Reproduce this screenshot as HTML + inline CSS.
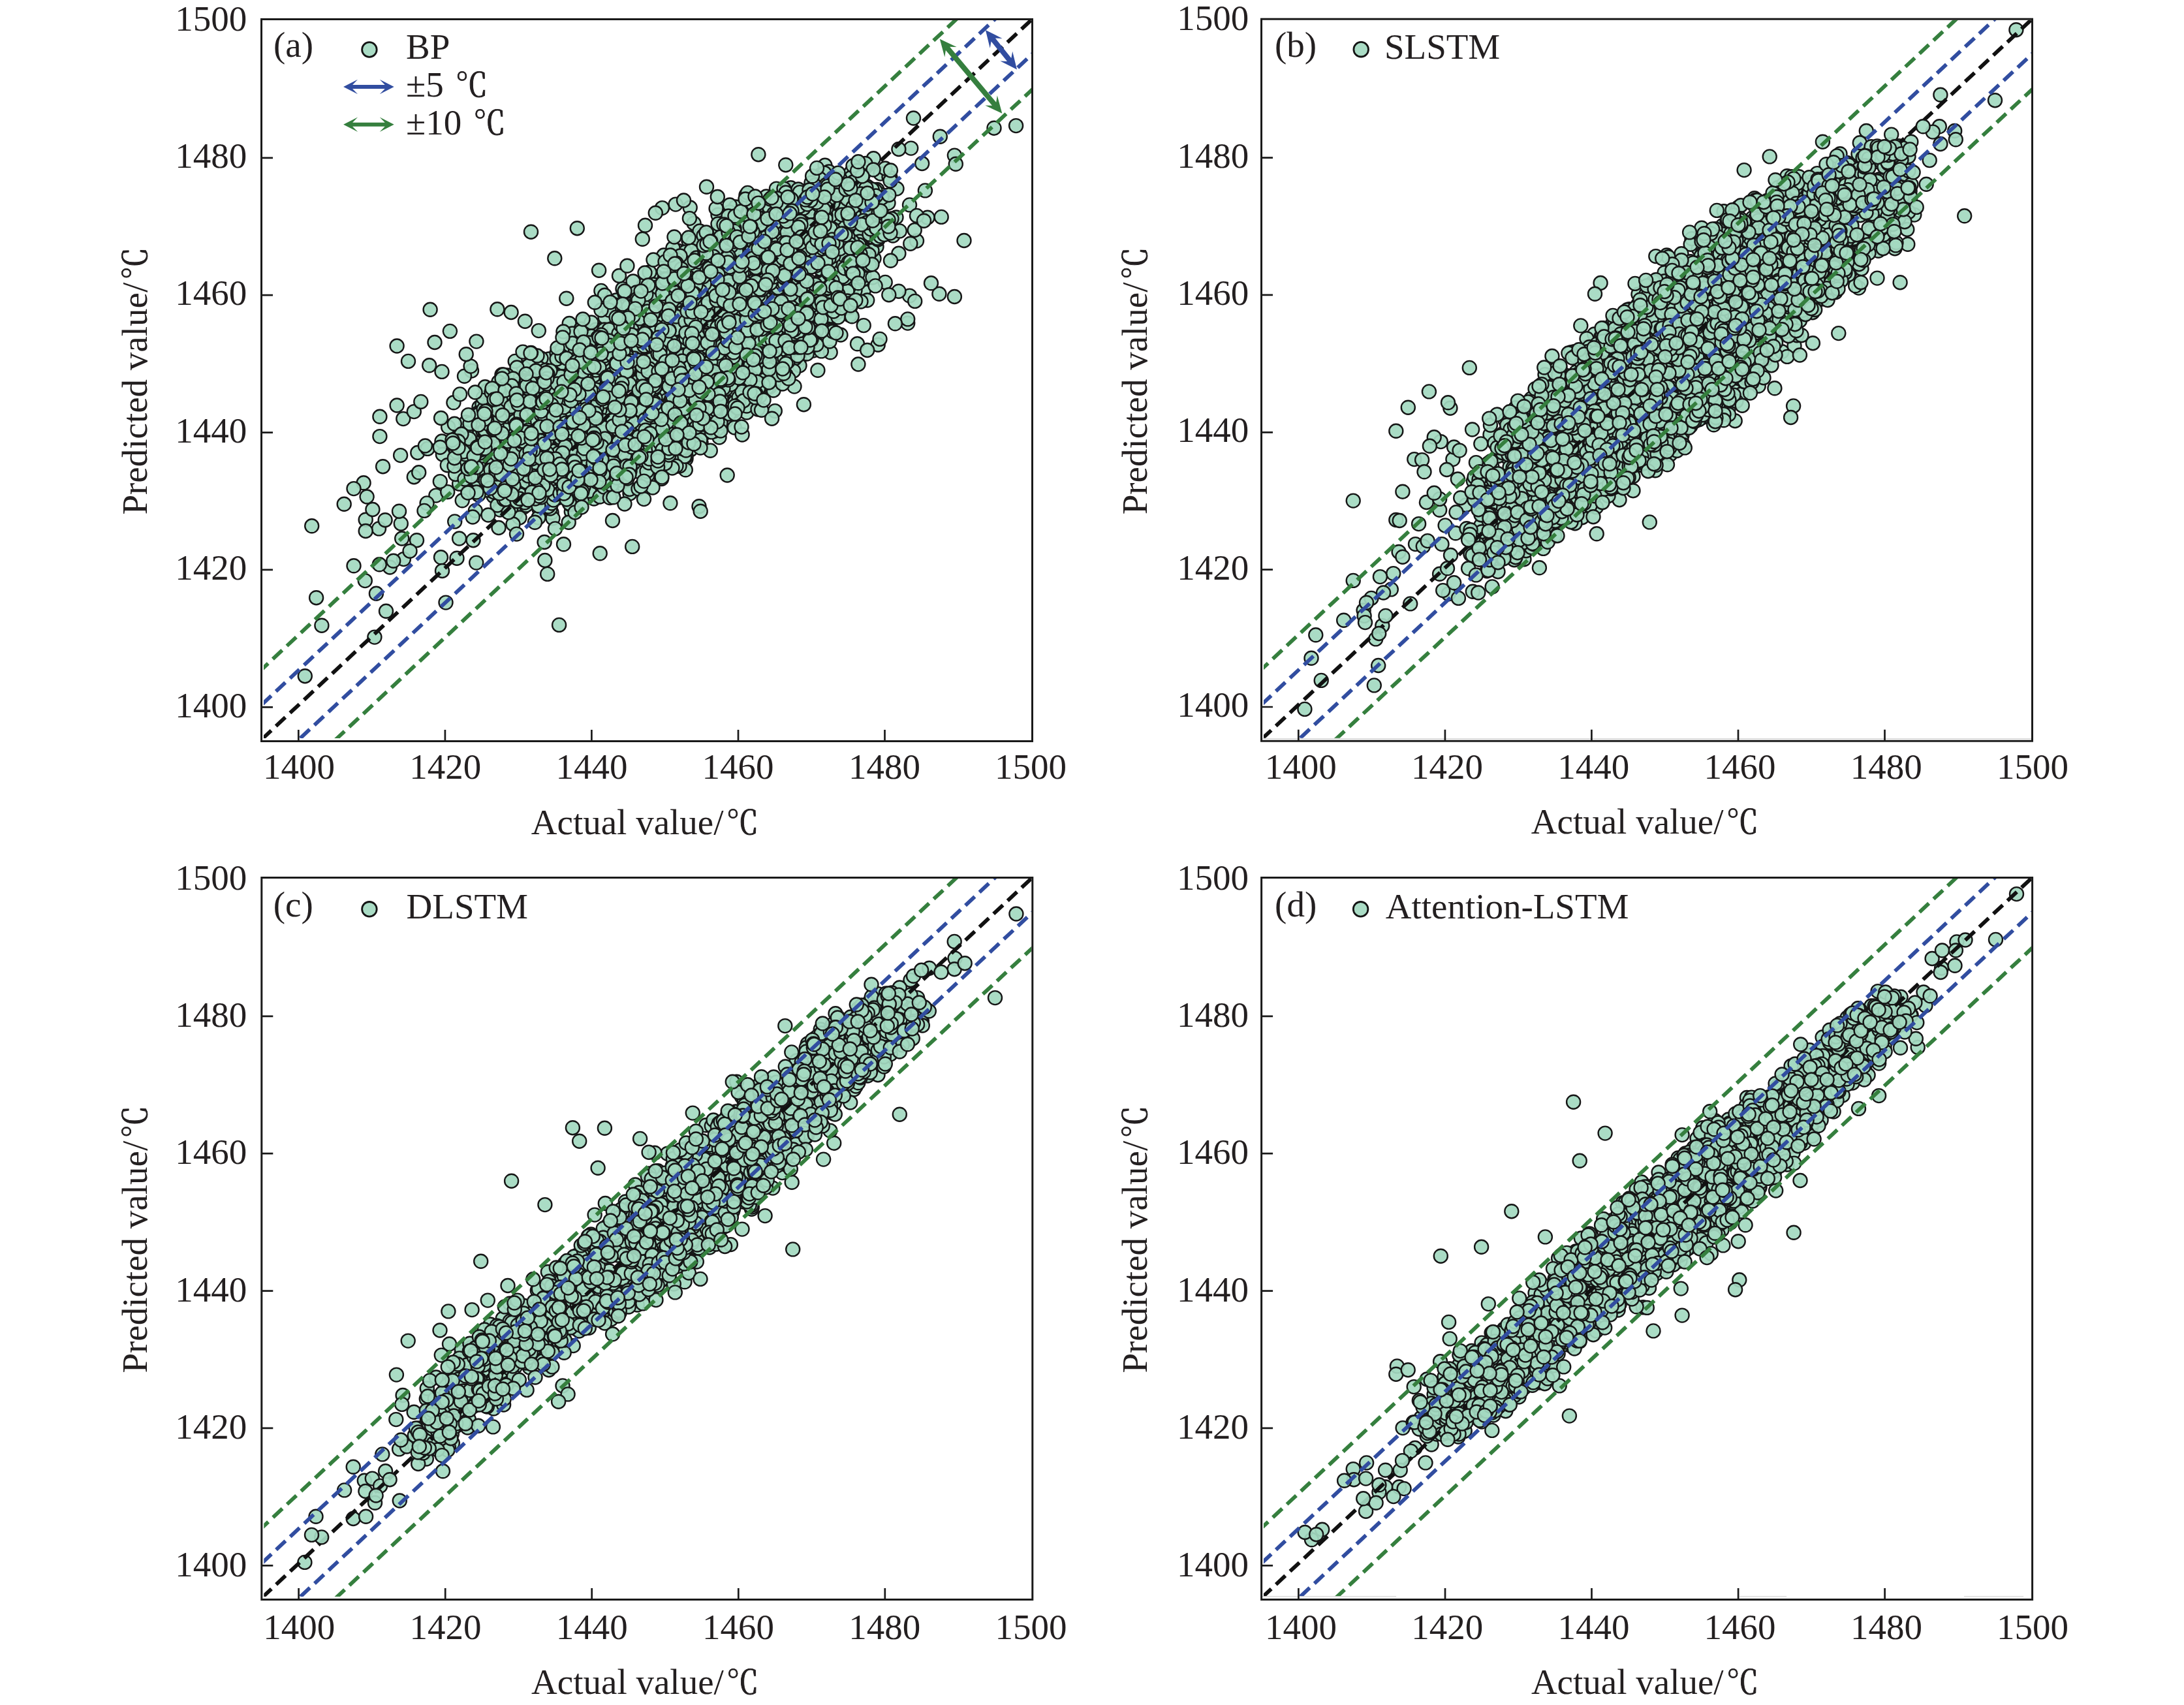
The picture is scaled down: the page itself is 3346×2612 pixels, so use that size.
<!DOCTYPE html>
<html lang="en"><head><meta charset="utf-8"><title>Predicted value vs actual value</title>
<style>html,body{margin:0;padding:0;background:#fff}svg{display:block}text{font-family:"Liberation Serif","Noto Serif CJK SC",serif;font-size:55px;fill:#231f20}.c{font-family:"Noto Serif CJK SC","Liberation Serif",serif;font-size:50px;stroke:#231f20;stroke-width:.9px}.p{fill:#a4d9c1;fill-opacity:.93;stroke:#161616;stroke-width:2.4}.ax{fill:none;stroke:#1a1a1a;stroke-width:3}.tk{stroke:#1a1a1a;stroke-width:2.7}.dl{fill:none;stroke-width:5.8;stroke-dasharray:19.7 9.8}</style></head><body>
<svg width="3346" height="2612" viewBox="0 0 3346 2612">
<rect width="3346" height="2612" fill="#fff"/>
<defs><clipPath id="cl"><rect x="404.0" y="31.0" width="1176.0" height="1100.0"/></clipPath></defs>
<g transform="translate(0,0)">
<g class="p"><circle cx="1004" cy="631" r="10.5"/><circle cx="998" cy="513" r="10.5"/><circle cx="940" cy="622" r="10.5"/><circle cx="821" cy="675" r="10.5"/><circle cx="841" cy="709" r="10.5"/><circle cx="1121" cy="513" r="10.5"/><circle cx="1068" cy="458" r="10.5"/><circle cx="1247" cy="489" r="10.5"/><circle cx="1045" cy="648" r="10.5"/><circle cx="901" cy="604" r="10.5"/><circle cx="1063" cy="342" r="10.5"/><circle cx="1018" cy="476" r="10.5"/><circle cx="1027" cy="425" r="10.5"/><circle cx="1165" cy="512" r="10.5"/><circle cx="760" cy="686" r="10.5"/><circle cx="770" cy="746" r="10.5"/><circle cx="849" cy="751" r="10.5"/><circle cx="1099" cy="390" r="10.5"/><circle cx="900" cy="593" r="10.5"/><circle cx="914" cy="711" r="10.5"/><circle cx="835" cy="584" r="10.5"/><circle cx="865" cy="629" r="10.5"/><circle cx="560.2" cy="796.2" r="10.5"/><circle cx="834" cy="591" r="10.5"/><circle cx="858" cy="715" r="10.5"/><circle cx="769" cy="574" r="10.5"/><circle cx="1046" cy="395" r="10.5"/><circle cx="1304" cy="400" r="10.5"/><circle cx="880" cy="689" r="10.5"/><circle cx="819" cy="629" r="10.5"/><circle cx="1071" cy="375" r="10.5"/><circle cx="1412.7" cy="250.5" r="10.5"/><circle cx="964" cy="572" r="10.5"/><circle cx="1119" cy="464" r="10.5"/><circle cx="1060" cy="364" r="10.5"/><circle cx="802" cy="647" r="10.5"/><circle cx="1167" cy="382" r="10.5"/><circle cx="1251" cy="278" r="10.5"/><circle cx="821" cy="669" r="10.5"/><circle cx="1263.9" cy="253.3" r="10.5"/><circle cx="1251" cy="353" r="10.5"/><circle cx="1251" cy="316" r="10.5"/><circle cx="953" cy="559" r="10.5"/><circle cx="1320" cy="330" r="10.5"/><circle cx="1302" cy="291" r="10.5"/><circle cx="755" cy="640" r="10.5"/><circle cx="1041" cy="629" r="10.5"/><circle cx="1272.2" cy="539.8" r="10.5"/><circle cx="1198" cy="308" r="10.5"/><circle cx="939" cy="502" r="10.5"/><circle cx="938" cy="714" r="10.5"/><circle cx="897" cy="711" r="10.5"/><circle cx="800" cy="634" r="10.5"/><circle cx="1243" cy="464" r="10.5"/><circle cx="1255" cy="473" r="10.5"/><circle cx="1393.5" cy="453.1" r="10.5"/><circle cx="1092" cy="447" r="10.5"/><circle cx="1018" cy="533" r="10.5"/><circle cx="1283" cy="294" r="10.5"/><circle cx="1348" cy="304" r="10.5"/><circle cx="1291" cy="474" r="10.5"/><circle cx="1006" cy="671" r="10.5"/><circle cx="1074" cy="678" r="10.5"/><circle cx="1004" cy="721" r="10.5"/><circle cx="910" cy="764" r="10.5"/><circle cx="924" cy="642" r="10.5"/><circle cx="925" cy="532" r="10.5"/><circle cx="797" cy="767" r="10.5"/><circle cx="1049" cy="664" r="10.5"/><circle cx="1141" cy="616" r="10.5"/><circle cx="1124" cy="598" r="10.5"/><circle cx="854" cy="686" r="10.5"/><circle cx="1024" cy="476" r="10.5"/><circle cx="767" cy="721" r="10.5"/><circle cx="1556.6" cy="192.6" r="10.5"/><circle cx="1134" cy="617" r="10.5"/><circle cx="1108" cy="371" r="10.5"/><circle cx="1301" cy="307" r="10.5"/><circle cx="1274" cy="393" r="10.5"/><circle cx="1017" cy="391" r="10.5"/><circle cx="1135" cy="502" r="10.5"/><circle cx="856" cy="637" r="10.5"/><circle cx="896" cy="535" r="10.5"/><circle cx="1198" cy="562" r="10.5"/><circle cx="1186" cy="532" r="10.5"/><circle cx="1165" cy="474" r="10.5"/><circle cx="836" cy="615" r="10.5"/><circle cx="752" cy="623" r="10.5"/><circle cx="1295" cy="440" r="10.5"/><circle cx="1180" cy="464" r="10.5"/><circle cx="1164" cy="317" r="10.5"/><circle cx="1053" cy="519" r="10.5"/><circle cx="1222" cy="444" r="10.5"/><circle cx="983" cy="488" r="10.5"/><circle cx="813" cy="762" r="10.5"/><circle cx="902" cy="703" r="10.5"/><circle cx="823" cy="651" r="10.5"/><circle cx="1217" cy="318" r="10.5"/><circle cx="1016" cy="671" r="10.5"/><circle cx="865" cy="687" r="10.5"/><circle cx="881" cy="658" r="10.5"/><circle cx="904" cy="518" r="10.5"/><circle cx="1182" cy="387" r="10.5"/><circle cx="1348" cy="306" r="10.5"/><circle cx="920" cy="570" r="10.5"/><circle cx="815" cy="687" r="10.5"/><circle cx="1035" cy="563" r="10.5"/><circle cx="1072" cy="457" r="10.5"/><circle cx="977" cy="484" r="10.5"/><circle cx="1176" cy="333" r="10.5"/><circle cx="807" cy="692" r="10.5"/><circle cx="1153" cy="533" r="10.5"/><circle cx="752.8" cy="643.8" r="10.5"/><circle cx="872" cy="693" r="10.5"/><circle cx="916" cy="564" r="10.5"/><circle cx="789" cy="619" r="10.5"/><circle cx="1149" cy="368" r="10.5"/><circle cx="1164" cy="519" r="10.5"/><circle cx="1152" cy="394" r="10.5"/><circle cx="907" cy="672" r="10.5"/><circle cx="738" cy="659" r="10.5"/><circle cx="1129" cy="541" r="10.5"/><circle cx="1330" cy="288" r="10.5"/><circle cx="886" cy="675" r="10.5"/><circle cx="916" cy="683" r="10.5"/><circle cx="799" cy="749" r="10.5"/><circle cx="1257" cy="373" r="10.5"/><circle cx="1211" cy="454" r="10.5"/><circle cx="1021" cy="695" r="10.5"/><circle cx="863" cy="695" r="10.5"/><circle cx="884" cy="607" r="10.5"/><circle cx="1239" cy="533" r="10.5"/><circle cx="1076" cy="643" r="10.5"/><circle cx="1113" cy="548" r="10.5"/><circle cx="1186" cy="377" r="10.5"/><circle cx="1146" cy="384" r="10.5"/><circle cx="1161" cy="499" r="10.5"/><circle cx="1172.9" cy="330.4" r="10.5"/><circle cx="1331" cy="343" r="10.5"/><circle cx="890" cy="570" r="10.5"/><circle cx="1029" cy="599" r="10.5"/><circle cx="1191" cy="375" r="10.5"/><circle cx="713" cy="734" r="10.5"/><circle cx="1284" cy="390" r="10.5"/><circle cx="1081" cy="425" r="10.5"/><circle cx="964" cy="487" r="10.5"/><circle cx="576.4" cy="909.3" r="10.5"/><circle cx="946" cy="599" r="10.5"/><circle cx="804.4" cy="492.2" r="10.5"/><circle cx="1158" cy="438" r="10.5"/><circle cx="1182" cy="533" r="10.5"/><circle cx="887" cy="512" r="10.5"/><circle cx="1025" cy="455" r="10.5"/><circle cx="757" cy="679" r="10.5"/><circle cx="983" cy="568" r="10.5"/><circle cx="1221" cy="415" r="10.5"/><circle cx="782" cy="757" r="10.5"/><circle cx="1104" cy="390" r="10.5"/><circle cx="1059" cy="514" r="10.5"/><circle cx="764" cy="728" r="10.5"/><circle cx="634.3" cy="730.7" r="10.5"/><circle cx="1026" cy="676" r="10.5"/><circle cx="1309" cy="414" r="10.5"/><circle cx="1167" cy="491" r="10.5"/><circle cx="1132" cy="549" r="10.5"/><circle cx="1312.1" cy="273.9" r="10.5"/><circle cx="837" cy="754" r="10.5"/><circle cx="722.5" cy="568" r="10.5"/><circle cx="1045" cy="454" r="10.5"/><circle cx="1067" cy="640" r="10.5"/><circle cx="818" cy="650" r="10.5"/><circle cx="1121" cy="357" r="10.5"/><circle cx="1224" cy="448" r="10.5"/><circle cx="750" cy="648" r="10.5"/><circle cx="1030" cy="437" r="10.5"/><circle cx="872.2" cy="495.5" r="10.5"/><circle cx="1046" cy="386" r="10.5"/><circle cx="1008" cy="482" r="10.5"/><circle cx="955" cy="562" r="10.5"/><circle cx="1162" cy="415" r="10.5"/><circle cx="952" cy="664" r="10.5"/><circle cx="777" cy="642" r="10.5"/><circle cx="1271" cy="399" r="10.5"/><circle cx="977" cy="722" r="10.5"/><circle cx="933" cy="522" r="10.5"/><circle cx="1051" cy="568" r="10.5"/><circle cx="1060" cy="414" r="10.5"/><circle cx="805" cy="657" r="10.5"/><circle cx="1064" cy="542" r="10.5"/><circle cx="1099" cy="630" r="10.5"/><circle cx="1291" cy="372" r="10.5"/><circle cx="1112" cy="422" r="10.5"/><circle cx="925" cy="630" r="10.5"/><circle cx="1179" cy="593" r="10.5"/><circle cx="815" cy="737" r="10.5"/><circle cx="1301" cy="403" r="10.5"/><circle cx="882" cy="739" r="10.5"/><circle cx="1004" cy="540" r="10.5"/><circle cx="837" cy="773" r="10.5"/><circle cx="1114" cy="415" r="10.5"/><circle cx="1098" cy="497" r="10.5"/><circle cx="686.7" cy="654.3" r="10.5"/><circle cx="1011" cy="578" r="10.5"/><circle cx="1129" cy="318" r="10.5"/><circle cx="1160" cy="536" r="10.5"/><circle cx="1242" cy="383" r="10.5"/><circle cx="943" cy="633" r="10.5"/><circle cx="1233" cy="409" r="10.5"/><circle cx="1269" cy="387" r="10.5"/><circle cx="979" cy="532" r="10.5"/><circle cx="1012" cy="626" r="10.5"/><circle cx="1175" cy="594" r="10.5"/><circle cx="1179" cy="399" r="10.5"/><circle cx="917" cy="505" r="10.5"/><circle cx="1087" cy="560" r="10.5"/><circle cx="1019" cy="680" r="10.5"/><circle cx="826" cy="780" r="10.5"/><circle cx="1060" cy="580" r="10.5"/><circle cx="980" cy="518" r="10.5"/><circle cx="1345.2" cy="528.2" r="10.5"/><circle cx="790" cy="787" r="10.5"/><circle cx="1106" cy="406" r="10.5"/><circle cx="904" cy="723" r="10.5"/><circle cx="784" cy="627" r="10.5"/><circle cx="1154" cy="526" r="10.5"/><circle cx="791" cy="712" r="10.5"/><circle cx="964" cy="554" r="10.5"/><circle cx="978" cy="531" r="10.5"/><circle cx="1278" cy="411" r="10.5"/><circle cx="1201" cy="519" r="10.5"/><circle cx="1080" cy="562" r="10.5"/><circle cx="910" cy="677" r="10.5"/><circle cx="892" cy="628" r="10.5"/><circle cx="879" cy="698" r="10.5"/><circle cx="1343" cy="378" r="10.5"/><circle cx="1010" cy="466" r="10.5"/><circle cx="723" cy="678" r="10.5"/><circle cx="1302" cy="483" r="10.5"/><circle cx="1066" cy="468" r="10.5"/><circle cx="823" cy="610" r="10.5"/><circle cx="850" cy="645" r="10.5"/><circle cx="1310" cy="363" r="10.5"/><circle cx="934" cy="692" r="10.5"/><circle cx="968" cy="534" r="10.5"/><circle cx="1279" cy="379" r="10.5"/><circle cx="1222" cy="501" r="10.5"/><circle cx="1082" cy="374" r="10.5"/><circle cx="746" cy="670" r="10.5"/><circle cx="788" cy="674" r="10.5"/><circle cx="1323" cy="446" r="10.5"/><circle cx="1317" cy="258" r="10.5"/><circle cx="1130" cy="609" r="10.5"/><circle cx="1035" cy="421" r="10.5"/><circle cx="1204" cy="314" r="10.5"/><circle cx="1442.2" cy="332.4" r="10.5"/><circle cx="740" cy="741" r="10.5"/><circle cx="1039" cy="406" r="10.5"/><circle cx="998" cy="694" r="10.5"/><circle cx="1133" cy="377" r="10.5"/><circle cx="1073" cy="641" r="10.5"/><circle cx="1205" cy="507" r="10.5"/><circle cx="1288.7" cy="286.3" r="10.5"/><circle cx="887" cy="619" r="10.5"/><circle cx="1282" cy="320" r="10.5"/><circle cx="934" cy="619" r="10.5"/><circle cx="1145" cy="470" r="10.5"/><circle cx="879" cy="574" r="10.5"/><circle cx="1207" cy="511" r="10.5"/><circle cx="867" cy="711" r="10.5"/><circle cx="1100" cy="484" r="10.5"/><circle cx="1027" cy="487" r="10.5"/><circle cx="863" cy="663" r="10.5"/><circle cx="850" cy="688" r="10.5"/><circle cx="1041" cy="647" r="10.5"/><circle cx="786" cy="640" r="10.5"/><circle cx="1281" cy="300" r="10.5"/><circle cx="694.9" cy="681" r="10.5"/><circle cx="1137" cy="369" r="10.5"/><circle cx="943" cy="603" r="10.5"/><circle cx="1222.6" cy="542" r="10.5"/><circle cx="864" cy="716" r="10.5"/><circle cx="1000" cy="657" r="10.5"/><circle cx="1077" cy="441" r="10.5"/><circle cx="1029" cy="630" r="10.5"/><circle cx="827" cy="613" r="10.5"/><circle cx="1078" cy="567" r="10.5"/><circle cx="1112" cy="645" r="10.5"/><circle cx="1188" cy="388" r="10.5"/><circle cx="857" cy="658" r="10.5"/><circle cx="1349" cy="266" r="10.5"/><circle cx="1140" cy="500" r="10.5"/><circle cx="929" cy="678" r="10.5"/><circle cx="1063" cy="564" r="10.5"/><circle cx="1026.9" cy="693.6" r="10.5"/><circle cx="758" cy="664" r="10.5"/><circle cx="982" cy="587" r="10.5"/><circle cx="1301" cy="412" r="10.5"/><circle cx="1059" cy="416" r="10.5"/><circle cx="1154" cy="328" r="10.5"/><circle cx="1291" cy="426" r="10.5"/><circle cx="1311" cy="366" r="10.5"/><circle cx="867" cy="708" r="10.5"/><circle cx="1198" cy="474" r="10.5"/><circle cx="1091" cy="511" r="10.5"/><circle cx="1049" cy="550" r="10.5"/><circle cx="784" cy="709" r="10.5"/><circle cx="821" cy="633" r="10.5"/><circle cx="824" cy="582" r="10.5"/><circle cx="1225" cy="426" r="10.5"/><circle cx="985" cy="472" r="10.5"/><circle cx="1260" cy="425" r="10.5"/><circle cx="1044" cy="414" r="10.5"/><circle cx="1137" cy="557" r="10.5"/><circle cx="1164" cy="503" r="10.5"/><circle cx="1158" cy="441" r="10.5"/><circle cx="1122" cy="451" r="10.5"/><circle cx="1028" cy="435" r="10.5"/><circle cx="1007" cy="571" r="10.5"/><circle cx="876" cy="728" r="10.5"/><circle cx="1313.5" cy="526.8" r="10.5"/><circle cx="845" cy="718" r="10.5"/><circle cx="1206" cy="365" r="10.5"/><circle cx="1075" cy="377" r="10.5"/><circle cx="743.2" cy="664.5" r="10.5"/><circle cx="893" cy="643" r="10.5"/><circle cx="991" cy="643" r="10.5"/><circle cx="951" cy="674" r="10.5"/><circle cx="1129" cy="511" r="10.5"/><circle cx="1260" cy="365" r="10.5"/><circle cx="843" cy="729" r="10.5"/><circle cx="1262" cy="378" r="10.5"/><circle cx="849" cy="711" r="10.5"/><circle cx="1036" cy="656" r="10.5"/><circle cx="827" cy="699" r="10.5"/><circle cx="781" cy="629" r="10.5"/><circle cx="1135" cy="555" r="10.5"/><circle cx="675.6" cy="640.5" r="10.5"/><circle cx="971" cy="524" r="10.5"/><circle cx="1197" cy="438" r="10.5"/><circle cx="1244" cy="306" r="10.5"/><circle cx="1158" cy="368" r="10.5"/><circle cx="996.5" cy="682.6" r="10.5"/><circle cx="1165" cy="539" r="10.5"/><circle cx="734" cy="741" r="10.5"/><circle cx="1252.9" cy="567.3" r="10.5"/><circle cx="1135" cy="570" r="10.5"/><circle cx="1269" cy="457" r="10.5"/><circle cx="1168" cy="504" r="10.5"/><circle cx="1105" cy="642" r="10.5"/><circle cx="1014.5" cy="318.6" r="10.5"/><circle cx="1040" cy="697" r="10.5"/><circle cx="1306" cy="314" r="10.5"/><circle cx="803" cy="705" r="10.5"/><circle cx="1048" cy="692" r="10.5"/><circle cx="1193" cy="435" r="10.5"/><circle cx="959" cy="625" r="10.5"/><circle cx="1028" cy="619" r="10.5"/><circle cx="913" cy="664" r="10.5"/><circle cx="1046" cy="549" r="10.5"/><circle cx="924" cy="721" r="10.5"/><circle cx="1222.6" cy="557.1" r="10.5"/><circle cx="802" cy="777" r="10.5"/><circle cx="880" cy="515" r="10.5"/><circle cx="580.5" cy="809.9" r="10.5"/><circle cx="1083" cy="468" r="10.5"/><circle cx="1030" cy="600" r="10.5"/><circle cx="923" cy="598" r="10.5"/><circle cx="1125" cy="585" r="10.5"/><circle cx="1083" cy="581" r="10.5"/><circle cx="1319" cy="293" r="10.5"/><circle cx="1062" cy="650" r="10.5"/><circle cx="1072" cy="457" r="10.5"/><circle cx="982" cy="493" r="10.5"/><circle cx="1132" cy="604" r="10.5"/><circle cx="1126" cy="391" r="10.5"/><circle cx="1214" cy="478" r="10.5"/><circle cx="945" cy="654" r="10.5"/><circle cx="993" cy="531" r="10.5"/><circle cx="1023" cy="549" r="10.5"/><circle cx="938" cy="625" r="10.5"/><circle cx="1208" cy="473" r="10.5"/><circle cx="1348" cy="360" r="10.5"/><circle cx="581.9" cy="668.6" r="10.5"/><circle cx="828" cy="705" r="10.5"/><circle cx="1020" cy="474" r="10.5"/><circle cx="1038" cy="384" r="10.5"/><circle cx="1220" cy="397" r="10.5"/><circle cx="1164" cy="520" r="10.5"/><circle cx="749" cy="708" r="10.5"/><circle cx="1058" cy="501" r="10.5"/><circle cx="1199" cy="458" r="10.5"/><circle cx="1183" cy="429" r="10.5"/><circle cx="1173" cy="406" r="10.5"/><circle cx="1041" cy="529" r="10.5"/><circle cx="949.5" cy="735.7" r="10.5"/><circle cx="885" cy="549" r="10.5"/><circle cx="1302" cy="351" r="10.5"/><circle cx="1393.5" cy="313.9" r="10.5"/><circle cx="1261" cy="331" r="10.5"/><circle cx="1126" cy="394" r="10.5"/><circle cx="1109" cy="621" r="10.5"/><circle cx="759" cy="617" r="10.5"/><circle cx="1066" cy="457" r="10.5"/><circle cx="1281" cy="327" r="10.5"/><circle cx="1151" cy="382" r="10.5"/><circle cx="1027" cy="518" r="10.5"/><circle cx="1187" cy="494" r="10.5"/><circle cx="833" cy="581" r="10.5"/><circle cx="1065" cy="397" r="10.5"/><circle cx="1225" cy="549" r="10.5"/><circle cx="861" cy="653" r="10.5"/><circle cx="872" cy="660" r="10.5"/><circle cx="880" cy="741" r="10.5"/><circle cx="1417.4" cy="291.9" r="10.5"/><circle cx="1104" cy="391" r="10.5"/><circle cx="1047" cy="659" r="10.5"/><circle cx="726" cy="747" r="10.5"/><circle cx="1176" cy="325" r="10.5"/><circle cx="1291" cy="404" r="10.5"/><circle cx="841" cy="550" r="10.5"/><circle cx="1161" cy="593" r="10.5"/><circle cx="856.6" cy="957.4" r="10.5"/><circle cx="995" cy="534" r="10.5"/><circle cx="1087" cy="360" r="10.5"/><circle cx="803" cy="605" r="10.5"/><circle cx="1229" cy="421" r="10.5"/><circle cx="878" cy="692" r="10.5"/><circle cx="1133" cy="596" r="10.5"/><circle cx="989" cy="479" r="10.5"/><circle cx="1404.5" cy="369" r="10.5"/><circle cx="1249" cy="309" r="10.5"/><circle cx="872" cy="737" r="10.5"/><circle cx="1265" cy="439" r="10.5"/><circle cx="1022" cy="526" r="10.5"/><circle cx="1118" cy="419" r="10.5"/><circle cx="976" cy="637" r="10.5"/><circle cx="613.6" cy="697.6" r="10.5"/><circle cx="1253" cy="302" r="10.5"/><circle cx="1249" cy="524" r="10.5"/><circle cx="1082" cy="638" r="10.5"/><circle cx="711" cy="704" r="10.5"/><circle cx="747" cy="735" r="10.5"/><circle cx="729" cy="653" r="10.5"/><circle cx="1364" cy="272" r="10.5"/><circle cx="944" cy="460" r="10.5"/><circle cx="1234" cy="476" r="10.5"/><circle cx="1203.3" cy="305.6" r="10.5"/><circle cx="1022" cy="611" r="10.5"/><circle cx="1097" cy="636" r="10.5"/><circle cx="1195" cy="474" r="10.5"/><circle cx="1087.5" cy="652.2" r="10.5"/><circle cx="982" cy="503" r="10.5"/><circle cx="1205" cy="447" r="10.5"/><circle cx="1047" cy="416" r="10.5"/><circle cx="1101" cy="577" r="10.5"/><circle cx="1153" cy="321" r="10.5"/><circle cx="726" cy="724" r="10.5"/><circle cx="1279" cy="464" r="10.5"/><circle cx="721" cy="727" r="10.5"/><circle cx="728" cy="671" r="10.5"/><circle cx="1056" cy="455" r="10.5"/><circle cx="1351" cy="311" r="10.5"/><circle cx="1523" cy="196.2" r="10.5"/><circle cx="953" cy="588" r="10.5"/><circle cx="1172" cy="366" r="10.5"/><circle cx="1067" cy="405" r="10.5"/><circle cx="1057" cy="527" r="10.5"/><circle cx="834" cy="747" r="10.5"/><circle cx="1058" cy="383" r="10.5"/><circle cx="853" cy="541" r="10.5"/><circle cx="1132" cy="498" r="10.5"/><circle cx="1128" cy="444" r="10.5"/><circle cx="1062" cy="418" r="10.5"/><circle cx="1209" cy="334" r="10.5"/><circle cx="717" cy="733" r="10.5"/><circle cx="978" cy="592" r="10.5"/><circle cx="965" cy="722" r="10.5"/><circle cx="808" cy="613" r="10.5"/><circle cx="1202" cy="514" r="10.5"/><circle cx="1356.2" cy="432.4" r="10.5"/><circle cx="788" cy="728" r="10.5"/><circle cx="1302" cy="307" r="10.5"/><circle cx="998" cy="504" r="10.5"/><circle cx="1275" cy="344" r="10.5"/><circle cx="862" cy="687" r="10.5"/><circle cx="747" cy="649" r="10.5"/><circle cx="911" cy="535" r="10.5"/><circle cx="789" cy="710" r="10.5"/><circle cx="1193" cy="470" r="10.5"/><circle cx="924" cy="639" r="10.5"/><circle cx="1189" cy="527" r="10.5"/><circle cx="839" cy="669" r="10.5"/><circle cx="1033" cy="410" r="10.5"/><circle cx="1080" cy="542" r="10.5"/><circle cx="1237" cy="522" r="10.5"/><circle cx="1268" cy="495" r="10.5"/><circle cx="1055" cy="369" r="10.5"/><circle cx="1139" cy="430" r="10.5"/><circle cx="833" cy="635" r="10.5"/><circle cx="919" cy="651" r="10.5"/><circle cx="1088.3" cy="690.3" r="10.5"/><circle cx="1152" cy="380" r="10.5"/><circle cx="977" cy="621" r="10.5"/><circle cx="968" cy="662" r="10.5"/><circle cx="1062" cy="371" r="10.5"/><circle cx="755" cy="634" r="10.5"/><circle cx="818" cy="644" r="10.5"/><circle cx="1145" cy="549" r="10.5"/><circle cx="818" cy="770" r="10.5"/><circle cx="1238" cy="383" r="10.5"/><circle cx="1215" cy="354" r="10.5"/><circle cx="996" cy="634" r="10.5"/><circle cx="988" cy="622" r="10.5"/><circle cx="1283.2" cy="476.5" r="10.5"/><circle cx="1335.6" cy="402.1" r="10.5"/><circle cx="1257" cy="268" r="10.5"/><circle cx="845.1" cy="785.2" r="10.5"/><circle cx="1256" cy="332" r="10.5"/><circle cx="879" cy="609" r="10.5"/><circle cx="962" cy="553" r="10.5"/><circle cx="1313" cy="260" r="10.5"/><circle cx="1254" cy="432" r="10.5"/><circle cx="765" cy="780" r="10.5"/><circle cx="1225" cy="409" r="10.5"/><circle cx="1142" cy="344" r="10.5"/><circle cx="796" cy="793" r="10.5"/><circle cx="1177" cy="361" r="10.5"/><circle cx="1192" cy="519" r="10.5"/><circle cx="1058" cy="420" r="10.5"/><circle cx="994" cy="598" r="10.5"/><circle cx="1133" cy="536" r="10.5"/><circle cx="1112" cy="436" r="10.5"/><circle cx="1009" cy="712" r="10.5"/><circle cx="700" cy="855.2" r="10.5"/><circle cx="798" cy="689" r="10.5"/><circle cx="1244" cy="303" r="10.5"/><circle cx="1200" cy="480" r="10.5"/><circle cx="918" cy="607" r="10.5"/><circle cx="1394.8" cy="373.2" r="10.5"/><circle cx="705" cy="671" r="10.5"/><circle cx="1017" cy="607" r="10.5"/><circle cx="1016" cy="494" r="10.5"/><circle cx="667.9" cy="759.1" r="10.5"/><circle cx="940" cy="584" r="10.5"/><circle cx="1028" cy="503" r="10.5"/><circle cx="1203" cy="490" r="10.5"/><circle cx="1000" cy="671" r="10.5"/><circle cx="1035.1" cy="714.3" r="10.5"/><circle cx="1011" cy="452" r="10.5"/><circle cx="814" cy="643" r="10.5"/><circle cx="926" cy="682" r="10.5"/><circle cx="871" cy="685" r="10.5"/><circle cx="834" cy="586" r="10.5"/><circle cx="949" cy="671" r="10.5"/><circle cx="1186" cy="586" r="10.5"/><circle cx="1314.9" cy="558" r="10.5"/><circle cx="766" cy="781" r="10.5"/><circle cx="867" cy="551" r="10.5"/><circle cx="1161" cy="507" r="10.5"/><circle cx="1242" cy="312" r="10.5"/><circle cx="980" cy="576" r="10.5"/><circle cx="1139" cy="407" r="10.5"/><circle cx="831" cy="698" r="10.5"/><circle cx="781" cy="623" r="10.5"/><circle cx="1234" cy="398" r="10.5"/><circle cx="1143" cy="299" r="10.5"/><circle cx="1157" cy="495" r="10.5"/><circle cx="955" cy="517" r="10.5"/><circle cx="826" cy="569" r="10.5"/><circle cx="1174" cy="301" r="10.5"/><circle cx="996" cy="621" r="10.5"/><circle cx="924" cy="611" r="10.5"/><circle cx="975" cy="662" r="10.5"/><circle cx="841" cy="677" r="10.5"/><circle cx="1020" cy="478" r="10.5"/><circle cx="1315" cy="329" r="10.5"/><circle cx="1077" cy="532" r="10.5"/><circle cx="1139" cy="570" r="10.5"/><circle cx="1050" cy="549" r="10.5"/><circle cx="867" cy="580" r="10.5"/><circle cx="824" cy="675" r="10.5"/><circle cx="1066" cy="679" r="10.5"/><circle cx="1281" cy="340" r="10.5"/><circle cx="1105" cy="582" r="10.5"/><circle cx="1198" cy="391" r="10.5"/><circle cx="929" cy="678" r="10.5"/><circle cx="492.9" cy="958.2" r="10.5"/><circle cx="1016" cy="661" r="10.5"/><circle cx="1021" cy="435" r="10.5"/><circle cx="862" cy="566" r="10.5"/><circle cx="824" cy="714" r="10.5"/><circle cx="909" cy="602" r="10.5"/><circle cx="1103" cy="654" r="10.5"/><circle cx="850" cy="624" r="10.5"/><circle cx="1139" cy="614" r="10.5"/><circle cx="703.2" cy="687.9" r="10.5"/><circle cx="1063" cy="414" r="10.5"/><circle cx="1052" cy="415" r="10.5"/><circle cx="1132" cy="608" r="10.5"/><circle cx="1036" cy="580" r="10.5"/><circle cx="1149" cy="448" r="10.5"/><circle cx="1028" cy="506" r="10.5"/><circle cx="1245" cy="338" r="10.5"/><circle cx="836" cy="758" r="10.5"/><circle cx="827" cy="657" r="10.5"/><circle cx="1116" cy="353" r="10.5"/><circle cx="772" cy="639" r="10.5"/><circle cx="1209" cy="403" r="10.5"/><circle cx="1168" cy="440" r="10.5"/><circle cx="1236" cy="381" r="10.5"/><circle cx="729" cy="679" r="10.5"/><circle cx="1166" cy="600" r="10.5"/><circle cx="695" cy="682" r="10.5"/><circle cx="916" cy="717" r="10.5"/><circle cx="1226" cy="502" r="10.5"/><circle cx="1074" cy="409" r="10.5"/><circle cx="978" cy="484" r="10.5"/><circle cx="849.8" cy="395.8" r="10.5"/><circle cx="768" cy="686" r="10.5"/><circle cx="1035" cy="493" r="10.5"/><circle cx="1172" cy="438" r="10.5"/><circle cx="1088" cy="592" r="10.5"/><circle cx="847" cy="691" r="10.5"/><circle cx="1248" cy="404" r="10.5"/><circle cx="965" cy="756" r="10.5"/><circle cx="1272" cy="402" r="10.5"/><circle cx="913" cy="537" r="10.5"/><circle cx="883" cy="695" r="10.5"/><circle cx="813.5" cy="355.2" r="10.5"/><circle cx="1149" cy="581" r="10.5"/><circle cx="931" cy="594" r="10.5"/><circle cx="1032" cy="428" r="10.5"/><circle cx="1236.3" cy="291.9" r="10.5"/><circle cx="954" cy="442.6" r="10.5"/><circle cx="1004" cy="646" r="10.5"/><circle cx="1093" cy="641.2" r="10.5"/><circle cx="1043" cy="670" r="10.5"/><circle cx="1051" cy="456" r="10.5"/><circle cx="1050" cy="386" r="10.5"/><circle cx="1121" cy="483" r="10.5"/><circle cx="890" cy="655" r="10.5"/><circle cx="994" cy="705" r="10.5"/><circle cx="953" cy="620" r="10.5"/><circle cx="999" cy="569" r="10.5"/><circle cx="1346" cy="348" r="10.5"/><circle cx="1177" cy="335" r="10.5"/><circle cx="1205" cy="440" r="10.5"/><circle cx="1122" cy="371" r="10.5"/><circle cx="1093" cy="454" r="10.5"/><circle cx="736.5" cy="753.6" r="10.5"/><circle cx="996" cy="459" r="10.5"/><circle cx="832" cy="640" r="10.5"/><circle cx="1207" cy="313" r="10.5"/><circle cx="913" cy="740" r="10.5"/><circle cx="557.1" cy="739.8" r="10.5"/><circle cx="1092" cy="483" r="10.5"/><circle cx="1150" cy="411" r="10.5"/><circle cx="1124" cy="360" r="10.5"/><circle cx="884" cy="660" r="10.5"/><circle cx="1214" cy="390" r="10.5"/><circle cx="1115" cy="374" r="10.5"/><circle cx="1293" cy="344" r="10.5"/><circle cx="1247" cy="317" r="10.5"/><circle cx="1122" cy="472" r="10.5"/><circle cx="920.9" cy="445.4" r="10.5"/><circle cx="1296" cy="379" r="10.5"/><circle cx="1253" cy="334" r="10.5"/><circle cx="1200" cy="351" r="10.5"/><circle cx="950" cy="579" r="10.5"/><circle cx="893" cy="757" r="10.5"/><circle cx="998" cy="609" r="10.5"/><circle cx="721.1" cy="699" r="10.5"/><circle cx="1184" cy="482" r="10.5"/><circle cx="815" cy="609" r="10.5"/><circle cx="806" cy="629" r="10.5"/><circle cx="1207" cy="400" r="10.5"/><circle cx="998" cy="575" r="10.5"/><circle cx="707" cy="678" r="10.5"/><circle cx="1196" cy="554" r="10.5"/><circle cx="1304" cy="264" r="10.5"/><circle cx="1067" cy="491" r="10.5"/><circle cx="1260" cy="353" r="10.5"/><circle cx="1051" cy="703" r="10.5"/><circle cx="1133" cy="575" r="10.5"/><circle cx="1203.8" cy="252.7" r="10.5"/><circle cx="973" cy="613" r="10.5"/><circle cx="836" cy="602" r="10.5"/><circle cx="1078" cy="645" r="10.5"/><circle cx="1275" cy="506" r="10.5"/><circle cx="1303" cy="328" r="10.5"/><circle cx="1073" cy="621" r="10.5"/><circle cx="838" cy="747" r="10.5"/><circle cx="1222" cy="547" r="10.5"/><circle cx="827" cy="738" r="10.5"/><circle cx="967" cy="646" r="10.5"/><circle cx="839" cy="742" r="10.5"/><circle cx="1073" cy="479" r="10.5"/><circle cx="841" cy="754" r="10.5"/><circle cx="1152" cy="428" r="10.5"/><circle cx="1269" cy="486" r="10.5"/><circle cx="1010" cy="649" r="10.5"/><circle cx="1336" cy="394" r="10.5"/><circle cx="805" cy="762" r="10.5"/><circle cx="841" cy="592" r="10.5"/><circle cx="1002" cy="683" r="10.5"/><circle cx="1070" cy="461" r="10.5"/><circle cx="1332" cy="326" r="10.5"/><circle cx="1149" cy="338" r="10.5"/><circle cx="847" cy="794" r="10.5"/><circle cx="859" cy="674" r="10.5"/><circle cx="1212" cy="343" r="10.5"/><circle cx="1326" cy="334" r="10.5"/><circle cx="1111" cy="597" r="10.5"/><circle cx="714" cy="647" r="10.5"/><circle cx="748" cy="712" r="10.5"/><circle cx="1041" cy="502" r="10.5"/><circle cx="1034" cy="489" r="10.5"/><circle cx="1191" cy="513" r="10.5"/><circle cx="1326" cy="383" r="10.5"/><circle cx="1247" cy="348" r="10.5"/><circle cx="1157" cy="480" r="10.5"/><circle cx="869" cy="635" r="10.5"/><circle cx="1072" cy="587" r="10.5"/><circle cx="968" cy="509" r="10.5"/><circle cx="829" cy="577" r="10.5"/><circle cx="1131" cy="401" r="10.5"/><circle cx="924" cy="655" r="10.5"/><circle cx="966" cy="539" r="10.5"/><circle cx="913" cy="683" r="10.5"/><circle cx="1021" cy="537" r="10.5"/><circle cx="1301" cy="471" r="10.5"/><circle cx="732" cy="728" r="10.5"/><circle cx="734" cy="624" r="10.5"/><circle cx="1109" cy="486" r="10.5"/><circle cx="1041" cy="538" r="10.5"/><circle cx="677" cy="676" r="10.5"/><circle cx="1224" cy="309" r="10.5"/><circle cx="1063" cy="577" r="10.5"/><circle cx="1250" cy="350" r="10.5"/><circle cx="639.8" cy="693.5" r="10.5"/><circle cx="862" cy="650" r="10.5"/><circle cx="841" cy="672" r="10.5"/><circle cx="1297" cy="458" r="10.5"/><circle cx="1125.3" cy="655" r="10.5"/><circle cx="1234" cy="470" r="10.5"/><circle cx="876" cy="558" r="10.5"/><circle cx="973" cy="477" r="10.5"/><circle cx="1127" cy="317" r="10.5"/><circle cx="1050" cy="629" r="10.5"/><circle cx="591.5" cy="936.3" r="10.5"/><circle cx="1329" cy="290" r="10.5"/><circle cx="1078" cy="637" r="10.5"/><circle cx="1157" cy="494" r="10.5"/><circle cx="936" cy="719" r="10.5"/><circle cx="1247" cy="457" r="10.5"/><circle cx="1050" cy="490" r="10.5"/><circle cx="943" cy="627" r="10.5"/><circle cx="1117" cy="582" r="10.5"/><circle cx="1247" cy="437" r="10.5"/><circle cx="902" cy="546" r="10.5"/><circle cx="1097" cy="438" r="10.5"/><circle cx="870" cy="749" r="10.5"/><circle cx="1071" cy="420" r="10.5"/><circle cx="889" cy="706" r="10.5"/><circle cx="797" cy="767" r="10.5"/><circle cx="1304" cy="459" r="10.5"/><circle cx="883" cy="570" r="10.5"/><circle cx="711" cy="709" r="10.5"/><circle cx="960" cy="467" r="10.5"/><circle cx="902" cy="734" r="10.5"/><circle cx="1115" cy="564" r="10.5"/><circle cx="1225" cy="560" r="10.5"/><circle cx="1221" cy="305" r="10.5"/><circle cx="1180" cy="383" r="10.5"/><circle cx="912" cy="708" r="10.5"/><circle cx="1144" cy="480" r="10.5"/><circle cx="898" cy="754" r="10.5"/><circle cx="1226" cy="296" r="10.5"/><circle cx="1114" cy="390" r="10.5"/><circle cx="1157" cy="411" r="10.5"/><circle cx="952" cy="505" r="10.5"/><circle cx="1248" cy="319" r="10.5"/><circle cx="1213" cy="449" r="10.5"/><circle cx="957" cy="494" r="10.5"/><circle cx="764" cy="710" r="10.5"/><circle cx="1142" cy="443" r="10.5"/><circle cx="734" cy="688" r="10.5"/><circle cx="1328.7" cy="536.5" r="10.5"/><circle cx="1216" cy="316" r="10.5"/><circle cx="1239" cy="516" r="10.5"/><circle cx="1246" cy="537" r="10.5"/><circle cx="785" cy="659" r="10.5"/><circle cx="678.4" cy="696.2" r="10.5"/><circle cx="1094" cy="546" r="10.5"/><circle cx="797" cy="611" r="10.5"/><circle cx="1352" cy="317" r="10.5"/><circle cx="1234" cy="481" r="10.5"/><circle cx="721" cy="648" r="10.5"/><circle cx="933" cy="696" r="10.5"/><circle cx="1202" cy="434" r="10.5"/><circle cx="1314" cy="352" r="10.5"/><circle cx="711.5" cy="576.3" r="10.5"/><circle cx="1036" cy="591" r="10.5"/><circle cx="1023" cy="455" r="10.5"/><circle cx="1010" cy="698" r="10.5"/><circle cx="1014" cy="668" r="10.5"/><circle cx="961" cy="685" r="10.5"/><circle cx="1248" cy="302" r="10.5"/><circle cx="957" cy="581" r="10.5"/><circle cx="747" cy="618" r="10.5"/><circle cx="951" cy="636" r="10.5"/><circle cx="1046" cy="475" r="10.5"/><circle cx="1095" cy="581" r="10.5"/><circle cx="808" cy="698" r="10.5"/><circle cx="944" cy="581" r="10.5"/><circle cx="757" cy="691" r="10.5"/><circle cx="916" cy="527" r="10.5"/><circle cx="855" cy="758" r="10.5"/><circle cx="1009" cy="482" r="10.5"/><circle cx="1257" cy="412" r="10.5"/><circle cx="993.8" cy="668.8" r="10.5"/><circle cx="823" cy="614" r="10.5"/><circle cx="1163" cy="449" r="10.5"/><circle cx="873" cy="537" r="10.5"/><circle cx="1002" cy="564" r="10.5"/><circle cx="1289" cy="339" r="10.5"/><circle cx="1049" cy="478" r="10.5"/><circle cx="1017" cy="676" r="10.5"/><circle cx="864" cy="567" r="10.5"/><circle cx="802" cy="563" r="10.5"/><circle cx="1132" cy="380" r="10.5"/><circle cx="939" cy="543" r="10.5"/><circle cx="1313" cy="388" r="10.5"/><circle cx="1050" cy="683" r="10.5"/><circle cx="1304" cy="272" r="10.5"/><circle cx="827" cy="719" r="10.5"/><circle cx="1129" cy="429" r="10.5"/><circle cx="984" cy="531" r="10.5"/><circle cx="1070" cy="487" r="10.5"/><circle cx="1001" cy="719" r="10.5"/><circle cx="898" cy="706" r="10.5"/><circle cx="1197" cy="450" r="10.5"/><circle cx="1153" cy="563" r="10.5"/><circle cx="1221" cy="414" r="10.5"/><circle cx="1017" cy="556" r="10.5"/><circle cx="1199" cy="482" r="10.5"/><circle cx="1360" cy="355" r="10.5"/><circle cx="1339" cy="297" r="10.5"/><circle cx="848" cy="629" r="10.5"/><circle cx="882" cy="579" r="10.5"/><circle cx="1166" cy="575" r="10.5"/><circle cx="923" cy="575" r="10.5"/><circle cx="1145" cy="456" r="10.5"/><circle cx="1276" cy="300" r="10.5"/><circle cx="1102" cy="670" r="10.5"/><circle cx="886" cy="711" r="10.5"/><circle cx="1145" cy="419" r="10.5"/><circle cx="784" cy="770" r="10.5"/><circle cx="991" cy="496" r="10.5"/><circle cx="1295" cy="337" r="10.5"/><circle cx="1102" cy="453" r="10.5"/><circle cx="1063" cy="667" r="10.5"/><circle cx="847" cy="641" r="10.5"/><circle cx="744" cy="704" r="10.5"/><circle cx="1217" cy="400" r="10.5"/><circle cx="952" cy="648" r="10.5"/><circle cx="1304" cy="440" r="10.5"/><circle cx="842" cy="733" r="10.5"/><circle cx="827" cy="756" r="10.5"/><circle cx="1070" cy="648" r="10.5"/><circle cx="1132" cy="443" r="10.5"/><circle cx="1197" cy="347" r="10.5"/><circle cx="895" cy="707" r="10.5"/><circle cx="957" cy="450" r="10.5"/><circle cx="1245" cy="282" r="10.5"/><circle cx="1242" cy="454" r="10.5"/><circle cx="939" cy="584" r="10.5"/><circle cx="1304" cy="375" r="10.5"/><circle cx="1196" cy="425" r="10.5"/><circle cx="1336" cy="363" r="10.5"/><circle cx="1153" cy="451" r="10.5"/><circle cx="941" cy="602" r="10.5"/><circle cx="1011" cy="488" r="10.5"/><circle cx="746" cy="611" r="10.5"/><circle cx="963" cy="571" r="10.5"/><circle cx="1137" cy="575" r="10.5"/><circle cx="1136" cy="416" r="10.5"/><circle cx="1026" cy="658" r="10.5"/><circle cx="1277" cy="459" r="10.5"/><circle cx="891" cy="754" r="10.5"/><circle cx="993" cy="549" r="10.5"/><circle cx="1176" cy="389" r="10.5"/><circle cx="962" cy="695" r="10.5"/><circle cx="913" cy="518" r="10.5"/><circle cx="839.6" cy="765.9" r="10.5"/><circle cx="1172.9" cy="555.8" r="10.5"/><circle cx="1095" cy="632" r="10.5"/><circle cx="952" cy="504" r="10.5"/><circle cx="969" cy="585" r="10.5"/><circle cx="946" cy="697" r="10.5"/><circle cx="945" cy="685" r="10.5"/><circle cx="843" cy="779" r="10.5"/><circle cx="1212" cy="503" r="10.5"/><circle cx="913" cy="505" r="10.5"/><circle cx="886" cy="543" r="10.5"/><circle cx="1271" cy="420" r="10.5"/><circle cx="1218" cy="458" r="10.5"/><circle cx="911" cy="583" r="10.5"/><circle cx="694.9" cy="616.8" r="10.5"/><circle cx="1086" cy="401" r="10.5"/><circle cx="1104" cy="461" r="10.5"/><circle cx="948" cy="495" r="10.5"/><circle cx="1150" cy="546" r="10.5"/><circle cx="1166" cy="470" r="10.5"/><circle cx="823" cy="667" r="10.5"/><circle cx="747" cy="598" r="10.5"/><circle cx="978" cy="457" r="10.5"/><circle cx="1123.3" cy="630.2" r="10.5"/><circle cx="1088" cy="457" r="10.5"/><circle cx="1009" cy="639" r="10.5"/><circle cx="875" cy="765" r="10.5"/><circle cx="921" cy="646" r="10.5"/><circle cx="821" cy="720" r="10.5"/><circle cx="1057" cy="552" r="10.5"/><circle cx="826" cy="762" r="10.5"/><circle cx="1006" cy="424" r="10.5"/><circle cx="1206" cy="543" r="10.5"/><circle cx="1238" cy="317" r="10.5"/><circle cx="971" cy="547" r="10.5"/><circle cx="926" cy="541" r="10.5"/><circle cx="936" cy="703" r="10.5"/><circle cx="1074" cy="541" r="10.5"/><circle cx="1301" cy="304" r="10.5"/><circle cx="1186" cy="409" r="10.5"/><circle cx="893" cy="665" r="10.5"/><circle cx="1031" cy="437" r="10.5"/><circle cx="825" cy="793" r="10.5"/><circle cx="1031" cy="380" r="10.5"/><circle cx="1074" cy="518" r="10.5"/><circle cx="855" cy="551" r="10.5"/><circle cx="809" cy="674" r="10.5"/><circle cx="1268" cy="453" r="10.5"/><circle cx="1240" cy="305" r="10.5"/><circle cx="1187.3" cy="629.6" r="10.5"/><circle cx="920" cy="649" r="10.5"/><circle cx="850.5" cy="809.9" r="10.5"/><circle cx="745" cy="742" r="10.5"/><circle cx="758" cy="724" r="10.5"/><circle cx="1076" cy="428" r="10.5"/><circle cx="1223" cy="490" r="10.5"/><circle cx="914" cy="510" r="10.5"/><circle cx="1097" cy="427" r="10.5"/><circle cx="1135" cy="572" r="10.5"/><circle cx="696" cy="678" r="10.5"/><circle cx="769" cy="700" r="10.5"/><circle cx="1122" cy="418" r="10.5"/><circle cx="1031" cy="566" r="10.5"/><circle cx="1285" cy="446" r="10.5"/><circle cx="618.4" cy="856.6" r="10.5"/><circle cx="1297" cy="355" r="10.5"/><circle cx="1395.7" cy="227.1" r="10.5"/><circle cx="1120" cy="378" r="10.5"/><circle cx="871" cy="709" r="10.5"/><circle cx="895" cy="598" r="10.5"/><circle cx="856" cy="694" r="10.5"/><circle cx="542" cy="866.8" r="10.5"/><circle cx="1223" cy="530" r="10.5"/><circle cx="1095" cy="485" r="10.5"/><circle cx="931" cy="641" r="10.5"/><circle cx="1244" cy="493" r="10.5"/><circle cx="862" cy="645" r="10.5"/><circle cx="957" cy="592" r="10.5"/><circle cx="1133" cy="412" r="10.5"/><circle cx="1336" cy="308" r="10.5"/><circle cx="902" cy="746" r="10.5"/><circle cx="703.6" cy="825" r="10.5"/><circle cx="875.3" cy="783.8" r="10.5"/><circle cx="1225" cy="429" r="10.5"/><circle cx="944" cy="664" r="10.5"/><circle cx="898" cy="565" r="10.5"/><circle cx="1270" cy="418" r="10.5"/><circle cx="1145.4" cy="295.4" r="10.5"/><circle cx="1088" cy="534" r="10.5"/><circle cx="1018" cy="427" r="10.5"/><circle cx="1189" cy="428" r="10.5"/><circle cx="1024" cy="562" r="10.5"/><circle cx="986" cy="437" r="10.5"/><circle cx="883" cy="752" r="10.5"/><circle cx="1175" cy="357" r="10.5"/><circle cx="877" cy="768" r="10.5"/><circle cx="1236.3" cy="542" r="10.5"/><circle cx="1251" cy="367" r="10.5"/><circle cx="875" cy="621" r="10.5"/><circle cx="655" cy="687.4" r="10.5"/><circle cx="970" cy="710" r="10.5"/><circle cx="1013" cy="676" r="10.5"/><circle cx="1297" cy="385" r="10.5"/><circle cx="477.7" cy="805.8" r="10.5"/><circle cx="957" cy="630" r="10.5"/><circle cx="1125" cy="387" r="10.5"/><circle cx="1231" cy="500" r="10.5"/><circle cx="1058" cy="689" r="10.5"/><circle cx="1073" cy="484" r="10.5"/><circle cx="1064" cy="507" r="10.5"/><circle cx="756" cy="760" r="10.5"/><circle cx="1145" cy="348" r="10.5"/><circle cx="808" cy="690" r="10.5"/><circle cx="1130" cy="549" r="10.5"/><circle cx="978" cy="663" r="10.5"/><circle cx="786" cy="803" r="10.5"/><circle cx="1067" cy="593" r="10.5"/><circle cx="740" cy="711" r="10.5"/><circle cx="1276" cy="387" r="10.5"/><circle cx="987" cy="509" r="10.5"/><circle cx="900" cy="736" r="10.5"/><circle cx="1042" cy="439" r="10.5"/><circle cx="746" cy="732" r="10.5"/><circle cx="990" cy="504" r="10.5"/><circle cx="1330" cy="354" r="10.5"/><circle cx="797" cy="642" r="10.5"/><circle cx="889" cy="684" r="10.5"/><circle cx="717" cy="753" r="10.5"/><circle cx="1007" cy="535" r="10.5"/><circle cx="987" cy="652" r="10.5"/><circle cx="1114" cy="587" r="10.5"/><circle cx="734" cy="665" r="10.5"/><circle cx="1150.9" cy="602.6" r="10.5"/><circle cx="1220" cy="396" r="10.5"/><circle cx="1255" cy="285" r="10.5"/><circle cx="848" cy="649" r="10.5"/><circle cx="1065" cy="522" r="10.5"/><circle cx="1231.4" cy="619.7" r="10.5"/><circle cx="1074" cy="383" r="10.5"/><circle cx="996" cy="635" r="10.5"/><circle cx="590.1" cy="796.7" r="10.5"/><circle cx="1240" cy="348" r="10.5"/><circle cx="1034" cy="488" r="10.5"/><circle cx="651.4" cy="683" r="10.5"/><circle cx="852" cy="665" r="10.5"/><circle cx="912" cy="755" r="10.5"/><circle cx="1339" cy="396" r="10.5"/><circle cx="957" cy="578" r="10.5"/><circle cx="852" cy="589" r="10.5"/><circle cx="826" cy="660" r="10.5"/><circle cx="1213" cy="513" r="10.5"/><circle cx="992" cy="728" r="10.5"/><circle cx="1264" cy="396" r="10.5"/><circle cx="1028" cy="482" r="10.5"/><circle cx="1193" cy="480" r="10.5"/><circle cx="764" cy="746" r="10.5"/><circle cx="1128" cy="347" r="10.5"/><circle cx="806" cy="738" r="10.5"/><circle cx="898" cy="649" r="10.5"/><circle cx="1189.5" cy="289.1" r="10.5"/><circle cx="1145" cy="372" r="10.5"/><circle cx="1085" cy="469" r="10.5"/><circle cx="731" cy="713" r="10.5"/><circle cx="1050.3" cy="719.8" r="10.5"/><circle cx="901" cy="641" r="10.5"/><circle cx="1053" cy="629" r="10.5"/><circle cx="772" cy="755" r="10.5"/><circle cx="1291" cy="390" r="10.5"/><circle cx="1336" cy="384" r="10.5"/><circle cx="854" cy="763" r="10.5"/><circle cx="1324" cy="422" r="10.5"/><circle cx="741" cy="670" r="10.5"/><circle cx="995" cy="470" r="10.5"/><circle cx="988.5" cy="345.3" r="10.5"/><circle cx="761.1" cy="610.8" r="10.5"/><circle cx="1069" cy="409" r="10.5"/><circle cx="755" cy="636" r="10.5"/><circle cx="1144" cy="430" r="10.5"/><circle cx="1319" cy="333" r="10.5"/><circle cx="1260" cy="401" r="10.5"/><circle cx="1145" cy="538" r="10.5"/><circle cx="981" cy="672" r="10.5"/><circle cx="1048" cy="580" r="10.5"/><circle cx="1219" cy="345" r="10.5"/><circle cx="862" cy="536" r="10.5"/><circle cx="932" cy="568" r="10.5"/><circle cx="857" cy="666" r="10.5"/><circle cx="891" cy="652" r="10.5"/><circle cx="1087" cy="438" r="10.5"/><circle cx="1125" cy="448" r="10.5"/><circle cx="1106" cy="459" r="10.5"/><circle cx="1289" cy="294" r="10.5"/><circle cx="1309" cy="433" r="10.5"/><circle cx="570.9" cy="780.5" r="10.5"/><circle cx="1328" cy="329" r="10.5"/><circle cx="760" cy="724" r="10.5"/><circle cx="1212" cy="504" r="10.5"/><circle cx="967" cy="548" r="10.5"/><circle cx="1005" cy="591" r="10.5"/><circle cx="983" cy="652" r="10.5"/><circle cx="1102" cy="455" r="10.5"/><circle cx="862" cy="557" r="10.5"/><circle cx="1001" cy="509" r="10.5"/><circle cx="1251" cy="507" r="10.5"/><circle cx="1117" cy="427" r="10.5"/><circle cx="888" cy="698" r="10.5"/><circle cx="1242" cy="324" r="10.5"/><circle cx="1081" cy="626" r="10.5"/><circle cx="1100" cy="492" r="10.5"/><circle cx="1338.3" cy="242.8" r="10.5"/><circle cx="1041" cy="714" r="10.5"/><circle cx="1231" cy="319" r="10.5"/><circle cx="1072" cy="435" r="10.5"/><circle cx="1178" cy="442" r="10.5"/><circle cx="1166" cy="568" r="10.5"/><circle cx="1314" cy="376" r="10.5"/><circle cx="1340" cy="353" r="10.5"/><circle cx="924" cy="707" r="10.5"/><circle cx="888" cy="579" r="10.5"/><circle cx="777" cy="775" r="10.5"/><circle cx="1026" cy="584" r="10.5"/><circle cx="769" cy="740" r="10.5"/><circle cx="1210" cy="347" r="10.5"/><circle cx="965" cy="626" r="10.5"/><circle cx="792" cy="613" r="10.5"/><circle cx="1002" cy="470" r="10.5"/><circle cx="875" cy="529" r="10.5"/><circle cx="735" cy="691" r="10.5"/><circle cx="941" cy="705" r="10.5"/><circle cx="1120" cy="452" r="10.5"/><circle cx="1294" cy="341" r="10.5"/><circle cx="985.5" cy="704.6" r="10.5"/><circle cx="708" cy="673" r="10.5"/><circle cx="1274" cy="381" r="10.5"/><circle cx="1247" cy="483" r="10.5"/><circle cx="1296" cy="410" r="10.5"/><circle cx="1057" cy="501" r="10.5"/><circle cx="862" cy="750" r="10.5"/><circle cx="641.7" cy="723.8" r="10.5"/><circle cx="1046" cy="674" r="10.5"/><circle cx="862" cy="594" r="10.5"/><circle cx="967" cy="707" r="10.5"/><circle cx="908" cy="570" r="10.5"/><circle cx="838.7" cy="879.4" r="10.5"/><circle cx="991" cy="611" r="10.5"/><circle cx="819" cy="667" r="10.5"/><circle cx="1124" cy="561" r="10.5"/><circle cx="1035" cy="424" r="10.5"/><circle cx="902.7" cy="752.2" r="10.5"/><circle cx="1203" cy="313" r="10.5"/><circle cx="1027" cy="615" r="10.5"/><circle cx="1022" cy="613" r="10.5"/><circle cx="1175" cy="524" r="10.5"/><circle cx="1068" cy="503" r="10.5"/><circle cx="696.3" cy="649.3" r="10.5"/><circle cx="938" cy="754" r="10.5"/><circle cx="1216" cy="402" r="10.5"/><circle cx="1401.2" cy="352.5" r="10.5"/><circle cx="617.8" cy="641.6" r="10.5"/><circle cx="1051" cy="520" r="10.5"/><circle cx="1085" cy="589" r="10.5"/><circle cx="836" cy="715" r="10.5"/><circle cx="1016" cy="638" r="10.5"/><circle cx="1231" cy="494" r="10.5"/><circle cx="982" cy="630" r="10.5"/><circle cx="1071" cy="512" r="10.5"/><circle cx="730" cy="735" r="10.5"/><circle cx="1102" cy="486" r="10.5"/><circle cx="1097" cy="610" r="10.5"/><circle cx="889" cy="571" r="10.5"/><circle cx="829" cy="549" r="10.5"/><circle cx="874" cy="723" r="10.5"/><circle cx="1320" cy="341" r="10.5"/><circle cx="1304" cy="446" r="10.5"/><circle cx="1293" cy="436" r="10.5"/><circle cx="1019" cy="510" r="10.5"/><circle cx="1108" cy="574" r="10.5"/><circle cx="1063" cy="598" r="10.5"/><circle cx="1258" cy="395" r="10.5"/><circle cx="1163" cy="341" r="10.5"/><circle cx="1174" cy="574" r="10.5"/><circle cx="1246" cy="437" r="10.5"/><circle cx="1157" cy="406" r="10.5"/><circle cx="922" cy="682" r="10.5"/><circle cx="1117.8" cy="324.9" r="10.5"/><circle cx="1185" cy="598" r="10.5"/><circle cx="1040" cy="579" r="10.5"/><circle cx="832" cy="580" r="10.5"/><circle cx="1228" cy="435" r="10.5"/><circle cx="1215" cy="291" r="10.5"/><circle cx="972" cy="554" r="10.5"/><circle cx="933" cy="505" r="10.5"/><circle cx="1201" cy="518" r="10.5"/><circle cx="1190" cy="484" r="10.5"/><circle cx="1257" cy="437" r="10.5"/><circle cx="941" cy="684" r="10.5"/><circle cx="1236" cy="439" r="10.5"/><circle cx="1245" cy="299" r="10.5"/><circle cx="1065" cy="615" r="10.5"/><circle cx="970" cy="431" r="10.5"/><circle cx="1129" cy="385" r="10.5"/><circle cx="914" cy="672" r="10.5"/><circle cx="734" cy="707" r="10.5"/><circle cx="675.5" cy="853.8" r="10.5"/><circle cx="1292" cy="358" r="10.5"/><circle cx="1251" cy="434" r="10.5"/><circle cx="896" cy="641" r="10.5"/><circle cx="978" cy="546" r="10.5"/><circle cx="1154" cy="415" r="10.5"/><circle cx="1316" cy="363" r="10.5"/><circle cx="920" cy="642" r="10.5"/><circle cx="820" cy="576" r="10.5"/><circle cx="1180" cy="405" r="10.5"/><circle cx="1109" cy="425" r="10.5"/><circle cx="1206" cy="321" r="10.5"/><circle cx="970" cy="636" r="10.5"/><circle cx="976" cy="627" r="10.5"/><circle cx="1128" cy="479" r="10.5"/><circle cx="1142" cy="477" r="10.5"/><circle cx="987" cy="583" r="10.5"/><circle cx="786" cy="685" r="10.5"/><circle cx="1084" cy="462" r="10.5"/><circle cx="824" cy="608" r="10.5"/><circle cx="971" cy="693" r="10.5"/><circle cx="1122" cy="467" r="10.5"/><circle cx="1192" cy="501" r="10.5"/><circle cx="885" cy="723" r="10.5"/><circle cx="1239" cy="392" r="10.5"/><circle cx="964.6" cy="749.5" r="10.5"/><circle cx="805" cy="617" r="10.5"/><circle cx="1192" cy="387" r="10.5"/><circle cx="865" cy="703" r="10.5"/><circle cx="1100" cy="398" r="10.5"/><circle cx="1130" cy="618" r="10.5"/><circle cx="935" cy="571" r="10.5"/><circle cx="1292" cy="443" r="10.5"/><circle cx="1148" cy="407" r="10.5"/><circle cx="938.5" cy="797.5" r="10.5"/><circle cx="744" cy="696" r="10.5"/><circle cx="877" cy="681" r="10.5"/><circle cx="1094" cy="611" r="10.5"/><circle cx="772" cy="590" r="10.5"/><circle cx="1194" cy="441" r="10.5"/><circle cx="1087" cy="372" r="10.5"/><circle cx="831" cy="704" r="10.5"/><circle cx="967" cy="455" r="10.5"/><circle cx="1182" cy="456" r="10.5"/><circle cx="910" cy="575" r="10.5"/><circle cx="877" cy="658" r="10.5"/><circle cx="1086" cy="615" r="10.5"/><circle cx="1012" cy="696" r="10.5"/><circle cx="1225" cy="443" r="10.5"/><circle cx="1097" cy="358" r="10.5"/><circle cx="1120" cy="574" r="10.5"/><circle cx="1065" cy="648" r="10.5"/><circle cx="1177" cy="481" r="10.5"/><circle cx="1084" cy="605" r="10.5"/><circle cx="1352" cy="299" r="10.5"/><circle cx="1222" cy="418" r="10.5"/><circle cx="1015" cy="638" r="10.5"/><circle cx="945" cy="619" r="10.5"/><circle cx="932" cy="561" r="10.5"/><circle cx="840" cy="776" r="10.5"/><circle cx="806" cy="774" r="10.5"/><circle cx="1246" cy="516" r="10.5"/><circle cx="1012" cy="574" r="10.5"/><circle cx="883" cy="567" r="10.5"/><circle cx="777" cy="707" r="10.5"/><circle cx="1147" cy="549" r="10.5"/><circle cx="1164" cy="588" r="10.5"/><circle cx="1295" cy="448" r="10.5"/><circle cx="777" cy="664" r="10.5"/><circle cx="933" cy="617" r="10.5"/><circle cx="1025" cy="677" r="10.5"/><circle cx="1118" cy="369" r="10.5"/><circle cx="848" cy="747" r="10.5"/><circle cx="749" cy="730" r="10.5"/><circle cx="1004" cy="610" r="10.5"/><circle cx="1258" cy="330" r="10.5"/><circle cx="1296" cy="364" r="10.5"/><circle cx="1329" cy="286" r="10.5"/><circle cx="826" cy="775" r="10.5"/><circle cx="1082" cy="364" r="10.5"/><circle cx="834" cy="745" r="10.5"/><circle cx="1217" cy="467" r="10.5"/><circle cx="703.6" cy="741.2" r="10.5"/><circle cx="811" cy="573" r="10.5"/><circle cx="750" cy="715" r="10.5"/><circle cx="983" cy="530" r="10.5"/><circle cx="1217" cy="490" r="10.5"/><circle cx="1159" cy="507" r="10.5"/><circle cx="1217" cy="402" r="10.5"/><circle cx="1376.9" cy="228.5" r="10.5"/><circle cx="1219" cy="487" r="10.5"/><circle cx="1111" cy="406" r="10.5"/><circle cx="1033" cy="363" r="10.5"/><circle cx="1148" cy="594" r="10.5"/><circle cx="931" cy="637" r="10.5"/><circle cx="952" cy="610" r="10.5"/><circle cx="829" cy="727" r="10.5"/><circle cx="1035" cy="701" r="10.5"/><circle cx="872" cy="716" r="10.5"/><circle cx="907" cy="636" r="10.5"/><circle cx="995" cy="417" r="10.5"/><circle cx="1226" cy="448" r="10.5"/><circle cx="1048" cy="470" r="10.5"/><circle cx="1235" cy="382" r="10.5"/><circle cx="832" cy="722" r="10.5"/><circle cx="1242" cy="507" r="10.5"/><circle cx="1091" cy="500" r="10.5"/><circle cx="1223" cy="408" r="10.5"/><circle cx="1318" cy="358" r="10.5"/><circle cx="1229" cy="505" r="10.5"/><circle cx="1201" cy="378" r="10.5"/><circle cx="964" cy="528" r="10.5"/><circle cx="1247" cy="405" r="10.5"/><circle cx="938.9" cy="477.1" r="10.5"/><circle cx="1106" cy="433" r="10.5"/><circle cx="1188" cy="371" r="10.5"/><circle cx="836" cy="579" r="10.5"/><circle cx="1035" cy="504" r="10.5"/><circle cx="638.5" cy="827.7" r="10.5"/><circle cx="948" cy="721" r="10.5"/><circle cx="824" cy="666" r="10.5"/><circle cx="888" cy="615" r="10.5"/><circle cx="1015" cy="454" r="10.5"/><circle cx="1074" cy="540" r="10.5"/><circle cx="1112.3" cy="595.7" r="10.5"/><circle cx="1057.2" cy="318" r="10.5"/><circle cx="1247" cy="450" r="10.5"/><circle cx="973" cy="650" r="10.5"/><circle cx="1102" cy="591" r="10.5"/><circle cx="1324" cy="306" r="10.5"/><circle cx="1325.9" cy="250.5" r="10.5"/><circle cx="812" cy="712" r="10.5"/><circle cx="838" cy="674" r="10.5"/><circle cx="1051" cy="699" r="10.5"/><circle cx="1185" cy="508" r="10.5"/><circle cx="1265" cy="347" r="10.5"/><circle cx="1068" cy="678" r="10.5"/><circle cx="1123" cy="553" r="10.5"/><circle cx="926.5" cy="452.3" r="10.5"/><circle cx="1161.9" cy="236.7" r="10.5"/><circle cx="1092" cy="380" r="10.5"/><circle cx="869" cy="686" r="10.5"/><circle cx="926" cy="656" r="10.5"/><circle cx="1307" cy="279" r="10.5"/><circle cx="1114" cy="617" r="10.5"/><circle cx="996" cy="677" r="10.5"/><circle cx="746" cy="693" r="10.5"/><circle cx="1150" cy="455" r="10.5"/><circle cx="944" cy="494" r="10.5"/><circle cx="1245" cy="352" r="10.5"/><circle cx="714.2" cy="663.1" r="10.5"/><circle cx="1228" cy="346" r="10.5"/><circle cx="1145" cy="396" r="10.5"/><circle cx="1191" cy="528" r="10.5"/><circle cx="1001" cy="657" r="10.5"/><circle cx="783.1" cy="478.5" r="10.5"/><circle cx="1279" cy="335" r="10.5"/><circle cx="1114" cy="361" r="10.5"/><circle cx="1225" cy="316" r="10.5"/><circle cx="1203" cy="379" r="10.5"/><circle cx="720" cy="685" r="10.5"/><circle cx="915" cy="711" r="10.5"/><circle cx="763" cy="712" r="10.5"/><circle cx="964" cy="620" r="10.5"/><circle cx="890" cy="656" r="10.5"/><circle cx="597.3" cy="869" r="10.5"/><circle cx="1140" cy="416" r="10.5"/><circle cx="991" cy="467" r="10.5"/><circle cx="930" cy="657" r="10.5"/><circle cx="997" cy="444" r="10.5"/><circle cx="1294" cy="304" r="10.5"/><circle cx="1261" cy="381" r="10.5"/><circle cx="765" cy="613" r="10.5"/><circle cx="1321.8" cy="428.3" r="10.5"/><circle cx="740" cy="711" r="10.5"/><circle cx="1027" cy="569" r="10.5"/><circle cx="989" cy="444" r="10.5"/><circle cx="1165" cy="402" r="10.5"/><circle cx="817" cy="719" r="10.5"/><circle cx="1222" cy="351" r="10.5"/><circle cx="1118" cy="612" r="10.5"/><circle cx="1093" cy="454" r="10.5"/><circle cx="1200" cy="327" r="10.5"/><circle cx="944" cy="561" r="10.5"/><circle cx="1112" cy="470" r="10.5"/><circle cx="1025" cy="506" r="10.5"/><circle cx="1036" cy="485" r="10.5"/><circle cx="1037" cy="398" r="10.5"/><circle cx="790" cy="711" r="10.5"/><circle cx="854" cy="645" r="10.5"/><circle cx="1307" cy="420" r="10.5"/><circle cx="1218" cy="337" r="10.5"/><circle cx="1059" cy="636" r="10.5"/><circle cx="1042" cy="433" r="10.5"/><circle cx="1316" cy="305" r="10.5"/><circle cx="1258.4" cy="537.9" r="10.5"/><circle cx="817" cy="594" r="10.5"/><circle cx="1276" cy="351" r="10.5"/><circle cx="1305" cy="342" r="10.5"/><circle cx="1209" cy="551" r="10.5"/><circle cx="806" cy="692" r="10.5"/><circle cx="987" cy="574" r="10.5"/><circle cx="830" cy="686" r="10.5"/><circle cx="1288" cy="513" r="10.5"/><circle cx="931" cy="653" r="10.5"/><circle cx="1096" cy="660" r="10.5"/><circle cx="729" cy="685" r="10.5"/><circle cx="1057.2" cy="677" r="10.5"/><circle cx="762" cy="774" r="10.5"/><circle cx="1218" cy="549" r="10.5"/><circle cx="893" cy="493" r="10.5"/><circle cx="1185" cy="423" r="10.5"/><circle cx="1030" cy="590" r="10.5"/><circle cx="1270" cy="263" r="10.5"/><circle cx="808" cy="632" r="10.5"/><circle cx="1179" cy="468" r="10.5"/><circle cx="1345" cy="367" r="10.5"/><circle cx="939" cy="601" r="10.5"/><circle cx="1317" cy="370" r="10.5"/><circle cx="1144" cy="339" r="10.5"/><circle cx="1312" cy="426" r="10.5"/><circle cx="919.2" cy="847.8" r="10.5"/><circle cx="771" cy="628" r="10.5"/><circle cx="1084.7" cy="608.1" r="10.5"/><circle cx="894" cy="746" r="10.5"/><circle cx="1114" cy="498" r="10.5"/><circle cx="1119" cy="511" r="10.5"/><circle cx="1230" cy="344" r="10.5"/><circle cx="803" cy="648" r="10.5"/><circle cx="1023" cy="677" r="10.5"/><circle cx="1217" cy="592.1" r="10.5"/><circle cx="586.6" cy="714.7" r="10.5"/><circle cx="1067" cy="408" r="10.5"/><circle cx="1111" cy="551" r="10.5"/><circle cx="1025" cy="618" r="10.5"/><circle cx="1115" cy="471" r="10.5"/><circle cx="875" cy="531" r="10.5"/><circle cx="1266" cy="459" r="10.5"/><circle cx="971" cy="696" r="10.5"/><circle cx="1107" cy="362" r="10.5"/><circle cx="1336" cy="326" r="10.5"/><circle cx="1066" cy="637" r="10.5"/><circle cx="901" cy="725" r="10.5"/><circle cx="854" cy="643" r="10.5"/><circle cx="1230" cy="356" r="10.5"/><circle cx="824" cy="684" r="10.5"/><circle cx="1328" cy="295" r="10.5"/><circle cx="775" cy="719" r="10.5"/><circle cx="1332" cy="359" r="10.5"/><circle cx="883" cy="696" r="10.5"/><circle cx="919" cy="761" r="10.5"/><circle cx="998" cy="682" r="10.5"/><circle cx="1283" cy="293" r="10.5"/><circle cx="738" cy="650" r="10.5"/><circle cx="1265" cy="468" r="10.5"/><circle cx="1223" cy="434" r="10.5"/><circle cx="1078" cy="399" r="10.5"/><circle cx="1322" cy="326" r="10.5"/><circle cx="891.8" cy="768.7" r="10.5"/><circle cx="1074" cy="538" r="10.5"/><circle cx="1160" cy="384" r="10.5"/><circle cx="780" cy="692" r="10.5"/><circle cx="1031" cy="458" r="10.5"/><circle cx="1106" cy="608" r="10.5"/><circle cx="560.2" cy="813.5" r="10.5"/><circle cx="1095" cy="446" r="10.5"/><circle cx="1265" cy="314" r="10.5"/><circle cx="1056" cy="503" r="10.5"/><circle cx="1030" cy="431" r="10.5"/><circle cx="1134" cy="446" r="10.5"/><circle cx="1291" cy="314" r="10.5"/><circle cx="863.5" cy="833.8" r="10.5"/><circle cx="859" cy="671" r="10.5"/><circle cx="737" cy="729" r="10.5"/><circle cx="948.5" cy="422.5" r="10.5"/><circle cx="1282" cy="479" r="10.5"/><circle cx="1348" cy="519.4" r="10.5"/><circle cx="999" cy="631" r="10.5"/><circle cx="828" cy="678" r="10.5"/><circle cx="1232" cy="423" r="10.5"/><circle cx="974" cy="500" r="10.5"/><circle cx="1182" cy="348" r="10.5"/><circle cx="987" cy="528" r="10.5"/><circle cx="1223" cy="337" r="10.5"/><circle cx="1183" cy="563" r="10.5"/><circle cx="870" cy="579" r="10.5"/><circle cx="871" cy="661" r="10.5"/><circle cx="1116" cy="410" r="10.5"/><circle cx="1137.1" cy="666" r="10.5"/><circle cx="1215" cy="392" r="10.5"/><circle cx="1076" cy="552" r="10.5"/><circle cx="1462.4" cy="454.5" r="10.5"/><circle cx="1159" cy="548" r="10.5"/><circle cx="929" cy="591" r="10.5"/><circle cx="1199" cy="439" r="10.5"/><circle cx="986" cy="583" r="10.5"/><circle cx="1099" cy="657" r="10.5"/><circle cx="789.2" cy="553.4" r="10.5"/><circle cx="1273" cy="330" r="10.5"/><circle cx="899" cy="647" r="10.5"/><circle cx="1078" cy="503" r="10.5"/><circle cx="1373" cy="333" r="10.5"/><circle cx="1129" cy="436" r="10.5"/><circle cx="843" cy="615" r="10.5"/><circle cx="713" cy="732" r="10.5"/><circle cx="1026.9" cy="770.8" r="10.5"/><circle cx="981" cy="613" r="10.5"/><circle cx="1180" cy="583" r="10.5"/><circle cx="1263" cy="265" r="10.5"/><circle cx="964" cy="493" r="10.5"/><circle cx="1184" cy="488" r="10.5"/><circle cx="855" cy="706" r="10.5"/><circle cx="860" cy="619" r="10.5"/><circle cx="1090" cy="425" r="10.5"/><circle cx="1317" cy="394" r="10.5"/><circle cx="1083" cy="368" r="10.5"/><circle cx="1170" cy="552" r="10.5"/><circle cx="907" cy="621" r="10.5"/><circle cx="1067" cy="514" r="10.5"/><circle cx="1190" cy="421" r="10.5"/><circle cx="831" cy="677" r="10.5"/><circle cx="1063" cy="660" r="10.5"/><circle cx="1226" cy="293" r="10.5"/><circle cx="942" cy="721" r="10.5"/><circle cx="1202" cy="549" r="10.5"/><circle cx="1318" cy="389" r="10.5"/><circle cx="885" cy="618" r="10.5"/><circle cx="1140" cy="349" r="10.5"/><circle cx="1019" cy="501" r="10.5"/><circle cx="1211.5" cy="287.7" r="10.5"/><circle cx="910" cy="562" r="10.5"/><circle cx="862" cy="556" r="10.5"/><circle cx="1195" cy="411" r="10.5"/><circle cx="1211" cy="417" r="10.5"/><circle cx="890" cy="740" r="10.5"/><circle cx="1256" cy="274" r="10.5"/><circle cx="789" cy="758" r="10.5"/><circle cx="772" cy="607" r="10.5"/><circle cx="874" cy="773" r="10.5"/><circle cx="1073" cy="624" r="10.5"/><circle cx="933" cy="735" r="10.5"/><circle cx="1154" cy="431" r="10.5"/><circle cx="1440.3" cy="209.2" r="10.5"/><circle cx="1001" cy="436" r="10.5"/><circle cx="1102" cy="527" r="10.5"/><circle cx="765" cy="608" r="10.5"/><circle cx="928" cy="681" r="10.5"/><circle cx="1292" cy="313" r="10.5"/><circle cx="1287" cy="274" r="10.5"/><circle cx="1066" cy="623" r="10.5"/><circle cx="1149" cy="595" r="10.5"/><circle cx="1028" cy="558" r="10.5"/><circle cx="1095" cy="537" r="10.5"/><circle cx="1050" cy="644" r="10.5"/><circle cx="784" cy="679" r="10.5"/><circle cx="826" cy="564" r="10.5"/><circle cx="867" cy="607" r="10.5"/><circle cx="1147" cy="581" r="10.5"/><circle cx="1319" cy="389" r="10.5"/><circle cx="1014" cy="566" r="10.5"/><circle cx="889" cy="689" r="10.5"/><circle cx="1123" cy="360" r="10.5"/><circle cx="1322" cy="315" r="10.5"/><circle cx="1121" cy="487" r="10.5"/><circle cx="982" cy="467" r="10.5"/><circle cx="1201" cy="418" r="10.5"/><circle cx="1126" cy="616" r="10.5"/><circle cx="1103" cy="526" r="10.5"/><circle cx="1048.9" cy="699.1" r="10.5"/><circle cx="979" cy="685" r="10.5"/><circle cx="1036" cy="558" r="10.5"/><circle cx="968" cy="533" r="10.5"/><circle cx="1070" cy="401" r="10.5"/><circle cx="866" cy="757" r="10.5"/><circle cx="815" cy="703" r="10.5"/><circle cx="913" cy="567" r="10.5"/><circle cx="1201" cy="289" r="10.5"/><circle cx="949" cy="510" r="10.5"/><circle cx="1328" cy="320" r="10.5"/><circle cx="1307" cy="254" r="10.5"/><circle cx="976" cy="545" r="10.5"/><circle cx="1253" cy="365" r="10.5"/><circle cx="880" cy="651" r="10.5"/><circle cx="861" cy="535" r="10.5"/><circle cx="1343" cy="304" r="10.5"/><circle cx="1040" cy="629" r="10.5"/><circle cx="810" cy="560" r="10.5"/><circle cx="869" cy="658" r="10.5"/><circle cx="763" cy="701" r="10.5"/><circle cx="608.1" cy="621" r="10.5"/><circle cx="1237" cy="313" r="10.5"/><circle cx="1194" cy="500" r="10.5"/><circle cx="792" cy="563" r="10.5"/><circle cx="1170" cy="343" r="10.5"/><circle cx="1021" cy="532" r="10.5"/><circle cx="1271" cy="523" r="10.5"/><circle cx="858" cy="593" r="10.5"/><circle cx="1074" cy="640" r="10.5"/><circle cx="1316" cy="375" r="10.5"/><circle cx="1165" cy="424" r="10.5"/><circle cx="986" cy="479" r="10.5"/><circle cx="1043" cy="633" r="10.5"/><circle cx="1325" cy="294" r="10.5"/><circle cx="542" cy="748.6" r="10.5"/><circle cx="1020" cy="637" r="10.5"/><circle cx="1066" cy="656" r="10.5"/><circle cx="1330" cy="395" r="10.5"/><circle cx="993" cy="491" r="10.5"/><circle cx="877" cy="717" r="10.5"/><circle cx="902" cy="646" r="10.5"/><circle cx="1013" cy="671" r="10.5"/><circle cx="777" cy="575" r="10.5"/><circle cx="823" cy="545" r="10.5"/><circle cx="1106" cy="630" r="10.5"/><circle cx="1202" cy="527" r="10.5"/><circle cx="984" cy="525" r="10.5"/><circle cx="829" cy="727" r="10.5"/><circle cx="1077" cy="532" r="10.5"/><circle cx="953" cy="656" r="10.5"/><circle cx="1110" cy="440" r="10.5"/><circle cx="1343.8" cy="290.5" r="10.5"/><circle cx="1099" cy="368" r="10.5"/><circle cx="1032" cy="600" r="10.5"/><circle cx="978" cy="749" r="10.5"/><circle cx="803" cy="766" r="10.5"/><circle cx="1005" cy="669" r="10.5"/><circle cx="1212" cy="409" r="10.5"/><circle cx="991" cy="722" r="10.5"/><circle cx="885" cy="572" r="10.5"/><circle cx="728.3" cy="782.4" r="10.5"/><circle cx="1100" cy="329" r="10.5"/><circle cx="1235" cy="481" r="10.5"/><circle cx="740" cy="719" r="10.5"/><circle cx="1113" cy="521" r="10.5"/><circle cx="1310" cy="445" r="10.5"/><circle cx="1323.2" cy="498.6" r="10.5"/><circle cx="816" cy="605" r="10.5"/><circle cx="860" cy="732" r="10.5"/><circle cx="1179" cy="341" r="10.5"/><circle cx="836" cy="567" r="10.5"/><circle cx="1069" cy="386" r="10.5"/><circle cx="772" cy="670" r="10.5"/><circle cx="1143" cy="510" r="10.5"/><circle cx="766" cy="628" r="10.5"/><circle cx="1215.7" cy="568.2" r="10.5"/><circle cx="813.5" cy="540.5" r="10.5"/><circle cx="1013.6" cy="733.6" r="10.5"/><circle cx="912" cy="627" r="10.5"/><circle cx="866" cy="634" r="10.5"/><circle cx="1043" cy="525" r="10.5"/><circle cx="724.2" cy="792" r="10.5"/><circle cx="1162" cy="330" r="10.5"/><circle cx="1280" cy="304" r="10.5"/><circle cx="749" cy="736" r="10.5"/><circle cx="1003" cy="672" r="10.5"/><circle cx="981" cy="485" r="10.5"/><circle cx="966" cy="537" r="10.5"/><circle cx="1202" cy="372" r="10.5"/><circle cx="1160" cy="365" r="10.5"/><circle cx="951" cy="578" r="10.5"/><circle cx="885" cy="594" r="10.5"/><circle cx="1324" cy="385" r="10.5"/><circle cx="628" cy="844.2" r="10.5"/><circle cx="1147" cy="544" r="10.5"/><circle cx="1042" cy="574" r="10.5"/><circle cx="1182" cy="314" r="10.5"/><circle cx="1155" cy="372" r="10.5"/><circle cx="919" cy="628" r="10.5"/><circle cx="981" cy="698" r="10.5"/><circle cx="870" cy="644" r="10.5"/><circle cx="959" cy="587" r="10.5"/><circle cx="871" cy="644" r="10.5"/><circle cx="1152" cy="577" r="10.5"/><circle cx="1106" cy="587" r="10.5"/><circle cx="961" cy="733" r="10.5"/><circle cx="926" cy="556" r="10.5"/><circle cx="943" cy="605" r="10.5"/><circle cx="987" cy="531" r="10.5"/><circle cx="825.3" cy="506.6" r="10.5"/><circle cx="1178" cy="308" r="10.5"/><circle cx="1190" cy="522" r="10.5"/><circle cx="918" cy="681" r="10.5"/><circle cx="1462.4" cy="238.1" r="10.5"/><circle cx="1112" cy="522" r="10.5"/><circle cx="1144" cy="632" r="10.5"/><circle cx="1177" cy="331" r="10.5"/><circle cx="1136" cy="654" r="10.5"/><circle cx="853" cy="550" r="10.5"/><circle cx="1205" cy="478" r="10.5"/><circle cx="1000" cy="450" r="10.5"/><circle cx="1080" cy="476" r="10.5"/><circle cx="902" cy="565" r="10.5"/><circle cx="825" cy="656" r="10.5"/><circle cx="1349" cy="298" r="10.5"/><circle cx="868" cy="744" r="10.5"/><circle cx="562.1" cy="761" r="10.5"/><circle cx="1337" cy="324" r="10.5"/><circle cx="1150" cy="559" r="10.5"/><circle cx="1122" cy="567" r="10.5"/><circle cx="960" cy="704" r="10.5"/><circle cx="1014" cy="574" r="10.5"/><circle cx="979" cy="622" r="10.5"/><circle cx="1080" cy="562" r="10.5"/><circle cx="870" cy="762" r="10.5"/><circle cx="1107" cy="342" r="10.5"/><circle cx="739" cy="620" r="10.5"/><circle cx="1111" cy="479" r="10.5"/><circle cx="1122" cy="551" r="10.5"/><circle cx="749" cy="620" r="10.5"/><circle cx="1056.4" cy="334.6" r="10.5"/><circle cx="835" cy="705" r="10.5"/><circle cx="1015" cy="448" r="10.5"/><circle cx="697.7" cy="726.5" r="10.5"/><circle cx="818" cy="587" r="10.5"/><circle cx="1074" cy="630" r="10.5"/><circle cx="944" cy="517" r="10.5"/><circle cx="804" cy="770" r="10.5"/><circle cx="1137" cy="417" r="10.5"/><circle cx="910" cy="615" r="10.5"/><circle cx="986" cy="597" r="10.5"/><circle cx="748" cy="789" r="10.5"/><circle cx="1165" cy="475" r="10.5"/><circle cx="1142" cy="591" r="10.5"/><circle cx="1340" cy="312" r="10.5"/><circle cx="984" cy="646" r="10.5"/><circle cx="1268" cy="452" r="10.5"/><circle cx="988" cy="418" r="10.5"/><circle cx="910" cy="641" r="10.5"/><circle cx="925" cy="746" r="10.5"/><circle cx="1250" cy="407" r="10.5"/><circle cx="780" cy="626" r="10.5"/><circle cx="809" cy="728" r="10.5"/><circle cx="1184" cy="415" r="10.5"/><circle cx="999" cy="597" r="10.5"/><circle cx="1199" cy="588" r="10.5"/><circle cx="1140" cy="579" r="10.5"/><circle cx="944" cy="543" r="10.5"/><circle cx="953" cy="580" r="10.5"/><circle cx="1051" cy="646" r="10.5"/><circle cx="1155" cy="581" r="10.5"/><circle cx="1323" cy="300" r="10.5"/><circle cx="867.8" cy="457.2" r="10.5"/><circle cx="1198" cy="339" r="10.5"/><circle cx="1225" cy="422" r="10.5"/><circle cx="1155" cy="455" r="10.5"/><circle cx="999" cy="638" r="10.5"/><circle cx="1154" cy="500" r="10.5"/><circle cx="1153" cy="452" r="10.5"/><circle cx="1198" cy="495" r="10.5"/><circle cx="761" cy="741" r="10.5"/><circle cx="765" cy="686" r="10.5"/><circle cx="956.8" cy="448.1" r="10.5"/><circle cx="927" cy="486" r="10.5"/><circle cx="996" cy="457" r="10.5"/><circle cx="772" cy="736" r="10.5"/><circle cx="747" cy="747" r="10.5"/><circle cx="792" cy="645" r="10.5"/><circle cx="1184" cy="539" r="10.5"/><circle cx="1199" cy="368" r="10.5"/><circle cx="845" cy="771" r="10.5"/><circle cx="1090" cy="502" r="10.5"/><circle cx="1062" cy="586" r="10.5"/><circle cx="975" cy="678" r="10.5"/><circle cx="919" cy="608" r="10.5"/><circle cx="1164" cy="607" r="10.5"/><circle cx="991" cy="585" r="10.5"/><circle cx="948" cy="515" r="10.5"/><circle cx="889" cy="566" r="10.5"/><circle cx="1254" cy="491" r="10.5"/><circle cx="1180" cy="430" r="10.5"/><circle cx="1144" cy="601" r="10.5"/><circle cx="1103" cy="353" r="10.5"/><circle cx="933" cy="533" r="10.5"/><circle cx="1171" cy="487" r="10.5"/><circle cx="926" cy="505" r="10.5"/><circle cx="890" cy="504" r="10.5"/><circle cx="979" cy="669" r="10.5"/><circle cx="973" cy="649" r="10.5"/><circle cx="1324" cy="313" r="10.5"/><circle cx="953" cy="612" r="10.5"/><circle cx="1211" cy="460" r="10.5"/><circle cx="699" cy="692" r="10.5"/><circle cx="1160" cy="338" r="10.5"/><circle cx="993" cy="665" r="10.5"/><circle cx="1119" cy="411" r="10.5"/><circle cx="834" cy="698" r="10.5"/><circle cx="778" cy="752" r="10.5"/><circle cx="873" cy="608" r="10.5"/><circle cx="848" cy="766" r="10.5"/><circle cx="856" cy="580" r="10.5"/><circle cx="1135" cy="372" r="10.5"/><circle cx="923" cy="644" r="10.5"/><circle cx="1005" cy="553" r="10.5"/><circle cx="1072" cy="491" r="10.5"/><circle cx="1113" cy="539" r="10.5"/><circle cx="1114" cy="596" r="10.5"/><circle cx="1223" cy="359" r="10.5"/><circle cx="798" cy="758" r="10.5"/><circle cx="990" cy="454" r="10.5"/><circle cx="1186" cy="403" r="10.5"/><circle cx="894" cy="703" r="10.5"/><circle cx="834" cy="748" r="10.5"/><circle cx="615.7" cy="825" r="10.5"/><circle cx="740" cy="661" r="10.5"/><circle cx="838" cy="694" r="10.5"/><circle cx="939" cy="656" r="10.5"/><circle cx="839" cy="602" r="10.5"/><circle cx="723" cy="688" r="10.5"/><circle cx="1020" cy="538" r="10.5"/><circle cx="1170" cy="552" r="10.5"/><circle cx="1221" cy="401" r="10.5"/><circle cx="913" cy="532" r="10.5"/><circle cx="944" cy="674" r="10.5"/><circle cx="1320" cy="424" r="10.5"/><circle cx="1068" cy="577" r="10.5"/><circle cx="1095" cy="554" r="10.5"/><circle cx="763" cy="755" r="10.5"/><circle cx="925" cy="615" r="10.5"/><circle cx="1267" cy="426" r="10.5"/><circle cx="1122" cy="502" r="10.5"/><circle cx="949" cy="655" r="10.5"/><circle cx="1229" cy="302" r="10.5"/><circle cx="1175" cy="457" r="10.5"/><circle cx="1207" cy="498" r="10.5"/><circle cx="1113" cy="466" r="10.5"/><circle cx="685.3" cy="712.7" r="10.5"/><circle cx="721.1" cy="561.1" r="10.5"/><circle cx="1117" cy="494" r="10.5"/><circle cx="745" cy="674" r="10.5"/><circle cx="1306" cy="370" r="10.5"/><circle cx="807" cy="590" r="10.5"/><circle cx="1068" cy="601" r="10.5"/><circle cx="1124" cy="597" r="10.5"/><circle cx="795" cy="588" r="10.5"/><circle cx="1057" cy="540" r="10.5"/><circle cx="928" cy="666" r="10.5"/><circle cx="845" cy="631" r="10.5"/><circle cx="798" cy="661" r="10.5"/><circle cx="1118" cy="314" r="10.5"/><circle cx="989" cy="591" r="10.5"/><circle cx="1083" cy="586" r="10.5"/><circle cx="1161" cy="458" r="10.5"/><circle cx="654.1" cy="770.9" r="10.5"/><circle cx="1012" cy="536" r="10.5"/><circle cx="942" cy="467" r="10.5"/><circle cx="1000" cy="747" r="10.5"/><circle cx="869" cy="672" r="10.5"/><circle cx="1125" cy="350" r="10.5"/><circle cx="743" cy="663" r="10.5"/><circle cx="1029" cy="610" r="10.5"/><circle cx="683" cy="923.1" r="10.5"/><circle cx="761.9" cy="473.8" r="10.5"/><circle cx="772" cy="765" r="10.5"/><circle cx="843" cy="586" r="10.5"/><circle cx="885" cy="662" r="10.5"/><circle cx="732" cy="633" r="10.5"/><circle cx="1036" cy="611" r="10.5"/><circle cx="784" cy="724" r="10.5"/><circle cx="805" cy="583" r="10.5"/><circle cx="924" cy="693" r="10.5"/><circle cx="1060" cy="666" r="10.5"/><circle cx="968" cy="539" r="10.5"/><circle cx="956" cy="480" r="10.5"/><circle cx="1181" cy="370" r="10.5"/><circle cx="937" cy="743" r="10.5"/><circle cx="1168" cy="567" r="10.5"/><circle cx="1119" cy="497" r="10.5"/><circle cx="1123" cy="338" r="10.5"/><circle cx="1005" cy="528" r="10.5"/><circle cx="929" cy="578" r="10.5"/><circle cx="1079" cy="509" r="10.5"/><circle cx="1001" cy="653" r="10.5"/><circle cx="1265" cy="443" r="10.5"/><circle cx="871.2" cy="800.3" r="10.5"/><circle cx="1227" cy="503" r="10.5"/><circle cx="912" cy="617" r="10.5"/><circle cx="978" cy="532" r="10.5"/><circle cx="1037" cy="414" r="10.5"/><circle cx="963" cy="569" r="10.5"/><circle cx="960.9" cy="407.3" r="10.5"/><circle cx="1291" cy="434" r="10.5"/><circle cx="1206" cy="356" r="10.5"/><circle cx="859" cy="577" r="10.5"/><circle cx="1028" cy="572" r="10.5"/><circle cx="1063" cy="648" r="10.5"/><circle cx="943" cy="603" r="10.5"/><circle cx="771" cy="628" r="10.5"/><circle cx="924" cy="551" r="10.5"/><circle cx="953" cy="692" r="10.5"/><circle cx="898" cy="580" r="10.5"/><circle cx="1038" cy="618" r="10.5"/><circle cx="960" cy="719" r="10.5"/><circle cx="1167.4" cy="580.6" r="10.5"/><circle cx="1159" cy="378" r="10.5"/><circle cx="784" cy="702" r="10.5"/><circle cx="1020" cy="556" r="10.5"/><circle cx="925" cy="739" r="10.5"/><circle cx="1104" cy="648" r="10.5"/><circle cx="1080" cy="383" r="10.5"/><circle cx="906" cy="555" r="10.5"/><circle cx="968" cy="637" r="10.5"/><circle cx="771" cy="574" r="10.5"/><circle cx="1163" cy="563" r="10.5"/><circle cx="845" cy="751" r="10.5"/><circle cx="1050" cy="687" r="10.5"/><circle cx="1277" cy="392" r="10.5"/><circle cx="775" cy="692" r="10.5"/><circle cx="763" cy="661" r="10.5"/><circle cx="1123" cy="382" r="10.5"/><circle cx="970" cy="558" r="10.5"/><circle cx="1151" cy="600" r="10.5"/><circle cx="953" cy="721" r="10.5"/><circle cx="1011" cy="571" r="10.5"/><circle cx="1084" cy="481" r="10.5"/><circle cx="1362" cy="271" r="10.5"/><circle cx="1079" cy="435" r="10.5"/><circle cx="853" cy="598" r="10.5"/><circle cx="752" cy="694" r="10.5"/><circle cx="1344" cy="365" r="10.5"/><circle cx="1104" cy="434" r="10.5"/><circle cx="1177" cy="503" r="10.5"/><circle cx="1079" cy="567" r="10.5"/><circle cx="983" cy="469" r="10.5"/><circle cx="1173" cy="409" r="10.5"/><circle cx="825" cy="775" r="10.5"/><circle cx="950" cy="638" r="10.5"/><circle cx="1029" cy="523" r="10.5"/><circle cx="993" cy="676" r="10.5"/><circle cx="882" cy="669" r="10.5"/><circle cx="1399.5" cy="181" r="10.5"/><circle cx="1045" cy="442" r="10.5"/><circle cx="1039" cy="595" r="10.5"/><circle cx="789" cy="642" r="10.5"/><circle cx="1114" cy="423" r="10.5"/><circle cx="1331" cy="390" r="10.5"/><circle cx="745" cy="668" r="10.5"/><circle cx="1059" cy="384" r="10.5"/><circle cx="1191" cy="311" r="10.5"/><circle cx="1048" cy="632" r="10.5"/><circle cx="956.9" cy="772" r="10.5"/><circle cx="758" cy="740" r="10.5"/><circle cx="752" cy="699" r="10.5"/><circle cx="793" cy="645" r="10.5"/><circle cx="872.5" cy="771.4" r="10.5"/><circle cx="1015" cy="471" r="10.5"/><circle cx="1249" cy="476" r="10.5"/><circle cx="1243" cy="280" r="10.5"/><circle cx="1058" cy="603" r="10.5"/><circle cx="880" cy="526" r="10.5"/><circle cx="1200" cy="506" r="10.5"/><circle cx="1337" cy="337" r="10.5"/><circle cx="1209" cy="391" r="10.5"/><circle cx="1036" cy="714" r="10.5"/><circle cx="1123" cy="398" r="10.5"/><circle cx="817" cy="676" r="10.5"/><circle cx="991" cy="664" r="10.5"/><circle cx="1348" cy="324" r="10.5"/><circle cx="974" cy="495" r="10.5"/><circle cx="1065" cy="597" r="10.5"/><circle cx="816" cy="729" r="10.5"/><circle cx="1164" cy="333" r="10.5"/><circle cx="1071" cy="775.7" r="10.5"/><circle cx="958" cy="484" r="10.5"/><circle cx="778" cy="711" r="10.5"/><circle cx="968.7" cy="837.4" r="10.5"/><circle cx="1334" cy="351" r="10.5"/><circle cx="969" cy="618" r="10.5"/><circle cx="1212" cy="537" r="10.5"/><circle cx="1172" cy="485" r="10.5"/><circle cx="1217" cy="402" r="10.5"/><circle cx="1075" cy="393" r="10.5"/><circle cx="883" cy="560" r="10.5"/><circle cx="752" cy="651" r="10.5"/><circle cx="1020" cy="708" r="10.5"/><circle cx="1222" cy="533" r="10.5"/><circle cx="1124" cy="471" r="10.5"/><circle cx="1082" cy="513" r="10.5"/><circle cx="1224" cy="448" r="10.5"/><circle cx="1276.3" cy="272.6" r="10.5"/><circle cx="1280" cy="426" r="10.5"/><circle cx="1226" cy="394" r="10.5"/><circle cx="959" cy="616" r="10.5"/><circle cx="783" cy="778" r="10.5"/><circle cx="1211" cy="461" r="10.5"/><circle cx="1295" cy="471" r="10.5"/><circle cx="813" cy="599" r="10.5"/><circle cx="1261" cy="367" r="10.5"/><circle cx="1187" cy="437" r="10.5"/><circle cx="1341" cy="331" r="10.5"/><circle cx="953" cy="693" r="10.5"/><circle cx="1124" cy="483" r="10.5"/><circle cx="968" cy="505" r="10.5"/><circle cx="1157" cy="383" r="10.5"/><circle cx="1300" cy="441" r="10.5"/><circle cx="950" cy="728" r="10.5"/><circle cx="864" cy="643" r="10.5"/><circle cx="957" cy="512" r="10.5"/><circle cx="1177" cy="475" r="10.5"/><circle cx="1156" cy="533" r="10.5"/><circle cx="1015.8" cy="701.9" r="10.5"/><circle cx="925" cy="670" r="10.5"/><circle cx="1149" cy="452" r="10.5"/><circle cx="703" cy="670" r="10.5"/><circle cx="1123" cy="502" r="10.5"/><circle cx="891" cy="735" r="10.5"/><circle cx="1001" cy="562" r="10.5"/><circle cx="1000" cy="454" r="10.5"/><circle cx="1120" cy="552" r="10.5"/><circle cx="799" cy="702" r="10.5"/><circle cx="1025" cy="427" r="10.5"/><circle cx="1171" cy="416" r="10.5"/><circle cx="948" cy="639" r="10.5"/><circle cx="1376.9" cy="446.2" r="10.5"/><circle cx="1059" cy="643" r="10.5"/><circle cx="1222" cy="401" r="10.5"/><circle cx="1003" cy="565" r="10.5"/><circle cx="1138" cy="432" r="10.5"/><circle cx="733" cy="635" r="10.5"/><circle cx="1113" cy="356" r="10.5"/><circle cx="1063" cy="571" r="10.5"/><circle cx="1082.5" cy="286.3" r="10.5"/><circle cx="934.3" cy="762.6" r="10.5"/><circle cx="789" cy="729" r="10.5"/><circle cx="1081" cy="663" r="10.5"/><circle cx="876.8" cy="511" r="10.5"/><circle cx="997" cy="551" r="10.5"/><circle cx="949" cy="554" r="10.5"/><circle cx="1234" cy="436" r="10.5"/><circle cx="1204" cy="295" r="10.5"/><circle cx="1144" cy="622" r="10.5"/><circle cx="725" cy="726" r="10.5"/><circle cx="1116" cy="331" r="10.5"/><circle cx="1214" cy="408" r="10.5"/><circle cx="1173" cy="394" r="10.5"/><circle cx="1300" cy="304" r="10.5"/><circle cx="1007" cy="661" r="10.5"/><circle cx="722" cy="689" r="10.5"/><circle cx="1091" cy="606" r="10.5"/><circle cx="677" cy="569.4" r="10.5"/><circle cx="1197" cy="465" r="10.5"/><circle cx="1421" cy="333.2" r="10.5"/><circle cx="743" cy="659" r="10.5"/><circle cx="906" cy="515" r="10.5"/><circle cx="809" cy="659" r="10.5"/><circle cx="859" cy="703" r="10.5"/><circle cx="1324" cy="293" r="10.5"/><circle cx="863" cy="630" r="10.5"/><circle cx="938" cy="643" r="10.5"/><circle cx="1104" cy="554" r="10.5"/><circle cx="997" cy="616" r="10.5"/><circle cx="1117" cy="577" r="10.5"/><circle cx="768" cy="589" r="10.5"/><circle cx="883" cy="680" r="10.5"/><circle cx="764" cy="585" r="10.5"/><circle cx="958" cy="648" r="10.5"/><circle cx="791" cy="692" r="10.5"/><circle cx="987" cy="530" r="10.5"/><circle cx="996" cy="682" r="10.5"/><circle cx="1077" cy="424" r="10.5"/><circle cx="1097.1" cy="319.4" r="10.5"/><circle cx="830" cy="687" r="10.5"/><circle cx="1252" cy="489" r="10.5"/><circle cx="1145" cy="574" r="10.5"/><circle cx="1072" cy="354" r="10.5"/><circle cx="943" cy="690" r="10.5"/><circle cx="889" cy="552" r="10.5"/><circle cx="1329" cy="327" r="10.5"/><circle cx="1078" cy="514" r="10.5"/><circle cx="701" cy="674" r="10.5"/><circle cx="779" cy="785" r="10.5"/><circle cx="904" cy="608" r="10.5"/><circle cx="1349" cy="362" r="10.5"/><circle cx="926" cy="545" r="10.5"/><circle cx="748" cy="751" r="10.5"/><circle cx="1064" cy="640" r="10.5"/><circle cx="581.3" cy="864.8" r="10.5"/><circle cx="1012" cy="712" r="10.5"/><circle cx="1085" cy="378" r="10.5"/><circle cx="1152" cy="522" r="10.5"/><circle cx="1347" cy="337" r="10.5"/><circle cx="1070" cy="396" r="10.5"/><circle cx="1346" cy="326" r="10.5"/><circle cx="963" cy="470" r="10.5"/><circle cx="1200" cy="396" r="10.5"/><circle cx="743" cy="639" r="10.5"/><circle cx="767" cy="613" r="10.5"/><circle cx="1168" cy="402" r="10.5"/><circle cx="1327" cy="311" r="10.5"/><circle cx="881" cy="708" r="10.5"/><circle cx="928" cy="721" r="10.5"/><circle cx="1264" cy="378" r="10.5"/><circle cx="1105" cy="475" r="10.5"/><circle cx="1298" cy="446" r="10.5"/><circle cx="897" cy="621" r="10.5"/><circle cx="1361" cy="311" r="10.5"/><circle cx="1236" cy="403" r="10.5"/><circle cx="797" cy="758" r="10.5"/><circle cx="1125" cy="568" r="10.5"/><circle cx="846" cy="664" r="10.5"/><circle cx="986.5" cy="764.6" r="10.5"/><circle cx="1043" cy="652" r="10.5"/><circle cx="898" cy="636" r="10.5"/><circle cx="1134" cy="373" r="10.5"/><circle cx="836" cy="627" r="10.5"/><circle cx="1004" cy="584" r="10.5"/><circle cx="1030" cy="717" r="10.5"/><circle cx="1270" cy="310" r="10.5"/><circle cx="1109" cy="358" r="10.5"/><circle cx="1019" cy="710" r="10.5"/><circle cx="871" cy="743" r="10.5"/><circle cx="1150" cy="530" r="10.5"/><circle cx="906" cy="640" r="10.5"/><circle cx="1088" cy="553" r="10.5"/><circle cx="1146" cy="399" r="10.5"/><circle cx="719" cy="672" r="10.5"/><circle cx="873" cy="608" r="10.5"/><circle cx="942" cy="679" r="10.5"/><circle cx="989" cy="487" r="10.5"/><circle cx="1048" cy="686" r="10.5"/><circle cx="1323" cy="338" r="10.5"/><circle cx="1287" cy="381" r="10.5"/><circle cx="896" cy="634" r="10.5"/><circle cx="712" cy="734" r="10.5"/><circle cx="863" cy="508" r="10.5"/><circle cx="1187" cy="341" r="10.5"/><circle cx="833" cy="681" r="10.5"/><circle cx="1152" cy="584" r="10.5"/><circle cx="1143" cy="434" r="10.5"/><circle cx="777" cy="654" r="10.5"/><circle cx="1073" cy="446" r="10.5"/><circle cx="1080" cy="469" r="10.5"/><circle cx="1404.5" cy="330.4" r="10.5"/><circle cx="932" cy="585" r="10.5"/><circle cx="764" cy="808.5" r="10.5"/><circle cx="942" cy="582" r="10.5"/><circle cx="1089" cy="554" r="10.5"/><circle cx="1292" cy="424" r="10.5"/><circle cx="1110" cy="427" r="10.5"/><circle cx="972" cy="549" r="10.5"/><circle cx="1001" cy="466" r="10.5"/><circle cx="1169" cy="589" r="10.5"/><circle cx="959" cy="620" r="10.5"/><circle cx="1029" cy="562" r="10.5"/><circle cx="1233" cy="366" r="10.5"/><circle cx="877" cy="526" r="10.5"/><circle cx="1215" cy="332" r="10.5"/><circle cx="1056" cy="678" r="10.5"/><circle cx="1108" cy="592" r="10.5"/><circle cx="1167" cy="469" r="10.5"/><circle cx="1184" cy="566.8" r="10.5"/><circle cx="1356" cy="258" r="10.5"/><circle cx="1045" cy="553" r="10.5"/><circle cx="891" cy="677" r="10.5"/><circle cx="1130" cy="438" r="10.5"/><circle cx="1166" cy="524" r="10.5"/><circle cx="1078" cy="361" r="10.5"/><circle cx="889" cy="607" r="10.5"/><circle cx="771" cy="655" r="10.5"/><circle cx="1374" cy="289" r="10.5"/><circle cx="1204" cy="574" r="10.5"/><circle cx="1031" cy="446" r="10.5"/><circle cx="1046" cy="592" r="10.5"/><circle cx="1022" cy="526" r="10.5"/><circle cx="928" cy="598" r="10.5"/><circle cx="1265" cy="299" r="10.5"/><circle cx="1068" cy="508" r="10.5"/><circle cx="1342" cy="349" r="10.5"/><circle cx="1002" cy="596" r="10.5"/><circle cx="1173" cy="316" r="10.5"/><circle cx="1241" cy="506" r="10.5"/><circle cx="1006" cy="517" r="10.5"/><circle cx="1134" cy="534" r="10.5"/><circle cx="659.1" cy="474.3" r="10.5"/><circle cx="1202" cy="535" r="10.5"/><circle cx="725" cy="827.7" r="10.5"/><circle cx="1002" cy="659" r="10.5"/><circle cx="1085" cy="463" r="10.5"/><circle cx="1064" cy="570" r="10.5"/><circle cx="720" cy="649" r="10.5"/><circle cx="1090.3" cy="661.9" r="10.5"/><circle cx="981" cy="649" r="10.5"/><circle cx="733" cy="758" r="10.5"/><circle cx="1082" cy="378" r="10.5"/><circle cx="1192" cy="441" r="10.5"/><circle cx="834" cy="736" r="10.5"/><circle cx="822" cy="693" r="10.5"/><circle cx="1199" cy="435" r="10.5"/><circle cx="775" cy="765" r="10.5"/><circle cx="774" cy="590" r="10.5"/><circle cx="1146" cy="439" r="10.5"/><circle cx="867" cy="728" r="10.5"/><circle cx="1248" cy="284" r="10.5"/><circle cx="1182" cy="488" r="10.5"/><circle cx="1124" cy="511" r="10.5"/><circle cx="772" cy="671" r="10.5"/><circle cx="881" cy="785" r="10.5"/><circle cx="1004.3" cy="326.3" r="10.5"/><circle cx="991" cy="461" r="10.5"/><circle cx="947" cy="657" r="10.5"/><circle cx="1302.5" cy="471" r="10.5"/><circle cx="1227" cy="496" r="10.5"/><circle cx="1153" cy="580" r="10.5"/><circle cx="1263" cy="486" r="10.5"/><circle cx="1095" cy="632" r="10.5"/><circle cx="1254" cy="314" r="10.5"/><circle cx="1299" cy="363" r="10.5"/><circle cx="1088" cy="573" r="10.5"/><circle cx="846" cy="733" r="10.5"/><circle cx="1390.7" cy="495.1" r="10.5"/><circle cx="1003" cy="570" r="10.5"/><circle cx="1027" cy="595" r="10.5"/><circle cx="1255" cy="360" r="10.5"/><circle cx="707" cy="665" r="10.5"/><circle cx="853" cy="730" r="10.5"/><circle cx="1092" cy="385" r="10.5"/><circle cx="1148" cy="402" r="10.5"/><circle cx="999" cy="530" r="10.5"/><circle cx="982" cy="629" r="10.5"/><circle cx="921" cy="710" r="10.5"/><circle cx="1104" cy="597" r="10.5"/><circle cx="1069" cy="515" r="10.5"/><circle cx="1143" cy="476" r="10.5"/><circle cx="988" cy="611" r="10.5"/><circle cx="674.3" cy="685.2" r="10.5"/><circle cx="792" cy="768" r="10.5"/><circle cx="1174" cy="459" r="10.5"/><circle cx="1243" cy="409" r="10.5"/><circle cx="829" cy="762" r="10.5"/><circle cx="1062" cy="549" r="10.5"/><circle cx="1207" cy="554" r="10.5"/><circle cx="1004" cy="458" r="10.5"/><circle cx="1266" cy="283" r="10.5"/><circle cx="994" cy="709" r="10.5"/><circle cx="677.5" cy="874.5" r="10.5"/><circle cx="960" cy="584" r="10.5"/><circle cx="963" cy="566" r="10.5"/><circle cx="1227" cy="419" r="10.5"/><circle cx="1007.6" cy="715.6" r="10.5"/><circle cx="1256" cy="297" r="10.5"/><circle cx="1041" cy="660" r="10.5"/><circle cx="1018" cy="624" r="10.5"/><circle cx="1221" cy="452" r="10.5"/><circle cx="1265" cy="330" r="10.5"/><circle cx="1254" cy="461" r="10.5"/><circle cx="1102" cy="588" r="10.5"/><circle cx="1364" cy="277" r="10.5"/><circle cx="1140" cy="406" r="10.5"/><circle cx="1057" cy="591" r="10.5"/><circle cx="1276" cy="311" r="10.5"/><circle cx="1337" cy="425" r="10.5"/><circle cx="634.3" cy="630.6" r="10.5"/><circle cx="1312" cy="395" r="10.5"/><circle cx="934" cy="720" r="10.5"/><circle cx="965" cy="717" r="10.5"/><circle cx="1125" cy="354" r="10.5"/><circle cx="1161.9" cy="594.4" r="10.5"/><circle cx="927" cy="519" r="10.5"/><circle cx="753" cy="715" r="10.5"/><circle cx="883" cy="751" r="10.5"/><circle cx="1251" cy="528" r="10.5"/><circle cx="1302" cy="374" r="10.5"/><circle cx="808" cy="696" r="10.5"/><circle cx="1007" cy="440" r="10.5"/><circle cx="755" cy="657" r="10.5"/><circle cx="1328.7" cy="460" r="10.5"/><circle cx="757" cy="754" r="10.5"/><circle cx="1129" cy="541" r="10.5"/><circle cx="738" cy="689" r="10.5"/><circle cx="806" cy="664" r="10.5"/><circle cx="1368" cy="361" r="10.5"/><circle cx="1098" cy="460" r="10.5"/><circle cx="980" cy="488" r="10.5"/><circle cx="850" cy="758" r="10.5"/><circle cx="895" cy="577" r="10.5"/><circle cx="960" cy="545" r="10.5"/><circle cx="869" cy="695" r="10.5"/><circle cx="742" cy="684" r="10.5"/><circle cx="820" cy="764" r="10.5"/><circle cx="829" cy="702" r="10.5"/><circle cx="1351" cy="303" r="10.5"/><circle cx="752" cy="648" r="10.5"/><circle cx="1270" cy="307" r="10.5"/><circle cx="783" cy="750" r="10.5"/><circle cx="1320" cy="284" r="10.5"/><circle cx="1047" cy="523" r="10.5"/><circle cx="872" cy="697" r="10.5"/><circle cx="1173" cy="364" r="10.5"/><circle cx="842" cy="703" r="10.5"/><circle cx="1100" cy="343" r="10.5"/><circle cx="1254" cy="465" r="10.5"/><circle cx="1242" cy="345" r="10.5"/><circle cx="1048" cy="634" r="10.5"/><circle cx="1215" cy="376" r="10.5"/><circle cx="1127" cy="555" r="10.5"/><circle cx="1323" cy="401" r="10.5"/><circle cx="1055" cy="364" r="10.5"/><circle cx="1173" cy="519" r="10.5"/><circle cx="1341" cy="292" r="10.5"/><circle cx="1226" cy="339" r="10.5"/><circle cx="771" cy="697" r="10.5"/><circle cx="1207" cy="378" r="10.5"/><circle cx="1044" cy="687" r="10.5"/><circle cx="1328" cy="313" r="10.5"/><circle cx="1256" cy="298" r="10.5"/><circle cx="901" cy="681" r="10.5"/><circle cx="1118" cy="633" r="10.5"/><circle cx="825" cy="673" r="10.5"/><circle cx="957" cy="697" r="10.5"/><circle cx="1106" cy="530" r="10.5"/><circle cx="918" cy="563" r="10.5"/><circle cx="735" cy="694" r="10.5"/><circle cx="848" cy="704" r="10.5"/><circle cx="902" cy="546" r="10.5"/><circle cx="840" cy="727" r="10.5"/><circle cx="1156.4" cy="566.8" r="10.5"/><circle cx="1099" cy="501" r="10.5"/><circle cx="1006" cy="501" r="10.5"/><circle cx="1009" cy="687" r="10.5"/><circle cx="1100" cy="420" r="10.5"/><circle cx="1183" cy="564" r="10.5"/><circle cx="1172" cy="400" r="10.5"/><circle cx="1002" cy="616" r="10.5"/><circle cx="859" cy="726" r="10.5"/><circle cx="1295" cy="426" r="10.5"/><circle cx="1097" cy="453" r="10.5"/><circle cx="1222" cy="299" r="10.5"/><circle cx="955" cy="571" r="10.5"/><circle cx="1120" cy="519" r="10.5"/><circle cx="839" cy="750" r="10.5"/><circle cx="846" cy="618" r="10.5"/><circle cx="1105" cy="611" r="10.5"/><circle cx="1123" cy="547" r="10.5"/><circle cx="1001" cy="547" r="10.5"/><circle cx="874" cy="632" r="10.5"/><circle cx="906" cy="656" r="10.5"/><circle cx="1112" cy="596" r="10.5"/><circle cx="860" cy="659" r="10.5"/><circle cx="923" cy="662" r="10.5"/><circle cx="1104" cy="660" r="10.5"/><circle cx="750" cy="648" r="10.5"/><circle cx="1109" cy="445" r="10.5"/><circle cx="1202" cy="434" r="10.5"/><circle cx="1316" cy="412" r="10.5"/><circle cx="1239" cy="430" r="10.5"/><circle cx="756" cy="712" r="10.5"/><circle cx="1230" cy="458" r="10.5"/><circle cx="826" cy="760" r="10.5"/><circle cx="1255" cy="371" r="10.5"/><circle cx="929" cy="578" r="10.5"/><circle cx="1140" cy="443" r="10.5"/><circle cx="1016" cy="439" r="10.5"/><circle cx="989.9" cy="450.9" r="10.5"/><circle cx="898" cy="564" r="10.5"/><circle cx="1153" cy="494" r="10.5"/><circle cx="982" cy="745" r="10.5"/><circle cx="1033" cy="645" r="10.5"/><circle cx="806" cy="662" r="10.5"/><circle cx="786" cy="580" r="10.5"/><circle cx="722" cy="730" r="10.5"/><circle cx="1064" cy="680" r="10.5"/><circle cx="1012" cy="625" r="10.5"/><circle cx="1254" cy="486" r="10.5"/><circle cx="1303" cy="380" r="10.5"/><circle cx="1193" cy="574" r="10.5"/><circle cx="1265" cy="335" r="10.5"/><circle cx="696.7" cy="798.9" r="10.5"/><circle cx="1052" cy="565" r="10.5"/><circle cx="925" cy="690" r="10.5"/><circle cx="1054" cy="594" r="10.5"/><circle cx="1201" cy="372" r="10.5"/><circle cx="1165" cy="455" r="10.5"/><circle cx="1300" cy="402" r="10.5"/><circle cx="861" cy="546" r="10.5"/><circle cx="984.3" cy="366.3" r="10.5"/><circle cx="1268" cy="316" r="10.5"/><circle cx="863" cy="604" r="10.5"/><circle cx="922" cy="676" r="10.5"/><circle cx="848" cy="714" r="10.5"/><circle cx="826" cy="591" r="10.5"/><circle cx="1057" cy="562" r="10.5"/><circle cx="1298" cy="305" r="10.5"/><circle cx="959" cy="568" r="10.5"/><circle cx="1094" cy="569" r="10.5"/><circle cx="1036" cy="404" r="10.5"/><circle cx="796" cy="764" r="10.5"/><circle cx="1126.1" cy="577.8" r="10.5"/><circle cx="1188" cy="494" r="10.5"/><circle cx="864" cy="669" r="10.5"/><circle cx="761" cy="652" r="10.5"/><circle cx="806" cy="687" r="10.5"/><circle cx="1272" cy="350" r="10.5"/><circle cx="1083" cy="415" r="10.5"/><circle cx="1177" cy="491" r="10.5"/><circle cx="840" cy="731" r="10.5"/><circle cx="1087" cy="411" r="10.5"/><circle cx="911" cy="612" r="10.5"/><circle cx="1229" cy="363" r="10.5"/><circle cx="807" cy="585" r="10.5"/><circle cx="1235" cy="478" r="10.5"/><circle cx="1002" cy="510" r="10.5"/><circle cx="1328" cy="341" r="10.5"/><circle cx="1108" cy="439" r="10.5"/><circle cx="1097" cy="597" r="10.5"/><circle cx="1057" cy="482" r="10.5"/><circle cx="1161" cy="627" r="10.5"/><circle cx="956" cy="731" r="10.5"/><circle cx="877" cy="734" r="10.5"/><circle cx="1040" cy="564" r="10.5"/><circle cx="1261" cy="299" r="10.5"/><circle cx="938" cy="544" r="10.5"/><circle cx="1098" cy="589" r="10.5"/><circle cx="821" cy="742" r="10.5"/><circle cx="1003" cy="593" r="10.5"/><circle cx="1119" cy="437" r="10.5"/><circle cx="1180" cy="434" r="10.5"/><circle cx="1179" cy="324" r="10.5"/><circle cx="1138" cy="408" r="10.5"/><circle cx="1128" cy="385" r="10.5"/><circle cx="809" cy="729" r="10.5"/><circle cx="1053" cy="512" r="10.5"/><circle cx="1058" cy="664" r="10.5"/><circle cx="1186" cy="424" r="10.5"/><circle cx="1020" cy="454" r="10.5"/><circle cx="1015" cy="450" r="10.5"/><circle cx="644.8" cy="615.4" r="10.5"/><circle cx="903" cy="546" r="10.5"/><circle cx="1320" cy="344" r="10.5"/><circle cx="1183" cy="475" r="10.5"/><circle cx="1270" cy="396" r="10.5"/><circle cx="1029" cy="584" r="10.5"/><circle cx="1067" cy="530" r="10.5"/><circle cx="1064" cy="489" r="10.5"/><circle cx="1149" cy="445" r="10.5"/><circle cx="744" cy="736" r="10.5"/><circle cx="909" cy="710" r="10.5"/><circle cx="1223" cy="290" r="10.5"/><circle cx="944" cy="556" r="10.5"/><circle cx="1031" cy="608" r="10.5"/><circle cx="964" cy="588" r="10.5"/><circle cx="1137.1" cy="604" r="10.5"/><circle cx="890" cy="722" r="10.5"/><circle cx="741" cy="627" r="10.5"/><circle cx="756" cy="679" r="10.5"/><circle cx="883" cy="742" r="10.5"/><circle cx="991" cy="563" r="10.5"/><circle cx="1179" cy="318" r="10.5"/><circle cx="1376.9" cy="388.3" r="10.5"/><circle cx="1025" cy="697" r="10.5"/><circle cx="990" cy="513" r="10.5"/><circle cx="1077" cy="619" r="10.5"/><circle cx="625.5" cy="553.4" r="10.5"/><circle cx="1153" cy="396" r="10.5"/><circle cx="1024" cy="625" r="10.5"/><circle cx="614.3" cy="802.2" r="10.5"/><circle cx="729.7" cy="862.1" r="10.5"/><circle cx="1239" cy="484" r="10.5"/><circle cx="1011" cy="555" r="10.5"/><circle cx="943" cy="508" r="10.5"/><circle cx="1073" cy="674" r="10.5"/><circle cx="997" cy="551" r="10.5"/><circle cx="995" cy="703" r="10.5"/><circle cx="1161" cy="548" r="10.5"/><circle cx="1040.6" cy="644" r="10.5"/><circle cx="1180" cy="305" r="10.5"/><circle cx="801" cy="640" r="10.5"/><circle cx="1268" cy="308" r="10.5"/><circle cx="805" cy="719" r="10.5"/><circle cx="1190" cy="505" r="10.5"/><circle cx="1054" cy="599" r="10.5"/><circle cx="1257" cy="366" r="10.5"/><circle cx="1050" cy="493" r="10.5"/><circle cx="724" cy="715" r="10.5"/><circle cx="901" cy="693" r="10.5"/><circle cx="891" cy="734" r="10.5"/><circle cx="1291" cy="424" r="10.5"/><circle cx="1100" cy="430" r="10.5"/><circle cx="1111" cy="465" r="10.5"/><circle cx="879" cy="705" r="10.5"/><circle cx="1104" cy="363" r="10.5"/><circle cx="939" cy="644" r="10.5"/><circle cx="913" cy="597" r="10.5"/><circle cx="1089" cy="605" r="10.5"/><circle cx="1332" cy="406" r="10.5"/><circle cx="800" cy="682" r="10.5"/><circle cx="1066" cy="556" r="10.5"/><circle cx="1119" cy="398" r="10.5"/><circle cx="1314.9" cy="289.1" r="10.5"/><circle cx="1002" cy="479" r="10.5"/><circle cx="1058" cy="403" r="10.5"/><circle cx="1282" cy="372" r="10.5"/><circle cx="784" cy="591" r="10.5"/><circle cx="1042" cy="460" r="10.5"/><circle cx="1366" cy="335" r="10.5"/><circle cx="838" cy="588" r="10.5"/><circle cx="917" cy="677" r="10.5"/><circle cx="779" cy="746" r="10.5"/><circle cx="924" cy="532" r="10.5"/><circle cx="1110" cy="499" r="10.5"/><circle cx="752" cy="720" r="10.5"/><circle cx="866" cy="684" r="10.5"/><circle cx="1336" cy="290" r="10.5"/><circle cx="1169" cy="542" r="10.5"/><circle cx="1222" cy="545" r="10.5"/><circle cx="1220" cy="515" r="10.5"/><circle cx="1035.1" cy="313.1" r="10.5"/><circle cx="776" cy="638" r="10.5"/><circle cx="1165" cy="344" r="10.5"/><circle cx="1225.3" cy="294.6" r="10.5"/><circle cx="1014" cy="568" r="10.5"/><circle cx="1477" cy="368.5" r="10.5"/><circle cx="760" cy="722" r="10.5"/><circle cx="1290" cy="329" r="10.5"/><circle cx="985" cy="574" r="10.5"/><circle cx="1227" cy="344" r="10.5"/><circle cx="852" cy="602" r="10.5"/><circle cx="1116" cy="431" r="10.5"/><circle cx="812" cy="585" r="10.5"/><circle cx="1287" cy="460" r="10.5"/><circle cx="573.9" cy="976.1" r="10.5"/><circle cx="1070" cy="528" r="10.5"/><circle cx="1022" cy="647" r="10.5"/><circle cx="762" cy="697" r="10.5"/><circle cx="1202" cy="426" r="10.5"/><circle cx="961" cy="499" r="10.5"/><circle cx="1227" cy="456" r="10.5"/><circle cx="1220" cy="371" r="10.5"/><circle cx="702" cy="676" r="10.5"/><circle cx="1056" cy="471" r="10.5"/><circle cx="1190" cy="476" r="10.5"/><circle cx="1099" cy="582" r="10.5"/><circle cx="906" cy="494" r="10.5"/><circle cx="559.3" cy="889.6" r="10.5"/><circle cx="1300" cy="331" r="10.5"/><circle cx="765" cy="756" r="10.5"/><circle cx="1341.1" cy="437.9" r="10.5"/><circle cx="1078" cy="650" r="10.5"/><circle cx="1097" cy="382" r="10.5"/><circle cx="975" cy="448" r="10.5"/><circle cx="1244.6" cy="269.8" r="10.5"/><circle cx="1042" cy="626" r="10.5"/><circle cx="996" cy="482" r="10.5"/><circle cx="1082" cy="356" r="10.5"/><circle cx="1023" cy="552" r="10.5"/><circle cx="941" cy="502" r="10.5"/><circle cx="946" cy="658" r="10.5"/><circle cx="924" cy="528" r="10.5"/><circle cx="1226" cy="372" r="10.5"/><circle cx="834" cy="680" r="10.5"/><circle cx="1205" cy="372" r="10.5"/><circle cx="1133" cy="424" r="10.5"/><circle cx="957" cy="446" r="10.5"/><circle cx="802" cy="616" r="10.5"/><circle cx="1222" cy="509" r="10.5"/><circle cx="1361" cy="337" r="10.5"/><circle cx="867" cy="640" r="10.5"/><circle cx="834.1" cy="830.5" r="10.5"/><circle cx="994" cy="599" r="10.5"/><circle cx="1135" cy="456" r="10.5"/><circle cx="891" cy="588" r="10.5"/><circle cx="810" cy="677" r="10.5"/><circle cx="807" cy="591" r="10.5"/><circle cx="1273" cy="484" r="10.5"/><circle cx="1162" cy="452" r="10.5"/><circle cx="1158" cy="539" r="10.5"/><circle cx="1017" cy="685" r="10.5"/><circle cx="931" cy="579" r="10.5"/><circle cx="750" cy="625" r="10.5"/><circle cx="858" cy="756" r="10.5"/><circle cx="1206" cy="318" r="10.5"/><circle cx="1186" cy="327" r="10.5"/><circle cx="685.7" cy="753.6" r="10.5"/><circle cx="1067" cy="395" r="10.5"/><circle cx="1223" cy="348" r="10.5"/><circle cx="848" cy="704" r="10.5"/><circle cx="832" cy="624" r="10.5"/><circle cx="1080" cy="387" r="10.5"/><circle cx="1162" cy="499" r="10.5"/><circle cx="868" cy="549" r="10.5"/><circle cx="1042" cy="392" r="10.5"/><circle cx="1042" cy="586" r="10.5"/><circle cx="1068" cy="600" r="10.5"/><circle cx="1024" cy="553" r="10.5"/><circle cx="1192" cy="497" r="10.5"/><circle cx="881" cy="697" r="10.5"/><circle cx="1284" cy="486" r="10.5"/><circle cx="821" cy="568" r="10.5"/><circle cx="1010" cy="572" r="10.5"/><circle cx="697" cy="681" r="10.5"/><circle cx="981" cy="522" r="10.5"/><circle cx="854" cy="533" r="10.5"/><circle cx="933" cy="505" r="10.5"/><circle cx="1228" cy="363" r="10.5"/><circle cx="1361.8" cy="451.7" r="10.5"/><circle cx="1058" cy="506" r="10.5"/><circle cx="893" cy="569" r="10.5"/><circle cx="914" cy="626" r="10.5"/><circle cx="1126" cy="568" r="10.5"/><circle cx="1166.6" cy="628.3" r="10.5"/><circle cx="730" cy="754" r="10.5"/><circle cx="1160" cy="548" r="10.5"/><circle cx="1114" cy="529" r="10.5"/><circle cx="924" cy="655" r="10.5"/><circle cx="740.4" cy="609.4" r="10.5"/><circle cx="1120" cy="377" r="10.5"/><circle cx="931" cy="607" r="10.5"/><circle cx="801" cy="619" r="10.5"/><circle cx="707" cy="689" r="10.5"/><circle cx="1083" cy="531" r="10.5"/><circle cx="1001" cy="398" r="10.5"/><circle cx="1087" cy="526" r="10.5"/><circle cx="955" cy="538" r="10.5"/><circle cx="915" cy="614" r="10.5"/><circle cx="1051" cy="518" r="10.5"/><circle cx="1266" cy="319" r="10.5"/><circle cx="1156" cy="361" r="10.5"/><circle cx="1275" cy="367" r="10.5"/><circle cx="1100" cy="541" r="10.5"/><circle cx="1242" cy="369" r="10.5"/><circle cx="876" cy="567" r="10.5"/><circle cx="945" cy="732" r="10.5"/><circle cx="884" cy="605" r="10.5"/><circle cx="1025" cy="592" r="10.5"/><circle cx="666" cy="524.5" r="10.5"/><circle cx="995" cy="565" r="10.5"/><circle cx="883" cy="554" r="10.5"/><circle cx="771" cy="714" r="10.5"/><circle cx="1327" cy="288" r="10.5"/><circle cx="935" cy="606" r="10.5"/><circle cx="948" cy="726" r="10.5"/><circle cx="939.8" cy="761.8" r="10.5"/><circle cx="1212" cy="305" r="10.5"/><circle cx="1277" cy="477" r="10.5"/><circle cx="743.2" cy="592.8" r="10.5"/><circle cx="785" cy="732" r="10.5"/><circle cx="765" cy="602" r="10.5"/><circle cx="874" cy="662" r="10.5"/><circle cx="763.8" cy="595.6" r="10.5"/></g>
<g clip-path="url(#cl)"><path class="dl" stroke="#111111" stroke-dashoffset="0" d="M401.2 1132.5L1602.5 9.6"/></g>
<g class="p"><circle cx="1126" cy="331" r="10.5"/><circle cx="962" cy="522" r="10.5"/><circle cx="1019" cy="401" r="10.5"/><circle cx="713" cy="696" r="10.5"/><circle cx="890" cy="508" r="10.5"/><circle cx="1343" cy="350" r="10.5"/><circle cx="862" cy="694" r="10.5"/><circle cx="1262" cy="321" r="10.5"/><circle cx="1074" cy="527" r="10.5"/><circle cx="1148" cy="495" r="10.5"/><circle cx="960" cy="569" r="10.5"/><circle cx="843" cy="568" r="10.5"/><circle cx="775" cy="672" r="10.5"/><circle cx="1415.5" cy="338.2" r="10.5"/><circle cx="902" cy="563" r="10.5"/><circle cx="969" cy="646" r="10.5"/><circle cx="1282" cy="299" r="10.5"/><circle cx="1132" cy="609" r="10.5"/><circle cx="1160" cy="585" r="10.5"/><circle cx="1113" cy="374" r="10.5"/><circle cx="1020" cy="428" r="10.5"/><circle cx="948" cy="511" r="10.5"/><circle cx="1337" cy="338" r="10.5"/><circle cx="792" cy="610" r="10.5"/><circle cx="1119" cy="366" r="10.5"/><circle cx="753" cy="601" r="10.5"/><circle cx="1354.9" cy="359.4" r="10.5"/><circle cx="789" cy="617" r="10.5"/><circle cx="747" cy="649" r="10.5"/><circle cx="1037" cy="460" r="10.5"/><circle cx="1162" cy="381" r="10.5"/><circle cx="1298" cy="461" r="10.5"/><circle cx="927" cy="672" r="10.5"/><circle cx="1188" cy="537" r="10.5"/><circle cx="1013" cy="569" r="10.5"/><circle cx="916" cy="517" r="10.5"/><circle cx="1137" cy="600" r="10.5"/><circle cx="1294" cy="411" r="10.5"/><circle cx="1314" cy="419" r="10.5"/><circle cx="1188" cy="380" r="10.5"/><circle cx="897" cy="610" r="10.5"/><circle cx="854" cy="588" r="10.5"/><circle cx="1135" cy="324" r="10.5"/><circle cx="1149" cy="476" r="10.5"/><circle cx="1069" cy="550" r="10.5"/><circle cx="988" cy="643" r="10.5"/><circle cx="1155" cy="467" r="10.5"/><circle cx="923" cy="536" r="10.5"/><circle cx="1167" cy="504" r="10.5"/><circle cx="743" cy="642" r="10.5"/><circle cx="1029" cy="580" r="10.5"/><circle cx="1193" cy="468" r="10.5"/><circle cx="696" cy="714" r="10.5"/><circle cx="1318" cy="389" r="10.5"/><circle cx="902" cy="525" r="10.5"/><circle cx="910" cy="664" r="10.5"/><circle cx="911" cy="603" r="10.5"/><circle cx="1342" cy="300" r="10.5"/><circle cx="1264" cy="370" r="10.5"/><circle cx="869" cy="764" r="10.5"/><circle cx="708.2" cy="766.8" r="10.5"/><circle cx="992" cy="477" r="10.5"/><circle cx="978" cy="515" r="10.5"/><circle cx="1251" cy="310" r="10.5"/><circle cx="1122" cy="472" r="10.5"/><circle cx="1262" cy="433" r="10.5"/><circle cx="754" cy="595" r="10.5"/><circle cx="1349" cy="323" r="10.5"/><circle cx="1254" cy="295" r="10.5"/><circle cx="940" cy="602" r="10.5"/><circle cx="1069" cy="652" r="10.5"/><circle cx="913" cy="635" r="10.5"/><circle cx="1275" cy="430" r="10.5"/><circle cx="1058" cy="437" r="10.5"/><circle cx="733" cy="651" r="10.5"/><circle cx="1296" cy="290" r="10.5"/><circle cx="1303" cy="339" r="10.5"/><circle cx="1270" cy="419" r="10.5"/><circle cx="814" cy="682" r="10.5"/><circle cx="1118" cy="409" r="10.5"/><circle cx="1148" cy="508" r="10.5"/><circle cx="1116" cy="392" r="10.5"/><circle cx="770" cy="636" r="10.5"/><circle cx="1205" cy="339" r="10.5"/><circle cx="650" cy="782.4" r="10.5"/><circle cx="1157" cy="545" r="10.5"/><circle cx="1147" cy="526" r="10.5"/><circle cx="1200" cy="331" r="10.5"/><circle cx="1176" cy="335" r="10.5"/><circle cx="1073" cy="686" r="10.5"/><circle cx="1240" cy="291" r="10.5"/><circle cx="851" cy="703" r="10.5"/><circle cx="914" cy="738" r="10.5"/><circle cx="783" cy="623" r="10.5"/><circle cx="863" cy="749" r="10.5"/><circle cx="731" cy="685" r="10.5"/><circle cx="1043" cy="572" r="10.5"/><circle cx="1317" cy="396" r="10.5"/><circle cx="1122" cy="365" r="10.5"/><circle cx="787" cy="744" r="10.5"/><circle cx="1120" cy="589" r="10.5"/><circle cx="832" cy="744" r="10.5"/><circle cx="789" cy="645" r="10.5"/><circle cx="1064" cy="646" r="10.5"/><circle cx="890" cy="554" r="10.5"/><circle cx="807" cy="618" r="10.5"/><circle cx="737" cy="689" r="10.5"/><circle cx="1265" cy="401" r="10.5"/><circle cx="1045" cy="453" r="10.5"/><circle cx="822" cy="750" r="10.5"/><circle cx="798" cy="676" r="10.5"/><circle cx="1337" cy="308" r="10.5"/><circle cx="962" cy="624" r="10.5"/><circle cx="1059" cy="490" r="10.5"/><circle cx="1235" cy="459" r="10.5"/><circle cx="1205" cy="500" r="10.5"/><circle cx="1048" cy="626" r="10.5"/><circle cx="1251.5" cy="257.4" r="10.5"/><circle cx="1305" cy="417" r="10.5"/><circle cx="998" cy="521" r="10.5"/><circle cx="1124" cy="540" r="10.5"/><circle cx="921" cy="513" r="10.5"/><circle cx="1053" cy="582" r="10.5"/><circle cx="978" cy="552" r="10.5"/><circle cx="1050" cy="603" r="10.5"/><circle cx="778" cy="676" r="10.5"/><circle cx="1066" cy="437" r="10.5"/><circle cx="857" cy="610" r="10.5"/><circle cx="1221" cy="478" r="10.5"/><circle cx="1122" cy="492" r="10.5"/><circle cx="1322" cy="269" r="10.5"/><circle cx="1042" cy="666" r="10.5"/><circle cx="1305.2" cy="484.8" r="10.5"/><circle cx="910" cy="671" r="10.5"/><circle cx="1180" cy="422" r="10.5"/><circle cx="939" cy="653" r="10.5"/><circle cx="993" cy="437" r="10.5"/><circle cx="1249" cy="436" r="10.5"/><circle cx="802" cy="676" r="10.5"/><circle cx="892" cy="753" r="10.5"/><circle cx="1269" cy="467" r="10.5"/><circle cx="953" cy="673" r="10.5"/><circle cx="838" cy="702" r="10.5"/><circle cx="1242" cy="307" r="10.5"/><circle cx="984" cy="561" r="10.5"/><circle cx="1093" cy="393" r="10.5"/><circle cx="1158" cy="432" r="10.5"/><circle cx="893" cy="728" r="10.5"/><circle cx="839" cy="573" r="10.5"/><circle cx="803" cy="615" r="10.5"/><circle cx="967" cy="553" r="10.5"/><circle cx="864" cy="585" r="10.5"/><circle cx="968" cy="513" r="10.5"/><circle cx="982" cy="699" r="10.5"/><circle cx="778" cy="723" r="10.5"/><circle cx="1158" cy="410" r="10.5"/><circle cx="774" cy="598" r="10.5"/><circle cx="904" cy="547" r="10.5"/><circle cx="1042" cy="614" r="10.5"/><circle cx="1114" cy="395" r="10.5"/><circle cx="1034" cy="635" r="10.5"/><circle cx="859" cy="642" r="10.5"/><circle cx="1132" cy="620" r="10.5"/><circle cx="1175" cy="395" r="10.5"/><circle cx="1229" cy="527" r="10.5"/><circle cx="727" cy="697" r="10.5"/><circle cx="1319" cy="297" r="10.5"/><circle cx="1099" cy="428" r="10.5"/><circle cx="875" cy="656" r="10.5"/><circle cx="1080" cy="562" r="10.5"/><circle cx="798" cy="636" r="10.5"/><circle cx="710" cy="692" r="10.5"/><circle cx="993" cy="569" r="10.5"/><circle cx="867" cy="648" r="10.5"/><circle cx="933" cy="522" r="10.5"/><circle cx="948" cy="677" r="10.5"/><circle cx="484.6" cy="915.7" r="10.5"/><circle cx="1149" cy="582" r="10.5"/><circle cx="1080" cy="596" r="10.5"/><circle cx="1015" cy="434" r="10.5"/><circle cx="1154" cy="403" r="10.5"/><circle cx="1116" cy="356" r="10.5"/><circle cx="893" cy="489" r="10.5"/><circle cx="816" cy="662" r="10.5"/><circle cx="1036" cy="403" r="10.5"/><circle cx="922" cy="704" r="10.5"/><circle cx="714.2" cy="542.7" r="10.5"/><circle cx="766" cy="640" r="10.5"/><circle cx="1125" cy="370" r="10.5"/><circle cx="952" cy="632" r="10.5"/><circle cx="1201" cy="317" r="10.5"/><circle cx="1268" cy="441" r="10.5"/><circle cx="960" cy="657" r="10.5"/><circle cx="1111" cy="463" r="10.5"/><circle cx="1245" cy="379" r="10.5"/><circle cx="769" cy="580" r="10.5"/><circle cx="976" cy="458" r="10.5"/><circle cx="1144" cy="544" r="10.5"/><circle cx="933" cy="475" r="10.5"/><circle cx="784" cy="757" r="10.5"/><circle cx="1153" cy="355" r="10.5"/><circle cx="894" cy="695" r="10.5"/><circle cx="968" cy="685" r="10.5"/><circle cx="1212" cy="451" r="10.5"/><circle cx="829" cy="635" r="10.5"/><circle cx="834" cy="637" r="10.5"/><circle cx="696.3" cy="701.7" r="10.5"/><circle cx="934" cy="529" r="10.5"/><circle cx="728" cy="601" r="10.5"/><circle cx="922" cy="684" r="10.5"/><circle cx="1236" cy="456" r="10.5"/><circle cx="1066.8" cy="654.4" r="10.5"/><circle cx="815" cy="754" r="10.5"/><circle cx="1307" cy="317" r="10.5"/><circle cx="945" cy="557" r="10.5"/><circle cx="1109" cy="344" r="10.5"/><circle cx="1009" cy="569" r="10.5"/><circle cx="894" cy="651" r="10.5"/><circle cx="1276" cy="508" r="10.5"/><circle cx="859" cy="657" r="10.5"/><circle cx="1167" cy="444" r="10.5"/><circle cx="1114" cy="454" r="10.5"/><circle cx="834.9" cy="858.5" r="10.5"/><circle cx="1150" cy="347" r="10.5"/><circle cx="1204" cy="557" r="10.5"/><circle cx="1154" cy="313" r="10.5"/><circle cx="951" cy="519" r="10.5"/><circle cx="1025" cy="507" r="10.5"/><circle cx="1268" cy="285" r="10.5"/><circle cx="1135" cy="366" r="10.5"/><circle cx="1080" cy="625" r="10.5"/><circle cx="1095" cy="627" r="10.5"/><circle cx="1109" cy="461" r="10.5"/><circle cx="1155" cy="466" r="10.5"/><circle cx="1127" cy="492" r="10.5"/><circle cx="1082" cy="604" r="10.5"/><circle cx="1133" cy="459" r="10.5"/><circle cx="1213" cy="323" r="10.5"/><circle cx="1051" cy="510" r="10.5"/><circle cx="1011" cy="678" r="10.5"/><circle cx="902" cy="537" r="10.5"/><circle cx="757" cy="658" r="10.5"/><circle cx="894" cy="524" r="10.5"/><circle cx="1237" cy="532" r="10.5"/><circle cx="794" cy="619" r="10.5"/><circle cx="875" cy="574" r="10.5"/><circle cx="1183" cy="521" r="10.5"/><circle cx="1129" cy="363" r="10.5"/><circle cx="875" cy="647" r="10.5"/><circle cx="1258" cy="489" r="10.5"/><circle cx="929" cy="595" r="10.5"/><circle cx="1110" cy="533" r="10.5"/><circle cx="877" cy="707" r="10.5"/><circle cx="921" cy="542" r="10.5"/><circle cx="1115" cy="402" r="10.5"/><circle cx="965" cy="630" r="10.5"/><circle cx="963" cy="677" r="10.5"/><circle cx="939" cy="689" r="10.5"/><circle cx="730" cy="716" r="10.5"/><circle cx="1361.8" cy="298.7" r="10.5"/><circle cx="890" cy="756" r="10.5"/><circle cx="816" cy="595" r="10.5"/><circle cx="743" cy="687" r="10.5"/><circle cx="1378.3" cy="353.9" r="10.5"/><circle cx="1112" cy="560" r="10.5"/><circle cx="831" cy="655" r="10.5"/><circle cx="829" cy="630" r="10.5"/><circle cx="1090" cy="590" r="10.5"/><circle cx="1200" cy="424" r="10.5"/><circle cx="726" cy="699" r="10.5"/><circle cx="961" cy="555" r="10.5"/><circle cx="1146" cy="506" r="10.5"/><circle cx="989" cy="659" r="10.5"/><circle cx="1108" cy="595" r="10.5"/><circle cx="1304" cy="402" r="10.5"/><circle cx="986.5" cy="737.1" r="10.5"/><circle cx="1101" cy="604" r="10.5"/><circle cx="960" cy="714" r="10.5"/><circle cx="1112" cy="512" r="10.5"/><circle cx="1064" cy="520" r="10.5"/><circle cx="924" cy="727" r="10.5"/><circle cx="1338" cy="260" r="10.5"/><circle cx="1073.2" cy="783.2" r="10.5"/><circle cx="1263" cy="345" r="10.5"/><circle cx="954" cy="466" r="10.5"/><circle cx="1066" cy="501" r="10.5"/><circle cx="895" cy="687" r="10.5"/><circle cx="864" cy="624" r="10.5"/><circle cx="763" cy="629" r="10.5"/><circle cx="1001" cy="590" r="10.5"/><circle cx="807" cy="635" r="10.5"/><circle cx="1261" cy="467" r="10.5"/><circle cx="674.3" cy="737.6" r="10.5"/><circle cx="1189" cy="522" r="10.5"/><circle cx="732" cy="686" r="10.5"/><circle cx="1047" cy="425" r="10.5"/><circle cx="1047" cy="655" r="10.5"/><circle cx="891" cy="777" r="10.5"/><circle cx="1139" cy="614" r="10.5"/><circle cx="1202" cy="422" r="10.5"/><circle cx="1211" cy="386" r="10.5"/><circle cx="1132" cy="579" r="10.5"/><circle cx="761" cy="726" r="10.5"/><circle cx="1015" cy="689" r="10.5"/><circle cx="905" cy="598" r="10.5"/><circle cx="1053" cy="477" r="10.5"/><circle cx="774" cy="748" r="10.5"/><circle cx="868" cy="765" r="10.5"/><circle cx="817" cy="690" r="10.5"/><circle cx="1044" cy="455" r="10.5"/><circle cx="888" cy="536" r="10.5"/><circle cx="978" cy="460" r="10.5"/><circle cx="801" cy="539.1" r="10.5"/><circle cx="1299" cy="327" r="10.5"/><circle cx="768" cy="727" r="10.5"/><circle cx="1107" cy="496" r="10.5"/><circle cx="917.6" cy="414.2" r="10.5"/><circle cx="1005" cy="533" r="10.5"/><circle cx="770" cy="636" r="10.5"/><circle cx="1157" cy="609" r="10.5"/><circle cx="949" cy="542" r="10.5"/><circle cx="1027" cy="391" r="10.5"/><circle cx="757" cy="612" r="10.5"/><circle cx="1030" cy="461" r="10.5"/><circle cx="1066" cy="612" r="10.5"/><circle cx="946" cy="744" r="10.5"/><circle cx="1008" cy="542" r="10.5"/><circle cx="1177" cy="414" r="10.5"/><circle cx="956" cy="636" r="10.5"/><circle cx="1114.2" cy="728" r="10.5"/><circle cx="1259" cy="463" r="10.5"/><circle cx="913" cy="702" r="10.5"/><circle cx="1261" cy="471" r="10.5"/><circle cx="1185" cy="462" r="10.5"/><circle cx="1051" cy="690" r="10.5"/><circle cx="702" cy="686" r="10.5"/><circle cx="1321" cy="270" r="10.5"/><circle cx="751" cy="748" r="10.5"/><circle cx="869" cy="611" r="10.5"/><circle cx="760" cy="716" r="10.5"/><circle cx="1190" cy="382" r="10.5"/><circle cx="1142" cy="305" r="10.5"/><circle cx="848" cy="722" r="10.5"/><circle cx="986" cy="554" r="10.5"/><circle cx="717" cy="718" r="10.5"/><circle cx="979" cy="701" r="10.5"/><circle cx="1211" cy="404" r="10.5"/><circle cx="1303" cy="408" r="10.5"/><circle cx="1216" cy="532" r="10.5"/><circle cx="1189" cy="500" r="10.5"/><circle cx="1284" cy="265" r="10.5"/><circle cx="1106" cy="496" r="10.5"/><circle cx="1103" cy="615" r="10.5"/><circle cx="910" cy="562" r="10.5"/><circle cx="1226" cy="444" r="10.5"/><circle cx="919" cy="721" r="10.5"/><circle cx="1024" cy="693" r="10.5"/><circle cx="1217" cy="505" r="10.5"/><circle cx="858" cy="711" r="10.5"/><circle cx="826" cy="755" r="10.5"/><circle cx="1064" cy="450" r="10.5"/><circle cx="1237" cy="458" r="10.5"/><circle cx="1209" cy="441" r="10.5"/><circle cx="918" cy="738" r="10.5"/><circle cx="1224" cy="396" r="10.5"/><circle cx="1301" cy="465" r="10.5"/><circle cx="1268" cy="290" r="10.5"/><circle cx="988" cy="511" r="10.5"/><circle cx="1336" cy="405" r="10.5"/><circle cx="581.9" cy="638.3" r="10.5"/><circle cx="797" cy="671" r="10.5"/><circle cx="1071" cy="425" r="10.5"/><circle cx="918" cy="517" r="10.5"/><circle cx="1160" cy="505" r="10.5"/><circle cx="1178" cy="566" r="10.5"/><circle cx="1164" cy="443" r="10.5"/><circle cx="970" cy="484" r="10.5"/><circle cx="1252" cy="368" r="10.5"/><circle cx="877" cy="733" r="10.5"/><circle cx="1184" cy="415" r="10.5"/><circle cx="891" cy="671" r="10.5"/><circle cx="973.3" cy="472.9" r="10.5"/><circle cx="1072" cy="650" r="10.5"/><circle cx="1115" cy="522" r="10.5"/><circle cx="806" cy="696" r="10.5"/><circle cx="880" cy="707" r="10.5"/><circle cx="1061" cy="478" r="10.5"/><circle cx="905" cy="540" r="10.5"/><circle cx="1154" cy="551" r="10.5"/><circle cx="1089" cy="370" r="10.5"/><circle cx="905" cy="735" r="10.5"/><circle cx="1197" cy="462" r="10.5"/><circle cx="881" cy="610" r="10.5"/><circle cx="1259" cy="333" r="10.5"/><circle cx="1206" cy="383" r="10.5"/><circle cx="979" cy="598" r="10.5"/><circle cx="1113" cy="509" r="10.5"/><circle cx="902" cy="604" r="10.5"/><circle cx="984" cy="520" r="10.5"/><circle cx="1113" cy="346" r="10.5"/><circle cx="875" cy="614" r="10.5"/><circle cx="1015" cy="657" r="10.5"/><circle cx="1061" cy="449" r="10.5"/><circle cx="1057" cy="523" r="10.5"/><circle cx="1025" cy="474" r="10.5"/><circle cx="1234" cy="306" r="10.5"/><circle cx="864" cy="756" r="10.5"/><circle cx="1151" cy="438" r="10.5"/><circle cx="921" cy="475" r="10.5"/><circle cx="795" cy="722" r="10.5"/><circle cx="1133" cy="407" r="10.5"/><circle cx="819.5" cy="800.3" r="10.5"/><circle cx="744" cy="630" r="10.5"/><circle cx="958" cy="682" r="10.5"/><circle cx="1116" cy="582" r="10.5"/><circle cx="940" cy="714" r="10.5"/><circle cx="1056" cy="598" r="10.5"/><circle cx="914" cy="678" r="10.5"/><circle cx="1313.5" cy="261.5" r="10.5"/><circle cx="602.7" cy="859.3" r="10.5"/><circle cx="1083" cy="626" r="10.5"/><circle cx="1016" cy="540" r="10.5"/><circle cx="693" cy="674" r="10.5"/><circle cx="1073" cy="569" r="10.5"/><circle cx="1084" cy="525" r="10.5"/><circle cx="1024" cy="484" r="10.5"/><circle cx="1117" cy="634" r="10.5"/><circle cx="1243" cy="520" r="10.5"/><circle cx="828" cy="654" r="10.5"/><circle cx="1177" cy="394" r="10.5"/><circle cx="812" cy="691" r="10.5"/><circle cx="852" cy="612" r="10.5"/><circle cx="953" cy="587" r="10.5"/><circle cx="884.3" cy="349.7" r="10.5"/><circle cx="1289" cy="472" r="10.5"/><circle cx="747" cy="736" r="10.5"/><circle cx="1364" cy="357" r="10.5"/><circle cx="1295" cy="360" r="10.5"/><circle cx="886" cy="668" r="10.5"/><circle cx="1158" cy="603" r="10.5"/><circle cx="820" cy="732" r="10.5"/><circle cx="1085" cy="604" r="10.5"/><circle cx="1276" cy="373" r="10.5"/><circle cx="911" cy="672" r="10.5"/><circle cx="982" cy="446" r="10.5"/><circle cx="689.4" cy="507.4" r="10.5"/><circle cx="814" cy="672" r="10.5"/><circle cx="717" cy="755" r="10.5"/><circle cx="1208" cy="580" r="10.5"/><circle cx="1213" cy="507" r="10.5"/><circle cx="1045" cy="583" r="10.5"/><circle cx="1284" cy="451" r="10.5"/><circle cx="881" cy="716" r="10.5"/><circle cx="838" cy="580" r="10.5"/><circle cx="1464.3" cy="251.3" r="10.5"/><circle cx="1144" cy="490" r="10.5"/><circle cx="1083" cy="585" r="10.5"/><circle cx="1039" cy="597" r="10.5"/><circle cx="1183" cy="355" r="10.5"/><circle cx="1079" cy="379" r="10.5"/><circle cx="948" cy="609" r="10.5"/><circle cx="1008" cy="706" r="10.5"/><circle cx="743" cy="677" r="10.5"/><circle cx="1075" cy="600" r="10.5"/><circle cx="1149" cy="601" r="10.5"/><circle cx="999" cy="618" r="10.5"/><circle cx="1060" cy="511" r="10.5"/><circle cx="1273" cy="438" r="10.5"/><circle cx="1025" cy="687" r="10.5"/><circle cx="848" cy="639" r="10.5"/><circle cx="1179" cy="554" r="10.5"/><circle cx="793" cy="726" r="10.5"/><circle cx="1004" cy="583" r="10.5"/><circle cx="1044" cy="412" r="10.5"/><circle cx="1055" cy="678" r="10.5"/><circle cx="1047.5" cy="307" r="10.5"/><circle cx="1071" cy="593" r="10.5"/><circle cx="935" cy="463" r="10.5"/><circle cx="1211" cy="498" r="10.5"/><circle cx="1303" cy="401" r="10.5"/><circle cx="1322" cy="399" r="10.5"/><circle cx="1196" cy="478" r="10.5"/><circle cx="1211" cy="443" r="10.5"/><circle cx="826" cy="617" r="10.5"/><circle cx="1438.9" cy="450.3" r="10.5"/><circle cx="812" cy="615" r="10.5"/><circle cx="806" cy="573" r="10.5"/><circle cx="962" cy="487" r="10.5"/><circle cx="1127" cy="532" r="10.5"/><circle cx="1014" cy="505" r="10.5"/><circle cx="887" cy="604" r="10.5"/><circle cx="1157" cy="301" r="10.5"/><circle cx="1176" cy="498" r="10.5"/><circle cx="1138" cy="571" r="10.5"/><circle cx="1210" cy="327" r="10.5"/><circle cx="1200.5" cy="572.3" r="10.5"/><circle cx="1237" cy="302" r="10.5"/><circle cx="1156" cy="603" r="10.5"/><circle cx="1143" cy="444" r="10.5"/><circle cx="791" cy="603" r="10.5"/><circle cx="880" cy="597" r="10.5"/><circle cx="831" cy="615" r="10.5"/><circle cx="952" cy="595" r="10.5"/><circle cx="1011" cy="537" r="10.5"/><circle cx="1043" cy="648" r="10.5"/><circle cx="838" cy="653" r="10.5"/><circle cx="973" cy="681" r="10.5"/><circle cx="834" cy="720" r="10.5"/><circle cx="1003" cy="619" r="10.5"/><circle cx="1033" cy="428" r="10.5"/><circle cx="951" cy="498" r="10.5"/><circle cx="951" cy="526" r="10.5"/><circle cx="1109" cy="499" r="10.5"/><circle cx="1134" cy="371" r="10.5"/><circle cx="1063" cy="680" r="10.5"/><circle cx="1034" cy="404" r="10.5"/><circle cx="778" cy="706" r="10.5"/><circle cx="1307" cy="419" r="10.5"/><circle cx="879" cy="732" r="10.5"/><circle cx="1390.7" cy="488.9" r="10.5"/><circle cx="467.3" cy="1035.7" r="10.5"/><circle cx="1082" cy="388" r="10.5"/><circle cx="1049" cy="433" r="10.5"/><circle cx="864" cy="742" r="10.5"/><circle cx="1142" cy="474" r="10.5"/><circle cx="1273" cy="468" r="10.5"/><circle cx="1208" cy="473" r="10.5"/><circle cx="1056" cy="663" r="10.5"/><circle cx="792" cy="613" r="10.5"/><circle cx="1182.6" cy="641.2" r="10.5"/><circle cx="1065" cy="573" r="10.5"/><circle cx="912" cy="633" r="10.5"/><circle cx="1126" cy="622" r="10.5"/><circle cx="861" cy="719" r="10.5"/><circle cx="1180" cy="494" r="10.5"/><circle cx="996" cy="636" r="10.5"/><circle cx="1179" cy="538" r="10.5"/><circle cx="1000" cy="480" r="10.5"/><circle cx="1171" cy="370" r="10.5"/><circle cx="722" cy="716" r="10.5"/><circle cx="834" cy="585" r="10.5"/><circle cx="1063" cy="550" r="10.5"/><circle cx="1005" cy="469" r="10.5"/><circle cx="963" cy="624" r="10.5"/><circle cx="809" cy="766" r="10.5"/><circle cx="872" cy="746" r="10.5"/><circle cx="1303" cy="289" r="10.5"/><circle cx="781" cy="712" r="10.5"/><circle cx="1259" cy="374" r="10.5"/><circle cx="1112" cy="444" r="10.5"/><circle cx="1064" cy="399" r="10.5"/><circle cx="1119" cy="468" r="10.5"/><circle cx="1113" cy="376" r="10.5"/><circle cx="773" cy="752" r="10.5"/><circle cx="722" cy="715" r="10.5"/><circle cx="1361" cy="347" r="10.5"/><circle cx="1364.5" cy="261" r="10.5"/><circle cx="802" cy="718" r="10.5"/><circle cx="909" cy="699" r="10.5"/><circle cx="949" cy="643" r="10.5"/><circle cx="608.1" cy="530" r="10.5"/><circle cx="1263" cy="302" r="10.5"/><circle cx="944" cy="486" r="10.5"/><circle cx="1236" cy="480" r="10.5"/><circle cx="1183" cy="473" r="10.5"/><circle cx="1014" cy="731" r="10.5"/><circle cx="908" cy="674" r="10.5"/><circle cx="1259" cy="507" r="10.5"/><circle cx="1249" cy="356" r="10.5"/><circle cx="1289" cy="358" r="10.5"/><circle cx="1299" cy="282" r="10.5"/><circle cx="1011" cy="543" r="10.5"/><circle cx="965" cy="715" r="10.5"/><circle cx="1039" cy="453" r="10.5"/><circle cx="704.6" cy="603.9" r="10.5"/><circle cx="845" cy="620" r="10.5"/><circle cx="1100" cy="399" r="10.5"/><circle cx="1280" cy="275" r="10.5"/><circle cx="1130" cy="625" r="10.5"/><circle cx="934" cy="610" r="10.5"/><circle cx="1322" cy="311" r="10.5"/><circle cx="1157" cy="482" r="10.5"/><circle cx="1336" cy="310" r="10.5"/><circle cx="814" cy="664" r="10.5"/><circle cx="791.5" cy="818.1" r="10.5"/><circle cx="1074" cy="478" r="10.5"/><circle cx="1035" cy="687" r="10.5"/><circle cx="611.5" cy="783.2" r="10.5"/><circle cx="1223" cy="532" r="10.5"/><circle cx="1281" cy="441" r="10.5"/><circle cx="997" cy="490" r="10.5"/><circle cx="1116" cy="489" r="10.5"/><circle cx="1009" cy="517" r="10.5"/><circle cx="1117" cy="448" r="10.5"/><circle cx="985" cy="592" r="10.5"/><circle cx="1155" cy="328" r="10.5"/><circle cx="769" cy="664" r="10.5"/><circle cx="1284" cy="456" r="10.5"/><circle cx="1147" cy="362" r="10.5"/><circle cx="1054" cy="438" r="10.5"/><circle cx="1241" cy="521" r="10.5"/><circle cx="1314.9" cy="247.8" r="10.5"/><circle cx="1020" cy="554" r="10.5"/><circle cx="832" cy="616" r="10.5"/><circle cx="1105" cy="583" r="10.5"/><circle cx="1082" cy="562" r="10.5"/><circle cx="1033" cy="427" r="10.5"/><circle cx="1203" cy="522" r="10.5"/><circle cx="527.2" cy="772.3" r="10.5"/><circle cx="1071" cy="625" r="10.5"/><circle cx="967" cy="616" r="10.5"/><circle cx="965" cy="629" r="10.5"/><circle cx="923" cy="611" r="10.5"/><circle cx="1287" cy="458" r="10.5"/><circle cx="1017" cy="416" r="10.5"/><circle cx="1078" cy="376" r="10.5"/><circle cx="862" cy="517" r="10.5"/><circle cx="1033" cy="530" r="10.5"/><circle cx="913" cy="641" r="10.5"/><circle cx="919" cy="717" r="10.5"/><circle cx="1191" cy="304" r="10.5"/><circle cx="1238" cy="502" r="10.5"/><circle cx="953" cy="661" r="10.5"/><circle cx="1170" cy="613" r="10.5"/><circle cx="1091" cy="512" r="10.5"/><circle cx="1189" cy="310" r="10.5"/><circle cx="1020" cy="673" r="10.5"/><circle cx="1083" cy="374" r="10.5"/><circle cx="1314" cy="379" r="10.5"/><circle cx="1165" cy="480" r="10.5"/><circle cx="1160" cy="470" r="10.5"/><circle cx="1092" cy="541" r="10.5"/><circle cx="1207" cy="302" r="10.5"/><circle cx="1099" cy="646" r="10.5"/><circle cx="1209" cy="533" r="10.5"/><circle cx="1401.7" cy="461.4" r="10.5"/><circle cx="996" cy="664" r="10.5"/><circle cx="1104" cy="630.2" r="10.5"/><circle cx="1311" cy="307" r="10.5"/><circle cx="945" cy="725" r="10.5"/><circle cx="844" cy="728" r="10.5"/><circle cx="922" cy="518" r="10.5"/><circle cx="873" cy="605" r="10.5"/><circle cx="1253" cy="403" r="10.5"/><circle cx="949" cy="628" r="10.5"/><circle cx="1107" cy="444" r="10.5"/><circle cx="783" cy="703" r="10.5"/><circle cx="657.7" cy="559.8" r="10.5"/><circle cx="1008" cy="700" r="10.5"/><circle cx="788" cy="675" r="10.5"/><circle cx="991" cy="673" r="10.5"/><circle cx="990" cy="597" r="10.5"/><circle cx="964" cy="727" r="10.5"/><circle cx="761" cy="611" r="10.5"/><circle cx="1199" cy="565" r="10.5"/><circle cx="1236" cy="431" r="10.5"/><circle cx="1089" cy="655" r="10.5"/><circle cx="837" cy="611" r="10.5"/><circle cx="1234" cy="501" r="10.5"/><circle cx="1281" cy="510" r="10.5"/><circle cx="1161.9" cy="311.1" r="10.5"/><circle cx="742" cy="634" r="10.5"/><circle cx="791" cy="650" r="10.5"/><circle cx="1176" cy="429" r="10.5"/><circle cx="1077" cy="641" r="10.5"/><circle cx="1256" cy="442" r="10.5"/><circle cx="1223" cy="488" r="10.5"/><circle cx="1014" cy="565" r="10.5"/><circle cx="1117" cy="494" r="10.5"/><circle cx="1178" cy="586" r="10.5"/><circle cx="898" cy="627" r="10.5"/><circle cx="1319" cy="462" r="10.5"/><circle cx="1220" cy="370" r="10.5"/><circle cx="967" cy="522" r="10.5"/><circle cx="1314.9" cy="433.8" r="10.5"/><circle cx="902" cy="629" r="10.5"/><circle cx="1061" cy="526" r="10.5"/><circle cx="959" cy="731" r="10.5"/><circle cx="1137" cy="401" r="10.5"/><circle cx="717.5" cy="635.6" r="10.5"/><circle cx="1030" cy="552" r="10.5"/><circle cx="837" cy="571" r="10.5"/><circle cx="1310.8" cy="460" r="10.5"/><circle cx="1006" cy="528" r="10.5"/><circle cx="1149" cy="347" r="10.5"/><circle cx="791" cy="652" r="10.5"/><circle cx="1013.1" cy="642.6" r="10.5"/><circle cx="1057" cy="464" r="10.5"/><circle cx="852" cy="628" r="10.5"/><circle cx="1130" cy="517" r="10.5"/><circle cx="955" cy="503" r="10.5"/><circle cx="767" cy="695" r="10.5"/><circle cx="813" cy="541" r="10.5"/><circle cx="860" cy="600" r="10.5"/><circle cx="1270" cy="373" r="10.5"/><circle cx="1189" cy="328" r="10.5"/><circle cx="878" cy="646" r="10.5"/><circle cx="1156" cy="464" r="10.5"/><circle cx="1088" cy="370" r="10.5"/><circle cx="1089" cy="416" r="10.5"/><circle cx="1371.4" cy="495.8" r="10.5"/><circle cx="1037" cy="666" r="10.5"/><circle cx="1126" cy="634" r="10.5"/><circle cx="942" cy="624" r="10.5"/><circle cx="1303" cy="468" r="10.5"/><circle cx="1329" cy="296" r="10.5"/><circle cx="1364.5" cy="399.3" r="10.5"/><circle cx="1099.3" cy="301.5" r="10.5"/><circle cx="888" cy="640" r="10.5"/><circle cx="1173" cy="436" r="10.5"/><circle cx="877" cy="560" r="10.5"/><circle cx="1048" cy="419" r="10.5"/><circle cx="858" cy="654" r="10.5"/><circle cx="1115" cy="579" r="10.5"/><circle cx="948" cy="599" r="10.5"/><circle cx="1269" cy="416" r="10.5"/><circle cx="999" cy="633" r="10.5"/><circle cx="861" cy="665" r="10.5"/><circle cx="948" cy="488" r="10.5"/><circle cx="924" cy="608" r="10.5"/><circle cx="885" cy="735" r="10.5"/><circle cx="887" cy="721" r="10.5"/><circle cx="901" cy="588" r="10.5"/><circle cx="990" cy="612" r="10.5"/><circle cx="1171" cy="477" r="10.5"/><circle cx="1257" cy="354" r="10.5"/><circle cx="1245" cy="297" r="10.5"/><circle cx="1426.5" cy="433.8" r="10.5"/><circle cx="785" cy="734" r="10.5"/><circle cx="1067" cy="636" r="10.5"/><circle cx="911.3" cy="463.3" r="10.5"/><circle cx="1224" cy="420" r="10.5"/><circle cx="1275" cy="386" r="10.5"/><circle cx="987" cy="669" r="10.5"/><circle cx="729.9" cy="523.1" r="10.5"/><circle cx="758" cy="656" r="10.5"/><circle cx="810" cy="703" r="10.5"/><circle cx="1133" cy="466" r="10.5"/><circle cx="842" cy="719" r="10.5"/><circle cx="1104" cy="581" r="10.5"/><circle cx="1182" cy="303" r="10.5"/><circle cx="694" cy="679" r="10.5"/><circle cx="1227" cy="532" r="10.5"/></g>
<g clip-path="url(#cl)">
<path class="dl" stroke="#314da0" stroke-dashoffset="0" d="M401.2 1079.3L1602.5 -43.7"/>
<path class="dl" stroke="#314da0" stroke-dashoffset="-3.8" d="M457.3 1133.5L1602.5 63.1"/>
<path class="dl" stroke="#357f3e" stroke-dashoffset="6.6" d="M401.2 1025.3L1602.5 -99.0"/>
<path class="dl" stroke="#357f3e" stroke-dashoffset="0" d="M513.4 1133.8L1602.5 117.5"/>
</g>
<rect class="ax" x="400.5" y="29.5" width="1181.0" height="1106.0"/>
<path class="tk" d="M457.3 1134.5v-16.5M401.5 1083.3h16.5M681.9 1134.5v-16.5M401.5 872.9h16.5M906.4 1134.5v-16.5M401.5 662.6h16.5M1131.0 1134.5v-16.5M401.5 452.2h16.5M1355.5 1134.5v-16.5M401.5 241.9h16.5"/>
<text x="378.2" y="1098.5" text-anchor="end">1400</text>
<text x="378.2" y="888.1" text-anchor="end">1420</text>
<text x="378.2" y="677.8" text-anchor="end">1440</text>
<text x="378.2" y="467.4" text-anchor="end">1460</text>
<text x="378.2" y="257.1" text-anchor="end">1480</text>
<text x="378.2" y="46.7" text-anchor="end">1500</text>
<text x="457.9" y="1193.0" text-anchor="middle">1400</text>
<text x="682.2" y="1193.0" text-anchor="middle">1420</text>
<text x="906.4" y="1193.0" text-anchor="middle">1440</text>
<text x="1130.6" y="1193.0" text-anchor="middle">1460</text>
<text x="1354.9" y="1193.0" text-anchor="middle">1480</text>
<text x="1579.1" y="1193.0" text-anchor="middle">1500</text>
<text x="813.8" y="1277.6">Actual value/<tspan class="c" dx="4">℃</tspan></text>
<text transform="translate(224.8,788.6) rotate(-90)">Predicted value/<tspan class="c" dx="4">℃</tspan></text>
<text x="419.0" y="87">(a)</text>
<circle cx="565.9" cy="76" r="11.3" fill="#aadcc5" stroke="#141414" stroke-width="2.8"/>
<text x="622.0" y="90.4">BP</text>
<polygon points="526.1,133.0 548.1,144.2 540.1,136.0 589.7,136.0 581.7,144.2 603.7,133.0 581.7,121.8 589.7,130.0 540.1,130.0 548.1,121.8" fill="#314da0"/>
<polygon points="526.1,190.7 548.1,201.9 540.1,193.7 589.7,193.7 581.7,201.9 603.7,190.7 581.7,179.4 589.7,187.7 540.1,187.7 548.1,179.4" fill="#357f3e"/>
<text x="622" y="148.1">±5 <tspan class="c" dx="4">℃</tspan></text>
<text x="622" y="205.5">±10 <tspan class="c" dx="4">℃</tspan></text>
<polygon points="1509.9,46.0 1516.7,73.8 1518.6,63.4 1543.0,94.1 1532.4,93.6 1558.0,106.5 1551.2,78.7 1549.3,89.1 1524.9,58.4 1535.5,58.9" fill="#314da0"/>
<polygon points="1439.8,59.8 1447.3,87.4 1448.9,76.9 1520.0,161.8 1509.4,161.6 1535.3,173.8 1527.8,146.2 1526.2,156.7 1455.1,71.8 1465.7,72.0" fill="#357f3e"/>
</g>
<g transform="translate(1532,-0.3)">
<g class="p"><circle cx="599.3" cy="903.2" r="10.5"/><circle cx="1123" cy="532" r="10.5"/><circle cx="930" cy="546" r="10.5"/><circle cx="1302" cy="375" r="10.5"/><circle cx="999" cy="482" r="10.5"/><circle cx="962" cy="681" r="10.5"/><circle cx="1010" cy="618" r="10.5"/><circle cx="1108" cy="486" r="10.5"/><circle cx="736" cy="849" r="10.5"/><circle cx="1348" cy="342" r="10.5"/><circle cx="835" cy="780" r="10.5"/><circle cx="862" cy="777" r="10.5"/><circle cx="889.8" cy="499.2" r="10.5"/><circle cx="1027" cy="594" r="10.5"/><circle cx="1186" cy="494" r="10.5"/><circle cx="1129" cy="340" r="10.5"/><circle cx="1271" cy="272" r="10.5"/><circle cx="923" cy="621" r="10.5"/><circle cx="1123" cy="592" r="10.5"/><circle cx="1095" cy="441" r="10.5"/><circle cx="779" cy="675" r="10.5"/><circle cx="854" cy="563.3" r="10.5"/><circle cx="1140" cy="482" r="10.5"/><circle cx="1265" cy="293" r="10.5"/><circle cx="843" cy="632" r="10.5"/><circle cx="981" cy="554" r="10.5"/><circle cx="1118" cy="510" r="10.5"/><circle cx="1236" cy="338" r="10.5"/><circle cx="799" cy="649" r="10.5"/><circle cx="846" cy="633" r="10.5"/><circle cx="960" cy="591" r="10.5"/><circle cx="1028" cy="416" r="10.5"/><circle cx="1186" cy="368" r="10.5"/><circle cx="1315" cy="236" r="10.5"/><circle cx="838" cy="749" r="10.5"/><circle cx="838" cy="594" r="10.5"/><circle cx="803" cy="857" r="10.5"/><circle cx="1116" cy="627" r="10.5"/><circle cx="1273" cy="322" r="10.5"/><circle cx="1205" cy="308" r="10.5"/><circle cx="912" cy="738" r="10.5"/><circle cx="1048" cy="621" r="10.5"/><circle cx="831" cy="728" r="10.5"/><circle cx="1164" cy="369" r="10.5"/><circle cx="1253" cy="409" r="10.5"/><circle cx="944" cy="546" r="10.5"/><circle cx="932" cy="702" r="10.5"/><circle cx="1072" cy="451" r="10.5"/><circle cx="762" cy="807" r="10.5"/><circle cx="1175" cy="444" r="10.5"/><circle cx="887" cy="684" r="10.5"/><circle cx="784" cy="778" r="10.5"/><circle cx="526.7" cy="950.5" r="10.5"/><circle cx="910.5" cy="512.3" r="10.5"/><circle cx="1328" cy="369" r="10.5"/><circle cx="905" cy="554" r="10.5"/><circle cx="1381" cy="282" r="10.5"/><circle cx="1041" cy="419" r="10.5"/><circle cx="811" cy="763" r="10.5"/><circle cx="890" cy="760" r="10.5"/><circle cx="1168" cy="363" r="10.5"/><circle cx="1213" cy="348" r="10.5"/><circle cx="908" cy="649" r="10.5"/><circle cx="1058" cy="460" r="10.5"/><circle cx="1237" cy="406" r="10.5"/><circle cx="1090" cy="558" r="10.5"/><circle cx="1054" cy="478" r="10.5"/><circle cx="860" cy="712" r="10.5"/><circle cx="1039" cy="553" r="10.5"/><circle cx="1250" cy="361" r="10.5"/><circle cx="942.2" cy="736" r="10.5"/><circle cx="791" cy="797" r="10.5"/><circle cx="1112" cy="468" r="10.5"/><circle cx="1171" cy="522" r="10.5"/><circle cx="835" cy="629" r="10.5"/><circle cx="1156" cy="503" r="10.5"/><circle cx="1259" cy="419" r="10.5"/><circle cx="1258" cy="380" r="10.5"/><circle cx="845" cy="711" r="10.5"/><circle cx="1106" cy="572" r="10.5"/><circle cx="945" cy="734" r="10.5"/><circle cx="1156" cy="304" r="10.5"/><circle cx="1120" cy="367" r="10.5"/><circle cx="880" cy="539" r="10.5"/><circle cx="1264" cy="290" r="10.5"/><circle cx="1136" cy="604" r="10.5"/><circle cx="1377.4" cy="289.3" r="10.5"/><circle cx="878" cy="578" r="10.5"/><circle cx="898" cy="695" r="10.5"/><circle cx="1216" cy="385" r="10.5"/><circle cx="1128" cy="382" r="10.5"/><circle cx="1304" cy="323" r="10.5"/><circle cx="1328" cy="322" r="10.5"/><circle cx="1293" cy="254" r="10.5"/><circle cx="1021" cy="495" r="10.5"/><circle cx="807" cy="717" r="10.5"/><circle cx="1151" cy="411" r="10.5"/><circle cx="1020" cy="600" r="10.5"/><circle cx="673.6" cy="781.6" r="10.5"/><circle cx="831" cy="704" r="10.5"/><circle cx="956" cy="631" r="10.5"/><circle cx="1118" cy="510" r="10.5"/><circle cx="1349" cy="381" r="10.5"/><circle cx="1218" cy="438" r="10.5"/><circle cx="1005" cy="496" r="10.5"/><circle cx="1145" cy="469" r="10.5"/><circle cx="1089" cy="420" r="10.5"/><circle cx="749" cy="725" r="10.5"/><circle cx="1196" cy="412" r="10.5"/><circle cx="1198" cy="539" r="10.5"/><circle cx="915" cy="716" r="10.5"/><circle cx="1358" cy="273" r="10.5"/><circle cx="492.2" cy="1042.7" r="10.5"/><circle cx="1281" cy="247" r="10.5"/><circle cx="1129" cy="364" r="10.5"/><circle cx="974" cy="550" r="10.5"/><circle cx="1021.5" cy="391.3" r="10.5"/><circle cx="1047" cy="521" r="10.5"/><circle cx="1113" cy="401" r="10.5"/><circle cx="943" cy="490" r="10.5"/><circle cx="1352" cy="328" r="10.5"/><circle cx="1213" cy="327" r="10.5"/><circle cx="977" cy="638" r="10.5"/><circle cx="1039" cy="652" r="10.5"/><circle cx="1111" cy="450" r="10.5"/><circle cx="908" cy="748" r="10.5"/><circle cx="1332" cy="325" r="10.5"/><circle cx="813" cy="649" r="10.5"/><circle cx="1107" cy="583" r="10.5"/><circle cx="922" cy="719.1" r="10.5"/><circle cx="795" cy="780" r="10.5"/><circle cx="625.3" cy="624.5" r="10.5"/><circle cx="884.6" cy="785.4" r="10.5"/><circle cx="1377" cy="334" r="10.5"/><circle cx="1021" cy="574" r="10.5"/><circle cx="1093" cy="541" r="10.5"/><circle cx="1109" cy="386" r="10.5"/><circle cx="1088" cy="511" r="10.5"/><circle cx="1126.2" cy="645" r="10.5"/><circle cx="842" cy="767" r="10.5"/><circle cx="978" cy="466" r="10.5"/><circle cx="1255" cy="395" r="10.5"/><circle cx="847" cy="577" r="10.5"/><circle cx="808" cy="729" r="10.5"/><circle cx="1099" cy="490" r="10.5"/><circle cx="1166" cy="495" r="10.5"/><circle cx="1108" cy="450" r="10.5"/><circle cx="1315.6" cy="441.4" r="10.5"/><circle cx="1172" cy="366" r="10.5"/><circle cx="1263" cy="448" r="10.5"/><circle cx="1353" cy="273" r="10.5"/><circle cx="1232" cy="479" r="10.5"/><circle cx="949" cy="766" r="10.5"/><circle cx="753" cy="805" r="10.5"/><circle cx="958" cy="570" r="10.5"/><circle cx="1069" cy="406" r="10.5"/><circle cx="978" cy="625" r="10.5"/><circle cx="925" cy="689" r="10.5"/><circle cx="978" cy="709" r="10.5"/><circle cx="832.4" cy="840.7" r="10.5"/><circle cx="1229" cy="309" r="10.5"/><circle cx="1024" cy="660" r="10.5"/><circle cx="768" cy="781" r="10.5"/><circle cx="978" cy="489" r="10.5"/><circle cx="1222" cy="451" r="10.5"/><circle cx="978" cy="503" r="10.5"/><circle cx="1296" cy="295" r="10.5"/><circle cx="1220" cy="425" r="10.5"/><circle cx="1306" cy="330" r="10.5"/><circle cx="751" cy="666" r="10.5"/><circle cx="557.1" cy="935.3" r="10.5"/><circle cx="785" cy="689" r="10.5"/><circle cx="1177" cy="415" r="10.5"/><circle cx="1074" cy="415" r="10.5"/><circle cx="834" cy="599" r="10.5"/><circle cx="819" cy="774" r="10.5"/><circle cx="950" cy="562" r="10.5"/><circle cx="636.5" cy="833.9" r="10.5"/><circle cx="989" cy="490" r="10.5"/><circle cx="852" cy="800" r="10.5"/><circle cx="964" cy="604" r="10.5"/><circle cx="1103" cy="599" r="10.5"/><circle cx="827" cy="749" r="10.5"/><circle cx="1189" cy="419" r="10.5"/><circle cx="611.1" cy="845.8" r="10.5"/><circle cx="1008" cy="560" r="10.5"/><circle cx="957" cy="729" r="10.5"/><circle cx="1062" cy="458" r="10.5"/><circle cx="1082" cy="403" r="10.5"/><circle cx="1062" cy="575" r="10.5"/><circle cx="916" cy="680" r="10.5"/><circle cx="875" cy="540" r="10.5"/><circle cx="1359" cy="256" r="10.5"/><circle cx="1287" cy="395" r="10.5"/><circle cx="1112" cy="499" r="10.5"/><circle cx="1101" cy="369" r="10.5"/><circle cx="989" cy="640" r="10.5"/><circle cx="1269" cy="277" r="10.5"/><circle cx="1204" cy="435" r="10.5"/><circle cx="1226" cy="334" r="10.5"/><circle cx="995" cy="704" r="10.5"/><circle cx="1134" cy="469" r="10.5"/><circle cx="1477.7" cy="331.1" r="10.5"/><circle cx="898" cy="654" r="10.5"/><circle cx="1045" cy="645" r="10.5"/><circle cx="575.7" cy="979.2" r="10.5"/><circle cx="791" cy="812" r="10.5"/><circle cx="1108" cy="427" r="10.5"/><circle cx="1125" cy="576" r="10.5"/><circle cx="1302" cy="377" r="10.5"/><circle cx="975" cy="502" r="10.5"/><circle cx="1135" cy="515" r="10.5"/><circle cx="1064" cy="559" r="10.5"/><circle cx="1038" cy="400" r="10.5"/><circle cx="929" cy="612" r="10.5"/><circle cx="927" cy="561" r="10.5"/><circle cx="841" cy="668" r="10.5"/><circle cx="865" cy="592" r="10.5"/><circle cx="1223" cy="415" r="10.5"/><circle cx="750" cy="789" r="10.5"/><circle cx="1215" cy="397" r="10.5"/><circle cx="1329" cy="255" r="10.5"/><circle cx="568.9" cy="916.7" r="10.5"/><circle cx="1327" cy="244" r="10.5"/><circle cx="897" cy="716" r="10.5"/><circle cx="1219" cy="402" r="10.5"/><circle cx="1153" cy="334" r="10.5"/><circle cx="1046" cy="436" r="10.5"/><circle cx="1067" cy="586" r="10.5"/><circle cx="848" cy="683" r="10.5"/><circle cx="846" cy="649" r="10.5"/><circle cx="954" cy="732" r="10.5"/><circle cx="1123" cy="528" r="10.5"/><circle cx="1377" cy="224" r="10.5"/><circle cx="746" cy="837" r="10.5"/><circle cx="762" cy="776" r="10.5"/><circle cx="767" cy="785" r="10.5"/><circle cx="763" cy="876" r="10.5"/><circle cx="994" cy="605" r="10.5"/><circle cx="861" cy="648" r="10.5"/><circle cx="750" cy="801" r="10.5"/><circle cx="1321" cy="290" r="10.5"/><circle cx="991" cy="609" r="10.5"/><circle cx="905" cy="708" r="10.5"/><circle cx="1131" cy="333" r="10.5"/><circle cx="1377.4" cy="265.9" r="10.5"/><circle cx="871" cy="682" r="10.5"/><circle cx="851" cy="581" r="10.5"/><circle cx="1008" cy="569" r="10.5"/><circle cx="1113" cy="615" r="10.5"/><circle cx="1033" cy="562" r="10.5"/><circle cx="802" cy="840" r="10.5"/><circle cx="1139" cy="381" r="10.5"/><circle cx="841" cy="741" r="10.5"/><circle cx="1356" cy="339" r="10.5"/><circle cx="941" cy="543" r="10.5"/><circle cx="761" cy="787" r="10.5"/><circle cx="1073" cy="543" r="10.5"/><circle cx="1440.9" cy="145.6" r="10.5"/><circle cx="879.7" cy="781.6" r="10.5"/><circle cx="1267" cy="375" r="10.5"/><circle cx="585.8" cy="958.9" r="10.5"/><circle cx="993" cy="636" r="10.5"/><circle cx="1057" cy="502" r="10.5"/><circle cx="1191" cy="376" r="10.5"/><circle cx="1005" cy="616" r="10.5"/><circle cx="935" cy="545" r="10.5"/><circle cx="944" cy="705" r="10.5"/><circle cx="794" cy="697" r="10.5"/><circle cx="869" cy="676" r="10.5"/><circle cx="1116.5" cy="635.3" r="10.5"/><circle cx="909" cy="582" r="10.5"/><circle cx="1225.4" cy="491.5" r="10.5"/><circle cx="1229" cy="466" r="10.5"/><circle cx="1110" cy="497" r="10.5"/><circle cx="1250" cy="417" r="10.5"/><circle cx="1077" cy="544" r="10.5"/><circle cx="1137" cy="549" r="10.5"/><circle cx="894" cy="750" r="10.5"/><circle cx="944" cy="733" r="10.5"/><circle cx="1091" cy="555" r="10.5"/><circle cx="772" cy="786" r="10.5"/><circle cx="951" cy="603" r="10.5"/><circle cx="1273" cy="434" r="10.5"/><circle cx="1148" cy="429" r="10.5"/><circle cx="1286" cy="251" r="10.5"/><circle cx="693.9" cy="703.9" r="10.5"/><circle cx="924" cy="673" r="10.5"/><circle cx="869" cy="710" r="10.5"/><circle cx="1160" cy="417" r="10.5"/><circle cx="993" cy="572" r="10.5"/><circle cx="898" cy="632" r="10.5"/><circle cx="1039" cy="546" r="10.5"/><circle cx="1286" cy="346" r="10.5"/><circle cx="1304" cy="332" r="10.5"/><circle cx="988" cy="694" r="10.5"/><circle cx="1190" cy="460" r="10.5"/><circle cx="958" cy="735" r="10.5"/><circle cx="1080" cy="581" r="10.5"/><circle cx="1054" cy="573" r="10.5"/><circle cx="1069" cy="580" r="10.5"/><circle cx="1172" cy="533" r="10.5"/><circle cx="1070" cy="437" r="10.5"/><circle cx="1149" cy="513" r="10.5"/><circle cx="1227" cy="462" r="10.5"/><circle cx="828" cy="797" r="10.5"/><circle cx="1073" cy="362" r="10.5"/><circle cx="812" cy="735" r="10.5"/><circle cx="883" cy="570" r="10.5"/><circle cx="1018" cy="523" r="10.5"/><circle cx="879" cy="604" r="10.5"/><circle cx="843" cy="622" r="10.5"/><circle cx="844" cy="804" r="10.5"/><circle cx="990" cy="608" r="10.5"/><circle cx="1107" cy="473" r="10.5"/><circle cx="1044" cy="578" r="10.5"/><circle cx="1123" cy="455" r="10.5"/><circle cx="1353" cy="251" r="10.5"/><circle cx="890" cy="576" r="10.5"/><circle cx="1070" cy="381" r="10.5"/><circle cx="1002" cy="602" r="10.5"/><circle cx="1019" cy="457" r="10.5"/><circle cx="1215.6" cy="622.2" r="10.5"/><circle cx="869" cy="576" r="10.5"/><circle cx="816" cy="627" r="10.5"/><circle cx="774" cy="699" r="10.5"/><circle cx="799" cy="695" r="10.5"/><circle cx="1027.1" cy="696.3" r="10.5"/><circle cx="1152" cy="386" r="10.5"/><circle cx="820" cy="799" r="10.5"/><circle cx="823" cy="669" r="10.5"/><circle cx="961" cy="704" r="10.5"/><circle cx="1232" cy="451" r="10.5"/><circle cx="1204" cy="508" r="10.5"/><circle cx="746" cy="875" r="10.5"/><circle cx="979" cy="642" r="10.5"/><circle cx="983" cy="660" r="10.5"/><circle cx="1283" cy="328" r="10.5"/><circle cx="901" cy="599" r="10.5"/><circle cx="1076" cy="392" r="10.5"/><circle cx="1150" cy="364" r="10.5"/><circle cx="1307" cy="376" r="10.5"/><circle cx="778" cy="682" r="10.5"/><circle cx="1317" cy="388" r="10.5"/><circle cx="1254" cy="440" r="10.5"/><circle cx="1043" cy="561" r="10.5"/><circle cx="1279" cy="300" r="10.5"/><circle cx="1180" cy="448" r="10.5"/><circle cx="793" cy="836" r="10.5"/><circle cx="1013" cy="533" r="10.5"/><circle cx="1018.1" cy="418" r="10.5"/><circle cx="1168" cy="473" r="10.5"/><circle cx="822" cy="646" r="10.5"/><circle cx="1164" cy="321" r="10.5"/><circle cx="1264" cy="375" r="10.5"/><circle cx="803" cy="760" r="10.5"/><circle cx="1179" cy="374" r="10.5"/><circle cx="1001" cy="551" r="10.5"/><circle cx="1086" cy="450" r="10.5"/><circle cx="835" cy="574" r="10.5"/><circle cx="1131" cy="355" r="10.5"/><circle cx="1093" cy="530" r="10.5"/><circle cx="779" cy="676" r="10.5"/><circle cx="864" cy="628" r="10.5"/><circle cx="1315" cy="361" r="10.5"/><circle cx="865" cy="772" r="10.5"/><circle cx="1124" cy="403" r="10.5"/><circle cx="1321" cy="273" r="10.5"/><circle cx="995" cy="601" r="10.5"/><circle cx="1368" cy="332" r="10.5"/><circle cx="1344" cy="279" r="10.5"/><circle cx="1173" cy="328" r="10.5"/><circle cx="1253" cy="282" r="10.5"/><circle cx="1392" cy="240" r="10.5"/><circle cx="1022" cy="515" r="10.5"/><circle cx="1184" cy="398" r="10.5"/><circle cx="769" cy="729" r="10.5"/><circle cx="774" cy="644" r="10.5"/><circle cx="887" cy="631" r="10.5"/><circle cx="1117.4" cy="332.8" r="10.5"/><circle cx="1015" cy="577" r="10.5"/><circle cx="862" cy="739" r="10.5"/><circle cx="1101" cy="530" r="10.5"/><circle cx="1004" cy="541" r="10.5"/><circle cx="968" cy="559" r="10.5"/><circle cx="1155" cy="375" r="10.5"/><circle cx="902" cy="706" r="10.5"/><circle cx="925" cy="509" r="10.5"/><circle cx="836" cy="762" r="10.5"/><circle cx="926" cy="662" r="10.5"/><circle cx="938" cy="545" r="10.5"/><circle cx="921" cy="516" r="10.5"/><circle cx="758" cy="679" r="10.5"/><circle cx="829" cy="616" r="10.5"/><circle cx="851" cy="628" r="10.5"/><circle cx="1229" cy="348" r="10.5"/><circle cx="1089" cy="479" r="10.5"/><circle cx="1283" cy="426" r="10.5"/><circle cx="1067" cy="416" r="10.5"/><circle cx="1049" cy="602" r="10.5"/><circle cx="1098" cy="563" r="10.5"/><circle cx="1300" cy="393" r="10.5"/><circle cx="763" cy="699" r="10.5"/><circle cx="1060" cy="415" r="10.5"/><circle cx="1002" cy="460" r="10.5"/><circle cx="1220" cy="303" r="10.5"/><circle cx="1091" cy="567" r="10.5"/><circle cx="890" cy="691" r="10.5"/><circle cx="937" cy="571" r="10.5"/><circle cx="1305" cy="361" r="10.5"/><circle cx="1040" cy="476" r="10.5"/><circle cx="701.4" cy="734.3" r="10.5"/><circle cx="1077" cy="612" r="10.5"/><circle cx="1211.6" cy="639.8" r="10.5"/><circle cx="1178" cy="475" r="10.5"/><circle cx="1141" cy="373" r="10.5"/><circle cx="1093.6" cy="651.1" r="10.5"/><circle cx="762" cy="751" r="10.5"/><circle cx="976" cy="549" r="10.5"/><circle cx="1210" cy="466" r="10.5"/><circle cx="1154" cy="512" r="10.5"/><circle cx="898" cy="542" r="10.5"/><circle cx="1026" cy="630" r="10.5"/><circle cx="832" cy="716" r="10.5"/><circle cx="1181" cy="406" r="10.5"/><circle cx="811" cy="661" r="10.5"/><circle cx="1276" cy="374" r="10.5"/><circle cx="1299" cy="273" r="10.5"/><circle cx="961" cy="714" r="10.5"/><circle cx="1087" cy="384" r="10.5"/><circle cx="1159" cy="543" r="10.5"/><circle cx="1376" cy="308" r="10.5"/><circle cx="832" cy="711" r="10.5"/><circle cx="787" cy="776" r="10.5"/><circle cx="1191" cy="392" r="10.5"/><circle cx="1031" cy="488" r="10.5"/><circle cx="1012" cy="696" r="10.5"/><circle cx="1018" cy="679" r="10.5"/><circle cx="835" cy="612" r="10.5"/><circle cx="1389" cy="300" r="10.5"/><circle cx="1371" cy="290" r="10.5"/><circle cx="1344" cy="426.4" r="10.5"/><circle cx="1126" cy="451" r="10.5"/><circle cx="1045" cy="667" r="10.5"/><circle cx="606.8" cy="796.8" r="10.5"/><circle cx="1305" cy="288" r="10.5"/><circle cx="983" cy="700" r="10.5"/><circle cx="889" cy="779" r="10.5"/><circle cx="1132" cy="580" r="10.5"/><circle cx="1249" cy="435" r="10.5"/><circle cx="1076" cy="389" r="10.5"/><circle cx="1239" cy="320" r="10.5"/><circle cx="781" cy="716" r="10.5"/><circle cx="878" cy="589" r="10.5"/><circle cx="767" cy="691" r="10.5"/><circle cx="931" cy="688" r="10.5"/><circle cx="952" cy="645" r="10.5"/><circle cx="1345" cy="327" r="10.5"/><circle cx="984" cy="631" r="10.5"/><circle cx="689.9" cy="625.5" r="10.5"/><circle cx="1032" cy="520" r="10.5"/><circle cx="896" cy="645" r="10.5"/><circle cx="1016" cy="550" r="10.5"/><circle cx="800" cy="653" r="10.5"/><circle cx="951" cy="503" r="10.5"/><circle cx="965" cy="602" r="10.5"/><circle cx="940" cy="585" r="10.5"/><circle cx="720.9" cy="849.2" r="10.5"/><circle cx="1049" cy="566" r="10.5"/><circle cx="882" cy="625" r="10.5"/><circle cx="1232" cy="480" r="10.5"/><circle cx="793" cy="654" r="10.5"/><circle cx="1091" cy="629" r="10.5"/><circle cx="1070" cy="643" r="10.5"/><circle cx="1291" cy="356" r="10.5"/><circle cx="1368" cy="288" r="10.5"/><circle cx="918" cy="543" r="10.5"/><circle cx="1197" cy="362" r="10.5"/><circle cx="940" cy="651" r="10.5"/><circle cx="1171" cy="546" r="10.5"/><circle cx="1031.5" cy="401.3" r="10.5"/><circle cx="1095" cy="370" r="10.5"/><circle cx="1327.3" cy="200.8" r="10.5"/><circle cx="1035" cy="526" r="10.5"/><circle cx="1305" cy="408" r="10.5"/><circle cx="1142" cy="462" r="10.5"/><circle cx="924" cy="706" r="10.5"/><circle cx="901" cy="580" r="10.5"/><circle cx="1108" cy="572" r="10.5"/><circle cx="858" cy="789" r="10.5"/><circle cx="1016" cy="629" r="10.5"/><circle cx="839" cy="787" r="10.5"/><circle cx="826" cy="665" r="10.5"/><circle cx="994" cy="636" r="10.5"/><circle cx="993" cy="449" r="10.5"/><circle cx="1286" cy="307" r="10.5"/><circle cx="862" cy="649" r="10.5"/><circle cx="1236" cy="339" r="10.5"/><circle cx="1063" cy="531" r="10.5"/><circle cx="975" cy="513" r="10.5"/><circle cx="849" cy="634" r="10.5"/><circle cx="856" cy="728" r="10.5"/><circle cx="963" cy="724" r="10.5"/><circle cx="1088" cy="373" r="10.5"/><circle cx="994" cy="591" r="10.5"/><circle cx="865" cy="579" r="10.5"/><circle cx="1197" cy="363" r="10.5"/><circle cx="808" cy="676" r="10.5"/><circle cx="1264" cy="324" r="10.5"/><circle cx="1212" cy="479" r="10.5"/><circle cx="908" cy="753" r="10.5"/><circle cx="886" cy="693" r="10.5"/><circle cx="1062" cy="547" r="10.5"/><circle cx="1013" cy="635" r="10.5"/><circle cx="1076" cy="640" r="10.5"/><circle cx="858" cy="564" r="10.5"/><circle cx="922" cy="599" r="10.5"/><circle cx="965" cy="493" r="10.5"/><circle cx="843" cy="697" r="10.5"/><circle cx="795" cy="822" r="10.5"/><circle cx="1331" cy="277" r="10.5"/><circle cx="1276" cy="383" r="10.5"/><circle cx="1015" cy="664" r="10.5"/><circle cx="823" cy="685" r="10.5"/><circle cx="1048" cy="443" r="10.5"/><circle cx="1007" cy="651" r="10.5"/><circle cx="947" cy="512" r="10.5"/><circle cx="1285" cy="404" r="10.5"/><circle cx="1127" cy="579" r="10.5"/><circle cx="824" cy="776" r="10.5"/><circle cx="1285" cy="297" r="10.5"/><circle cx="988" cy="645" r="10.5"/><circle cx="980" cy="690" r="10.5"/><circle cx="949" cy="562" r="10.5"/><circle cx="1191.9" cy="287.7" r="10.5"/><circle cx="1114" cy="395" r="10.5"/><circle cx="894" cy="603" r="10.5"/><circle cx="939" cy="575" r="10.5"/><circle cx="1119" cy="445" r="10.5"/><circle cx="977" cy="636" r="10.5"/><circle cx="687.2" cy="910" r="10.5"/><circle cx="770" cy="694" r="10.5"/><circle cx="979" cy="713" r="10.5"/><circle cx="943" cy="640" r="10.5"/><circle cx="1038" cy="480" r="10.5"/><circle cx="925" cy="706" r="10.5"/><circle cx="986" cy="634" r="10.5"/><circle cx="1379" cy="323" r="10.5"/><circle cx="1014" cy="556" r="10.5"/><circle cx="1147" cy="584" r="10.5"/><circle cx="616.9" cy="753.5" r="10.5"/><circle cx="866" cy="679" r="10.5"/><circle cx="1060" cy="366" r="10.5"/><circle cx="763" cy="773" r="10.5"/><circle cx="1179" cy="393" r="10.5"/><circle cx="932" cy="658" r="10.5"/><circle cx="1376" cy="286" r="10.5"/><circle cx="1134" cy="574" r="10.5"/><circle cx="992" cy="669" r="10.5"/><circle cx="1058" cy="547" r="10.5"/><circle cx="1286" cy="269" r="10.5"/><circle cx="780" cy="741" r="10.5"/><circle cx="1237" cy="395" r="10.5"/><circle cx="1121" cy="438" r="10.5"/><circle cx="1250" cy="326" r="10.5"/><circle cx="908" cy="583" r="10.5"/><circle cx="892" cy="729" r="10.5"/><circle cx="1309" cy="317" r="10.5"/><circle cx="1011" cy="472" r="10.5"/><circle cx="933" cy="697" r="10.5"/><circle cx="1313" cy="386" r="10.5"/><circle cx="1275" cy="447" r="10.5"/><circle cx="1386" cy="267" r="10.5"/><circle cx="798" cy="653" r="10.5"/><circle cx="1140" cy="490" r="10.5"/><circle cx="845" cy="596" r="10.5"/><circle cx="1263.8" cy="444.7" r="10.5"/><circle cx="994" cy="642" r="10.5"/><circle cx="1556.9" cy="46" r="10.5"/><circle cx="1017" cy="678" r="10.5"/><circle cx="1185" cy="381" r="10.5"/><circle cx="1049" cy="523" r="10.5"/><circle cx="994" cy="560" r="10.5"/><circle cx="1200" cy="339" r="10.5"/><circle cx="854" cy="763" r="10.5"/><circle cx="1186" cy="302" r="10.5"/><circle cx="962" cy="599" r="10.5"/><circle cx="1106" cy="410" r="10.5"/><circle cx="675.3" cy="676.9" r="10.5"/><circle cx="1089" cy="555" r="10.5"/><circle cx="735" cy="821" r="10.5"/><circle cx="873" cy="761" r="10.5"/><circle cx="1310.6" cy="438.1" r="10.5"/><circle cx="762" cy="764" r="10.5"/><circle cx="477" cy="1008.6" r="10.5"/><circle cx="1198" cy="385" r="10.5"/><circle cx="1202" cy="498.2" r="10.5"/><circle cx="751" cy="776" r="10.5"/><circle cx="1070" cy="514" r="10.5"/><circle cx="1208" cy="487" r="10.5"/><circle cx="725.4" cy="737.3" r="10.5"/><circle cx="731" cy="770" r="10.5"/><circle cx="1362" cy="325" r="10.5"/><circle cx="894" cy="584" r="10.5"/><circle cx="967" cy="534" r="10.5"/><circle cx="1237" cy="350" r="10.5"/><circle cx="1297.2" cy="252.6" r="10.5"/><circle cx="997" cy="529" r="10.5"/><circle cx="1322" cy="285" r="10.5"/><circle cx="971" cy="666" r="10.5"/><circle cx="1013" cy="454" r="10.5"/><circle cx="1113" cy="578" r="10.5"/><circle cx="1079" cy="511" r="10.5"/><circle cx="975" cy="487" r="10.5"/><circle cx="820" cy="767" r="10.5"/><circle cx="1043" cy="629" r="10.5"/><circle cx="784" cy="744" r="10.5"/><circle cx="753" cy="740" r="10.5"/><circle cx="774" cy="853" r="10.5"/><circle cx="882" cy="684" r="10.5"/><circle cx="1120" cy="565" r="10.5"/><circle cx="1362.4" cy="344.5" r="10.5"/><circle cx="1198" cy="432" r="10.5"/><circle cx="1121" cy="393" r="10.5"/><circle cx="989" cy="653" r="10.5"/><circle cx="1162.2" cy="591.6" r="10.5"/><circle cx="1042" cy="664" r="10.5"/><circle cx="1068" cy="618" r="10.5"/><circle cx="966" cy="526" r="10.5"/><circle cx="1162" cy="488" r="10.5"/><circle cx="1177" cy="504" r="10.5"/><circle cx="993" cy="538" r="10.5"/><circle cx="1187" cy="406" r="10.5"/><circle cx="1105" cy="385" r="10.5"/><circle cx="1109" cy="417" r="10.5"/><circle cx="1282" cy="256" r="10.5"/><circle cx="1031" cy="611" r="10.5"/><circle cx="1052" cy="465" r="10.5"/><circle cx="1249" cy="418" r="10.5"/><circle cx="950" cy="675" r="10.5"/><circle cx="950" cy="548" r="10.5"/><circle cx="1195" cy="357" r="10.5"/><circle cx="906" cy="558" r="10.5"/><circle cx="1317.3" cy="219.1" r="10.5"/><circle cx="1167" cy="318" r="10.5"/><circle cx="1202" cy="490" r="10.5"/><circle cx="850" cy="821" r="10.5"/><circle cx="1304" cy="345" r="10.5"/><circle cx="1238" cy="386" r="10.5"/><circle cx="876" cy="663" r="10.5"/><circle cx="1089" cy="518" r="10.5"/><circle cx="1164" cy="352" r="10.5"/><circle cx="978" cy="525" r="10.5"/><circle cx="836" cy="688" r="10.5"/><circle cx="1268" cy="383" r="10.5"/><circle cx="1176" cy="327" r="10.5"/><circle cx="1133" cy="362" r="10.5"/><circle cx="1041" cy="450" r="10.5"/><circle cx="935" cy="641" r="10.5"/><circle cx="791" cy="790" r="10.5"/><circle cx="1041" cy="541" r="10.5"/><circle cx="1296" cy="351" r="10.5"/><circle cx="1396" cy="283" r="10.5"/><circle cx="1379.1" cy="433" r="10.5"/><circle cx="1066" cy="518" r="10.5"/><circle cx="1234" cy="316" r="10.5"/><circle cx="1021" cy="636" r="10.5"/><circle cx="793" cy="705" r="10.5"/><circle cx="784" cy="742" r="10.5"/><circle cx="898" cy="627" r="10.5"/><circle cx="885" cy="743" r="10.5"/><circle cx="1003" cy="702" r="10.5"/><circle cx="934" cy="649" r="10.5"/><circle cx="1266" cy="271" r="10.5"/><circle cx="1227" cy="374" r="10.5"/><circle cx="1279" cy="280" r="10.5"/><circle cx="1122" cy="535" r="10.5"/><circle cx="1044" cy="609" r="10.5"/><circle cx="1318" cy="330" r="10.5"/><circle cx="861" cy="594" r="10.5"/><circle cx="1320" cy="253" r="10.5"/><circle cx="1149" cy="407" r="10.5"/><circle cx="859" cy="674" r="10.5"/><circle cx="791" cy="679" r="10.5"/><circle cx="1197" cy="497" r="10.5"/><circle cx="856" cy="582" r="10.5"/><circle cx="1297" cy="250" r="10.5"/><circle cx="1009" cy="478" r="10.5"/><circle cx="917" cy="733" r="10.5"/><circle cx="1058" cy="653" r="10.5"/><circle cx="1035" cy="666" r="10.5"/><circle cx="790" cy="764" r="10.5"/><circle cx="920" cy="581" r="10.5"/><circle cx="806" cy="844" r="10.5"/><circle cx="824" cy="619" r="10.5"/><circle cx="1014" cy="653" r="10.5"/><circle cx="1175" cy="389" r="10.5"/><circle cx="791" cy="656" r="10.5"/><circle cx="1245" cy="479" r="10.5"/><circle cx="734" cy="848" r="10.5"/><circle cx="930" cy="527" r="10.5"/><circle cx="1058" cy="469" r="10.5"/><circle cx="1233" cy="286" r="10.5"/><circle cx="1322" cy="256" r="10.5"/><circle cx="853" cy="612" r="10.5"/><circle cx="838" cy="806" r="10.5"/><circle cx="851" cy="731" r="10.5"/><circle cx="997" cy="689" r="10.5"/><circle cx="1381" cy="245" r="10.5"/><circle cx="1120" cy="355" r="10.5"/><circle cx="1147" cy="480" r="10.5"/><circle cx="1128" cy="615" r="10.5"/><circle cx="864" cy="632" r="10.5"/><circle cx="1157" cy="508" r="10.5"/><circle cx="851" cy="612" r="10.5"/><circle cx="1173" cy="346" r="10.5"/><circle cx="1192" cy="365" r="10.5"/><circle cx="798" cy="794" r="10.5"/><circle cx="1093" cy="573" r="10.5"/><circle cx="1142" cy="506" r="10.5"/><circle cx="924" cy="683" r="10.5"/><circle cx="818" cy="647" r="10.5"/><circle cx="1091" cy="384" r="10.5"/><circle cx="1237" cy="410" r="10.5"/><circle cx="805" cy="633" r="10.5"/><circle cx="944" cy="572" r="10.5"/><circle cx="1129" cy="501" r="10.5"/><circle cx="939" cy="560" r="10.5"/><circle cx="628.7" cy="925.2" r="10.5"/><circle cx="1105" cy="614" r="10.5"/><circle cx="1294" cy="285" r="10.5"/><circle cx="1074" cy="393" r="10.5"/><circle cx="1000" cy="520" r="10.5"/><circle cx="860" cy="694" r="10.5"/><circle cx="778" cy="670" r="10.5"/><circle cx="1395.8" cy="217.5" r="10.5"/><circle cx="1014" cy="549" r="10.5"/><circle cx="845" cy="638" r="10.5"/><circle cx="851" cy="706" r="10.5"/><circle cx="1206" cy="498" r="10.5"/><circle cx="796" cy="653" r="10.5"/><circle cx="1258" cy="344" r="10.5"/><circle cx="1090" cy="376" r="10.5"/><circle cx="907" cy="562" r="10.5"/><circle cx="1011" cy="463" r="10.5"/><circle cx="837" cy="693" r="10.5"/><circle cx="967" cy="495" r="10.5"/><circle cx="978" cy="531" r="10.5"/><circle cx="784" cy="734" r="10.5"/><circle cx="1313" cy="310" r="10.5"/><circle cx="1123" cy="541" r="10.5"/><circle cx="828" cy="625" r="10.5"/><circle cx="994.4" cy="692.3" r="10.5"/><circle cx="939" cy="495" r="10.5"/><circle cx="1124.1" cy="605.4" r="10.5"/><circle cx="801" cy="721" r="10.5"/><circle cx="901" cy="578" r="10.5"/><circle cx="971" cy="691" r="10.5"/><circle cx="1048" cy="576" r="10.5"/><circle cx="1003" cy="660" r="10.5"/><circle cx="1173" cy="550" r="10.5"/><circle cx="983" cy="660" r="10.5"/><circle cx="1016" cy="484" r="10.5"/><circle cx="1165" cy="406" r="10.5"/><circle cx="797" cy="746" r="10.5"/><circle cx="1328" cy="367" r="10.5"/><circle cx="942" cy="493" r="10.5"/><circle cx="1013" cy="537" r="10.5"/><circle cx="850" cy="695" r="10.5"/><circle cx="912" cy="700" r="10.5"/><circle cx="899" cy="560" r="10.5"/><circle cx="1096" cy="607" r="10.5"/><circle cx="1214" cy="378" r="10.5"/><circle cx="1105" cy="559" r="10.5"/><circle cx="1124" cy="414" r="10.5"/><circle cx="1075" cy="556" r="10.5"/><circle cx="850" cy="685" r="10.5"/><circle cx="924" cy="503" r="10.5"/><circle cx="782" cy="806" r="10.5"/><circle cx="885" cy="651" r="10.5"/><circle cx="717.6" cy="871.1" r="10.5"/><circle cx="1369" cy="371" r="10.5"/><circle cx="912" cy="562" r="10.5"/><circle cx="1289" cy="363" r="10.5"/><circle cx="1226" cy="476" r="10.5"/><circle cx="1164" cy="368" r="10.5"/><circle cx="1225" cy="323" r="10.5"/><circle cx="897" cy="707" r="10.5"/><circle cx="1120" cy="438" r="10.5"/><circle cx="673.6" cy="879.6" r="10.5"/><circle cx="803" cy="703" r="10.5"/><circle cx="993" cy="617" r="10.5"/><circle cx="732" cy="834" r="10.5"/><circle cx="1252.1" cy="461.4" r="10.5"/><circle cx="1050" cy="477" r="10.5"/><circle cx="964" cy="474" r="10.5"/><circle cx="737" cy="805" r="10.5"/><circle cx="1134" cy="570" r="10.5"/><circle cx="1139" cy="341" r="10.5"/><circle cx="1125" cy="519" r="10.5"/><circle cx="801" cy="747" r="10.5"/><circle cx="1303.9" cy="414.7" r="10.5"/><circle cx="878" cy="629" r="10.5"/><circle cx="1293" cy="338" r="10.5"/><circle cx="866" cy="737" r="10.5"/><circle cx="1245" cy="278" r="10.5"/><circle cx="1009" cy="518" r="10.5"/><circle cx="794" cy="727" r="10.5"/><circle cx="1330" cy="289" r="10.5"/><circle cx="905" cy="724" r="10.5"/><circle cx="808" cy="833" r="10.5"/><circle cx="906" cy="720" r="10.5"/><circle cx="1263" cy="323" r="10.5"/><circle cx="1267" cy="297" r="10.5"/><circle cx="1045" cy="471" r="10.5"/><circle cx="1298" cy="250" r="10.5"/><circle cx="1078" cy="562" r="10.5"/><circle cx="905" cy="694" r="10.5"/><circle cx="1183" cy="315" r="10.5"/><circle cx="1023" cy="616" r="10.5"/><circle cx="1184" cy="363" r="10.5"/><circle cx="929" cy="524" r="10.5"/><circle cx="959" cy="710" r="10.5"/><circle cx="758" cy="757" r="10.5"/><circle cx="1129" cy="358" r="10.5"/><circle cx="1394.1" cy="292.7" r="10.5"/><circle cx="1371" cy="381" r="10.5"/><circle cx="1359" cy="368" r="10.5"/><circle cx="1078" cy="433" r="10.5"/><circle cx="1036" cy="568" r="10.5"/><circle cx="1322" cy="372" r="10.5"/><circle cx="1140" cy="573" r="10.5"/><circle cx="1154" cy="426" r="10.5"/><circle cx="831" cy="661" r="10.5"/><circle cx="995.3" cy="800.2" r="10.5"/><circle cx="1020" cy="513" r="10.5"/><circle cx="1004" cy="568" r="10.5"/><circle cx="844" cy="758" r="10.5"/><circle cx="1030" cy="607" r="10.5"/><circle cx="794" cy="826" r="10.5"/><circle cx="1202" cy="378" r="10.5"/><circle cx="1031" cy="568" r="10.5"/><circle cx="1073" cy="422" r="10.5"/><circle cx="1217" cy="530" r="10.5"/><circle cx="1170" cy="579" r="10.5"/><circle cx="1140" cy="492" r="10.5"/><circle cx="752" cy="731" r="10.5"/><circle cx="1383" cy="227" r="10.5"/><circle cx="938" cy="698" r="10.5"/><circle cx="911" cy="598" r="10.5"/><circle cx="832" cy="619" r="10.5"/><circle cx="916" cy="539" r="10.5"/><circle cx="1128" cy="364" r="10.5"/><circle cx="980" cy="712" r="10.5"/><circle cx="1267" cy="298" r="10.5"/><circle cx="984" cy="704" r="10.5"/><circle cx="1060" cy="508" r="10.5"/><circle cx="1140.1" cy="585.1" r="10.5"/><circle cx="807" cy="811" r="10.5"/><circle cx="1036" cy="447" r="10.5"/><circle cx="1188.6" cy="525" r="10.5"/><circle cx="1025" cy="539" r="10.5"/><circle cx="743" cy="780" r="10.5"/><circle cx="897" cy="559" r="10.5"/><circle cx="1362" cy="307" r="10.5"/><circle cx="1356" cy="349" r="10.5"/><circle cx="996" cy="562" r="10.5"/><circle cx="1229" cy="358" r="10.5"/><circle cx="648.3" cy="837.3" r="10.5"/><circle cx="1179.2" cy="240.2" r="10.5"/><circle cx="1207" cy="424" r="10.5"/><circle cx="1005" cy="477" r="10.5"/><circle cx="892" cy="793" r="10.5"/><circle cx="1143" cy="580" r="10.5"/><circle cx="698" cy="817.1" r="10.5"/><circle cx="964" cy="556" r="10.5"/><circle cx="1018" cy="669" r="10.5"/><circle cx="861" cy="743" r="10.5"/><circle cx="1211" cy="432" r="10.5"/><circle cx="1119" cy="411" r="10.5"/><circle cx="961" cy="475" r="10.5"/><circle cx="779" cy="762" r="10.5"/><circle cx="915" cy="532" r="10.5"/><circle cx="1282" cy="424" r="10.5"/><circle cx="724.3" cy="906.6" r="10.5"/><circle cx="793" cy="779" r="10.5"/><circle cx="890" cy="761" r="10.5"/><circle cx="1134" cy="485" r="10.5"/><circle cx="1212" cy="499" r="10.5"/><circle cx="1263" cy="325" r="10.5"/><circle cx="829" cy="638" r="10.5"/><circle cx="802" cy="659" r="10.5"/><circle cx="901" cy="726" r="10.5"/><circle cx="906" cy="550" r="10.5"/><circle cx="953" cy="604" r="10.5"/><circle cx="894" cy="574" r="10.5"/><circle cx="975" cy="710" r="10.5"/><circle cx="816" cy="782" r="10.5"/><circle cx="1322" cy="242" r="10.5"/><circle cx="937" cy="702" r="10.5"/><circle cx="1064" cy="454" r="10.5"/><circle cx="927" cy="632" r="10.5"/><circle cx="1222" cy="394" r="10.5"/><circle cx="896" cy="616" r="10.5"/><circle cx="1107" cy="346" r="10.5"/><circle cx="958" cy="687" r="10.5"/><circle cx="974" cy="665" r="10.5"/><circle cx="898.6" cy="532.3" r="10.5"/><circle cx="1150" cy="415" r="10.5"/><circle cx="970" cy="752" r="10.5"/><circle cx="1097" cy="587" r="10.5"/><circle cx="852" cy="614" r="10.5"/><circle cx="1251" cy="337" r="10.5"/><circle cx="1240" cy="297" r="10.5"/><circle cx="1254" cy="331" r="10.5"/><circle cx="978" cy="525" r="10.5"/><circle cx="1166" cy="431" r="10.5"/><circle cx="1161" cy="547" r="10.5"/><circle cx="1021" cy="639" r="10.5"/><circle cx="918" cy="593" r="10.5"/><circle cx="1184" cy="433" r="10.5"/><circle cx="738" cy="849" r="10.5"/><circle cx="879" cy="665" r="10.5"/><circle cx="1365" cy="321" r="10.5"/><circle cx="1148" cy="346" r="10.5"/><circle cx="1128" cy="396" r="10.5"/><circle cx="1041" cy="440" r="10.5"/><circle cx="1258" cy="383" r="10.5"/><circle cx="1012" cy="511" r="10.5"/><circle cx="1127" cy="472" r="10.5"/><circle cx="1304" cy="266" r="10.5"/><circle cx="882" cy="673" r="10.5"/><circle cx="1095" cy="533" r="10.5"/><circle cx="956" cy="579" r="10.5"/><circle cx="899" cy="519" r="10.5"/><circle cx="1179" cy="433" r="10.5"/><circle cx="944" cy="710" r="10.5"/><circle cx="1159" cy="465" r="10.5"/><circle cx="1071" cy="643" r="10.5"/><circle cx="1167" cy="463" r="10.5"/><circle cx="1330" cy="301" r="10.5"/><circle cx="1010" cy="552" r="10.5"/><circle cx="1252" cy="453" r="10.5"/><circle cx="1018" cy="583" r="10.5"/><circle cx="1002" cy="683" r="10.5"/><circle cx="1208" cy="329" r="10.5"/><circle cx="1084" cy="529" r="10.5"/><circle cx="793" cy="645" r="10.5"/><circle cx="1141" cy="576" r="10.5"/><circle cx="1055" cy="439" r="10.5"/><circle cx="894" cy="746" r="10.5"/><circle cx="1203" cy="296" r="10.5"/><circle cx="754" cy="716" r="10.5"/><circle cx="1157" cy="335" r="10.5"/><circle cx="1203" cy="321" r="10.5"/><circle cx="1289" cy="294" r="10.5"/><circle cx="1092" cy="417" r="10.5"/><circle cx="1163" cy="471" r="10.5"/><circle cx="727" cy="731" r="10.5"/><circle cx="757" cy="793" r="10.5"/><circle cx="714" cy="774" r="10.5"/><circle cx="869" cy="731" r="10.5"/><circle cx="1009" cy="570" r="10.5"/><circle cx="1245.4" cy="526" r="10.5"/><circle cx="1056" cy="588" r="10.5"/><circle cx="951" cy="498" r="10.5"/><circle cx="907" cy="537" r="10.5"/><circle cx="966" cy="687" r="10.5"/><circle cx="954" cy="549" r="10.5"/><circle cx="1300" cy="313" r="10.5"/><circle cx="1078" cy="576" r="10.5"/><circle cx="954" cy="511" r="10.5"/><circle cx="977" cy="668" r="10.5"/><circle cx="1127" cy="485" r="10.5"/><circle cx="866" cy="601" r="10.5"/><circle cx="810" cy="821" r="10.5"/><circle cx="665.2" cy="670.1" r="10.5"/><circle cx="781" cy="813" r="10.5"/><circle cx="1159.2" cy="562.7" r="10.5"/><circle cx="1214" cy="378" r="10.5"/><circle cx="969" cy="528" r="10.5"/><circle cx="969" cy="637" r="10.5"/><circle cx="1013" cy="559" r="10.5"/><circle cx="844" cy="669" r="10.5"/><circle cx="1360" cy="301" r="10.5"/><circle cx="922" cy="673" r="10.5"/><circle cx="1260" cy="458" r="10.5"/><circle cx="888" cy="611" r="10.5"/><circle cx="1345" cy="248" r="10.5"/><circle cx="1244" cy="433" r="10.5"/><circle cx="1106" cy="397" r="10.5"/><circle cx="1028" cy="648" r="10.5"/><circle cx="845" cy="770" r="10.5"/><circle cx="920" cy="710" r="10.5"/><circle cx="1091" cy="571" r="10.5"/><circle cx="1253" cy="420" r="10.5"/><circle cx="794" cy="679" r="10.5"/><circle cx="1065" cy="522" r="10.5"/><circle cx="825" cy="750" r="10.5"/><circle cx="902" cy="576" r="10.5"/><circle cx="1295" cy="392" r="10.5"/><circle cx="729.4" cy="881.2" r="10.5"/><circle cx="801" cy="817" r="10.5"/><circle cx="682.1" cy="805.2" r="10.5"/><circle cx="1067" cy="636" r="10.5"/><circle cx="733" cy="777" r="10.5"/><circle cx="787" cy="722" r="10.5"/><circle cx="999" cy="679" r="10.5"/><circle cx="1259" cy="282" r="10.5"/><circle cx="826" cy="697" r="10.5"/><circle cx="947" cy="712" r="10.5"/><circle cx="1296" cy="335" r="10.5"/><circle cx="1377" cy="302" r="10.5"/><circle cx="974" cy="542" r="10.5"/><circle cx="1227" cy="374" r="10.5"/><circle cx="915" cy="527" r="10.5"/><circle cx="916" cy="648" r="10.5"/><circle cx="1221" cy="514" r="10.5"/><circle cx="898" cy="603" r="10.5"/><circle cx="1141" cy="443" r="10.5"/><circle cx="1419.2" cy="282.6" r="10.5"/><circle cx="616.9" cy="853.5" r="10.5"/><circle cx="1153.1" cy="574.9" r="10.5"/><circle cx="1055" cy="469" r="10.5"/><circle cx="1229" cy="363" r="10.5"/><circle cx="993" cy="701" r="10.5"/><circle cx="975" cy="573" r="10.5"/><circle cx="1020" cy="565" r="10.5"/><circle cx="1140" cy="433" r="10.5"/><circle cx="1320" cy="412" r="10.5"/><circle cx="1183" cy="376" r="10.5"/><circle cx="1293" cy="299" r="10.5"/><circle cx="800" cy="681" r="10.5"/><circle cx="942" cy="504" r="10.5"/><circle cx="1280" cy="370" r="10.5"/><circle cx="1274" cy="266" r="10.5"/><circle cx="1200" cy="348" r="10.5"/><circle cx="985" cy="558" r="10.5"/><circle cx="974" cy="472" r="10.5"/><circle cx="1155" cy="459" r="10.5"/><circle cx="826" cy="780" r="10.5"/><circle cx="1283" cy="428" r="10.5"/><circle cx="1029" cy="510" r="10.5"/><circle cx="962" cy="704" r="10.5"/><circle cx="1131" cy="318" r="10.5"/><circle cx="1099" cy="492" r="10.5"/><circle cx="950" cy="695" r="10.5"/><circle cx="1134" cy="379" r="10.5"/><circle cx="1278" cy="286" r="10.5"/><circle cx="818" cy="619" r="10.5"/><circle cx="1018" cy="537" r="10.5"/><circle cx="1036" cy="536" r="10.5"/><circle cx="953" cy="568" r="10.5"/><circle cx="881" cy="761" r="10.5"/><circle cx="1269" cy="302" r="10.5"/><circle cx="602.7" cy="878.9" r="10.5"/><circle cx="1104" cy="432" r="10.5"/><circle cx="1312" cy="368" r="10.5"/><circle cx="1164" cy="360" r="10.5"/><circle cx="1036" cy="647" r="10.5"/><circle cx="843" cy="761" r="10.5"/><circle cx="1343" cy="362" r="10.5"/><circle cx="1047" cy="556" r="10.5"/><circle cx="756" cy="736" r="10.5"/><circle cx="962" cy="719" r="10.5"/><circle cx="1219" cy="285" r="10.5"/><circle cx="973" cy="472" r="10.5"/><circle cx="779" cy="697" r="10.5"/><circle cx="1195" cy="470" r="10.5"/><circle cx="1100" cy="496" r="10.5"/><circle cx="863" cy="678" r="10.5"/><circle cx="819" cy="703" r="10.5"/><circle cx="741" cy="758" r="10.5"/><circle cx="960" cy="570" r="10.5"/><circle cx="932" cy="760" r="10.5"/><circle cx="951" cy="512" r="10.5"/><circle cx="1160" cy="538" r="10.5"/><circle cx="1100" cy="620" r="10.5"/><circle cx="995" cy="674" r="10.5"/><circle cx="922" cy="613" r="10.5"/><circle cx="1175.2" cy="307.7" r="10.5"/><circle cx="1080" cy="543" r="10.5"/><circle cx="1023" cy="671" r="10.5"/><circle cx="1141" cy="585" r="10.5"/><circle cx="1252" cy="395" r="10.5"/><circle cx="1134" cy="338" r="10.5"/><circle cx="1066" cy="434" r="10.5"/><circle cx="944" cy="559" r="10.5"/><circle cx="912" cy="665" r="10.5"/><circle cx="1364" cy="222" r="10.5"/><circle cx="1286" cy="254" r="10.5"/><circle cx="1129" cy="479" r="10.5"/><circle cx="1392" cy="262" r="10.5"/><circle cx="920.1" cy="433.8" r="10.5"/><circle cx="958" cy="627" r="10.5"/><circle cx="1106" cy="485" r="10.5"/><circle cx="939" cy="483.7" r="10.5"/><circle cx="870.9" cy="541.3" r="10.5"/><circle cx="1276" cy="442" r="10.5"/><circle cx="1025" cy="543" r="10.5"/><circle cx="1072" cy="416" r="10.5"/><circle cx="1187" cy="344" r="10.5"/><circle cx="1170" cy="539" r="10.5"/><circle cx="1068" cy="592" r="10.5"/><circle cx="1066" cy="587" r="10.5"/><circle cx="970" cy="531" r="10.5"/><circle cx="1053" cy="534" r="10.5"/><circle cx="1312" cy="386" r="10.5"/><circle cx="1068" cy="454" r="10.5"/><circle cx="863" cy="599" r="10.5"/><circle cx="1107" cy="439" r="10.5"/><circle cx="885" cy="574" r="10.5"/><circle cx="993" cy="628" r="10.5"/><circle cx="1163" cy="544" r="10.5"/><circle cx="1125" cy="574" r="10.5"/><circle cx="738" cy="815" r="10.5"/><circle cx="853" cy="766" r="10.5"/><circle cx="1238" cy="313" r="10.5"/><circle cx="1270" cy="404" r="10.5"/><circle cx="915" cy="542" r="10.5"/><circle cx="1139" cy="483" r="10.5"/><circle cx="928" cy="650" r="10.5"/><circle cx="896" cy="559" r="10.5"/><circle cx="992" cy="606" r="10.5"/><circle cx="1018" cy="431" r="10.5"/><circle cx="1368" cy="279" r="10.5"/><circle cx="1252.1" cy="265.9" r="10.5"/><circle cx="1140.1" cy="260.9" r="10.5"/><circle cx="1109" cy="634.8" r="10.5"/><circle cx="1058.2" cy="374.6" r="10.5"/><circle cx="653.4" cy="769.8" r="10.5"/><circle cx="1155" cy="506" r="10.5"/><circle cx="1357" cy="317" r="10.5"/><circle cx="924" cy="592" r="10.5"/><circle cx="1300" cy="253" r="10.5"/><circle cx="1044" cy="504" r="10.5"/><circle cx="749" cy="798" r="10.5"/><circle cx="992" cy="517" r="10.5"/><circle cx="930" cy="643" r="10.5"/><circle cx="1004" cy="721" r="10.5"/><circle cx="1134" cy="441" r="10.5"/><circle cx="1112" cy="589" r="10.5"/><circle cx="1026" cy="626" r="10.5"/><circle cx="1048" cy="533" r="10.5"/><circle cx="745" cy="754" r="10.5"/><circle cx="1203" cy="441" r="10.5"/><circle cx="1273" cy="357" r="10.5"/><circle cx="1069" cy="564" r="10.5"/><circle cx="1090" cy="523" r="10.5"/><circle cx="1140" cy="340" r="10.5"/><circle cx="1127" cy="376" r="10.5"/><circle cx="860" cy="754" r="10.5"/><circle cx="1164" cy="446" r="10.5"/><circle cx="1094" cy="378" r="10.5"/><circle cx="1145" cy="520" r="10.5"/><circle cx="790" cy="782" r="10.5"/><circle cx="1207" cy="378" r="10.5"/><circle cx="1083" cy="381" r="10.5"/><circle cx="921" cy="670" r="10.5"/><circle cx="1192" cy="401" r="10.5"/><circle cx="1304" cy="361" r="10.5"/><circle cx="1165" cy="353" r="10.5"/><circle cx="1364" cy="284" r="10.5"/><circle cx="1019" cy="480" r="10.5"/><circle cx="845" cy="593" r="10.5"/><circle cx="783" cy="664" r="10.5"/><circle cx="673.6" cy="764.7" r="10.5"/><circle cx="1226" cy="376" r="10.5"/><circle cx="849" cy="786" r="10.5"/><circle cx="1002" cy="583" r="10.5"/><circle cx="1000" cy="563" r="10.5"/><circle cx="1068" cy="434" r="10.5"/><circle cx="830" cy="736" r="10.5"/><circle cx="820" cy="693" r="10.5"/><circle cx="1251" cy="438" r="10.5"/><circle cx="1256" cy="384" r="10.5"/><circle cx="1206" cy="317" r="10.5"/><circle cx="942" cy="686" r="10.5"/><circle cx="900" cy="559" r="10.5"/><circle cx="898" cy="651" r="10.5"/><circle cx="1306" cy="389" r="10.5"/><circle cx="724" cy="851" r="10.5"/><circle cx="1280" cy="448" r="10.5"/><circle cx="1265" cy="387" r="10.5"/><circle cx="1345" cy="361" r="10.5"/><circle cx="1127" cy="521" r="10.5"/><circle cx="1184" cy="389" r="10.5"/><circle cx="748" cy="755" r="10.5"/><circle cx="1260" cy="328" r="10.5"/><circle cx="1080" cy="549" r="10.5"/><circle cx="1279" cy="414" r="10.5"/><circle cx="1281" cy="300" r="10.5"/><circle cx="1139" cy="444" r="10.5"/><circle cx="1184" cy="427" r="10.5"/><circle cx="996" cy="475" r="10.5"/><circle cx="1286" cy="265" r="10.5"/><circle cx="1355" cy="284" r="10.5"/><circle cx="1365.7" cy="206.4" r="10.5"/><circle cx="1267" cy="284" r="10.5"/><circle cx="1165" cy="480" r="10.5"/><circle cx="1374" cy="236" r="10.5"/><circle cx="970" cy="730" r="10.5"/><circle cx="890" cy="628" r="10.5"/><circle cx="864" cy="729" r="10.5"/><circle cx="812" cy="684" r="10.5"/><circle cx="865" cy="620" r="10.5"/><circle cx="1184" cy="443" r="10.5"/><circle cx="1044" cy="389" r="10.5"/><circle cx="1049" cy="618" r="10.5"/><circle cx="790" cy="625" r="10.5"/><circle cx="909" cy="642" r="10.5"/><circle cx="1077" cy="636" r="10.5"/><circle cx="1104" cy="602" r="10.5"/><circle cx="1308" cy="405" r="10.5"/><circle cx="1155.2" cy="314.4" r="10.5"/><circle cx="1080" cy="560" r="10.5"/><circle cx="1336" cy="369" r="10.5"/><circle cx="806" cy="684" r="10.5"/><circle cx="1024" cy="595" r="10.5"/><circle cx="951.7" cy="721.3" r="10.5"/><circle cx="1154" cy="384" r="10.5"/><circle cx="1044" cy="674" r="10.5"/><circle cx="1204" cy="318" r="10.5"/><circle cx="1347" cy="275" r="10.5"/><circle cx="998" cy="593" r="10.5"/><circle cx="905" cy="759" r="10.5"/><circle cx="734" cy="753" r="10.5"/><circle cx="1045" cy="508" r="10.5"/><circle cx="984" cy="474" r="10.5"/><circle cx="1142" cy="445" r="10.5"/><circle cx="1287" cy="236" r="10.5"/><circle cx="917" cy="600" r="10.5"/><circle cx="738" cy="786" r="10.5"/><circle cx="1115" cy="563" r="10.5"/><circle cx="975" cy="521" r="10.5"/><circle cx="1267" cy="442" r="10.5"/><circle cx="1118" cy="342" r="10.5"/><circle cx="1164" cy="427" r="10.5"/><circle cx="1369" cy="275" r="10.5"/><circle cx="883" cy="682" r="10.5"/><circle cx="655.1" cy="828.9" r="10.5"/><circle cx="991" cy="694" r="10.5"/><circle cx="1034" cy="645" r="10.5"/><circle cx="1111" cy="475" r="10.5"/><circle cx="1150" cy="426" r="10.5"/><circle cx="1162" cy="384" r="10.5"/><circle cx="1154" cy="530" r="10.5"/><circle cx="962" cy="616" r="10.5"/><circle cx="1200" cy="463" r="10.5"/><circle cx="1033" cy="612" r="10.5"/><circle cx="882" cy="706" r="10.5"/><circle cx="946" cy="519" r="10.5"/><circle cx="1136" cy="467" r="10.5"/><circle cx="768" cy="735" r="10.5"/><circle cx="1153" cy="406" r="10.5"/><circle cx="983" cy="700" r="10.5"/><circle cx="1141" cy="405" r="10.5"/><circle cx="1350" cy="277" r="10.5"/><circle cx="840" cy="767" r="10.5"/><circle cx="795" cy="812" r="10.5"/><circle cx="702.4" cy="916.7" r="10.5"/><circle cx="906" cy="564" r="10.5"/><circle cx="1114" cy="340" r="10.5"/><circle cx="1107" cy="489" r="10.5"/><circle cx="903" cy="532" r="10.5"/><circle cx="1316" cy="259" r="10.5"/><circle cx="957" cy="666" r="10.5"/><circle cx="1096" cy="618" r="10.5"/><circle cx="1186" cy="372" r="10.5"/><circle cx="1054" cy="618" r="10.5"/><circle cx="1053" cy="594" r="10.5"/><circle cx="883" cy="643" r="10.5"/><circle cx="1118" cy="410" r="10.5"/><circle cx="1228" cy="342" r="10.5"/><circle cx="1208" cy="355" r="10.5"/><circle cx="963.2" cy="731.9" r="10.5"/><circle cx="782" cy="727" r="10.5"/><circle cx="1331" cy="252" r="10.5"/><circle cx="979" cy="537" r="10.5"/><circle cx="1039" cy="651" r="10.5"/><circle cx="1207" cy="364" r="10.5"/><circle cx="853" cy="766" r="10.5"/><circle cx="998" cy="601" r="10.5"/><circle cx="1236" cy="374" r="10.5"/><circle cx="1162" cy="338" r="10.5"/><circle cx="1118" cy="583" r="10.5"/><circle cx="1301" cy="262" r="10.5"/><circle cx="1300" cy="421" r="10.5"/><circle cx="1095" cy="612" r="10.5"/><circle cx="784" cy="680" r="10.5"/><circle cx="905" cy="749" r="10.5"/><circle cx="1308" cy="320" r="10.5"/><circle cx="1042" cy="478" r="10.5"/><circle cx="1194" cy="437" r="10.5"/><circle cx="1007" cy="492" r="10.5"/><circle cx="1138" cy="440" r="10.5"/><circle cx="1290" cy="305" r="10.5"/><circle cx="731" cy="833" r="10.5"/><circle cx="1009" cy="532" r="10.5"/><circle cx="805" cy="647" r="10.5"/><circle cx="897" cy="612" r="10.5"/><circle cx="993" cy="539" r="10.5"/><circle cx="1074" cy="501" r="10.5"/><circle cx="1189" cy="434" r="10.5"/><circle cx="846" cy="682" r="10.5"/><circle cx="1292" cy="366" r="10.5"/><circle cx="725" cy="825" r="10.5"/><circle cx="1278" cy="281" r="10.5"/><circle cx="982" cy="657" r="10.5"/><circle cx="1074" cy="541" r="10.5"/><circle cx="1208" cy="515" r="10.5"/><circle cx="890" cy="745" r="10.5"/><circle cx="1101" cy="412" r="10.5"/><circle cx="1140" cy="418" r="10.5"/><circle cx="952" cy="744" r="10.5"/><circle cx="759" cy="812" r="10.5"/><circle cx="1038" cy="405" r="10.5"/><circle cx="982" cy="617" r="10.5"/><circle cx="1071" cy="530" r="10.5"/><circle cx="762" cy="739" r="10.5"/><circle cx="1136" cy="504" r="10.5"/><circle cx="1154" cy="425" r="10.5"/><circle cx="947" cy="717" r="10.5"/><circle cx="1117" cy="613" r="10.5"/><circle cx="1206" cy="340" r="10.5"/><circle cx="1172" cy="481" r="10.5"/><circle cx="993" cy="515" r="10.5"/><circle cx="797" cy="725" r="10.5"/><circle cx="908" cy="617" r="10.5"/><circle cx="1204" cy="324" r="10.5"/><circle cx="908" cy="652" r="10.5"/><circle cx="1031" cy="610" r="10.5"/><circle cx="1348" cy="322" r="10.5"/><circle cx="1365" cy="275" r="10.5"/><circle cx="1386" cy="297" r="10.5"/><circle cx="1100" cy="474" r="10.5"/><circle cx="1026" cy="508" r="10.5"/><circle cx="1024" cy="394" r="10.5"/><circle cx="979" cy="627" r="10.5"/><circle cx="935" cy="662" r="10.5"/><circle cx="715" cy="810" r="10.5"/><circle cx="1156" cy="514" r="10.5"/><circle cx="785" cy="697" r="10.5"/><circle cx="1294" cy="346" r="10.5"/><circle cx="946" cy="557" r="10.5"/><circle cx="842" cy="594" r="10.5"/><circle cx="1023" cy="646" r="10.5"/><circle cx="1019" cy="528" r="10.5"/><circle cx="1124" cy="376" r="10.5"/><circle cx="1239" cy="284" r="10.5"/><circle cx="1017" cy="629" r="10.5"/><circle cx="1105" cy="373" r="10.5"/><circle cx="677" cy="833.9" r="10.5"/><circle cx="887" cy="601" r="10.5"/><circle cx="767" cy="815" r="10.5"/><circle cx="1462.7" cy="200.8" r="10.5"/><circle cx="998" cy="490" r="10.5"/><circle cx="1175" cy="433" r="10.5"/><circle cx="794" cy="730" r="10.5"/><circle cx="1182" cy="560" r="10.5"/><circle cx="1255" cy="322" r="10.5"/><circle cx="1297" cy="279" r="10.5"/><circle cx="1311" cy="281" r="10.5"/><circle cx="1298" cy="368" r="10.5"/><circle cx="1083" cy="443" r="10.5"/><circle cx="1265" cy="309" r="10.5"/><circle cx="1076" cy="436" r="10.5"/><circle cx="814" cy="839" r="10.5"/><circle cx="1108" cy="572" r="10.5"/><circle cx="957" cy="557" r="10.5"/><circle cx="950" cy="531" r="10.5"/><circle cx="961" cy="604" r="10.5"/><circle cx="921" cy="563" r="10.5"/><circle cx="1169" cy="435" r="10.5"/><circle cx="774" cy="685" r="10.5"/><circle cx="982" cy="505" r="10.5"/><circle cx="1332" cy="284" r="10.5"/><circle cx="1047" cy="436" r="10.5"/><circle cx="1180" cy="526" r="10.5"/><circle cx="1168" cy="471" r="10.5"/><circle cx="987" cy="654" r="10.5"/><circle cx="813.9" cy="611" r="10.5"/><circle cx="1375" cy="305" r="10.5"/><circle cx="840" cy="720" r="10.5"/><circle cx="964" cy="715" r="10.5"/><circle cx="1295" cy="300" r="10.5"/><circle cx="579.7" cy="1019.8" r="10.5"/><circle cx="1078" cy="445" r="10.5"/><circle cx="1157" cy="307" r="10.5"/><circle cx="938" cy="549" r="10.5"/><circle cx="1064" cy="457" r="10.5"/><circle cx="971" cy="656" r="10.5"/><circle cx="892" cy="624" r="10.5"/><circle cx="795" cy="670" r="10.5"/><circle cx="856" cy="639" r="10.5"/><circle cx="739" cy="789" r="10.5"/><circle cx="804" cy="725" r="10.5"/><circle cx="1099" cy="385" r="10.5"/><circle cx="905" cy="596" r="10.5"/><circle cx="856" cy="575" r="10.5"/><circle cx="862" cy="634" r="10.5"/><circle cx="916" cy="584" r="10.5"/><circle cx="1297" cy="299" r="10.5"/><circle cx="1031" cy="425" r="10.5"/><circle cx="1029" cy="472" r="10.5"/><circle cx="1296" cy="284" r="10.5"/><circle cx="821" cy="632" r="10.5"/><circle cx="1288" cy="407" r="10.5"/><circle cx="1054" cy="604" r="10.5"/><circle cx="748" cy="874" r="10.5"/><circle cx="1015" cy="528" r="10.5"/><circle cx="1163" cy="355" r="10.5"/><circle cx="1075" cy="349.5" r="10.5"/><circle cx="914.2" cy="818.1" r="10.5"/><circle cx="1001" cy="683" r="10.5"/><circle cx="1071" cy="513" r="10.5"/><circle cx="1123" cy="403" r="10.5"/><circle cx="658.4" cy="683.6" r="10.5"/><circle cx="904" cy="685" r="10.5"/><circle cx="1354" cy="360" r="10.5"/><circle cx="1038" cy="460" r="10.5"/><circle cx="1390.8" cy="374.6" r="10.5"/><circle cx="836" cy="784" r="10.5"/><circle cx="1369" cy="239" r="10.5"/><circle cx="1004" cy="629" r="10.5"/><circle cx="1060" cy="437" r="10.5"/><circle cx="808" cy="785" r="10.5"/><circle cx="1283" cy="383" r="10.5"/><circle cx="1224" cy="271" r="10.5"/><circle cx="779" cy="650" r="10.5"/><circle cx="1286" cy="390" r="10.5"/><circle cx="803" cy="666" r="10.5"/><circle cx="793" cy="671" r="10.5"/><circle cx="1242" cy="410" r="10.5"/><circle cx="1345" cy="357" r="10.5"/><circle cx="754.1" cy="899.2" r="10.5"/><circle cx="881" cy="546" r="10.5"/><circle cx="990" cy="574" r="10.5"/><circle cx="1240" cy="446" r="10.5"/><circle cx="1169" cy="503" r="10.5"/><circle cx="678.7" cy="904.9" r="10.5"/><circle cx="1041" cy="520" r="10.5"/><circle cx="1007" cy="696" r="10.5"/><circle cx="806" cy="683" r="10.5"/><circle cx="1179" cy="462" r="10.5"/><circle cx="1219" cy="289" r="10.5"/><circle cx="612.2" cy="797.8" r="10.5"/><circle cx="1103" cy="389" r="10.5"/><circle cx="1232" cy="411" r="10.5"/><circle cx="982" cy="565" r="10.5"/><circle cx="837" cy="661" r="10.5"/><circle cx="782" cy="769" r="10.5"/><circle cx="1192" cy="404" r="10.5"/><circle cx="1229" cy="476" r="10.5"/><circle cx="1281" cy="304" r="10.5"/><circle cx="1035" cy="685" r="10.5"/><circle cx="917" cy="593" r="10.5"/><circle cx="1320" cy="267" r="10.5"/><circle cx="1246" cy="459" r="10.5"/><circle cx="695.6" cy="893.1" r="10.5"/><circle cx="1052" cy="638" r="10.5"/><circle cx="1177" cy="472" r="10.5"/><circle cx="826" cy="659" r="10.5"/><circle cx="871" cy="741" r="10.5"/><circle cx="695.6" cy="685.3" r="10.5"/><circle cx="1058" cy="414" r="10.5"/><circle cx="1253" cy="284" r="10.5"/><circle cx="1115" cy="603" r="10.5"/><circle cx="1399.1" cy="264.3" r="10.5"/><circle cx="1333" cy="274" r="10.5"/><circle cx="822" cy="821" r="10.5"/><circle cx="1249" cy="317" r="10.5"/><circle cx="1128" cy="447" r="10.5"/><circle cx="1103" cy="513" r="10.5"/><circle cx="1016" cy="585" r="10.5"/><circle cx="1191" cy="363" r="10.5"/><circle cx="1345.7" cy="384.6" r="10.5"/><circle cx="1021" cy="566" r="10.5"/><circle cx="1355" cy="256" r="10.5"/><circle cx="809" cy="731" r="10.5"/><circle cx="885" cy="763" r="10.5"/><circle cx="815" cy="696" r="10.5"/><circle cx="1014" cy="634" r="10.5"/><circle cx="1055.4" cy="655.7" r="10.5"/><circle cx="684.5" cy="719.8" r="10.5"/><circle cx="789" cy="706" r="10.5"/><circle cx="987" cy="666" r="10.5"/><circle cx="1062" cy="617" r="10.5"/><circle cx="896" cy="562" r="10.5"/><circle cx="1057" cy="603" r="10.5"/><circle cx="1286" cy="365" r="10.5"/><circle cx="1086" cy="565" r="10.5"/><circle cx="967" cy="683" r="10.5"/><circle cx="1115" cy="527" r="10.5"/><circle cx="993" cy="475" r="10.5"/><circle cx="1075" cy="364" r="10.5"/><circle cx="988" cy="534" r="10.5"/><circle cx="1037.1" cy="690.8" r="10.5"/><circle cx="818" cy="834" r="10.5"/><circle cx="1135" cy="315" r="10.5"/><circle cx="974" cy="676" r="10.5"/><circle cx="1337" cy="343" r="10.5"/><circle cx="1026" cy="686" r="10.5"/><circle cx="1089" cy="551" r="10.5"/><circle cx="1051" cy="491" r="10.5"/><circle cx="1364" cy="271" r="10.5"/><circle cx="1382" cy="303" r="10.5"/><circle cx="1058" cy="401" r="10.5"/><circle cx="771" cy="856" r="10.5"/><circle cx="823" cy="726" r="10.5"/><circle cx="1017" cy="676" r="10.5"/><circle cx="1160.2" cy="551.7" r="10.5"/><circle cx="1221" cy="357" r="10.5"/><circle cx="1299" cy="400" r="10.5"/><circle cx="1208" cy="467" r="10.5"/><circle cx="770" cy="665" r="10.5"/><circle cx="1192" cy="362" r="10.5"/><circle cx="1022.5" cy="712.1" r="10.5"/><circle cx="1025" cy="681" r="10.5"/><circle cx="1076" cy="568" r="10.5"/><circle cx="949" cy="668" r="10.5"/><circle cx="896" cy="631" r="10.5"/><circle cx="741" cy="773" r="10.5"/><circle cx="1281" cy="413" r="10.5"/><circle cx="1018" cy="642" r="10.5"/><circle cx="1225" cy="361" r="10.5"/><circle cx="1273" cy="318" r="10.5"/><circle cx="1165" cy="449" r="10.5"/><circle cx="754" cy="789" r="10.5"/><circle cx="1113" cy="523" r="10.5"/><circle cx="819" cy="787" r="10.5"/><circle cx="1361" cy="251" r="10.5"/><circle cx="1124" cy="520" r="10.5"/><circle cx="988" cy="581" r="10.5"/><circle cx="1389.8" cy="351.8" r="10.5"/><circle cx="1152" cy="586" r="10.5"/><circle cx="1209" cy="309" r="10.5"/><circle cx="1132" cy="571" r="10.5"/><circle cx="1124" cy="445" r="10.5"/><circle cx="806" cy="772" r="10.5"/><circle cx="833" cy="719" r="10.5"/><circle cx="1351" cy="350" r="10.5"/><circle cx="1295" cy="418" r="10.5"/><circle cx="996" cy="522" r="10.5"/><circle cx="1173" cy="347" r="10.5"/><circle cx="1001" cy="682" r="10.5"/><circle cx="1109" cy="425" r="10.5"/><circle cx="745" cy="850" r="10.5"/><circle cx="1110" cy="413" r="10.5"/><circle cx="867" cy="695" r="10.5"/><circle cx="865" cy="733" r="10.5"/><circle cx="1041" cy="417" r="10.5"/><circle cx="1036" cy="536" r="10.5"/><circle cx="772" cy="801" r="10.5"/><circle cx="825" cy="657" r="10.5"/><circle cx="1061" cy="506" r="10.5"/><circle cx="1122" cy="500" r="10.5"/><circle cx="1316" cy="405" r="10.5"/><circle cx="864" cy="787" r="10.5"/><circle cx="1076" cy="618" r="10.5"/><circle cx="978" cy="451" r="10.5"/><circle cx="786" cy="717" r="10.5"/><circle cx="1040" cy="497" r="10.5"/><circle cx="822" cy="768" r="10.5"/><circle cx="1169" cy="367" r="10.5"/><circle cx="889" cy="636" r="10.5"/><circle cx="779" cy="667" r="10.5"/><circle cx="816" cy="626" r="10.5"/><circle cx="1108" cy="359" r="10.5"/><circle cx="980" cy="542" r="10.5"/><circle cx="1075" cy="401" r="10.5"/><circle cx="789" cy="676" r="10.5"/><circle cx="1271" cy="281" r="10.5"/><circle cx="1359" cy="314" r="10.5"/><circle cx="984" cy="465" r="10.5"/><circle cx="1021" cy="527" r="10.5"/><circle cx="970" cy="714" r="10.5"/><circle cx="1060" cy="639" r="10.5"/><circle cx="734" cy="735" r="10.5"/><circle cx="1137" cy="550" r="10.5"/><circle cx="991" cy="528" r="10.5"/><circle cx="787.5" cy="857.6" r="10.5"/><circle cx="1023" cy="593" r="10.5"/><circle cx="1068" cy="428" r="10.5"/><circle cx="772" cy="789" r="10.5"/><circle cx="1127" cy="468" r="10.5"/><circle cx="1439.3" cy="194.1" r="10.5"/><circle cx="1098" cy="469" r="10.5"/><circle cx="1176" cy="341" r="10.5"/><circle cx="1314" cy="387" r="10.5"/><circle cx="1072" cy="610" r="10.5"/><circle cx="789" cy="661" r="10.5"/><circle cx="987" cy="710" r="10.5"/><circle cx="815" cy="695" r="10.5"/><circle cx="907" cy="744" r="10.5"/><circle cx="1333" cy="369" r="10.5"/><circle cx="791" cy="700" r="10.5"/><circle cx="1234" cy="398" r="10.5"/><circle cx="1079" cy="442" r="10.5"/><circle cx="928" cy="536" r="10.5"/><circle cx="1341" cy="343" r="10.5"/><circle cx="958" cy="734" r="10.5"/><circle cx="790" cy="745" r="10.5"/><circle cx="834" cy="800" r="10.5"/><circle cx="1206" cy="270" r="10.5"/><circle cx="979" cy="545" r="10.5"/><circle cx="1239" cy="369" r="10.5"/><circle cx="1197" cy="347" r="10.5"/><circle cx="1362" cy="289" r="10.5"/><circle cx="1005" cy="503" r="10.5"/><circle cx="933" cy="723" r="10.5"/><circle cx="825" cy="617" r="10.5"/><circle cx="1056" cy="610" r="10.5"/><circle cx="887" cy="667" r="10.5"/><circle cx="1175" cy="404" r="10.5"/><circle cx="1127" cy="339" r="10.5"/><circle cx="913" cy="669" r="10.5"/><circle cx="891" cy="759" r="10.5"/><circle cx="1028" cy="547" r="10.5"/><circle cx="784" cy="770" r="10.5"/><circle cx="817" cy="621" r="10.5"/><circle cx="1344" cy="278" r="10.5"/><circle cx="1160" cy="307" r="10.5"/><circle cx="1066" cy="418" r="10.5"/><circle cx="788" cy="858" r="10.5"/><circle cx="1305" cy="280" r="10.5"/><circle cx="685.5" cy="871.1" r="10.5"/><circle cx="1077" cy="434" r="10.5"/><circle cx="949" cy="488" r="10.5"/><circle cx="1195" cy="348" r="10.5"/><circle cx="1003" cy="545" r="10.5"/><circle cx="1013" cy="504" r="10.5"/><circle cx="737" cy="767" r="10.5"/><circle cx="1186" cy="398" r="10.5"/><circle cx="1005.1" cy="712.8" r="10.5"/><circle cx="869" cy="604" r="10.5"/><circle cx="986" cy="557" r="10.5"/><circle cx="823" cy="788" r="10.5"/><circle cx="1266" cy="340" r="10.5"/><circle cx="996" cy="584" r="10.5"/><circle cx="1258" cy="446" r="10.5"/><circle cx="1197" cy="338" r="10.5"/><circle cx="842" cy="670" r="10.5"/><circle cx="1339" cy="309" r="10.5"/><circle cx="751" cy="765" r="10.5"/><circle cx="801" cy="704" r="10.5"/><circle cx="927" cy="580" r="10.5"/><circle cx="1091" cy="552" r="10.5"/><circle cx="1169" cy="510" r="10.5"/><circle cx="1106" cy="583" r="10.5"/><circle cx="1208" cy="377" r="10.5"/><circle cx="935" cy="624" r="10.5"/><circle cx="1084" cy="410" r="10.5"/><circle cx="745" cy="758" r="10.5"/><circle cx="634.8" cy="703.9" r="10.5"/><circle cx="943" cy="518" r="10.5"/><circle cx="1113" cy="446" r="10.5"/><circle cx="1074" cy="493" r="10.5"/><circle cx="1222" cy="281" r="10.5"/><circle cx="1004" cy="587" r="10.5"/><circle cx="979" cy="504" r="10.5"/><circle cx="1086" cy="377" r="10.5"/><circle cx="809" cy="616" r="10.5"/><circle cx="993" cy="722" r="10.5"/><circle cx="806" cy="782" r="10.5"/><circle cx="970" cy="561" r="10.5"/><circle cx="1249" cy="389" r="10.5"/><circle cx="1153" cy="565" r="10.5"/><circle cx="1119" cy="470" r="10.5"/><circle cx="1305" cy="346" r="10.5"/><circle cx="952" cy="698" r="10.5"/><circle cx="835" cy="760" r="10.5"/><circle cx="973" cy="633" r="10.5"/><circle cx="1360" cy="332" r="10.5"/><circle cx="840" cy="649" r="10.5"/><circle cx="956" cy="552" r="10.5"/><circle cx="1051" cy="500" r="10.5"/><circle cx="803" cy="711" r="10.5"/><circle cx="1109" cy="443" r="10.5"/><circle cx="1318" cy="307" r="10.5"/><circle cx="996" cy="680" r="10.5"/><circle cx="1213" cy="271" r="10.5"/><circle cx="1022" cy="472" r="10.5"/><circle cx="1400.8" cy="329.4" r="10.5"/><circle cx="781" cy="644" r="10.5"/><circle cx="1127" cy="491" r="10.5"/><circle cx="785" cy="798" r="10.5"/><circle cx="981" cy="548" r="10.5"/><circle cx="867" cy="672" r="10.5"/><circle cx="541.2" cy="767.4" r="10.5"/><circle cx="1011" cy="612" r="10.5"/><circle cx="939" cy="709" r="10.5"/><circle cx="1149" cy="461" r="10.5"/><circle cx="1304" cy="362" r="10.5"/><circle cx="881" cy="802" r="10.5"/><circle cx="979" cy="661" r="10.5"/><circle cx="821" cy="642" r="10.5"/><circle cx="939" cy="680" r="10.5"/><circle cx="979" cy="706" r="10.5"/><circle cx="1108" cy="400" r="10.5"/><circle cx="745" cy="855" r="10.5"/><circle cx="778" cy="771" r="10.5"/><circle cx="919" cy="621" r="10.5"/><circle cx="1271" cy="278" r="10.5"/><circle cx="1268" cy="460" r="10.5"/><circle cx="975" cy="532" r="10.5"/><circle cx="980" cy="577" r="10.5"/><circle cx="1429.2" cy="202.4" r="10.5"/><circle cx="967" cy="715" r="10.5"/><circle cx="646.6" cy="704.9" r="10.5"/><circle cx="790" cy="854" r="10.5"/><circle cx="1325" cy="267" r="10.5"/><circle cx="777" cy="821" r="10.5"/><circle cx="827" cy="633" r="10.5"/><circle cx="1213" cy="363" r="10.5"/><circle cx="1052" cy="457" r="10.5"/><circle cx="1015" cy="601" r="10.5"/><circle cx="1328" cy="366" r="10.5"/><circle cx="1048" cy="485" r="10.5"/><circle cx="1234" cy="343" r="10.5"/><circle cx="1140" cy="521" r="10.5"/><circle cx="833" cy="649" r="10.5"/><circle cx="1002" cy="655" r="10.5"/><circle cx="732" cy="744" r="10.5"/><circle cx="1262" cy="274" r="10.5"/><circle cx="905" cy="679" r="10.5"/><circle cx="1010" cy="518" r="10.5"/><circle cx="1216" cy="274" r="10.5"/><circle cx="925" cy="687" r="10.5"/><circle cx="990" cy="451" r="10.5"/><circle cx="1209" cy="415" r="10.5"/><circle cx="1019" cy="542" r="10.5"/><circle cx="1199" cy="347" r="10.5"/><circle cx="1364" cy="231" r="10.5"/><circle cx="869" cy="643" r="10.5"/><circle cx="1128" cy="369" r="10.5"/><circle cx="867" cy="649" r="10.5"/><circle cx="963" cy="701" r="10.5"/><circle cx="917" cy="628" r="10.5"/><circle cx="1028" cy="541" r="10.5"/><circle cx="1324" cy="256" r="10.5"/><circle cx="1084" cy="601" r="10.5"/><circle cx="1095" cy="431" r="10.5"/><circle cx="946" cy="550" r="10.5"/><circle cx="899" cy="693" r="10.5"/><circle cx="686.5" cy="617.1" r="10.5"/><circle cx="801" cy="832" r="10.5"/><circle cx="1013" cy="678" r="10.5"/><circle cx="1298" cy="402" r="10.5"/><circle cx="951" cy="677" r="10.5"/><circle cx="944" cy="684" r="10.5"/><circle cx="1281" cy="346" r="10.5"/><circle cx="1258" cy="454" r="10.5"/><circle cx="865" cy="633" r="10.5"/><circle cx="750" cy="788" r="10.5"/><circle cx="814" cy="826" r="10.5"/><circle cx="1304" cy="304" r="10.5"/><circle cx="845" cy="730" r="10.5"/><circle cx="1341" cy="338" r="10.5"/><circle cx="1339" cy="284" r="10.5"/><circle cx="1259" cy="417" r="10.5"/><circle cx="1101" cy="462" r="10.5"/><circle cx="762" cy="686" r="10.5"/><circle cx="913.5" cy="777.2" r="10.5"/><circle cx="822" cy="698" r="10.5"/><circle cx="748" cy="789" r="10.5"/><circle cx="1097" cy="618" r="10.5"/><circle cx="881" cy="621" r="10.5"/><circle cx="796" cy="635" r="10.5"/><circle cx="1103" cy="592" r="10.5"/><circle cx="972" cy="633" r="10.5"/><circle cx="1134" cy="335" r="10.5"/><circle cx="1164" cy="442" r="10.5"/><circle cx="1161" cy="361" r="10.5"/><circle cx="1319" cy="397" r="10.5"/><circle cx="1067" cy="505" r="10.5"/><circle cx="904" cy="625" r="10.5"/><circle cx="815" cy="746" r="10.5"/><circle cx="981" cy="482" r="10.5"/><circle cx="1325" cy="291" r="10.5"/><circle cx="1250" cy="282" r="10.5"/><circle cx="1172" cy="360" r="10.5"/><circle cx="884" cy="583" r="10.5"/><circle cx="972" cy="527" r="10.5"/><circle cx="851" cy="798.5" r="10.5"/><circle cx="1223" cy="393" r="10.5"/><circle cx="890" cy="777" r="10.5"/><circle cx="1014" cy="479" r="10.5"/><circle cx="1206" cy="546.7" r="10.5"/><circle cx="1228" cy="514" r="10.5"/><circle cx="796" cy="639" r="10.5"/><circle cx="953" cy="567" r="10.5"/><circle cx="1255" cy="364" r="10.5"/><circle cx="1043.2" cy="655.7" r="10.5"/><circle cx="822" cy="733" r="10.5"/><circle cx="788" cy="719" r="10.5"/><circle cx="1168" cy="371" r="10.5"/><circle cx="1032" cy="474" r="10.5"/><circle cx="1184" cy="296" r="10.5"/><circle cx="1185" cy="412" r="10.5"/><circle cx="1001" cy="432" r="10.5"/><circle cx="1214" cy="296" r="10.5"/><circle cx="1122" cy="369" r="10.5"/><circle cx="945" cy="739" r="10.5"/><circle cx="994" cy="680" r="10.5"/><circle cx="840" cy="672" r="10.5"/><circle cx="1285" cy="263" r="10.5"/><circle cx="1199" cy="453" r="10.5"/><circle cx="1154" cy="400" r="10.5"/><circle cx="1171" cy="496" r="10.5"/><circle cx="816" cy="813" r="10.5"/><circle cx="993" cy="453" r="10.5"/><circle cx="1212" cy="460" r="10.5"/><circle cx="1115" cy="399" r="10.5"/><circle cx="1056" cy="542" r="10.5"/><circle cx="1188" cy="406" r="10.5"/><circle cx="1064" cy="631" r="10.5"/><circle cx="1016" cy="453" r="10.5"/><circle cx="1136" cy="556" r="10.5"/><circle cx="936" cy="703" r="10.5"/><circle cx="780" cy="831" r="10.5"/><circle cx="721" cy="812" r="10.5"/><circle cx="1132" cy="500" r="10.5"/><circle cx="978" cy="540" r="10.5"/><circle cx="893" cy="555" r="10.5"/><circle cx="1120" cy="358" r="10.5"/><circle cx="1113" cy="534" r="10.5"/><circle cx="1137" cy="388" r="10.5"/><circle cx="1243" cy="340" r="10.5"/><circle cx="1361" cy="320" r="10.5"/><circle cx="1217" cy="319" r="10.5"/><circle cx="1001" cy="525" r="10.5"/><circle cx="1193" cy="505" r="10.5"/><circle cx="1374" cy="289" r="10.5"/><circle cx="859" cy="769" r="10.5"/><circle cx="1299" cy="291" r="10.5"/><circle cx="866" cy="748" r="10.5"/><circle cx="1068" cy="547" r="10.5"/><circle cx="804" cy="761" r="10.5"/><circle cx="904" cy="775" r="10.5"/><circle cx="1120" cy="480" r="10.5"/><circle cx="923" cy="514" r="10.5"/><circle cx="1026" cy="523" r="10.5"/><circle cx="1227" cy="357" r="10.5"/><circle cx="1323" cy="379" r="10.5"/><circle cx="1059" cy="460" r="10.5"/><circle cx="830" cy="589" r="10.5"/><circle cx="1247" cy="297" r="10.5"/><circle cx="890" cy="724" r="10.5"/><circle cx="850" cy="572" r="10.5"/><circle cx="1064" cy="646" r="10.5"/><circle cx="1036" cy="623" r="10.5"/><circle cx="919" cy="622" r="10.5"/><circle cx="1047" cy="682" r="10.5"/><circle cx="1336" cy="328" r="10.5"/><circle cx="1335" cy="225" r="10.5"/><circle cx="1289" cy="374" r="10.5"/><circle cx="1289" cy="430" r="10.5"/><circle cx="1135" cy="490" r="10.5"/><circle cx="955" cy="698" r="10.5"/><circle cx="1115" cy="520" r="10.5"/><circle cx="1243" cy="390" r="10.5"/><circle cx="795" cy="828" r="10.5"/><circle cx="769" cy="748" r="10.5"/><circle cx="879" cy="734" r="10.5"/><circle cx="1160" cy="554" r="10.5"/><circle cx="785" cy="636" r="10.5"/><circle cx="1129" cy="575" r="10.5"/><circle cx="1109" cy="324" r="10.5"/><circle cx="828" cy="821" r="10.5"/><circle cx="1464.3" cy="214.1" r="10.5"/><circle cx="1068" cy="515" r="10.5"/><circle cx="1209" cy="325" r="10.5"/><circle cx="936" cy="749" r="10.5"/><circle cx="1160" cy="425" r="10.5"/><circle cx="822" cy="682" r="10.5"/><circle cx="1207" cy="279.3" r="10.5"/><circle cx="872" cy="742" r="10.5"/><circle cx="1177" cy="384" r="10.5"/><circle cx="969" cy="485" r="10.5"/><circle cx="966" cy="670" r="10.5"/><circle cx="977" cy="562" r="10.5"/><circle cx="1096" cy="351" r="10.5"/><circle cx="804" cy="744" r="10.5"/><circle cx="1100" cy="363" r="10.5"/><circle cx="771" cy="730" r="10.5"/><circle cx="1220" cy="507" r="10.5"/><circle cx="1190" cy="302" r="10.5"/><circle cx="1344" cy="224.2" r="10.5"/><circle cx="1043" cy="614" r="10.5"/><circle cx="1249" cy="316" r="10.5"/><circle cx="974" cy="610" r="10.5"/><circle cx="830" cy="692" r="10.5"/><circle cx="822" cy="634" r="10.5"/><circle cx="1143" cy="508" r="10.5"/><circle cx="1350" cy="229" r="10.5"/><circle cx="776.7" cy="651.5" r="10.5"/><circle cx="1240" cy="272" r="10.5"/><circle cx="1064" cy="568" r="10.5"/><circle cx="959" cy="651" r="10.5"/><circle cx="1193" cy="421" r="10.5"/><circle cx="971" cy="686" r="10.5"/><circle cx="805" cy="752" r="10.5"/><circle cx="1106" cy="380" r="10.5"/><circle cx="763" cy="732" r="10.5"/><circle cx="891" cy="556" r="10.5"/><circle cx="845.9" cy="545.8" r="10.5"/><circle cx="1060" cy="613" r="10.5"/><circle cx="1241" cy="365" r="10.5"/><circle cx="816" cy="833" r="10.5"/><circle cx="993" cy="552" r="10.5"/><circle cx="813" cy="820" r="10.5"/><circle cx="971" cy="664" r="10.5"/><circle cx="1257" cy="408" r="10.5"/><circle cx="1053" cy="574" r="10.5"/><circle cx="922" cy="503" r="10.5"/><circle cx="1339" cy="294" r="10.5"/><circle cx="990" cy="471" r="10.5"/><circle cx="826" cy="722" r="10.5"/><circle cx="1201" cy="426" r="10.5"/><circle cx="1145" cy="440" r="10.5"/><circle cx="1220" cy="312" r="10.5"/><circle cx="907" cy="685" r="10.5"/><circle cx="789" cy="790" r="10.5"/><circle cx="1327.3" cy="239.2" r="10.5"/><circle cx="1126" cy="357" r="10.5"/><circle cx="1075" cy="370" r="10.5"/><circle cx="827" cy="805" r="10.5"/><circle cx="767" cy="812" r="10.5"/><circle cx="1092" cy="503" r="10.5"/><circle cx="753" cy="725" r="10.5"/><circle cx="1184" cy="380" r="10.5"/><circle cx="875" cy="800" r="10.5"/><circle cx="979" cy="509" r="10.5"/><circle cx="1129" cy="528" r="10.5"/><circle cx="842" cy="639" r="10.5"/><circle cx="843" cy="632" r="10.5"/><circle cx="751.4" cy="651.5" r="10.5"/><circle cx="737" cy="789" r="10.5"/><circle cx="1080" cy="388" r="10.5"/><circle cx="1193" cy="430" r="10.5"/><circle cx="1170" cy="378" r="10.5"/><circle cx="919" cy="628" r="10.5"/><circle cx="1278" cy="410" r="10.5"/><circle cx="1117" cy="554" r="10.5"/><circle cx="924" cy="673" r="10.5"/><circle cx="1360" cy="249" r="10.5"/><circle cx="820" cy="596" r="10.5"/><circle cx="1102" cy="463" r="10.5"/><circle cx="910" cy="556" r="10.5"/><circle cx="1201" cy="282" r="10.5"/><circle cx="1260" cy="365" r="10.5"/><circle cx="878" cy="586" r="10.5"/><circle cx="1440.9" cy="220.8" r="10.5"/><circle cx="1118" cy="421" r="10.5"/><circle cx="839.2" cy="830.6" r="10.5"/><circle cx="833.8" cy="563.3" r="10.5"/><circle cx="844" cy="700" r="10.5"/><circle cx="1151" cy="444" r="10.5"/><circle cx="982" cy="502" r="10.5"/><circle cx="963" cy="596" r="10.5"/><circle cx="876" cy="687" r="10.5"/><circle cx="1258" cy="300" r="10.5"/><circle cx="1147" cy="550" r="10.5"/><circle cx="1202" cy="435" r="10.5"/><circle cx="1044" cy="469" r="10.5"/><circle cx="1184" cy="506" r="10.5"/><circle cx="879" cy="656" r="10.5"/><circle cx="1214" cy="345" r="10.5"/><circle cx="1090" cy="608" r="10.5"/><circle cx="1110" cy="597" r="10.5"/><circle cx="1160" cy="510" r="10.5"/><circle cx="1395" cy="302" r="10.5"/><circle cx="824" cy="721" r="10.5"/><circle cx="1125" cy="398" r="10.5"/><circle cx="991" cy="609" r="10.5"/><circle cx="1289" cy="324" r="10.5"/><circle cx="925" cy="750" r="10.5"/><circle cx="1352" cy="348" r="10.5"/><circle cx="1173" cy="480" r="10.5"/><circle cx="1115" cy="337" r="10.5"/><circle cx="1015" cy="503" r="10.5"/><circle cx="799" cy="641" r="10.5"/><circle cx="971" cy="630" r="10.5"/><circle cx="1327" cy="326" r="10.5"/><circle cx="1133" cy="557" r="10.5"/><circle cx="782" cy="842" r="10.5"/><circle cx="1284.8" cy="510.9" r="10.5"/><circle cx="1062" cy="403" r="10.5"/><circle cx="911" cy="760" r="10.5"/><circle cx="887" cy="731" r="10.5"/><circle cx="988" cy="499" r="10.5"/><circle cx="1080" cy="560" r="10.5"/><circle cx="1204" cy="336" r="10.5"/><circle cx="1062" cy="437" r="10.5"/><circle cx="1021" cy="615" r="10.5"/><circle cx="1003" cy="682" r="10.5"/><circle cx="750" cy="794" r="10.5"/><circle cx="657.4" cy="600.2" r="10.5"/><circle cx="914" cy="649" r="10.5"/><circle cx="1172" cy="511" r="10.5"/><circle cx="1120" cy="499" r="10.5"/><circle cx="1124" cy="506" r="10.5"/><circle cx="1012" cy="669" r="10.5"/><circle cx="1393" cy="288" r="10.5"/><circle cx="1108" cy="571" r="10.5"/><circle cx="1005" cy="555" r="10.5"/><circle cx="1114" cy="368" r="10.5"/><circle cx="1132" cy="337" r="10.5"/><circle cx="1096" cy="614" r="10.5"/><circle cx="850" cy="738" r="10.5"/><circle cx="1179" cy="511" r="10.5"/><circle cx="1152" cy="415" r="10.5"/><circle cx="868" cy="793" r="10.5"/><circle cx="1015" cy="540" r="10.5"/><circle cx="1022" cy="692" r="10.5"/><circle cx="1081" cy="362" r="10.5"/><circle cx="1120" cy="383" r="10.5"/><circle cx="1165" cy="493" r="10.5"/><circle cx="955" cy="748" r="10.5"/><circle cx="1294" cy="297" r="10.5"/><circle cx="1126" cy="411" r="10.5"/><circle cx="1089" cy="593" r="10.5"/><circle cx="1040" cy="568" r="10.5"/><circle cx="905" cy="653" r="10.5"/><circle cx="1100" cy="407" r="10.5"/><circle cx="1155" cy="376" r="10.5"/><circle cx="908" cy="675" r="10.5"/><circle cx="1360" cy="294" r="10.5"/><circle cx="931" cy="713" r="10.5"/><circle cx="1114" cy="538" r="10.5"/><circle cx="558.1" cy="943.7" r="10.5"/><circle cx="860" cy="794" r="10.5"/><circle cx="1231" cy="310" r="10.5"/><circle cx="782" cy="658" r="10.5"/><circle cx="1330" cy="357" r="10.5"/><circle cx="761.5" cy="635.3" r="10.5"/><circle cx="1106" cy="525" r="10.5"/><circle cx="911" cy="588" r="10.5"/><circle cx="1067" cy="502" r="10.5"/><circle cx="833" cy="818" r="10.5"/><circle cx="483.8" cy="973.1" r="10.5"/><circle cx="965" cy="582" r="10.5"/><circle cx="910" cy="722" r="10.5"/><circle cx="1181" cy="405" r="10.5"/><circle cx="1186.9" cy="595.1" r="10.5"/><circle cx="1153" cy="481" r="10.5"/><circle cx="1086" cy="565" r="10.5"/><circle cx="1088" cy="510" r="10.5"/><circle cx="865" cy="743" r="10.5"/><circle cx="1223" cy="317" r="10.5"/><circle cx="1206" cy="419" r="10.5"/><circle cx="690.5" cy="850.8" r="10.5"/><circle cx="845" cy="625" r="10.5"/><circle cx="1143" cy="390" r="10.5"/><circle cx="1039" cy="519" r="10.5"/><circle cx="1262" cy="407" r="10.5"/><circle cx="1134" cy="569" r="10.5"/><circle cx="1253" cy="428" r="10.5"/><circle cx="936" cy="557" r="10.5"/><circle cx="1146" cy="461" r="10.5"/><circle cx="1108.8" cy="644.1" r="10.5"/><circle cx="1342" cy="365" r="10.5"/><circle cx="933" cy="655" r="10.5"/><circle cx="1223" cy="369" r="10.5"/><circle cx="1277" cy="326" r="10.5"/><circle cx="1373" cy="372" r="10.5"/><circle cx="699" cy="785" r="10.5"/><circle cx="1162" cy="349" r="10.5"/><circle cx="1296" cy="354" r="10.5"/><circle cx="1044" cy="399" r="10.5"/><circle cx="1253" cy="275" r="10.5"/><circle cx="1029" cy="482" r="10.5"/><circle cx="1147" cy="356" r="10.5"/><circle cx="1372.4" cy="376.2" r="10.5"/><circle cx="980" cy="549" r="10.5"/><circle cx="1134" cy="468" r="10.5"/><circle cx="1120" cy="400" r="10.5"/><circle cx="1152" cy="504" r="10.5"/><circle cx="1011" cy="646" r="10.5"/><circle cx="938" cy="571" r="10.5"/><circle cx="1002" cy="711" r="10.5"/><circle cx="859" cy="628" r="10.5"/><circle cx="834" cy="777" r="10.5"/><circle cx="834" cy="704" r="10.5"/><circle cx="784" cy="779" r="10.5"/><circle cx="1256" cy="336" r="10.5"/><circle cx="1248.7" cy="474.8" r="10.5"/><circle cx="1210" cy="416" r="10.5"/><circle cx="1012" cy="608" r="10.5"/><circle cx="1053" cy="464" r="10.5"/><circle cx="1097" cy="640" r="10.5"/><circle cx="1089" cy="358" r="10.5"/><circle cx="1165" cy="541" r="10.5"/><circle cx="865" cy="614" r="10.5"/><circle cx="883" cy="747" r="10.5"/><circle cx="1117" cy="401" r="10.5"/><circle cx="1141" cy="438" r="10.5"/><circle cx="1239" cy="417" r="10.5"/><circle cx="854" cy="821" r="10.5"/><circle cx="773" cy="808" r="10.5"/><circle cx="466.9" cy="1086.7" r="10.5"/><circle cx="847" cy="793" r="10.5"/><circle cx="775" cy="838" r="10.5"/><circle cx="956.5" cy="478.3" r="10.5"/><circle cx="876" cy="652" r="10.5"/><circle cx="911.5" cy="450.6" r="10.5"/><circle cx="961" cy="634" r="10.5"/><circle cx="1124" cy="381" r="10.5"/><circle cx="1052" cy="418" r="10.5"/><circle cx="781" cy="631" r="10.5"/><circle cx="1234" cy="482" r="10.5"/><circle cx="1121" cy="531" r="10.5"/><circle cx="1238" cy="465" r="10.5"/><circle cx="1138" cy="570" r="10.5"/><circle cx="1190" cy="310" r="10.5"/><circle cx="1096" cy="646" r="10.5"/><circle cx="861" cy="735" r="10.5"/><circle cx="862" cy="756" r="10.5"/></g>
<g clip-path="url(#cl)"><path class="dl" stroke="#111111" stroke-dashoffset="0" d="M401.2 1132.5L1602.5 9.6"/></g>
<g class="p"><circle cx="789" cy="653" r="10.5"/><circle cx="1052" cy="637" r="10.5"/><circle cx="928" cy="704" r="10.5"/><circle cx="830" cy="799" r="10.5"/><circle cx="727" cy="766" r="10.5"/><circle cx="1368" cy="271" r="10.5"/><circle cx="856" cy="646" r="10.5"/><circle cx="1003" cy="596" r="10.5"/><circle cx="1313" cy="316" r="10.5"/><circle cx="963" cy="651" r="10.5"/><circle cx="858" cy="561" r="10.5"/><circle cx="886" cy="753" r="10.5"/><circle cx="1140" cy="556" r="10.5"/><circle cx="704.1" cy="690.4" r="10.5"/><circle cx="1135" cy="563" r="10.5"/><circle cx="823" cy="673" r="10.5"/><circle cx="1039" cy="420" r="10.5"/><circle cx="1217" cy="365" r="10.5"/><circle cx="1307" cy="315" r="10.5"/><circle cx="947" cy="597" r="10.5"/><circle cx="1208" cy="380" r="10.5"/><circle cx="997" cy="628" r="10.5"/><circle cx="896" cy="749" r="10.5"/><circle cx="985" cy="597" r="10.5"/><circle cx="809" cy="825" r="10.5"/><circle cx="1136" cy="470" r="10.5"/><circle cx="753" cy="848" r="10.5"/><circle cx="861" cy="784" r="10.5"/><circle cx="1091.7" cy="351.2" r="10.5"/><circle cx="1148" cy="522" r="10.5"/><circle cx="846" cy="770" r="10.5"/><circle cx="921" cy="664" r="10.5"/><circle cx="893" cy="581" r="10.5"/><circle cx="1284" cy="443" r="10.5"/><circle cx="945" cy="729" r="10.5"/><circle cx="905" cy="611" r="10.5"/><circle cx="1109" cy="473" r="10.5"/><circle cx="1320" cy="383" r="10.5"/><circle cx="923" cy="541" r="10.5"/><circle cx="815" cy="662" r="10.5"/><circle cx="1026" cy="499" r="10.5"/><circle cx="1210" cy="405" r="10.5"/><circle cx="1194" cy="490" r="10.5"/><circle cx="1218" cy="497" r="10.5"/><circle cx="834" cy="736" r="10.5"/><circle cx="1272" cy="305" r="10.5"/><circle cx="1261" cy="291" r="10.5"/><circle cx="872" cy="755" r="10.5"/><circle cx="650" cy="723.1" r="10.5"/><circle cx="1077" cy="466" r="10.5"/><circle cx="1041" cy="497" r="10.5"/><circle cx="1005" cy="429" r="10.5"/><circle cx="1115" cy="515" r="10.5"/><circle cx="944" cy="632" r="10.5"/><circle cx="963" cy="645" r="10.5"/><circle cx="1039" cy="551" r="10.5"/><circle cx="877" cy="548.5" r="10.5"/><circle cx="1161" cy="437" r="10.5"/><circle cx="970" cy="547" r="10.5"/><circle cx="918" cy="682" r="10.5"/><circle cx="1424.2" cy="245.9" r="10.5"/><circle cx="903" cy="703" r="10.5"/><circle cx="1079" cy="403" r="10.5"/><circle cx="799" cy="764" r="10.5"/><circle cx="907" cy="562" r="10.5"/><circle cx="1084" cy="399" r="10.5"/><circle cx="1126" cy="515" r="10.5"/><circle cx="1259" cy="285" r="10.5"/><circle cx="1142" cy="516" r="10.5"/><circle cx="770" cy="856" r="10.5"/><circle cx="1135" cy="346" r="10.5"/><circle cx="1248" cy="285" r="10.5"/><circle cx="1392" cy="325" r="10.5"/><circle cx="848" cy="609" r="10.5"/><circle cx="817" cy="750" r="10.5"/><circle cx="1207" cy="319" r="10.5"/><circle cx="1085" cy="628" r="10.5"/><circle cx="939" cy="683" r="10.5"/><circle cx="947" cy="633" r="10.5"/><circle cx="861" cy="671" r="10.5"/><circle cx="848" cy="653" r="10.5"/><circle cx="1282.2" cy="239.2" r="10.5"/><circle cx="799" cy="697" r="10.5"/><circle cx="1265" cy="329" r="10.5"/><circle cx="1319" cy="433" r="10.5"/><circle cx="1015" cy="568" r="10.5"/><circle cx="1116" cy="530" r="10.5"/><circle cx="877" cy="722" r="10.5"/><circle cx="1346" cy="227" r="10.5"/><circle cx="1188" cy="276" r="10.5"/><circle cx="1004.8" cy="392.9" r="10.5"/><circle cx="1243" cy="324" r="10.5"/><circle cx="924" cy="523" r="10.5"/><circle cx="786" cy="756" r="10.5"/><circle cx="1176" cy="453" r="10.5"/><circle cx="1137.2" cy="621.5" r="10.5"/><circle cx="1041" cy="512" r="10.5"/><circle cx="793" cy="847" r="10.5"/><circle cx="897" cy="573" r="10.5"/><circle cx="812" cy="742" r="10.5"/><circle cx="1248" cy="350" r="10.5"/><circle cx="1294" cy="333" r="10.5"/><circle cx="891" cy="713" r="10.5"/><circle cx="1054" cy="491" r="10.5"/><circle cx="573.3" cy="1050.2" r="10.5"/><circle cx="930" cy="689" r="10.5"/><circle cx="1160" cy="329" r="10.5"/><circle cx="838" cy="633" r="10.5"/><circle cx="1275" cy="449" r="10.5"/><circle cx="750" cy="858" r="10.5"/><circle cx="1026" cy="637" r="10.5"/><circle cx="1233" cy="430" r="10.5"/><circle cx="984" cy="653" r="10.5"/><circle cx="926" cy="626" r="10.5"/><circle cx="830" cy="606" r="10.5"/><circle cx="1331" cy="257" r="10.5"/><circle cx="1104" cy="590" r="10.5"/><circle cx="992" cy="550" r="10.5"/><circle cx="732.8" cy="908.3" r="10.5"/><circle cx="900" cy="539" r="10.5"/><circle cx="1204" cy="497" r="10.5"/><circle cx="1022" cy="514" r="10.5"/><circle cx="1025" cy="572" r="10.5"/><circle cx="1018" cy="542" r="10.5"/><circle cx="997" cy="568" r="10.5"/><circle cx="1066" cy="467" r="10.5"/><circle cx="824" cy="746" r="10.5"/><circle cx="793.6" cy="614.4" r="10.5"/><circle cx="1122" cy="397" r="10.5"/><circle cx="1103" cy="455" r="10.5"/><circle cx="814" cy="720" r="10.5"/><circle cx="1093" cy="543" r="10.5"/><circle cx="1030" cy="405" r="10.5"/><circle cx="1344" cy="311" r="10.5"/><circle cx="1029" cy="544" r="10.5"/><circle cx="1140" cy="520" r="10.5"/><circle cx="719.3" cy="563.7" r="10.5"/><circle cx="991" cy="589" r="10.5"/><circle cx="896" cy="552" r="10.5"/><circle cx="844" cy="675" r="10.5"/><circle cx="882" cy="592" r="10.5"/><circle cx="1079" cy="532" r="10.5"/><circle cx="1211" cy="316" r="10.5"/><circle cx="887" cy="536" r="10.5"/><circle cx="1079" cy="358" r="10.5"/><circle cx="720" cy="819" r="10.5"/><circle cx="1076.6" cy="624" r="10.5"/><circle cx="723.6" cy="658.3" r="10.5"/><circle cx="966" cy="504" r="10.5"/><circle cx="1361" cy="238" r="10.5"/><circle cx="1266" cy="252" r="10.5"/><circle cx="1097" cy="553" r="10.5"/><circle cx="1126" cy="486" r="10.5"/><circle cx="787" cy="667" r="10.5"/><circle cx="1295" cy="413" r="10.5"/><circle cx="784" cy="727" r="10.5"/><circle cx="1135" cy="343" r="10.5"/><circle cx="1254" cy="277" r="10.5"/><circle cx="1012" cy="610" r="10.5"/><circle cx="1093" cy="500" r="10.5"/><circle cx="1331" cy="388" r="10.5"/><circle cx="967" cy="654" r="10.5"/><circle cx="808" cy="779" r="10.5"/><circle cx="733" cy="781" r="10.5"/><circle cx="1158" cy="465" r="10.5"/><circle cx="788.5" cy="653.2" r="10.5"/><circle cx="909" cy="544" r="10.5"/><circle cx="913" cy="556" r="10.5"/><circle cx="1336" cy="353" r="10.5"/><circle cx="884" cy="789" r="10.5"/><circle cx="871" cy="606" r="10.5"/><circle cx="1133" cy="503" r="10.5"/><circle cx="878" cy="706" r="10.5"/><circle cx="826" cy="725" r="10.5"/><circle cx="1099" cy="496" r="10.5"/><circle cx="1124" cy="330" r="10.5"/><circle cx="830" cy="705" r="10.5"/><circle cx="781" cy="761" r="10.5"/><circle cx="1251" cy="437" r="10.5"/><circle cx="795" cy="718" r="10.5"/><circle cx="992" cy="672" r="10.5"/><circle cx="919" cy="698" r="10.5"/><circle cx="1371" cy="225" r="10.5"/><circle cx="1333" cy="276" r="10.5"/><circle cx="767" cy="668" r="10.5"/><circle cx="1206" cy="331" r="10.5"/><circle cx="836" cy="803" r="10.5"/><circle cx="1040" cy="533" r="10.5"/><circle cx="869" cy="654" r="10.5"/><circle cx="772" cy="856" r="10.5"/><circle cx="1216" cy="386" r="10.5"/><circle cx="1331" cy="350" r="10.5"/><circle cx="989" cy="628" r="10.5"/><circle cx="1329" cy="291" r="10.5"/><circle cx="1152" cy="430" r="10.5"/><circle cx="748" cy="710" r="10.5"/><circle cx="919" cy="722" r="10.5"/><circle cx="927" cy="711" r="10.5"/><circle cx="1331" cy="243" r="10.5"/><circle cx="973" cy="508" r="10.5"/><circle cx="1106" cy="503" r="10.5"/><circle cx="1012" cy="602" r="10.5"/><circle cx="1379" cy="260" r="10.5"/><circle cx="1290" cy="254" r="10.5"/><circle cx="957" cy="618" r="10.5"/><circle cx="1179" cy="353" r="10.5"/><circle cx="847" cy="765" r="10.5"/><circle cx="1068" cy="524" r="10.5"/><circle cx="1085" cy="407" r="10.5"/><circle cx="973" cy="434.7" r="10.5"/><circle cx="877" cy="576" r="10.5"/><circle cx="752" cy="765" r="10.5"/><circle cx="834" cy="788" r="10.5"/><circle cx="996" cy="650" r="10.5"/><circle cx="1165" cy="498" r="10.5"/><circle cx="1136" cy="406" r="10.5"/><circle cx="1098.3" cy="322.7" r="10.5"/><circle cx="1164" cy="388" r="10.5"/><circle cx="868" cy="744" r="10.5"/><circle cx="1121" cy="561" r="10.5"/><circle cx="962" cy="509" r="10.5"/><circle cx="1189" cy="367" r="10.5"/><circle cx="1042" cy="441" r="10.5"/><circle cx="1158" cy="458" r="10.5"/><circle cx="1315" cy="299" r="10.5"/><circle cx="1027" cy="535" r="10.5"/><circle cx="729.4" cy="708.9" r="10.5"/><circle cx="606.8" cy="660.6" r="10.5"/><circle cx="906" cy="726" r="10.5"/><circle cx="1167" cy="467" r="10.5"/><circle cx="1300" cy="263" r="10.5"/><circle cx="1004" cy="459" r="10.5"/><circle cx="1059" cy="451" r="10.5"/><circle cx="828" cy="637" r="10.5"/><circle cx="825" cy="619" r="10.5"/><circle cx="977" cy="549" r="10.5"/><circle cx="1184" cy="332" r="10.5"/><circle cx="1074" cy="455" r="10.5"/><circle cx="1302" cy="314" r="10.5"/><circle cx="991" cy="438" r="10.5"/><circle cx="911" cy="630" r="10.5"/><circle cx="1023" cy="440" r="10.5"/><circle cx="1330" cy="375" r="10.5"/><circle cx="940" cy="618" r="10.5"/><circle cx="1236" cy="444" r="10.5"/><circle cx="1325" cy="254" r="10.5"/><circle cx="1192" cy="433" r="10.5"/><circle cx="964" cy="701" r="10.5"/><circle cx="868" cy="688" r="10.5"/><circle cx="906" cy="637" r="10.5"/><circle cx="791" cy="649" r="10.5"/><circle cx="847" cy="627" r="10.5"/><circle cx="967" cy="664" r="10.5"/><circle cx="752" cy="707" r="10.5"/><circle cx="894.9" cy="771.4" r="10.5"/><circle cx="1134" cy="430" r="10.5"/><circle cx="1243" cy="473" r="10.5"/><circle cx="1109" cy="507" r="10.5"/><circle cx="936" cy="531" r="10.5"/><circle cx="1003" cy="443" r="10.5"/><circle cx="1166" cy="508" r="10.5"/><circle cx="1317" cy="283" r="10.5"/><circle cx="1062" cy="433" r="10.5"/><circle cx="1241" cy="360" r="10.5"/><circle cx="1270" cy="285" r="10.5"/><circle cx="894" cy="758" r="10.5"/><circle cx="1025" cy="509" r="10.5"/><circle cx="1206" cy="459" r="10.5"/><circle cx="1124" cy="371" r="10.5"/><circle cx="819" cy="699" r="10.5"/><circle cx="997" cy="681" r="10.5"/><circle cx="1225.4" cy="544.3" r="10.5"/><circle cx="1219" cy="344" r="10.5"/><circle cx="795" cy="669" r="10.5"/><circle cx="1105" cy="512" r="10.5"/><circle cx="1061" cy="541" r="10.5"/><circle cx="773" cy="787" r="10.5"/><circle cx="1149.4" cy="602.3" r="10.5"/><circle cx="1179" cy="515" r="10.5"/><circle cx="1269" cy="304" r="10.5"/><circle cx="753" cy="836" r="10.5"/><circle cx="959" cy="572" r="10.5"/><circle cx="923" cy="770" r="10.5"/><circle cx="1005" cy="618" r="10.5"/><circle cx="1099" cy="447" r="10.5"/><circle cx="1167" cy="552" r="10.5"/><circle cx="1204" cy="417" r="10.5"/><circle cx="1255" cy="417" r="10.5"/><circle cx="1066" cy="594" r="10.5"/><circle cx="982" cy="634" r="10.5"/><circle cx="1335" cy="312" r="10.5"/><circle cx="1174" cy="317" r="10.5"/><circle cx="977" cy="542" r="10.5"/><circle cx="975" cy="682" r="10.5"/><circle cx="964" cy="648" r="10.5"/><circle cx="954" cy="640" r="10.5"/><circle cx="1095" cy="478" r="10.5"/><circle cx="826.4" cy="870.1" r="10.5"/><circle cx="925.5" cy="516.1" r="10.5"/><circle cx="1166" cy="388" r="10.5"/><circle cx="1210" cy="403" r="10.5"/><circle cx="863" cy="706" r="10.5"/><circle cx="1039" cy="445" r="10.5"/><circle cx="930" cy="649" r="10.5"/><circle cx="1232" cy="343" r="10.5"/><circle cx="1061.5" cy="645" r="10.5"/><circle cx="1122" cy="322" r="10.5"/><circle cx="1188" cy="544" r="10.5"/><circle cx="1198" cy="505" r="10.5"/><circle cx="823" cy="695" r="10.5"/><circle cx="1243" cy="427" r="10.5"/><circle cx="1050" cy="515" r="10.5"/><circle cx="1368" cy="236" r="10.5"/><circle cx="855" cy="608" r="10.5"/><circle cx="1056.6" cy="356.2" r="10.5"/><circle cx="582.4" cy="883.9" r="10.5"/><circle cx="853" cy="722" r="10.5"/><circle cx="1125" cy="503" r="10.5"/><circle cx="936" cy="747" r="10.5"/><circle cx="1191" cy="316" r="10.5"/><circle cx="1218" cy="475" r="10.5"/><circle cx="938" cy="520" r="10.5"/><circle cx="1137" cy="489" r="10.5"/><circle cx="1270" cy="268" r="10.5"/><circle cx="1193" cy="333" r="10.5"/><circle cx="956" cy="650" r="10.5"/><circle cx="1386" cy="340" r="10.5"/><circle cx="1028" cy="656" r="10.5"/><circle cx="815" cy="731" r="10.5"/><circle cx="954" cy="633" r="10.5"/><circle cx="1185" cy="531" r="10.5"/><circle cx="869" cy="780" r="10.5"/><circle cx="1012" cy="441" r="10.5"/><circle cx="1049.3" cy="686.2" r="10.5"/><circle cx="1229" cy="359" r="10.5"/><circle cx="894" cy="650" r="10.5"/><circle cx="765" cy="764" r="10.5"/><circle cx="1118" cy="339" r="10.5"/><circle cx="895" cy="543" r="10.5"/><circle cx="1154" cy="398" r="10.5"/><circle cx="862" cy="673" r="10.5"/><circle cx="1068" cy="410" r="10.5"/><circle cx="1127" cy="499" r="10.5"/><circle cx="1012" cy="594" r="10.5"/><circle cx="884" cy="716" r="10.5"/><circle cx="1005" cy="638" r="10.5"/><circle cx="1073" cy="612" r="10.5"/><circle cx="1322" cy="311" r="10.5"/><circle cx="1287" cy="354" r="10.5"/><circle cx="1127" cy="576" r="10.5"/><circle cx="793" cy="785" r="10.5"/><circle cx="978" cy="574" r="10.5"/><circle cx="828" cy="628" r="10.5"/><circle cx="980.8" cy="459.5" r="10.5"/><circle cx="803" cy="623" r="10.5"/><circle cx="1112" cy="580" r="10.5"/><circle cx="1051" cy="595" r="10.5"/><circle cx="1222" cy="381" r="10.5"/><circle cx="796" cy="714" r="10.5"/><circle cx="757" cy="847" r="10.5"/><circle cx="943" cy="519" r="10.5"/><circle cx="559.5" cy="953.9" r="10.5"/><circle cx="1259" cy="407" r="10.5"/><circle cx="1368" cy="344" r="10.5"/><circle cx="826" cy="592" r="10.5"/><circle cx="1011" cy="561" r="10.5"/><circle cx="1138" cy="539" r="10.5"/><circle cx="1284" cy="419" r="10.5"/><circle cx="1203" cy="420" r="10.5"/><circle cx="1054" cy="515" r="10.5"/><circle cx="580.7" cy="970.8" r="10.5"/><circle cx="912" cy="541" r="10.5"/><circle cx="806" cy="712" r="10.5"/><circle cx="1127" cy="463" r="10.5"/><circle cx="1101" cy="565" r="10.5"/><circle cx="541.2" cy="889.7" r="10.5"/><circle cx="936" cy="724" r="10.5"/><circle cx="1291" cy="385" r="10.5"/><circle cx="986" cy="515" r="10.5"/><circle cx="1285" cy="353" r="10.5"/><circle cx="1323" cy="399" r="10.5"/><circle cx="1170" cy="310" r="10.5"/><circle cx="1046" cy="589" r="10.5"/><circle cx="807" cy="797" r="10.5"/><circle cx="850" cy="775" r="10.5"/><circle cx="779" cy="748" r="10.5"/><circle cx="1009" cy="567" r="10.5"/><circle cx="914" cy="565" r="10.5"/><circle cx="734" cy="840" r="10.5"/><circle cx="949" cy="648" r="10.5"/><circle cx="1524.5" cy="154" r="10.5"/><circle cx="1008" cy="605" r="10.5"/><circle cx="590.9" cy="943.7" r="10.5"/><circle cx="735" cy="723" r="10.5"/><circle cx="1037" cy="622" r="10.5"/><circle cx="1174" cy="413" r="10.5"/><circle cx="814" cy="780" r="10.5"/><circle cx="954" cy="667" r="10.5"/><circle cx="942" cy="560" r="10.5"/><circle cx="933.4" cy="742.7" r="10.5"/><circle cx="914" cy="638" r="10.5"/><circle cx="734.5" cy="857.6" r="10.5"/><circle cx="1029.8" cy="414.7" r="10.5"/><circle cx="1278" cy="330" r="10.5"/><circle cx="1210" cy="400" r="10.5"/><circle cx="1078" cy="368" r="10.5"/><circle cx="824" cy="648" r="10.5"/><circle cx="1313" cy="360" r="10.5"/><circle cx="1001" cy="668" r="10.5"/><circle cx="1414.2" cy="194.1" r="10.5"/><circle cx="916" cy="638" r="10.5"/><circle cx="763" cy="862" r="10.5"/><circle cx="922" cy="581" r="10.5"/><circle cx="920" cy="741" r="10.5"/><circle cx="705.7" cy="763" r="10.5"/><circle cx="866" cy="723" r="10.5"/><circle cx="949" cy="562" r="10.5"/><circle cx="895" cy="565" r="10.5"/><circle cx="896" cy="660" r="10.5"/><circle cx="1152" cy="455" r="10.5"/><circle cx="1353" cy="238" r="10.5"/><circle cx="1196" cy="458" r="10.5"/><circle cx="934" cy="711" r="10.5"/><circle cx="1060" cy="509" r="10.5"/><circle cx="982" cy="540" r="10.5"/><circle cx="1027" cy="523" r="10.5"/><circle cx="764" cy="821" r="10.5"/><circle cx="1005" cy="611" r="10.5"/><circle cx="989.7" cy="429.7" r="10.5"/><circle cx="1292" cy="391" r="10.5"/><circle cx="1323" cy="381" r="10.5"/><circle cx="717.6" cy="827.2" r="10.5"/><circle cx="723" cy="754" r="10.5"/><circle cx="1284" cy="381" r="10.5"/><circle cx="1404.2" cy="317.7" r="10.5"/><circle cx="909" cy="792" r="10.5"/><circle cx="1020" cy="635" r="10.5"/><circle cx="775" cy="839" r="10.5"/><circle cx="1244" cy="427" r="10.5"/><circle cx="1216" cy="368" r="10.5"/><circle cx="1175.2" cy="536.7" r="10.5"/><circle cx="1384" cy="321" r="10.5"/><circle cx="1179" cy="396" r="10.5"/><circle cx="1345" cy="241" r="10.5"/><circle cx="1185" cy="334" r="10.5"/><circle cx="1137" cy="566" r="10.5"/><circle cx="1014.8" cy="396.3" r="10.5"/><circle cx="1039" cy="618" r="10.5"/><circle cx="587.5" cy="908.3" r="10.5"/><circle cx="1325" cy="239" r="10.5"/><circle cx="1041" cy="679" r="10.5"/><circle cx="1181" cy="371" r="10.5"/><circle cx="1241" cy="447" r="10.5"/><circle cx="880" cy="709" r="10.5"/><circle cx="889" cy="628" r="10.5"/><circle cx="1005" cy="578" r="10.5"/><circle cx="736.8" cy="680.2" r="10.5"/><circle cx="1260" cy="296" r="10.5"/><circle cx="1161" cy="491" r="10.5"/><circle cx="838" cy="790" r="10.5"/><circle cx="1238" cy="468" r="10.5"/><circle cx="1131" cy="345" r="10.5"/><circle cx="961" cy="733" r="10.5"/><circle cx="788" cy="699" r="10.5"/><circle cx="1160.2" cy="568.4" r="10.5"/><circle cx="1223" cy="460" r="10.5"/><circle cx="1057" cy="546" r="10.5"/><circle cx="747" cy="723" r="10.5"/><circle cx="749.7" cy="641.4" r="10.5"/><circle cx="1114" cy="527" r="10.5"/><circle cx="1277" cy="249" r="10.5"/><circle cx="966" cy="697" r="10.5"/><circle cx="813" cy="777" r="10.5"/><circle cx="1075" cy="478" r="10.5"/><circle cx="1149" cy="310" r="10.5"/><circle cx="1366" cy="313" r="10.5"/><circle cx="860" cy="650" r="10.5"/><circle cx="1354" cy="287" r="10.5"/><circle cx="975" cy="690" r="10.5"/><circle cx="961" cy="486" r="10.5"/><circle cx="1217" cy="443" r="10.5"/><circle cx="1002" cy="677" r="10.5"/><circle cx="1381" cy="236" r="10.5"/><circle cx="971" cy="660" r="10.5"/><circle cx="847" cy="702" r="10.5"/><circle cx="873" cy="744" r="10.5"/><circle cx="1068" cy="489" r="10.5"/><circle cx="1265" cy="307" r="10.5"/><circle cx="1353" cy="381" r="10.5"/><circle cx="862" cy="759" r="10.5"/><circle cx="1009" cy="533" r="10.5"/><circle cx="1344" cy="363" r="10.5"/><circle cx="735" cy="755" r="10.5"/><circle cx="1281" cy="403" r="10.5"/><circle cx="1021" cy="530" r="10.5"/><circle cx="778" cy="826" r="10.5"/><circle cx="1260.4" cy="217.5" r="10.5"/><circle cx="1289" cy="368" r="10.5"/><circle cx="1010" cy="459" r="10.5"/><circle cx="1375" cy="297" r="10.5"/><circle cx="871" cy="635" r="10.5"/><circle cx="749" cy="814" r="10.5"/><circle cx="830" cy="754" r="10.5"/><circle cx="1248" cy="376" r="10.5"/><circle cx="762" cy="839" r="10.5"/><circle cx="905" cy="744" r="10.5"/><circle cx="996" cy="622" r="10.5"/><circle cx="1086" cy="588" r="10.5"/><circle cx="910" cy="533" r="10.5"/><circle cx="889" cy="625" r="10.5"/><circle cx="1117" cy="554" r="10.5"/><circle cx="1179" cy="503" r="10.5"/><circle cx="1370" cy="355" r="10.5"/><circle cx="1253" cy="446" r="10.5"/><circle cx="1036" cy="526" r="10.5"/><circle cx="811" cy="681" r="10.5"/><circle cx="1054" cy="555" r="10.5"/><circle cx="763" cy="726" r="10.5"/><circle cx="1391" cy="288" r="10.5"/><circle cx="1154" cy="581" r="10.5"/><circle cx="986" cy="504" r="10.5"/><circle cx="1349" cy="343" r="10.5"/><circle cx="561.5" cy="923.5" r="10.5"/><circle cx="1057" cy="520" r="10.5"/><circle cx="983" cy="597" r="10.5"/><circle cx="998" cy="528" r="10.5"/><circle cx="1318.9" cy="397.9" r="10.5"/><circle cx="1007" cy="597" r="10.5"/><circle cx="1290" cy="294" r="10.5"/><circle cx="1154" cy="425" r="10.5"/><circle cx="1022" cy="436" r="10.5"/><circle cx="1163" cy="506" r="10.5"/><circle cx="981" cy="468" r="10.5"/><circle cx="1159" cy="477" r="10.5"/><circle cx="1362.4" cy="227.5" r="10.5"/><circle cx="1019" cy="547" r="10.5"/><circle cx="893" cy="567" r="10.5"/><circle cx="1355" cy="225" r="10.5"/><circle cx="1091" cy="597" r="10.5"/><circle cx="1267" cy="321" r="10.5"/><circle cx="755" cy="729" r="10.5"/><circle cx="1122" cy="396" r="10.5"/><circle cx="1117" cy="380" r="10.5"/><circle cx="813" cy="808" r="10.5"/><circle cx="951" cy="530" r="10.5"/><circle cx="1193" cy="477" r="10.5"/><circle cx="1336" cy="306" r="10.5"/><circle cx="905" cy="738" r="10.5"/><circle cx="1067" cy="636" r="10.5"/><circle cx="1282" cy="371" r="10.5"/><circle cx="1057" cy="620" r="10.5"/><circle cx="1033" cy="456" r="10.5"/><circle cx="1110" cy="484" r="10.5"/><circle cx="1147" cy="449" r="10.5"/><circle cx="1249" cy="447" r="10.5"/><circle cx="1299" cy="387" r="10.5"/><circle cx="856" cy="768" r="10.5"/><circle cx="641.6" cy="802.9" r="10.5"/><circle cx="1282.2" cy="431.4" r="10.5"/><circle cx="1085" cy="534" r="10.5"/><circle cx="967" cy="574" r="10.5"/><circle cx="1096" cy="630" r="10.5"/><circle cx="1202" cy="433" r="10.5"/><circle cx="1012" cy="464" r="10.5"/><circle cx="1080" cy="565" r="10.5"/><circle cx="1111" cy="370" r="10.5"/><circle cx="1040" cy="419" r="10.5"/><circle cx="1288" cy="385" r="10.5"/><circle cx="776" cy="677" r="10.5"/><circle cx="1286" cy="361" r="10.5"/><circle cx="796" cy="731" r="10.5"/><circle cx="747" cy="766" r="10.5"/><circle cx="826" cy="776" r="10.5"/><circle cx="1275" cy="285" r="10.5"/><circle cx="1116" cy="441" r="10.5"/><circle cx="1071" cy="630" r="10.5"/><circle cx="1021" cy="453" r="10.5"/><circle cx="926" cy="604" r="10.5"/><circle cx="1294" cy="299" r="10.5"/><circle cx="799" cy="666" r="10.5"/><circle cx="665.2" cy="755.6" r="10.5"/><circle cx="955" cy="740" r="10.5"/><circle cx="1339" cy="305" r="10.5"/><circle cx="769" cy="687" r="10.5"/><circle cx="1230" cy="409" r="10.5"/><circle cx="1297" cy="388" r="10.5"/><circle cx="848" cy="622" r="10.5"/><circle cx="891" cy="772" r="10.5"/><circle cx="886" cy="639" r="10.5"/><circle cx="773" cy="683" r="10.5"/><circle cx="1182" cy="437" r="10.5"/><circle cx="764" cy="755" r="10.5"/><circle cx="1018" cy="447" r="10.5"/><circle cx="1394.1" cy="229.2" r="10.5"/><circle cx="857" cy="589" r="10.5"/><circle cx="1066" cy="618" r="10.5"/><circle cx="854" cy="720" r="10.5"/><circle cx="871" cy="648" r="10.5"/></g>
<g clip-path="url(#cl)">
<path class="dl" stroke="#314da0" stroke-dashoffset="0" d="M401.2 1079.3L1602.5 -43.7"/>
<path class="dl" stroke="#314da0" stroke-dashoffset="-3.8" d="M457.3 1133.5L1602.5 63.1"/>
<path class="dl" stroke="#357f3e" stroke-dashoffset="6.6" d="M401.2 1025.3L1602.5 -99.0"/>
<path class="dl" stroke="#357f3e" stroke-dashoffset="0" d="M513.4 1133.8L1602.5 117.5"/>
</g>
<path d="M402 1131.9H1580" stroke="#cfcfcf" stroke-width="1" fill="none"/>
<rect class="ax" x="400.5" y="29.5" width="1181.0" height="1106.0"/>
<path class="tk" d="M457.3 1134.5v-16.5M401.5 1083.3h16.5M681.9 1134.5v-16.5M401.5 872.9h16.5M906.4 1134.5v-16.5M401.5 662.6h16.5M1131.0 1134.5v-16.5M401.5 452.2h16.5M1355.5 1134.5v-16.5M401.5 241.9h16.5"/>
<text x="381.3" y="1098.5" text-anchor="end">1400</text>
<text x="381.3" y="888.1" text-anchor="end">1420</text>
<text x="381.3" y="677.8" text-anchor="end">1440</text>
<text x="381.3" y="467.4" text-anchor="end">1460</text>
<text x="381.3" y="257.1" text-anchor="end">1480</text>
<text x="381.3" y="46.7" text-anchor="end">1500</text>
<text x="460.8" y="1193.0" text-anchor="middle">1400</text>
<text x="685.1" y="1193.0" text-anchor="middle">1420</text>
<text x="909.3" y="1193.0" text-anchor="middle">1440</text>
<text x="1133.5" y="1193.0" text-anchor="middle">1460</text>
<text x="1357.8" y="1193.0" text-anchor="middle">1480</text>
<text x="1582.0" y="1193.0" text-anchor="middle">1500</text>
<text x="813.8" y="1277.6">Actual value/<tspan class="c" dx="4">℃</tspan></text>
<text transform="translate(224.8,788.6) rotate(-90)">Predicted value/<tspan class="c" dx="4">℃</tspan></text>
<text x="421.0" y="87">(b)</text>
<circle cx="553.2" cy="76" r="11.3" fill="#aadcc5" stroke="#141414" stroke-width="2.8"/>
<text x="589.0" y="90.4">SLSTM</text>
</g>
<g transform="translate(0.3,1315.0)">
<g class="p"><circle cx="1186" cy="440" r="10.5"/><circle cx="839" cy="683" r="10.5"/><circle cx="1241" cy="337" r="10.5"/><circle cx="915" cy="702" r="10.5"/><circle cx="1050" cy="525" r="10.5"/><circle cx="1112" cy="432" r="10.5"/><circle cx="1079" cy="550" r="10.5"/><circle cx="1187" cy="470" r="10.5"/><circle cx="1224" cy="344" r="10.5"/><circle cx="1242" cy="313" r="10.5"/><circle cx="678" cy="841" r="10.5"/><circle cx="743" cy="820" r="10.5"/><circle cx="980" cy="546" r="10.5"/><circle cx="1174" cy="364" r="10.5"/><circle cx="1252" cy="326" r="10.5"/><circle cx="1334" cy="233" r="10.5"/><circle cx="976" cy="631" r="10.5"/><circle cx="1163.1" cy="346.8" r="10.5"/><circle cx="1229" cy="433" r="10.5"/><circle cx="887" cy="666" r="10.5"/><circle cx="828" cy="713" r="10.5"/><circle cx="1027" cy="489" r="10.5"/><circle cx="950" cy="638" r="10.5"/><circle cx="799" cy="770" r="10.5"/><circle cx="1188" cy="410" r="10.5"/><circle cx="695" cy="868" r="10.5"/><circle cx="884.4" cy="607.6" r="10.5"/><circle cx="1235" cy="387" r="10.5"/><circle cx="1283" cy="323" r="10.5"/><circle cx="1182" cy="461" r="10.5"/><circle cx="1005" cy="514" r="10.5"/><circle cx="1385" cy="232" r="10.5"/><circle cx="901" cy="649" r="10.5"/><circle cx="1160" cy="374" r="10.5"/><circle cx="825" cy="765" r="10.5"/><circle cx="1173" cy="347" r="10.5"/><circle cx="700" cy="781" r="10.5"/><circle cx="1173" cy="395" r="10.5"/><circle cx="585.5" cy="912.9" r="10.5"/><circle cx="1273" cy="291" r="10.5"/><circle cx="1199" cy="468" r="10.5"/><circle cx="1045" cy="566" r="10.5"/><circle cx="1188" cy="415" r="10.5"/><circle cx="1247" cy="295" r="10.5"/><circle cx="1348" cy="226" r="10.5"/><circle cx="1014" cy="585" r="10.5"/><circle cx="908" cy="695" r="10.5"/><circle cx="1461.9" cy="127.4" r="10.5"/><circle cx="774" cy="785" r="10.5"/><circle cx="946" cy="576" r="10.5"/><circle cx="1142" cy="519" r="10.5"/><circle cx="822" cy="736" r="10.5"/><circle cx="1237" cy="368" r="10.5"/><circle cx="1206" cy="348" r="10.5"/><circle cx="698" cy="817" r="10.5"/><circle cx="1149" cy="513" r="10.5"/><circle cx="931" cy="610" r="10.5"/><circle cx="835" cy="725" r="10.5"/><circle cx="799" cy="756" r="10.5"/><circle cx="897" cy="688" r="10.5"/><circle cx="633.9" cy="848.3" r="10.5"/><circle cx="1184" cy="371" r="10.5"/><circle cx="1245" cy="401" r="10.5"/><circle cx="852" cy="749" r="10.5"/><circle cx="1202.5" cy="256.6" r="10.5"/><circle cx="862" cy="638" r="10.5"/><circle cx="1084" cy="438" r="10.5"/><circle cx="1108" cy="421" r="10.5"/><circle cx="1238" cy="389" r="10.5"/><circle cx="769" cy="812" r="10.5"/><circle cx="964" cy="631" r="10.5"/><circle cx="721" cy="772" r="10.5"/><circle cx="971" cy="534" r="10.5"/><circle cx="1028" cy="607" r="10.5"/><circle cx="759" cy="827" r="10.5"/><circle cx="748" cy="836" r="10.5"/><circle cx="1277.4" cy="436.2" r="10.5"/><circle cx="1168" cy="417" r="10.5"/><circle cx="969" cy="582" r="10.5"/><circle cx="976" cy="587" r="10.5"/><circle cx="1251" cy="383" r="10.5"/><circle cx="652" cy="877" r="10.5"/><circle cx="1151.3" cy="537.3" r="10.5"/><circle cx="1128.3" cy="342.3" r="10.5"/><circle cx="973" cy="500" r="10.5"/><circle cx="651" cy="899" r="10.5"/><circle cx="1075" cy="555" r="10.5"/><circle cx="1149" cy="402" r="10.5"/><circle cx="974" cy="565" r="10.5"/><circle cx="696" cy="792" r="10.5"/><circle cx="1028" cy="613" r="10.5"/><circle cx="1046" cy="511" r="10.5"/><circle cx="922" cy="609" r="10.5"/><circle cx="1331" cy="221" r="10.5"/><circle cx="831" cy="738" r="10.5"/><circle cx="756" cy="843" r="10.5"/><circle cx="727" cy="836" r="10.5"/><circle cx="1366" cy="225" r="10.5"/><circle cx="1282" cy="256" r="10.5"/><circle cx="1130" cy="499" r="10.5"/><circle cx="703" cy="815" r="10.5"/><circle cx="992" cy="589" r="10.5"/><circle cx="1220" cy="310" r="10.5"/><circle cx="1112" cy="475" r="10.5"/><circle cx="722" cy="749" r="10.5"/><circle cx="975" cy="677" r="10.5"/><circle cx="653" cy="874" r="10.5"/><circle cx="751" cy="714" r="10.5"/><circle cx="873" cy="626" r="10.5"/><circle cx="889" cy="679" r="10.5"/><circle cx="661" cy="884" r="10.5"/><circle cx="1007.6" cy="478.7" r="10.5"/><circle cx="1275" cy="314" r="10.5"/><circle cx="871" cy="684" r="10.5"/><circle cx="661" cy="869" r="10.5"/><circle cx="759" cy="755" r="10.5"/><circle cx="1351" cy="275" r="10.5"/><circle cx="1095" cy="432" r="10.5"/><circle cx="1081.4" cy="408.8" r="10.5"/><circle cx="1213" cy="391" r="10.5"/><circle cx="1152" cy="534" r="10.5"/><circle cx="1036" cy="563" r="10.5"/><circle cx="1300" cy="324" r="10.5"/><circle cx="1027" cy="483" r="10.5"/><circle cx="1068" cy="522" r="10.5"/><circle cx="707" cy="757" r="10.5"/><circle cx="1118" cy="524" r="10.5"/><circle cx="904" cy="663" r="10.5"/><circle cx="964" cy="668" r="10.5"/><circle cx="917" cy="614" r="10.5"/><circle cx="707" cy="752" r="10.5"/><circle cx="795" cy="717" r="10.5"/><circle cx="813" cy="736" r="10.5"/><circle cx="700" cy="866" r="10.5"/><circle cx="728" cy="810" r="10.5"/><circle cx="1372" cy="283.2" r="10.5"/><circle cx="1183.6" cy="505.1" r="10.5"/><circle cx="1072" cy="592" r="10.5"/><circle cx="1057" cy="565" r="10.5"/><circle cx="938.3" cy="728.8" r="10.5"/><circle cx="778" cy="791" r="10.5"/><circle cx="996" cy="540" r="10.5"/><circle cx="732" cy="835" r="10.5"/><circle cx="1330" cy="249" r="10.5"/><circle cx="749" cy="792" r="10.5"/><circle cx="769" cy="745" r="10.5"/><circle cx="1123" cy="538" r="10.5"/><circle cx="891" cy="680" r="10.5"/><circle cx="673.7" cy="723" r="10.5"/><circle cx="865" cy="686" r="10.5"/><circle cx="1238" cy="342" r="10.5"/><circle cx="760" cy="790" r="10.5"/><circle cx="1328" cy="257" r="10.5"/><circle cx="1248" cy="318" r="10.5"/><circle cx="1003" cy="625" r="10.5"/><circle cx="1102" cy="408" r="10.5"/><circle cx="1126" cy="527" r="10.5"/><circle cx="671" cy="835" r="10.5"/><circle cx="709" cy="822" r="10.5"/><circle cx="738" cy="752" r="10.5"/><circle cx="1037" cy="531" r="10.5"/><circle cx="1125" cy="445" r="10.5"/><circle cx="1097" cy="442" r="10.5"/><circle cx="1162" cy="428" r="10.5"/><circle cx="946" cy="586" r="10.5"/><circle cx="692" cy="882" r="10.5"/><circle cx="812" cy="735" r="10.5"/><circle cx="1202" cy="399" r="10.5"/><circle cx="1174" cy="359" r="10.5"/><circle cx="1078" cy="577" r="10.5"/><circle cx="1158" cy="461" r="10.5"/><circle cx="1353" cy="274" r="10.5"/><circle cx="1047" cy="614" r="10.5"/><circle cx="700" cy="868" r="10.5"/><circle cx="971" cy="607" r="10.5"/><circle cx="1062" cy="477" r="10.5"/><circle cx="977" cy="665" r="10.5"/><circle cx="850" cy="685" r="10.5"/><circle cx="1155" cy="510" r="10.5"/><circle cx="675" cy="882" r="10.5"/><circle cx="912" cy="610" r="10.5"/><circle cx="1308" cy="354" r="10.5"/><circle cx="1191" cy="446" r="10.5"/><circle cx="963" cy="564" r="10.5"/><circle cx="724" cy="760" r="10.5"/><circle cx="1015" cy="598" r="10.5"/><circle cx="1060" cy="477" r="10.5"/><circle cx="1122" cy="541" r="10.5"/><circle cx="885" cy="651" r="10.5"/><circle cx="1050" cy="578" r="10.5"/><circle cx="1015" cy="499" r="10.5"/><circle cx="965" cy="545" r="10.5"/><circle cx="886" cy="621" r="10.5"/><circle cx="754" cy="738" r="10.5"/><circle cx="1136" cy="365" r="10.5"/><circle cx="1096" cy="443" r="10.5"/><circle cx="663" cy="829" r="10.5"/><circle cx="1050" cy="555" r="10.5"/><circle cx="1288" cy="290" r="10.5"/><circle cx="936" cy="706" r="10.5"/><circle cx="1005" cy="566" r="10.5"/><circle cx="686.6" cy="693.9" r="10.5"/><circle cx="1388" cy="221" r="10.5"/><circle cx="1205" cy="433" r="10.5"/><circle cx="1060" cy="462" r="10.5"/><circle cx="1248" cy="326" r="10.5"/><circle cx="1305" cy="327" r="10.5"/><circle cx="1155" cy="502" r="10.5"/><circle cx="1253" cy="390" r="10.5"/><circle cx="861" cy="651" r="10.5"/><circle cx="661" cy="879" r="10.5"/><circle cx="993" cy="499.2" r="10.5"/><circle cx="879" cy="610" r="10.5"/><circle cx="721" cy="801" r="10.5"/><circle cx="1078" cy="530" r="10.5"/><circle cx="729" cy="834" r="10.5"/><circle cx="1030" cy="541" r="10.5"/><circle cx="1383" cy="235" r="10.5"/><circle cx="1017" cy="536" r="10.5"/><circle cx="1061" cy="390.1" r="10.5"/><circle cx="681" cy="894" r="10.5"/><circle cx="1065" cy="543" r="10.5"/><circle cx="1006" cy="523" r="10.5"/><circle cx="1033" cy="624" r="10.5"/><circle cx="1122" cy="426" r="10.5"/><circle cx="1333" cy="234" r="10.5"/><circle cx="1239" cy="378" r="10.5"/><circle cx="701" cy="799" r="10.5"/><circle cx="1025" cy="632" r="10.5"/><circle cx="753" cy="800" r="10.5"/><circle cx="1206" cy="424" r="10.5"/><circle cx="956" cy="646" r="10.5"/><circle cx="898" cy="694" r="10.5"/><circle cx="669" cy="833" r="10.5"/><circle cx="1237" cy="284" r="10.5"/><circle cx="771.3" cy="837" r="10.5"/><circle cx="1231" cy="340" r="10.5"/><circle cx="1214.4" cy="598.9" r="10.5"/><circle cx="886" cy="721" r="10.5"/><circle cx="746" cy="840" r="10.5"/><circle cx="691" cy="850" r="10.5"/><circle cx="684" cy="798" r="10.5"/><circle cx="1064" cy="554" r="10.5"/><circle cx="1068" cy="585" r="10.5"/><circle cx="1020" cy="601" r="10.5"/><circle cx="1253" cy="410" r="10.5"/><circle cx="1052" cy="614" r="10.5"/><circle cx="662" cy="835" r="10.5"/><circle cx="1248" cy="276" r="10.5"/><circle cx="1031" cy="526" r="10.5"/><circle cx="904" cy="663" r="10.5"/><circle cx="915" cy="648" r="10.5"/><circle cx="1211" cy="354" r="10.5"/><circle cx="1345" cy="253" r="10.5"/><circle cx="671" cy="854" r="10.5"/><circle cx="684" cy="797" r="10.5"/><circle cx="865" cy="620.5" r="10.5"/><circle cx="994" cy="576" r="10.5"/><circle cx="1236" cy="426" r="10.5"/><circle cx="956" cy="633" r="10.5"/><circle cx="863" cy="701" r="10.5"/><circle cx="678" cy="846" r="10.5"/><circle cx="1298" cy="279" r="10.5"/><circle cx="1029" cy="583" r="10.5"/><circle cx="1161" cy="445" r="10.5"/><circle cx="1099" cy="434" r="10.5"/><circle cx="992" cy="577" r="10.5"/><circle cx="1311" cy="349" r="10.5"/><circle cx="1265" cy="279" r="10.5"/><circle cx="1329" cy="254" r="10.5"/><circle cx="1173" cy="351" r="10.5"/><circle cx="795" cy="709" r="10.5"/><circle cx="1212" cy="401" r="10.5"/><circle cx="976" cy="684" r="10.5"/><circle cx="870" cy="624" r="10.5"/><circle cx="1035" cy="565" r="10.5"/><circle cx="764" cy="749" r="10.5"/><circle cx="1051" cy="616" r="10.5"/><circle cx="1043" cy="620" r="10.5"/><circle cx="948" cy="562" r="10.5"/><circle cx="965" cy="543" r="10.5"/><circle cx="948" cy="588" r="10.5"/><circle cx="990" cy="643" r="10.5"/><circle cx="1071" cy="553" r="10.5"/><circle cx="1313" cy="311" r="10.5"/><circle cx="812" cy="712" r="10.5"/><circle cx="1282.7" cy="271.1" r="10.5"/><circle cx="1140" cy="458" r="10.5"/><circle cx="820" cy="750" r="10.5"/><circle cx="765" cy="738" r="10.5"/><circle cx="836" cy="748" r="10.5"/><circle cx="1077" cy="479" r="10.5"/><circle cx="1211" cy="411" r="10.5"/><circle cx="1286" cy="263" r="10.5"/><circle cx="1179" cy="376" r="10.5"/><circle cx="766" cy="789" r="10.5"/><circle cx="1106" cy="429" r="10.5"/><circle cx="1137" cy="442" r="10.5"/><circle cx="1276" cy="285" r="10.5"/><circle cx="1207" cy="429" r="10.5"/><circle cx="993" cy="642" r="10.5"/><circle cx="1462.8" cy="153.1" r="10.5"/><circle cx="888" cy="673" r="10.5"/><circle cx="1276" cy="343" r="10.5"/><circle cx="1368" cy="254" r="10.5"/><circle cx="1285" cy="281" r="10.5"/><circle cx="661" cy="850" r="10.5"/><circle cx="868" cy="640" r="10.5"/><circle cx="1119" cy="425" r="10.5"/><circle cx="1323" cy="249" r="10.5"/><circle cx="1050" cy="445" r="10.5"/><circle cx="1256" cy="337" r="10.5"/><circle cx="726" cy="804" r="10.5"/><circle cx="637.2" cy="891.9" r="10.5"/><circle cx="1119" cy="445" r="10.5"/><circle cx="1013" cy="609" r="10.5"/><circle cx="1003" cy="612" r="10.5"/><circle cx="797" cy="724" r="10.5"/><circle cx="834.6" cy="530.6" r="10.5"/><circle cx="1272" cy="342" r="10.5"/><circle cx="1339" cy="227" r="10.5"/><circle cx="1164" cy="465" r="10.5"/><circle cx="1329" cy="319" r="10.5"/><circle cx="749" cy="761" r="10.5"/><circle cx="958" cy="526" r="10.5"/><circle cx="672" cy="837" r="10.5"/><circle cx="877.9" cy="746.6" r="10.5"/><circle cx="797" cy="753" r="10.5"/><circle cx="1183" cy="441" r="10.5"/><circle cx="1138" cy="526" r="10.5"/><circle cx="1294" cy="308" r="10.5"/><circle cx="875" cy="718" r="10.5"/><circle cx="744" cy="827" r="10.5"/><circle cx="1005" cy="514" r="10.5"/><circle cx="1126" cy="483" r="10.5"/><circle cx="862" cy="690" r="10.5"/><circle cx="1065" cy="460" r="10.5"/><circle cx="1295" cy="259" r="10.5"/><circle cx="891" cy="633" r="10.5"/><circle cx="925" cy="688" r="10.5"/><circle cx="964" cy="562" r="10.5"/><circle cx="1067" cy="461" r="10.5"/><circle cx="1158" cy="362" r="10.5"/><circle cx="1370" cy="276" r="10.5"/><circle cx="1019" cy="599" r="10.5"/><circle cx="839.1" cy="633.5" r="10.5"/><circle cx="1082" cy="443" r="10.5"/><circle cx="714" cy="797" r="10.5"/><circle cx="693" cy="896" r="10.5"/><circle cx="1063" cy="442" r="10.5"/><circle cx="1004" cy="520" r="10.5"/><circle cx="840.5" cy="783.7" r="10.5"/><circle cx="1323" cy="296" r="10.5"/><circle cx="1388" cy="241" r="10.5"/><circle cx="1332" cy="286" r="10.5"/><circle cx="1047" cy="489" r="10.5"/><circle cx="747" cy="756" r="10.5"/><circle cx="758.3" cy="720.7" r="10.5"/><circle cx="889" cy="667" r="10.5"/><circle cx="1306" cy="276" r="10.5"/><circle cx="1156" cy="430" r="10.5"/><circle cx="1337" cy="309" r="10.5"/><circle cx="1284.2" cy="243.9" r="10.5"/><circle cx="1078" cy="548" r="10.5"/><circle cx="1069" cy="436" r="10.5"/><circle cx="1236" cy="368" r="10.5"/><circle cx="1136" cy="470" r="10.5"/><circle cx="687" cy="902" r="10.5"/><circle cx="1122" cy="427" r="10.5"/><circle cx="973" cy="653" r="10.5"/><circle cx="972.4" cy="669.3" r="10.5"/><circle cx="926.1" cy="413.3" r="10.5"/><circle cx="1155" cy="422" r="10.5"/><circle cx="1162" cy="387" r="10.5"/><circle cx="1228" cy="312" r="10.5"/><circle cx="917" cy="695" r="10.5"/><circle cx="876" cy="623" r="10.5"/><circle cx="1268" cy="350" r="10.5"/><circle cx="880" cy="682" r="10.5"/><circle cx="856" cy="731" r="10.5"/><circle cx="779" cy="740" r="10.5"/><circle cx="1197" cy="417" r="10.5"/><circle cx="657" cy="866" r="10.5"/><circle cx="1322" cy="305" r="10.5"/><circle cx="876" cy="692" r="10.5"/><circle cx="811" cy="780" r="10.5"/><circle cx="1412" cy="249" r="10.5"/><circle cx="797" cy="729" r="10.5"/><circle cx="893" cy="683" r="10.5"/><circle cx="795" cy="706" r="10.5"/><circle cx="1109" cy="493" r="10.5"/><circle cx="1367" cy="229" r="10.5"/><circle cx="997" cy="634" r="10.5"/><circle cx="1263" cy="370" r="10.5"/><circle cx="714" cy="836" r="10.5"/><circle cx="681" cy="868" r="10.5"/><circle cx="1307" cy="282" r="10.5"/><circle cx="678" cy="836" r="10.5"/><circle cx="851" cy="649" r="10.5"/><circle cx="1303" cy="244" r="10.5"/><circle cx="1277" cy="344" r="10.5"/><circle cx="975" cy="537" r="10.5"/><circle cx="1158" cy="485" r="10.5"/><circle cx="711" cy="776" r="10.5"/><circle cx="1016" cy="632" r="10.5"/><circle cx="958.7" cy="665.8" r="10.5"/><circle cx="1225" cy="443" r="10.5"/><circle cx="972" cy="622" r="10.5"/><circle cx="935" cy="666" r="10.5"/><circle cx="1218" cy="431" r="10.5"/><circle cx="984" cy="606" r="10.5"/><circle cx="1328" cy="307" r="10.5"/><circle cx="1344.7" cy="207.6" r="10.5"/><circle cx="1383" cy="251" r="10.5"/><circle cx="1271.5" cy="417.1" r="10.5"/><circle cx="700" cy="805" r="10.5"/><circle cx="747" cy="752" r="10.5"/><circle cx="1296" cy="263" r="10.5"/><circle cx="1226" cy="394" r="10.5"/><circle cx="1133" cy="505" r="10.5"/><circle cx="839" cy="695" r="10.5"/><circle cx="1175" cy="411" r="10.5"/><circle cx="1090" cy="410" r="10.5"/><circle cx="1028" cy="537" r="10.5"/><circle cx="767" cy="806" r="10.5"/><circle cx="792" cy="743" r="10.5"/><circle cx="1014" cy="573" r="10.5"/><circle cx="1299" cy="292" r="10.5"/><circle cx="983" cy="545" r="10.5"/><circle cx="558" cy="953.3" r="10.5"/><circle cx="826" cy="740" r="10.5"/><circle cx="732" cy="804" r="10.5"/><circle cx="1165" cy="464" r="10.5"/><circle cx="1238" cy="377" r="10.5"/><circle cx="1014" cy="500" r="10.5"/><circle cx="832" cy="699" r="10.5"/><circle cx="884" cy="695" r="10.5"/><circle cx="1405" cy="241" r="10.5"/><circle cx="1020" cy="514" r="10.5"/><circle cx="1319" cy="324" r="10.5"/><circle cx="1139" cy="411" r="10.5"/><circle cx="897" cy="607" r="10.5"/><circle cx="1222" cy="332" r="10.5"/><circle cx="713" cy="796" r="10.5"/><circle cx="789" cy="779" r="10.5"/><circle cx="1264" cy="382" r="10.5"/><circle cx="927" cy="658" r="10.5"/><circle cx="741" cy="808" r="10.5"/><circle cx="1169" cy="416" r="10.5"/><circle cx="1123" cy="438" r="10.5"/><circle cx="980.3" cy="429.4" r="10.5"/><circle cx="611.3" cy="904.9" r="10.5"/><circle cx="907" cy="591" r="10.5"/><circle cx="1377" cy="254" r="10.5"/><circle cx="936" cy="557" r="10.5"/><circle cx="1394.7" cy="186.4" r="10.5"/><circle cx="703" cy="780" r="10.5"/><circle cx="1151" cy="531.4" r="10.5"/><circle cx="883" cy="704" r="10.5"/><circle cx="1295" cy="346" r="10.5"/><circle cx="1035" cy="471" r="10.5"/><circle cx="1230" cy="394" r="10.5"/><circle cx="1188" cy="405" r="10.5"/><circle cx="1234" cy="380" r="10.5"/><circle cx="957" cy="638" r="10.5"/><circle cx="653.3" cy="909.7" r="10.5"/><circle cx="1193" cy="431" r="10.5"/><circle cx="921" cy="596" r="10.5"/><circle cx="883" cy="633" r="10.5"/><circle cx="1129" cy="411" r="10.5"/><circle cx="741" cy="806" r="10.5"/><circle cx="955" cy="562" r="10.5"/><circle cx="1140" cy="373" r="10.5"/><circle cx="771" cy="777" r="10.5"/><circle cx="1110" cy="524" r="10.5"/><circle cx="950" cy="593" r="10.5"/><circle cx="977" cy="544" r="10.5"/><circle cx="984" cy="661" r="10.5"/><circle cx="1049" cy="566" r="10.5"/><circle cx="781" cy="681.9" r="10.5"/><circle cx="1079" cy="504" r="10.5"/><circle cx="690" cy="801" r="10.5"/><circle cx="1199" cy="370" r="10.5"/><circle cx="686" cy="839" r="10.5"/><circle cx="994" cy="483" r="10.5"/><circle cx="972" cy="611" r="10.5"/><circle cx="1215" cy="416" r="10.5"/><circle cx="1137" cy="507" r="10.5"/><circle cx="1212.9" cy="496.3" r="10.5"/><circle cx="894" cy="601" r="10.5"/><circle cx="875" cy="642" r="10.5"/><circle cx="1048.7" cy="648.8" r="10.5"/><circle cx="1290.3" cy="361.9" r="10.5"/><circle cx="890" cy="708" r="10.5"/><circle cx="781" cy="782" r="10.5"/><circle cx="1143" cy="413" r="10.5"/><circle cx="1078" cy="547" r="10.5"/><circle cx="1279" cy="350" r="10.5"/><circle cx="1362" cy="259" r="10.5"/><circle cx="1303" cy="243" r="10.5"/><circle cx="1157" cy="504" r="10.5"/><circle cx="899" cy="668" r="10.5"/><circle cx="777" cy="774" r="10.5"/><circle cx="698" cy="870" r="10.5"/><circle cx="758" cy="808" r="10.5"/><circle cx="1210" cy="386" r="10.5"/><circle cx="973" cy="667" r="10.5"/><circle cx="1116" cy="432" r="10.5"/><circle cx="981" cy="666" r="10.5"/><circle cx="1008" cy="651" r="10.5"/><circle cx="1178" cy="360" r="10.5"/><circle cx="1178" cy="431" r="10.5"/><circle cx="774" cy="770" r="10.5"/><circle cx="843" cy="718" r="10.5"/><circle cx="858" cy="649" r="10.5"/><circle cx="971" cy="562" r="10.5"/><circle cx="810" cy="745" r="10.5"/><circle cx="1225" cy="343" r="10.5"/><circle cx="975" cy="668" r="10.5"/><circle cx="746" cy="826" r="10.5"/><circle cx="1101" cy="465" r="10.5"/><circle cx="1073" cy="508" r="10.5"/><circle cx="1127" cy="454" r="10.5"/><circle cx="1006" cy="572" r="10.5"/><circle cx="1025" cy="541" r="10.5"/><circle cx="851" cy="712" r="10.5"/><circle cx="662" cy="837" r="10.5"/><circle cx="937" cy="643" r="10.5"/><circle cx="1067" cy="570" r="10.5"/><circle cx="685.6" cy="906.5" r="10.5"/><circle cx="1218" cy="326" r="10.5"/><circle cx="1092.7" cy="401" r="10.5"/><circle cx="570" cy="950.1" r="10.5"/><circle cx="1060.4" cy="436.2" r="10.5"/><circle cx="1291" cy="363" r="10.5"/><circle cx="1275" cy="288" r="10.5"/><circle cx="1186" cy="390" r="10.5"/><circle cx="997" cy="599" r="10.5"/><circle cx="1106" cy="566" r="10.5"/><circle cx="1028" cy="627" r="10.5"/><circle cx="1100" cy="522" r="10.5"/><circle cx="949" cy="650" r="10.5"/><circle cx="1173" cy="342" r="10.5"/><circle cx="1318" cy="273" r="10.5"/><circle cx="1021" cy="594" r="10.5"/><circle cx="1329" cy="288" r="10.5"/><circle cx="1056" cy="567" r="10.5"/><circle cx="1148" cy="531" r="10.5"/><circle cx="1010" cy="610" r="10.5"/><circle cx="1093" cy="499" r="10.5"/><circle cx="1086.8" cy="596" r="10.5"/><circle cx="662" cy="829" r="10.5"/><circle cx="1209" cy="347" r="10.5"/><circle cx="1305" cy="250" r="10.5"/><circle cx="1033" cy="568" r="10.5"/><circle cx="1061" cy="565" r="10.5"/><circle cx="1030" cy="471" r="10.5"/><circle cx="1231" cy="421" r="10.5"/><circle cx="801" cy="756" r="10.5"/><circle cx="988" cy="632" r="10.5"/><circle cx="1036" cy="452" r="10.5"/><circle cx="1069" cy="495" r="10.5"/><circle cx="952" cy="558" r="10.5"/><circle cx="653" cy="828" r="10.5"/><circle cx="856" cy="735" r="10.5"/><circle cx="1151" cy="518" r="10.5"/><circle cx="754" cy="770" r="10.5"/><circle cx="747" cy="768" r="10.5"/><circle cx="766" cy="765" r="10.5"/><circle cx="1168" cy="410" r="10.5"/><circle cx="733" cy="756" r="10.5"/><circle cx="970" cy="624" r="10.5"/><circle cx="1295" cy="309" r="10.5"/><circle cx="1258" cy="291" r="10.5"/><circle cx="823" cy="662" r="10.5"/><circle cx="1179" cy="363" r="10.5"/><circle cx="1172" cy="357" r="10.5"/><circle cx="1107" cy="449" r="10.5"/><circle cx="1150" cy="401" r="10.5"/><circle cx="946" cy="608" r="10.5"/><circle cx="1278" cy="375" r="10.5"/><circle cx="705" cy="866" r="10.5"/><circle cx="649" cy="872" r="10.5"/><circle cx="650" cy="906" r="10.5"/><circle cx="1110" cy="495" r="10.5"/><circle cx="1331" cy="227" r="10.5"/><circle cx="847" cy="729" r="10.5"/><circle cx="1022.3" cy="452.3" r="10.5"/><circle cx="1129" cy="468" r="10.5"/><circle cx="723" cy="793" r="10.5"/><circle cx="1038" cy="484" r="10.5"/><circle cx="1226" cy="331" r="10.5"/><circle cx="845" cy="689" r="10.5"/><circle cx="659" cy="899" r="10.5"/><circle cx="1155" cy="434" r="10.5"/><circle cx="799" cy="730" r="10.5"/><circle cx="540.9" cy="1011.5" r="10.5"/><circle cx="1418.3" cy="231.2" r="10.5"/><circle cx="1017" cy="620" r="10.5"/><circle cx="1302" cy="258" r="10.5"/><circle cx="758" cy="781" r="10.5"/><circle cx="1347" cy="273" r="10.5"/><circle cx="656" cy="873" r="10.5"/><circle cx="1120" cy="424" r="10.5"/><circle cx="683" cy="808" r="10.5"/><circle cx="1180" cy="478" r="10.5"/><circle cx="949" cy="546" r="10.5"/><circle cx="1158" cy="516" r="10.5"/><circle cx="1073" cy="553" r="10.5"/><circle cx="659" cy="885" r="10.5"/><circle cx="864" cy="740" r="10.5"/><circle cx="719.6" cy="743.3" r="10.5"/><circle cx="1197" cy="456" r="10.5"/><circle cx="1254" cy="326" r="10.5"/><circle cx="1021" cy="527" r="10.5"/><circle cx="863.9" cy="757.3" r="10.5"/><circle cx="660" cy="824" r="10.5"/><circle cx="1076" cy="515" r="10.5"/><circle cx="1146" cy="465" r="10.5"/><circle cx="1297" cy="302" r="10.5"/><circle cx="930" cy="583" r="10.5"/><circle cx="755" cy="801" r="10.5"/><circle cx="699" cy="796" r="10.5"/><circle cx="744" cy="839" r="10.5"/><circle cx="1173" cy="358" r="10.5"/><circle cx="928" cy="691" r="10.5"/><circle cx="1314.5" cy="343.8" r="10.5"/><circle cx="1378" cy="392.2" r="10.5"/><circle cx="1090" cy="482" r="10.5"/><circle cx="1054" cy="592" r="10.5"/><circle cx="1215" cy="399" r="10.5"/><circle cx="1335" cy="309" r="10.5"/><circle cx="974" cy="611" r="10.5"/><circle cx="980" cy="534" r="10.5"/><circle cx="899" cy="618" r="10.5"/><circle cx="1147" cy="454" r="10.5"/><circle cx="1028" cy="617" r="10.5"/><circle cx="1176" cy="445" r="10.5"/><circle cx="702" cy="838" r="10.5"/><circle cx="735" cy="799" r="10.5"/><circle cx="967" cy="667" r="10.5"/><circle cx="931" cy="562" r="10.5"/><circle cx="965" cy="536" r="10.5"/><circle cx="1341" cy="289" r="10.5"/><circle cx="1104" cy="522" r="10.5"/><circle cx="1202" cy="467" r="10.5"/><circle cx="914" cy="665" r="10.5"/><circle cx="946" cy="546.1" r="10.5"/><circle cx="695" cy="811" r="10.5"/><circle cx="972" cy="589" r="10.5"/><circle cx="1125" cy="412" r="10.5"/><circle cx="864" cy="640" r="10.5"/><circle cx="1330" cy="294" r="10.5"/><circle cx="1130.8" cy="358.5" r="10.5"/><circle cx="992" cy="487" r="10.5"/><circle cx="1184" cy="454" r="10.5"/><circle cx="797" cy="729" r="10.5"/><circle cx="1304" cy="286" r="10.5"/><circle cx="932" cy="577" r="10.5"/><circle cx="1292" cy="271" r="10.5"/><circle cx="867" cy="664" r="10.5"/><circle cx="1201" cy="360" r="10.5"/><circle cx="1018" cy="487" r="10.5"/><circle cx="1054" cy="548" r="10.5"/><circle cx="907" cy="700" r="10.5"/><circle cx="969" cy="598" r="10.5"/><circle cx="1168" cy="370" r="10.5"/><circle cx="1047" cy="610" r="10.5"/><circle cx="1075" cy="515" r="10.5"/><circle cx="799.4" cy="689.8" r="10.5"/><circle cx="1399.2" cy="228.8" r="10.5"/><circle cx="663" cy="848" r="10.5"/><circle cx="922" cy="597" r="10.5"/><circle cx="1337" cy="264" r="10.5"/><circle cx="852" cy="714" r="10.5"/><circle cx="985" cy="657" r="10.5"/><circle cx="777" cy="805" r="10.5"/><circle cx="1010" cy="643" r="10.5"/><circle cx="713" cy="768" r="10.5"/><circle cx="1103" cy="468" r="10.5"/><circle cx="740" cy="825" r="10.5"/><circle cx="1342" cy="287" r="10.5"/><circle cx="1303" cy="273" r="10.5"/><circle cx="1003" cy="505" r="10.5"/><circle cx="1119.1" cy="591.6" r="10.5"/><circle cx="897" cy="694" r="10.5"/><circle cx="1275.1" cy="254.5" r="10.5"/><circle cx="672.7" cy="843.5" r="10.5"/><circle cx="1068" cy="443" r="10.5"/><circle cx="606.5" cy="859.6" r="10.5"/><circle cx="891" cy="624" r="10.5"/><circle cx="1321" cy="232" r="10.5"/><circle cx="973" cy="630" r="10.5"/><circle cx="1055" cy="600" r="10.5"/><circle cx="1189" cy="343" r="10.5"/><circle cx="1028" cy="489" r="10.5"/><circle cx="871" cy="708" r="10.5"/><circle cx="716" cy="872" r="10.5"/><circle cx="728" cy="750" r="10.5"/><circle cx="559.6" cy="969.5" r="10.5"/><circle cx="1257" cy="273" r="10.5"/><circle cx="1411" cy="250" r="10.5"/><circle cx="882" cy="680" r="10.5"/><circle cx="770" cy="814" r="10.5"/><circle cx="679" cy="878" r="10.5"/><circle cx="1061" cy="463" r="10.5"/><circle cx="1326" cy="332" r="10.5"/><circle cx="1041" cy="453" r="10.5"/><circle cx="1144" cy="526" r="10.5"/><circle cx="1030" cy="584" r="10.5"/><circle cx="819" cy="692" r="10.5"/><circle cx="1316" cy="231" r="10.5"/><circle cx="973" cy="544" r="10.5"/><circle cx="1030" cy="542" r="10.5"/><circle cx="756" cy="776" r="10.5"/><circle cx="1349" cy="259" r="10.5"/><circle cx="949" cy="696" r="10.5"/><circle cx="1395" cy="277" r="10.5"/><circle cx="1262" cy="340" r="10.5"/><circle cx="928" cy="602" r="10.5"/><circle cx="1040" cy="459" r="10.5"/><circle cx="1012" cy="575" r="10.5"/><circle cx="1243" cy="338" r="10.5"/><circle cx="624.9" cy="739.1" r="10.5"/><circle cx="712" cy="793" r="10.5"/><circle cx="863" cy="699" r="10.5"/><circle cx="1222" cy="427" r="10.5"/><circle cx="1109" cy="550" r="10.5"/><circle cx="1289" cy="363" r="10.5"/><circle cx="1378" cy="198" r="10.5"/><circle cx="1029" cy="614" r="10.5"/><circle cx="1172" cy="366" r="10.5"/><circle cx="910.8" cy="546.1" r="10.5"/><circle cx="884" cy="678" r="10.5"/><circle cx="955" cy="571" r="10.5"/><circle cx="910" cy="623" r="10.5"/><circle cx="950" cy="572" r="10.5"/><circle cx="846" cy="705" r="10.5"/><circle cx="692" cy="819" r="10.5"/><circle cx="1157" cy="519" r="10.5"/><circle cx="1124" cy="492" r="10.5"/><circle cx="1125" cy="507" r="10.5"/><circle cx="1025.2" cy="645.9" r="10.5"/><circle cx="1117" cy="467" r="10.5"/><circle cx="1035" cy="593" r="10.5"/><circle cx="1083" cy="449" r="10.5"/><circle cx="560.3" cy="1008.3" r="10.5"/><circle cx="1344.7" cy="331.7" r="10.5"/><circle cx="1101" cy="406" r="10.5"/><circle cx="1103" cy="556" r="10.5"/><circle cx="1055" cy="478" r="10.5"/><circle cx="774" cy="751" r="10.5"/><circle cx="1311" cy="330" r="10.5"/><circle cx="688" cy="876" r="10.5"/><circle cx="1078" cy="469" r="10.5"/><circle cx="1295" cy="325" r="10.5"/><circle cx="1139" cy="436" r="10.5"/><circle cx="1055" cy="635" r="10.5"/><circle cx="1022" cy="553" r="10.5"/><circle cx="1233" cy="390" r="10.5"/><circle cx="722.8" cy="691.6" r="10.5"/><circle cx="898" cy="647" r="10.5"/><circle cx="843" cy="699" r="10.5"/><circle cx="1221" cy="332" r="10.5"/><circle cx="1112" cy="544" r="10.5"/><circle cx="1022" cy="628" r="10.5"/><circle cx="942" cy="677" r="10.5"/><circle cx="1235" cy="323" r="10.5"/><circle cx="938" cy="690" r="10.5"/><circle cx="1032" cy="652" r="10.5"/><circle cx="703.4" cy="765.9" r="10.5"/><circle cx="1002" cy="560" r="10.5"/><circle cx="1221.7" cy="449.4" r="10.5"/><circle cx="1097" cy="591" r="10.5"/><circle cx="1090" cy="442" r="10.5"/><circle cx="1087" cy="439" r="10.5"/><circle cx="836" cy="746" r="10.5"/><circle cx="1361" cy="215" r="10.5"/><circle cx="769" cy="761" r="10.5"/><circle cx="1249" cy="328" r="10.5"/><circle cx="1002.7" cy="451.2" r="10.5"/><circle cx="1335" cy="212" r="10.5"/><circle cx="796" cy="731" r="10.5"/><circle cx="1065" cy="609" r="10.5"/><circle cx="1131" cy="495" r="10.5"/><circle cx="1274" cy="278" r="10.5"/><circle cx="1151" cy="394" r="10.5"/><circle cx="1115" cy="432" r="10.5"/><circle cx="1119" cy="536" r="10.5"/><circle cx="1258" cy="267" r="10.5"/><circle cx="1122" cy="342.3" r="10.5"/><circle cx="1119" cy="522" r="10.5"/><circle cx="1279" cy="310" r="10.5"/><circle cx="713" cy="851" r="10.5"/><circle cx="677" cy="885" r="10.5"/><circle cx="1272" cy="265" r="10.5"/><circle cx="1045" cy="482" r="10.5"/><circle cx="799" cy="721" r="10.5"/><circle cx="1150" cy="379" r="10.5"/><circle cx="799" cy="735" r="10.5"/><circle cx="1083" cy="568" r="10.5"/><circle cx="999" cy="507" r="10.5"/><circle cx="645" cy="878" r="10.5"/><circle cx="988" cy="550" r="10.5"/><circle cx="955" cy="631" r="10.5"/><circle cx="770" cy="705" r="10.5"/><circle cx="687" cy="828" r="10.5"/><circle cx="900" cy="689" r="10.5"/><circle cx="1048" cy="461" r="10.5"/><circle cx="574.2" cy="987.3" r="10.5"/><circle cx="1039" cy="547" r="10.5"/><circle cx="1066" cy="418" r="10.5"/><circle cx="635" cy="901" r="10.5"/><circle cx="1304" cy="305" r="10.5"/><circle cx="612" cy="984" r="10.5"/><circle cx="1349" cy="284" r="10.5"/><circle cx="714" cy="829" r="10.5"/><circle cx="1299" cy="257" r="10.5"/><circle cx="1161" cy="374" r="10.5"/><circle cx="1045" cy="518" r="10.5"/><circle cx="1162" cy="356" r="10.5"/><circle cx="675" cy="889" r="10.5"/><circle cx="1318" cy="283" r="10.5"/><circle cx="882" cy="675" r="10.5"/><circle cx="865" cy="738" r="10.5"/><circle cx="777" cy="760" r="10.5"/><circle cx="801" cy="754" r="10.5"/><circle cx="1122" cy="470" r="10.5"/><circle cx="841" cy="648" r="10.5"/><circle cx="1376" cy="241" r="10.5"/><circle cx="926" cy="588" r="10.5"/><circle cx="911" cy="611" r="10.5"/><circle cx="907" cy="694" r="10.5"/><circle cx="663" cy="870" r="10.5"/><circle cx="1273" cy="275" r="10.5"/><circle cx="653" cy="920" r="10.5"/><circle cx="672" cy="853" r="10.5"/><circle cx="1012" cy="647" r="10.5"/><circle cx="1046" cy="541" r="10.5"/><circle cx="1073" cy="501" r="10.5"/><circle cx="850" cy="727" r="10.5"/><circle cx="1317" cy="311" r="10.5"/><circle cx="772" cy="828" r="10.5"/><circle cx="1203" cy="319" r="10.5"/><circle cx="1140" cy="403" r="10.5"/><circle cx="1405.3" cy="213.6" r="10.5"/><circle cx="1263" cy="299" r="10.5"/><circle cx="1247" cy="305" r="10.5"/><circle cx="812" cy="712" r="10.5"/><circle cx="910" cy="632" r="10.5"/><circle cx="1020" cy="528" r="10.5"/><circle cx="1080" cy="503" r="10.5"/><circle cx="1461.9" cy="169.7" r="10.5"/><circle cx="1243" cy="357" r="10.5"/><circle cx="1249" cy="328" r="10.5"/><circle cx="1082" cy="483" r="10.5"/><circle cx="1255" cy="277" r="10.5"/><circle cx="466.6" cy="1078.4" r="10.5"/><circle cx="1104" cy="553" r="10.5"/><circle cx="674" cy="856" r="10.5"/><circle cx="702" cy="792" r="10.5"/><circle cx="1084" cy="544" r="10.5"/><circle cx="540.9" cy="932.3" r="10.5"/><circle cx="896" cy="655" r="10.5"/><circle cx="715" cy="776" r="10.5"/><circle cx="1142" cy="402" r="10.5"/><circle cx="761" cy="716" r="10.5"/><circle cx="791" cy="720" r="10.5"/><circle cx="1423" cy="234" r="10.5"/><circle cx="1285" cy="262" r="10.5"/><circle cx="1037" cy="563" r="10.5"/><circle cx="1113" cy="546" r="10.5"/><circle cx="1384" cy="240" r="10.5"/><circle cx="877" cy="678" r="10.5"/><circle cx="1134" cy="500" r="10.5"/><circle cx="794" cy="695" r="10.5"/><circle cx="781" cy="709" r="10.5"/><circle cx="1070" cy="597" r="10.5"/><circle cx="1022" cy="503" r="10.5"/><circle cx="775" cy="753" r="10.5"/><circle cx="901" cy="676" r="10.5"/><circle cx="996" cy="572" r="10.5"/><circle cx="1126" cy="524" r="10.5"/><circle cx="728" cy="750" r="10.5"/><circle cx="1011" cy="620" r="10.5"/><circle cx="909" cy="633" r="10.5"/><circle cx="1290" cy="362" r="10.5"/><circle cx="1379" cy="249" r="10.5"/><circle cx="926" cy="712" r="10.5"/><circle cx="1034" cy="492" r="10.5"/><circle cx="1315" cy="265" r="10.5"/><circle cx="704" cy="808" r="10.5"/><circle cx="1153" cy="363" r="10.5"/><circle cx="767" cy="724" r="10.5"/><circle cx="1350.8" cy="237.8" r="10.5"/><circle cx="759" cy="792" r="10.5"/><circle cx="1477.9" cy="160.7" r="10.5"/><circle cx="1364" cy="300" r="10.5"/><circle cx="1165" cy="473" r="10.5"/><circle cx="1366" cy="284" r="10.5"/><circle cx="718" cy="859.6" r="10.5"/><circle cx="902" cy="719.2" r="10.5"/><circle cx="944" cy="603" r="10.5"/><circle cx="913" cy="627" r="10.5"/><circle cx="1159" cy="453" r="10.5"/><circle cx="1249" cy="319" r="10.5"/><circle cx="1178" cy="387" r="10.5"/><circle cx="1119" cy="486" r="10.5"/><circle cx="760" cy="828" r="10.5"/><circle cx="710" cy="865" r="10.5"/><circle cx="693" cy="842" r="10.5"/><circle cx="868.3" cy="616.5" r="10.5"/><circle cx="850" cy="731" r="10.5"/><circle cx="1234" cy="377" r="10.5"/><circle cx="1195" cy="372" r="10.5"/><circle cx="1150" cy="417" r="10.5"/><circle cx="1019" cy="482" r="10.5"/><circle cx="640.4" cy="927.5" r="10.5"/><circle cx="973" cy="582" r="10.5"/><circle cx="1120" cy="401" r="10.5"/><circle cx="1185" cy="352" r="10.5"/><circle cx="1055" cy="577" r="10.5"/><circle cx="1110" cy="402" r="10.5"/><circle cx="1043" cy="570" r="10.5"/><circle cx="772" cy="728" r="10.5"/><circle cx="907" cy="599" r="10.5"/><circle cx="933" cy="632" r="10.5"/><circle cx="1235" cy="290" r="10.5"/><circle cx="1169" cy="391" r="10.5"/><circle cx="788" cy="693" r="10.5"/><circle cx="1168" cy="414" r="10.5"/><circle cx="1206" cy="331" r="10.5"/><circle cx="889" cy="675" r="10.5"/><circle cx="1272" cy="389" r="10.5"/><circle cx="1335" cy="259" r="10.5"/><circle cx="1357" cy="207" r="10.5"/><circle cx="916" cy="625" r="10.5"/><circle cx="732" cy="798" r="10.5"/><circle cx="1051" cy="452" r="10.5"/><circle cx="1219" cy="438" r="10.5"/><circle cx="761" cy="767" r="10.5"/><circle cx="1084" cy="544" r="10.5"/><circle cx="1063" cy="516" r="10.5"/><circle cx="1196.4" cy="464.8" r="10.5"/><circle cx="1256" cy="293" r="10.5"/><circle cx="702" cy="788" r="10.5"/><circle cx="945" cy="648" r="10.5"/><circle cx="796" cy="724" r="10.5"/><circle cx="1044" cy="520" r="10.5"/><circle cx="861.7" cy="807.9" r="10.5"/><circle cx="801" cy="744" r="10.5"/><circle cx="1200" cy="429" r="10.5"/><circle cx="901" cy="662" r="10.5"/><circle cx="972" cy="582" r="10.5"/><circle cx="996" cy="643" r="10.5"/><circle cx="954" cy="674" r="10.5"/><circle cx="1084" cy="540" r="10.5"/><circle cx="791" cy="745" r="10.5"/><circle cx="1120" cy="550" r="10.5"/><circle cx="1077" cy="438" r="10.5"/><circle cx="1032" cy="548" r="10.5"/><circle cx="642" cy="873" r="10.5"/><circle cx="933" cy="586" r="10.5"/><circle cx="701" cy="775" r="10.5"/><circle cx="1114" cy="475" r="10.5"/><circle cx="937" cy="585" r="10.5"/><circle cx="1371" cy="275" r="10.5"/><circle cx="1157" cy="416" r="10.5"/><circle cx="1038" cy="625" r="10.5"/><circle cx="656.6" cy="824.1" r="10.5"/><circle cx="815" cy="724" r="10.5"/><circle cx="1099" cy="478" r="10.5"/><circle cx="1034" cy="664.9" r="10.5"/><circle cx="1257" cy="262" r="10.5"/><circle cx="1079" cy="461" r="10.5"/><circle cx="1035" cy="471" r="10.5"/><circle cx="1253" cy="385" r="10.5"/><circle cx="1281" cy="278" r="10.5"/><circle cx="607.1" cy="791.1" r="10.5"/><circle cx="830" cy="745" r="10.5"/><circle cx="1099" cy="411" r="10.5"/><circle cx="744" cy="765" r="10.5"/><circle cx="1179" cy="366" r="10.5"/><circle cx="1082" cy="513" r="10.5"/><circle cx="1282" cy="356" r="10.5"/><circle cx="1098" cy="493" r="10.5"/><circle cx="1112" cy="448" r="10.5"/><circle cx="1067" cy="520" r="10.5"/><circle cx="741" cy="776" r="10.5"/><circle cx="1198.2" cy="481.6" r="10.5"/><circle cx="951" cy="635" r="10.5"/><circle cx="831" cy="770" r="10.5"/><circle cx="802" cy="685.2" r="10.5"/><circle cx="838" cy="736" r="10.5"/><circle cx="953" cy="642" r="10.5"/><circle cx="1335" cy="322" r="10.5"/><circle cx="1136.7" cy="568.1" r="10.5"/><circle cx="806.8" cy="814.4" r="10.5"/><circle cx="1145" cy="346.8" r="10.5"/><circle cx="1279" cy="350" r="10.5"/><circle cx="1254" cy="285" r="10.5"/><circle cx="664" cy="896" r="10.5"/><circle cx="694" cy="866" r="10.5"/><circle cx="1126" cy="432" r="10.5"/><circle cx="1143" cy="481" r="10.5"/><circle cx="1165" cy="390" r="10.5"/><circle cx="787" cy="794" r="10.5"/><circle cx="1100" cy="550" r="10.5"/><circle cx="732" cy="778" r="10.5"/><circle cx="942" cy="682" r="10.5"/><circle cx="1169" cy="451" r="10.5"/><circle cx="952" cy="666" r="10.5"/><circle cx="924" cy="567" r="10.5"/><circle cx="1113" cy="496" r="10.5"/><circle cx="997" cy="642" r="10.5"/><circle cx="795" cy="799" r="10.5"/><circle cx="1253" cy="272" r="10.5"/><circle cx="979" cy="512" r="10.5"/><circle cx="1144" cy="474" r="10.5"/><circle cx="732.5" cy="869.3" r="10.5"/><circle cx="1302.4" cy="374" r="10.5"/><circle cx="820" cy="689" r="10.5"/><circle cx="1351" cy="230" r="10.5"/><circle cx="1060" cy="589" r="10.5"/><circle cx="1234" cy="427" r="10.5"/><circle cx="1310" cy="251" r="10.5"/><circle cx="1278" cy="289" r="10.5"/><circle cx="1314.5" cy="230.3" r="10.5"/><circle cx="1188" cy="382" r="10.5"/><circle cx="1095" cy="466" r="10.5"/><circle cx="947" cy="578" r="10.5"/><circle cx="1180" cy="441" r="10.5"/><circle cx="1103" cy="568" r="10.5"/><circle cx="924" cy="581" r="10.5"/><circle cx="912" cy="606" r="10.5"/><circle cx="1114" cy="505" r="10.5"/><circle cx="769" cy="778" r="10.5"/><circle cx="1261.3" cy="461.1" r="10.5"/><circle cx="694" cy="772" r="10.5"/><circle cx="1144" cy="498" r="10.5"/><circle cx="1398" cy="276" r="10.5"/><circle cx="890" cy="593" r="10.5"/><circle cx="994" cy="641" r="10.5"/><circle cx="801" cy="759" r="10.5"/><circle cx="963" cy="687" r="10.5"/><circle cx="1281" cy="336" r="10.5"/><circle cx="869.8" cy="820.9" r="10.5"/><circle cx="953" cy="543" r="10.5"/><circle cx="1203" cy="469" r="10.5"/><circle cx="1257" cy="280" r="10.5"/><circle cx="959" cy="623" r="10.5"/><circle cx="1232" cy="396" r="10.5"/><circle cx="984" cy="540" r="10.5"/><circle cx="1165" cy="363" r="10.5"/><circle cx="965" cy="611" r="10.5"/><circle cx="1059" cy="535" r="10.5"/><circle cx="1208" cy="351" r="10.5"/><circle cx="1152" cy="442" r="10.5"/><circle cx="723" cy="830" r="10.5"/><circle cx="1111" cy="449" r="10.5"/><circle cx="917" cy="695" r="10.5"/><circle cx="877" cy="696" r="10.5"/><circle cx="698" cy="841" r="10.5"/><circle cx="1163" cy="463" r="10.5"/><circle cx="737" cy="815" r="10.5"/><circle cx="639" cy="893" r="10.5"/><circle cx="1413" cy="256" r="10.5"/><circle cx="1131" cy="422" r="10.5"/><circle cx="1005" cy="610" r="10.5"/><circle cx="1265" cy="332" r="10.5"/><circle cx="1173" cy="462" r="10.5"/><circle cx="1354" cy="319" r="10.5"/><circle cx="1127" cy="388" r="10.5"/><circle cx="1218" cy="338" r="10.5"/><circle cx="1329" cy="253" r="10.5"/><circle cx="1329" cy="333" r="10.5"/><circle cx="1273" cy="324" r="10.5"/><circle cx="1235" cy="296" r="10.5"/><circle cx="1375" cy="267" r="10.5"/><circle cx="1338" cy="253" r="10.5"/><circle cx="1007" cy="639" r="10.5"/><circle cx="1366" cy="226" r="10.5"/><circle cx="639" cy="881" r="10.5"/><circle cx="1209" cy="392" r="10.5"/><circle cx="783.3" cy="494.2" r="10.5"/><circle cx="698.6" cy="866.1" r="10.5"/><circle cx="1215" cy="446" r="10.5"/><circle cx="852" cy="627" r="10.5"/><circle cx="1031" cy="490" r="10.5"/><circle cx="1024" cy="574" r="10.5"/><circle cx="1048" cy="621" r="10.5"/><circle cx="1375" cy="246" r="10.5"/><circle cx="962" cy="679" r="10.5"/><circle cx="702" cy="814" r="10.5"/><circle cx="1318" cy="287" r="10.5"/><circle cx="679" cy="859" r="10.5"/><circle cx="1177" cy="401" r="10.5"/><circle cx="1113" cy="470" r="10.5"/><circle cx="1059" cy="483" r="10.5"/><circle cx="1192" cy="460" r="10.5"/><circle cx="1366" cy="248" r="10.5"/><circle cx="1075" cy="550" r="10.5"/><circle cx="698" cy="835" r="10.5"/><circle cx="1026" cy="564" r="10.5"/><circle cx="1016" cy="533" r="10.5"/><circle cx="998" cy="491" r="10.5"/><circle cx="944" cy="667" r="10.5"/><circle cx="1225" cy="396" r="10.5"/><circle cx="1135" cy="495" r="10.5"/><circle cx="1279.7" cy="237.8" r="10.5"/><circle cx="1277" cy="391" r="10.5"/><circle cx="1064" cy="498" r="10.5"/><circle cx="1186" cy="460" r="10.5"/><circle cx="1273" cy="278" r="10.5"/><circle cx="1350" cy="266" r="10.5"/><circle cx="888" cy="680" r="10.5"/><circle cx="1366" cy="206" r="10.5"/><circle cx="1339" cy="229" r="10.5"/><circle cx="1295" cy="302" r="10.5"/><circle cx="964" cy="569" r="10.5"/><circle cx="739" cy="823" r="10.5"/><circle cx="1065" cy="454" r="10.5"/><circle cx="1145" cy="386.1" r="10.5"/><circle cx="898" cy="646" r="10.5"/><circle cx="1344" cy="241" r="10.5"/><circle cx="845" cy="655" r="10.5"/><circle cx="1263" cy="385" r="10.5"/><circle cx="1122" cy="491" r="10.5"/><circle cx="1038" cy="581" r="10.5"/><circle cx="1101" cy="445" r="10.5"/><circle cx="654" cy="812" r="10.5"/><circle cx="728" cy="765" r="10.5"/><circle cx="1210" cy="335" r="10.5"/><circle cx="1007" cy="638" r="10.5"/><circle cx="1012" cy="530" r="10.5"/><circle cx="1311" cy="245" r="10.5"/><circle cx="616.8" cy="822.5" r="10.5"/><circle cx="917" cy="656" r="10.5"/><circle cx="802" cy="697" r="10.5"/><circle cx="702" cy="798" r="10.5"/><circle cx="1045" cy="597" r="10.5"/><circle cx="910" cy="706" r="10.5"/><circle cx="527.3" cy="967.9" r="10.5"/><circle cx="1032" cy="534" r="10.5"/><circle cx="655" cy="848" r="10.5"/><circle cx="883" cy="721" r="10.5"/><circle cx="1060" cy="585" r="10.5"/><circle cx="832" cy="713" r="10.5"/><circle cx="859" cy="739" r="10.5"/><circle cx="712" cy="800" r="10.5"/><circle cx="690.5" cy="888.7" r="10.5"/><circle cx="1066" cy="559" r="10.5"/><circle cx="684" cy="847" r="10.5"/><circle cx="987" cy="545" r="10.5"/><circle cx="1313" cy="287" r="10.5"/><circle cx="623" cy="901" r="10.5"/><circle cx="1100" cy="489" r="10.5"/><circle cx="1324" cy="295" r="10.5"/><circle cx="1147" cy="520" r="10.5"/><circle cx="891" cy="652" r="10.5"/><circle cx="764.8" cy="717.5" r="10.5"/><circle cx="947" cy="544" r="10.5"/><circle cx="1274" cy="353" r="10.5"/><circle cx="1156" cy="396" r="10.5"/><circle cx="845.6" cy="778.9" r="10.5"/><circle cx="1142" cy="461" r="10.5"/><circle cx="666" cy="828" r="10.5"/><circle cx="1132" cy="508" r="10.5"/><circle cx="1176" cy="386" r="10.5"/><circle cx="1012" cy="530" r="10.5"/><circle cx="747" cy="759" r="10.5"/><circle cx="919" cy="587" r="10.5"/><circle cx="1067" cy="480" r="10.5"/><circle cx="971" cy="529" r="10.5"/><circle cx="730" cy="797" r="10.5"/><circle cx="1280" cy="299" r="10.5"/><circle cx="1298" cy="345" r="10.5"/><circle cx="1381" cy="248" r="10.5"/><circle cx="1242" cy="330" r="10.5"/><circle cx="963" cy="612" r="10.5"/><circle cx="921" cy="648" r="10.5"/><circle cx="1058" cy="616" r="10.5"/><circle cx="1048" cy="532" r="10.5"/><circle cx="916.7" cy="707.4" r="10.5"/><circle cx="1074" cy="503" r="10.5"/><circle cx="1031" cy="516" r="10.5"/><circle cx="688.2" cy="744" r="10.5"/><circle cx="676" cy="761.1" r="10.5"/><circle cx="1423.4" cy="168.2" r="10.5"/><circle cx="1141" cy="378" r="10.5"/><circle cx="1061" cy="470" r="10.5"/><circle cx="775" cy="807" r="10.5"/><circle cx="1028" cy="585" r="10.5"/><circle cx="907" cy="593" r="10.5"/><circle cx="954" cy="644" r="10.5"/><circle cx="1260" cy="410" r="10.5"/><circle cx="1416" cy="228" r="10.5"/><circle cx="1389" cy="259" r="10.5"/><circle cx="842" cy="758" r="10.5"/><circle cx="951" cy="538" r="10.5"/><circle cx="825" cy="660" r="10.5"/><circle cx="1082" cy="476" r="10.5"/><circle cx="971" cy="655" r="10.5"/><circle cx="1136" cy="412" r="10.5"/><circle cx="1186" cy="429" r="10.5"/><circle cx="930" cy="607" r="10.5"/><circle cx="1258" cy="373" r="10.5"/><circle cx="635" cy="884" r="10.5"/><circle cx="816.5" cy="644.8" r="10.5"/><circle cx="1015" cy="543" r="10.5"/><circle cx="961" cy="616" r="10.5"/><circle cx="881.1" cy="714.2" r="10.5"/><circle cx="1126" cy="516" r="10.5"/><circle cx="788" cy="734" r="10.5"/><circle cx="833" cy="673" r="10.5"/><circle cx="923" cy="601" r="10.5"/><circle cx="811" cy="734" r="10.5"/><circle cx="955" cy="667" r="10.5"/><circle cx="941" cy="574" r="10.5"/><circle cx="805" cy="773" r="10.5"/><circle cx="683" cy="820" r="10.5"/><circle cx="1051" cy="455" r="10.5"/><circle cx="924" cy="605" r="10.5"/><circle cx="667.9" cy="795" r="10.5"/><circle cx="857" cy="686" r="10.5"/><circle cx="778" cy="760" r="10.5"/><circle cx="913" cy="680" r="10.5"/><circle cx="1119" cy="504" r="10.5"/><circle cx="1037" cy="499" r="10.5"/><circle cx="1124" cy="516" r="10.5"/><circle cx="944" cy="584" r="10.5"/><circle cx="911" cy="610" r="10.5"/><circle cx="1219" cy="417" r="10.5"/><circle cx="1027" cy="620" r="10.5"/><circle cx="1269" cy="265" r="10.5"/><circle cx="1045" cy="581" r="10.5"/><circle cx="973.9" cy="516.8" r="10.5"/><circle cx="1138" cy="395" r="10.5"/><circle cx="1321" cy="230" r="10.5"/><circle cx="710" cy="802" r="10.5"/><circle cx="819.7" cy="795" r="10.5"/><circle cx="1202" cy="466" r="10.5"/><circle cx="983" cy="524" r="10.5"/><circle cx="1380" cy="215" r="10.5"/><circle cx="900" cy="671" r="10.5"/><circle cx="1333" cy="328" r="10.5"/><circle cx="1267" cy="364" r="10.5"/><circle cx="658.2" cy="799.9" r="10.5"/><circle cx="1119.1" cy="389.3" r="10.5"/><circle cx="742" cy="722" r="10.5"/><circle cx="901" cy="579" r="10.5"/><circle cx="675" cy="844" r="10.5"/><circle cx="1354" cy="216" r="10.5"/><circle cx="648" cy="911" r="10.5"/><circle cx="887" cy="724" r="10.5"/><circle cx="972" cy="572" r="10.5"/><circle cx="1039" cy="573" r="10.5"/><circle cx="1247" cy="291" r="10.5"/><circle cx="1272" cy="365" r="10.5"/><circle cx="1385" cy="236" r="10.5"/><circle cx="1296" cy="317" r="10.5"/><circle cx="1031" cy="460" r="10.5"/><circle cx="885" cy="637" r="10.5"/><circle cx="1556.6" cy="85" r="10.5"/><circle cx="1170" cy="427" r="10.5"/><circle cx="679" cy="879" r="10.5"/><circle cx="968" cy="587" r="10.5"/><circle cx="1026" cy="487" r="10.5"/><circle cx="884" cy="685" r="10.5"/><circle cx="1183" cy="451" r="10.5"/><circle cx="1331" cy="274" r="10.5"/><circle cx="1283" cy="244" r="10.5"/><circle cx="1274" cy="346" r="10.5"/><circle cx="706" cy="821" r="10.5"/><circle cx="905" cy="576" r="10.5"/><circle cx="1249" cy="336" r="10.5"/><circle cx="793" cy="748" r="10.5"/><circle cx="1355" cy="269" r="10.5"/><circle cx="874" cy="719" r="10.5"/><circle cx="1040" cy="516" r="10.5"/><circle cx="1132" cy="445" r="10.5"/><circle cx="1104" cy="404" r="10.5"/><circle cx="1246" cy="290" r="10.5"/><circle cx="1245" cy="330" r="10.5"/><circle cx="1320" cy="306" r="10.5"/><circle cx="962" cy="614" r="10.5"/><circle cx="1378" cy="253" r="10.5"/><circle cx="1290" cy="272" r="10.5"/><circle cx="801" cy="709" r="10.5"/><circle cx="943" cy="694" r="10.5"/><circle cx="1272" cy="378" r="10.5"/><circle cx="846" cy="699" r="10.5"/><circle cx="830" cy="746" r="10.5"/><circle cx="1247" cy="348" r="10.5"/><circle cx="1359.9" cy="210.6" r="10.5"/><circle cx="1036" cy="548" r="10.5"/><circle cx="914" cy="635" r="10.5"/><circle cx="745" cy="742" r="10.5"/><circle cx="1194" cy="371" r="10.5"/><circle cx="1007" cy="510" r="10.5"/><circle cx="983" cy="604" r="10.5"/><circle cx="1005" cy="535" r="10.5"/><circle cx="1079" cy="502" r="10.5"/><circle cx="1191" cy="437" r="10.5"/><circle cx="985" cy="618" r="10.5"/><circle cx="1094" cy="535" r="10.5"/><circle cx="930" cy="665" r="10.5"/><circle cx="1378" cy="247" r="10.5"/><circle cx="977" cy="559" r="10.5"/><circle cx="1035" cy="616" r="10.5"/><circle cx="1242" cy="392" r="10.5"/><circle cx="1394.7" cy="209.1" r="10.5"/><circle cx="798" cy="732" r="10.5"/><circle cx="1114" cy="525" r="10.5"/><circle cx="1014" cy="634" r="10.5"/><circle cx="719" cy="755" r="10.5"/><circle cx="773" cy="686.9" r="10.5"/><circle cx="1131" cy="491" r="10.5"/><circle cx="1189" cy="410" r="10.5"/><circle cx="912" cy="679" r="10.5"/><circle cx="839" cy="717" r="10.5"/><circle cx="656" cy="856" r="10.5"/><circle cx="1358" cy="265" r="10.5"/><circle cx="727" cy="759" r="10.5"/><circle cx="637" cy="873" r="10.5"/><circle cx="927" cy="528.5" r="10.5"/><circle cx="1055" cy="557" r="10.5"/><circle cx="1379" cy="249" r="10.5"/><circle cx="1051" cy="599" r="10.5"/><circle cx="902" cy="578.4" r="10.5"/><circle cx="837" cy="672" r="10.5"/><circle cx="994" cy="592" r="10.5"/><circle cx="831" cy="686" r="10.5"/><circle cx="1362" cy="250" r="10.5"/><circle cx="915.8" cy="474.3" r="10.5"/><circle cx="744" cy="749" r="10.5"/><circle cx="1111" cy="543" r="10.5"/><circle cx="1178.3" cy="360.4" r="10.5"/><circle cx="1190" cy="471" r="10.5"/><circle cx="1258" cy="321" r="10.5"/><circle cx="1050" cy="451" r="10.5"/><circle cx="742" cy="767" r="10.5"/><circle cx="1278" cy="259" r="10.5"/><circle cx="1279" cy="392" r="10.5"/><circle cx="582.3" cy="961.4" r="10.5"/><circle cx="899" cy="641" r="10.5"/><circle cx="1383" cy="250" r="10.5"/><circle cx="1258" cy="347" r="10.5"/><circle cx="859" cy="726" r="10.5"/><circle cx="1173" cy="504" r="10.5"/><circle cx="888" cy="693" r="10.5"/><circle cx="858" cy="657" r="10.5"/><circle cx="994" cy="651" r="10.5"/><circle cx="1072.7" cy="644.4" r="10.5"/><circle cx="1163" cy="465" r="10.5"/><circle cx="996" cy="503" r="10.5"/><circle cx="809" cy="765" r="10.5"/><circle cx="1280" cy="259" r="10.5"/><circle cx="959" cy="531" r="10.5"/><circle cx="682" cy="835" r="10.5"/><circle cx="1318" cy="336" r="10.5"/><circle cx="938" cy="650" r="10.5"/><circle cx="928" cy="610" r="10.5"/><circle cx="1064" cy="505" r="10.5"/><circle cx="977" cy="547" r="10.5"/><circle cx="1004" cy="567" r="10.5"/><circle cx="898" cy="687" r="10.5"/><circle cx="1114" cy="394" r="10.5"/><circle cx="1090" cy="556" r="10.5"/><circle cx="945" cy="667" r="10.5"/><circle cx="1304" cy="255" r="10.5"/><circle cx="753" cy="725" r="10.5"/><circle cx="813" cy="758" r="10.5"/><circle cx="933" cy="642" r="10.5"/><circle cx="709" cy="816" r="10.5"/><circle cx="685" cy="867" r="10.5"/><circle cx="834" cy="713" r="10.5"/><circle cx="844" cy="722" r="10.5"/><circle cx="1207" cy="453" r="10.5"/><circle cx="870" cy="713" r="10.5"/><circle cx="640.4" cy="879" r="10.5"/><circle cx="720" cy="815" r="10.5"/><circle cx="590.3" cy="938.8" r="10.5"/><circle cx="1367" cy="270" r="10.5"/><circle cx="1139" cy="384" r="10.5"/><circle cx="1292" cy="364" r="10.5"/><circle cx="843" cy="730" r="10.5"/><circle cx="1316" cy="335" r="10.5"/><circle cx="688" cy="880" r="10.5"/><circle cx="1040" cy="470" r="10.5"/><circle cx="893" cy="660" r="10.5"/><circle cx="1091" cy="566" r="10.5"/><circle cx="1156" cy="398" r="10.5"/><circle cx="1337" cy="232" r="10.5"/><circle cx="894" cy="693" r="10.5"/><circle cx="1211" cy="476" r="10.5"/><circle cx="1044" cy="605" r="10.5"/><circle cx="981" cy="666" r="10.5"/><circle cx="855.3" cy="832.2" r="10.5"/><circle cx="1111" cy="525" r="10.5"/><circle cx="1354" cy="304" r="10.5"/><circle cx="776" cy="723" r="10.5"/><circle cx="680" cy="844" r="10.5"/><circle cx="1042.1" cy="446.7" r="10.5"/><circle cx="1260" cy="269" r="10.5"/><circle cx="799" cy="762" r="10.5"/><circle cx="914" cy="598" r="10.5"/><circle cx="696" cy="837" r="10.5"/><circle cx="850" cy="665" r="10.5"/><circle cx="1311" cy="304" r="10.5"/><circle cx="1130" cy="461" r="10.5"/><circle cx="1160" cy="378" r="10.5"/><circle cx="1346" cy="254" r="10.5"/><circle cx="962" cy="662" r="10.5"/><circle cx="989" cy="638" r="10.5"/><circle cx="1165" cy="470" r="10.5"/><circle cx="959" cy="567" r="10.5"/><circle cx="1067" cy="618" r="10.5"/><circle cx="1072" cy="443" r="10.5"/><circle cx="887.4" cy="433.2" r="10.5"/><circle cx="976" cy="580" r="10.5"/><circle cx="953" cy="633" r="10.5"/><circle cx="1298" cy="286" r="10.5"/><circle cx="1228" cy="338" r="10.5"/><circle cx="1213" cy="409" r="10.5"/><circle cx="1101" cy="519" r="10.5"/><circle cx="784" cy="711" r="10.5"/><circle cx="1015" cy="489" r="10.5"/><circle cx="755.1" cy="870.9" r="10.5"/><circle cx="1106" cy="506" r="10.5"/><circle cx="1287" cy="291" r="10.5"/><circle cx="903" cy="622" r="10.5"/><circle cx="1171.8" cy="547.6" r="10.5"/><circle cx="1049" cy="502" r="10.5"/><circle cx="954" cy="635" r="10.5"/><circle cx="804" cy="715" r="10.5"/><circle cx="1180" cy="407" r="10.5"/><circle cx="853" cy="726" r="10.5"/><circle cx="1164" cy="359" r="10.5"/><circle cx="678.2" cy="938.8" r="10.5"/><circle cx="785" cy="778" r="10.5"/><circle cx="1211" cy="383" r="10.5"/><circle cx="1232.8" cy="307.5" r="10.5"/><circle cx="1272.1" cy="386.1" r="10.5"/><circle cx="949" cy="550" r="10.5"/><circle cx="1108" cy="402" r="10.5"/><circle cx="695" cy="854" r="10.5"/><circle cx="807" cy="718" r="10.5"/><circle cx="1091" cy="557" r="10.5"/><circle cx="1138" cy="394" r="10.5"/><circle cx="761" cy="779" r="10.5"/><circle cx="793" cy="715" r="10.5"/><circle cx="1405.3" cy="254.5" r="10.5"/><circle cx="1191" cy="396" r="10.5"/><circle cx="1283" cy="273" r="10.5"/><circle cx="1164" cy="355" r="10.5"/><circle cx="670" cy="906" r="10.5"/><circle cx="1049" cy="471" r="10.5"/><circle cx="657" cy="904" r="10.5"/><circle cx="1390" cy="223" r="10.5"/><circle cx="974" cy="589" r="10.5"/><circle cx="1086" cy="573" r="10.5"/><circle cx="1304" cy="307" r="10.5"/><circle cx="1290" cy="294" r="10.5"/><circle cx="967" cy="636" r="10.5"/><circle cx="1162" cy="446" r="10.5"/><circle cx="837.5" cy="652.9" r="10.5"/><circle cx="1151" cy="363" r="10.5"/><circle cx="1213" cy="359" r="10.5"/><circle cx="996" cy="656" r="10.5"/><circle cx="1295" cy="340" r="10.5"/></g>
<g clip-path="url(#cl)"><path class="dl" stroke="#111111" stroke-dashoffset="0" d="M401.2 1132.5L1602.5 9.6"/></g>
<g class="p"><circle cx="998" cy="607" r="10.5"/><circle cx="995" cy="571" r="10.5"/><circle cx="1175" cy="369" r="10.5"/><circle cx="981" cy="544" r="10.5"/><circle cx="734" cy="733" r="10.5"/><circle cx="1524.2" cy="213.6" r="10.5"/><circle cx="789" cy="733" r="10.5"/><circle cx="644" cy="908" r="10.5"/><circle cx="999" cy="540" r="10.5"/><circle cx="1193" cy="426" r="10.5"/><circle cx="997" cy="541" r="10.5"/><circle cx="967" cy="618" r="10.5"/><circle cx="984" cy="597" r="10.5"/><circle cx="859" cy="667" r="10.5"/><circle cx="1258" cy="268" r="10.5"/><circle cx="1175" cy="493" r="10.5"/><circle cx="832" cy="775" r="10.5"/><circle cx="835" cy="715" r="10.5"/><circle cx="1112" cy="563" r="10.5"/><circle cx="1319" cy="296" r="10.5"/><circle cx="975" cy="656" r="10.5"/><circle cx="1193" cy="466" r="10.5"/><circle cx="939" cy="651" r="10.5"/><circle cx="914" cy="585" r="10.5"/><circle cx="1030" cy="493" r="10.5"/><circle cx="819" cy="701" r="10.5"/><circle cx="1124" cy="473" r="10.5"/><circle cx="1273" cy="341" r="10.5"/><circle cx="999" cy="608" r="10.5"/><circle cx="995" cy="622" r="10.5"/><circle cx="1190" cy="458" r="10.5"/><circle cx="1140" cy="462" r="10.5"/><circle cx="810" cy="752" r="10.5"/><circle cx="674" cy="851" r="10.5"/><circle cx="1057.5" cy="618" r="10.5"/><circle cx="785" cy="751" r="10.5"/><circle cx="975" cy="666" r="10.5"/><circle cx="1299" cy="262" r="10.5"/><circle cx="1127" cy="488" r="10.5"/><circle cx="1069" cy="479" r="10.5"/><circle cx="884" cy="617" r="10.5"/><circle cx="1009" cy="619" r="10.5"/><circle cx="1325" cy="257" r="10.5"/><circle cx="1154" cy="419" r="10.5"/><circle cx="857" cy="724" r="10.5"/><circle cx="1047" cy="604" r="10.5"/><circle cx="786" cy="812" r="10.5"/><circle cx="1016" cy="612" r="10.5"/><circle cx="1226" cy="394" r="10.5"/><circle cx="827" cy="679" r="10.5"/><circle cx="793" cy="729" r="10.5"/><circle cx="1323" cy="327" r="10.5"/><circle cx="971" cy="663" r="10.5"/><circle cx="1340" cy="287" r="10.5"/><circle cx="895" cy="590" r="10.5"/><circle cx="1327" cy="310" r="10.5"/><circle cx="1282" cy="264" r="10.5"/><circle cx="821" cy="732" r="10.5"/><circle cx="1185" cy="445" r="10.5"/><circle cx="640" cy="910" r="10.5"/><circle cx="1382" cy="286" r="10.5"/><circle cx="1262" cy="316" r="10.5"/><circle cx="1116" cy="431" r="10.5"/><circle cx="1086" cy="531" r="10.5"/><circle cx="655" cy="824" r="10.5"/><circle cx="1161" cy="444" r="10.5"/><circle cx="1345" cy="294" r="10.5"/><circle cx="1386" cy="263" r="10.5"/><circle cx="1030" cy="473" r="10.5"/><circle cx="1025" cy="639" r="10.5"/><circle cx="791" cy="731" r="10.5"/><circle cx="1051" cy="596" r="10.5"/><circle cx="674" cy="861" r="10.5"/><circle cx="1376.5" cy="209.1" r="10.5"/><circle cx="1105" cy="523" r="10.5"/><circle cx="1166" cy="394" r="10.5"/><circle cx="915" cy="606" r="10.5"/><circle cx="733" cy="813" r="10.5"/><circle cx="1356" cy="315" r="10.5"/><circle cx="1068" cy="592" r="10.5"/><circle cx="1222" cy="369" r="10.5"/><circle cx="1234" cy="446" r="10.5"/><circle cx="693" cy="800" r="10.5"/><circle cx="801" cy="709" r="10.5"/><circle cx="832" cy="674" r="10.5"/><circle cx="888" cy="715" r="10.5"/><circle cx="689" cy="866" r="10.5"/><circle cx="654" cy="858" r="10.5"/><circle cx="1019" cy="619" r="10.5"/><circle cx="749" cy="739" r="10.5"/><circle cx="1129" cy="500" r="10.5"/><circle cx="797" cy="754" r="10.5"/><circle cx="1102" cy="458" r="10.5"/><circle cx="1244.3" cy="278.1" r="10.5"/><circle cx="846" cy="687" r="10.5"/><circle cx="877" cy="620" r="10.5"/><circle cx="989" cy="666" r="10.5"/><circle cx="722" cy="797" r="10.5"/><circle cx="1094" cy="431" r="10.5"/><circle cx="818" cy="679" r="10.5"/><circle cx="1050" cy="592" r="10.5"/><circle cx="735" cy="815" r="10.5"/><circle cx="1194" cy="440" r="10.5"/><circle cx="1130" cy="506" r="10.5"/><circle cx="1188" cy="354" r="10.5"/><circle cx="1130" cy="502" r="10.5"/><circle cx="713" cy="866" r="10.5"/><circle cx="1408" cy="221" r="10.5"/><circle cx="1385" cy="265" r="10.5"/><circle cx="1045" cy="561" r="10.5"/><circle cx="932" cy="607" r="10.5"/><circle cx="1289" cy="312" r="10.5"/><circle cx="1288" cy="296" r="10.5"/><circle cx="1150" cy="481" r="10.5"/><circle cx="1320" cy="225" r="10.5"/><circle cx="1155" cy="477" r="10.5"/><circle cx="1188" cy="405" r="10.5"/><circle cx="852" cy="693" r="10.5"/><circle cx="1184" cy="390" r="10.5"/><circle cx="1034" cy="478" r="10.5"/><circle cx="1186" cy="364" r="10.5"/><circle cx="728" cy="835" r="10.5"/><circle cx="939" cy="541" r="10.5"/><circle cx="1367" cy="245" r="10.5"/><circle cx="1004.7" cy="676.6" r="10.5"/><circle cx="1153" cy="508" r="10.5"/><circle cx="1278" cy="356" r="10.5"/><circle cx="1248.1" cy="423" r="10.5"/><circle cx="1107" cy="447" r="10.5"/><circle cx="1092" cy="520" r="10.5"/><circle cx="956" cy="607" r="10.5"/><circle cx="643" cy="883" r="10.5"/><circle cx="740" cy="820" r="10.5"/><circle cx="1224" cy="323" r="10.5"/><circle cx="1092" cy="527" r="10.5"/><circle cx="1181" cy="387" r="10.5"/><circle cx="1305" cy="270" r="10.5"/><circle cx="1334.7" cy="193.3" r="10.5"/><circle cx="828" cy="709" r="10.5"/><circle cx="1128" cy="451" r="10.5"/><circle cx="1110.3" cy="594.5" r="10.5"/><circle cx="858" cy="628" r="10.5"/><circle cx="1306" cy="265" r="10.5"/><circle cx="1371" cy="221" r="10.5"/><circle cx="936" cy="609" r="10.5"/><circle cx="980" cy="556" r="10.5"/><circle cx="1349" cy="288" r="10.5"/><circle cx="927" cy="651" r="10.5"/><circle cx="846" cy="757" r="10.5"/><circle cx="973" cy="534" r="10.5"/><circle cx="812" cy="718" r="10.5"/><circle cx="483.7" cy="1008.3" r="10.5"/><circle cx="968" cy="615" r="10.5"/><circle cx="676.9" cy="914.6" r="10.5"/><circle cx="1186" cy="382" r="10.5"/><circle cx="960" cy="613" r="10.5"/><circle cx="1292" cy="345" r="10.5"/><circle cx="1233" cy="408" r="10.5"/><circle cx="1161" cy="380" r="10.5"/><circle cx="929" cy="594" r="10.5"/><circle cx="1042" cy="584" r="10.5"/><circle cx="803" cy="719" r="10.5"/><circle cx="1374" cy="246" r="10.5"/><circle cx="677" cy="819" r="10.5"/><circle cx="726" cy="839" r="10.5"/><circle cx="1139" cy="440" r="10.5"/><circle cx="1091" cy="575" r="10.5"/><circle cx="492.4" cy="1039.9" r="10.5"/><circle cx="1076" cy="433" r="10.5"/><circle cx="826" cy="691" r="10.5"/><circle cx="1364" cy="290" r="10.5"/><circle cx="941" cy="646" r="10.5"/><circle cx="788" cy="691" r="10.5"/><circle cx="1124" cy="534" r="10.5"/><circle cx="1051" cy="436" r="10.5"/><circle cx="944" cy="682" r="10.5"/><circle cx="848" cy="726" r="10.5"/><circle cx="1202" cy="437" r="10.5"/><circle cx="1272" cy="266" r="10.5"/><circle cx="1267" cy="356" r="10.5"/><circle cx="787" cy="756" r="10.5"/><circle cx="1361.4" cy="225.7" r="10.5"/><circle cx="1166" cy="442" r="10.5"/><circle cx="738" cy="738" r="10.5"/><circle cx="1184" cy="366" r="10.5"/><circle cx="1260" cy="292.3" r="10.5"/><circle cx="1048" cy="489" r="10.5"/><circle cx="1101" cy="502" r="10.5"/><circle cx="990" cy="588" r="10.5"/><circle cx="839" cy="755" r="10.5"/><circle cx="1297" cy="341" r="10.5"/><circle cx="662" cy="874" r="10.5"/><circle cx="799" cy="771" r="10.5"/><circle cx="1185" cy="335" r="10.5"/><circle cx="1004" cy="479" r="10.5"/><circle cx="997" cy="635" r="10.5"/><circle cx="1314" cy="330" r="10.5"/><circle cx="1212.5" cy="296.9" r="10.5"/><circle cx="882" cy="644" r="10.5"/><circle cx="1098" cy="569" r="10.5"/><circle cx="856" cy="710" r="10.5"/><circle cx="1259" cy="390" r="10.5"/><circle cx="980" cy="533" r="10.5"/><circle cx="1209" cy="357" r="10.5"/><circle cx="1288" cy="261" r="10.5"/><circle cx="669" cy="866" r="10.5"/><circle cx="1037" cy="555" r="10.5"/><circle cx="801" cy="762" r="10.5"/><circle cx="1246" cy="284" r="10.5"/><circle cx="747" cy="677.1" r="10.5"/><circle cx="1256" cy="337" r="10.5"/><circle cx="1085" cy="592" r="10.5"/><circle cx="1016" cy="574" r="10.5"/><circle cx="650" cy="903" r="10.5"/><circle cx="677" cy="799" r="10.5"/><circle cx="1060" cy="443" r="10.5"/><circle cx="1095" cy="424" r="10.5"/><circle cx="1181.3" cy="480" r="10.5"/><circle cx="1232" cy="326" r="10.5"/><circle cx="1026" cy="551" r="10.5"/><circle cx="726" cy="764" r="10.5"/><circle cx="1058" cy="547" r="10.5"/><circle cx="930" cy="671" r="10.5"/><circle cx="856" cy="688" r="10.5"/><circle cx="739" cy="740.1" r="10.5"/><circle cx="1399" cy="252" r="10.5"/><circle cx="1052" cy="514" r="10.5"/><circle cx="734" cy="837" r="10.5"/><circle cx="1095" cy="464" r="10.5"/><circle cx="1156" cy="482" r="10.5"/><circle cx="978" cy="537" r="10.5"/><circle cx="749" cy="809" r="10.5"/><circle cx="1030" cy="629" r="10.5"/><circle cx="913" cy="607" r="10.5"/><circle cx="1176" cy="383" r="10.5"/><circle cx="1338" cy="274" r="10.5"/><circle cx="770" cy="721" r="10.5"/><circle cx="1362" cy="223" r="10.5"/><circle cx="1054" cy="538" r="10.5"/><circle cx="1124" cy="475" r="10.5"/><circle cx="1031.1" cy="450.8" r="10.5"/><circle cx="993.8" cy="450.2" r="10.5"/><circle cx="1104.4" cy="584.3" r="10.5"/><circle cx="1333" cy="315" r="10.5"/><circle cx="653" cy="846" r="10.5"/><circle cx="1039" cy="602" r="10.5"/><circle cx="905" cy="649" r="10.5"/><circle cx="925" cy="686" r="10.5"/><circle cx="1329" cy="237" r="10.5"/><circle cx="1049" cy="533" r="10.5"/><circle cx="1280" cy="259" r="10.5"/><circle cx="1264" cy="353" r="10.5"/><circle cx="670" cy="877" r="10.5"/><circle cx="477.2" cy="1036.4" r="10.5"/><circle cx="1096" cy="514" r="10.5"/><circle cx="1076" cy="494" r="10.5"/><circle cx="1110" cy="407" r="10.5"/><circle cx="1385" cy="264" r="10.5"/><circle cx="1176" cy="354" r="10.5"/><circle cx="1157" cy="480" r="10.5"/><circle cx="788" cy="739" r="10.5"/><circle cx="1152" cy="502" r="10.5"/><circle cx="614" cy="891" r="10.5"/><circle cx="1054" cy="487" r="10.5"/><circle cx="984.5" cy="681.9" r="10.5"/><circle cx="1035" cy="613" r="10.5"/><circle cx="930" cy="642" r="10.5"/><circle cx="736.4" cy="617.3" r="10.5"/><circle cx="615.5" cy="836.4" r="10.5"/><circle cx="1150" cy="460" r="10.5"/><circle cx="1364.4" cy="259" r="10.5"/><circle cx="1378" cy="296" r="10.5"/><circle cx="814" cy="775" r="10.5"/><circle cx="971" cy="609" r="10.5"/><circle cx="1247" cy="285" r="10.5"/><circle cx="1191" cy="371" r="10.5"/><circle cx="642" cy="901" r="10.5"/><circle cx="781" cy="765" r="10.5"/><circle cx="1294" cy="317" r="10.5"/><circle cx="1257" cy="404" r="10.5"/><circle cx="1361" cy="207" r="10.5"/><circle cx="993" cy="632" r="10.5"/><circle cx="737" cy="766" r="10.5"/><circle cx="674" cy="885" r="10.5"/><circle cx="896" cy="720" r="10.5"/><circle cx="1223" cy="450" r="10.5"/><circle cx="877.1" cy="412.7" r="10.5"/><circle cx="1148" cy="514" r="10.5"/><circle cx="1106" cy="445" r="10.5"/><circle cx="1041" cy="605" r="10.5"/><circle cx="661" cy="852" r="10.5"/><circle cx="661" cy="869" r="10.5"/><circle cx="1190" cy="361" r="10.5"/><circle cx="1037" cy="597" r="10.5"/><circle cx="1441.6" cy="174.3" r="10.5"/><circle cx="1166.2" cy="334.7" r="10.5"/><circle cx="979" cy="668" r="10.5"/><circle cx="1325" cy="241" r="10.5"/><circle cx="1301" cy="250" r="10.5"/><circle cx="1161" cy="512" r="10.5"/><circle cx="902" cy="642" r="10.5"/><circle cx="706" cy="832" r="10.5"/><circle cx="923" cy="689" r="10.5"/><circle cx="1295" cy="326" r="10.5"/><circle cx="684" cy="830" r="10.5"/><circle cx="949" cy="692.8" r="10.5"/><circle cx="1115" cy="387" r="10.5"/><circle cx="988" cy="544" r="10.5"/><circle cx="596.8" cy="951.7" r="10.5"/><circle cx="879" cy="625" r="10.5"/><circle cx="1007" cy="654" r="10.5"/><circle cx="962" cy="666" r="10.5"/><circle cx="849" cy="732" r="10.5"/><circle cx="993" cy="660.5" r="10.5"/><circle cx="792.3" cy="677.1" r="10.5"/><circle cx="1333" cy="264" r="10.5"/><circle cx="1003" cy="651" r="10.5"/><circle cx="824" cy="744" r="10.5"/><circle cx="910" cy="626" r="10.5"/><circle cx="758" cy="820" r="10.5"/><circle cx="914" cy="644" r="10.5"/><circle cx="806" cy="744" r="10.5"/><circle cx="1298" cy="319" r="10.5"/><circle cx="948" cy="682" r="10.5"/><circle cx="1060" cy="505" r="10.5"/><circle cx="1115" cy="553" r="10.5"/><circle cx="978" cy="654" r="10.5"/><circle cx="686" cy="779" r="10.5"/><circle cx="908" cy="579" r="10.5"/><circle cx="1001" cy="636" r="10.5"/><circle cx="802" cy="729" r="10.5"/><circle cx="977" cy="642" r="10.5"/><circle cx="719" cy="845" r="10.5"/><circle cx="1262" cy="350" r="10.5"/><circle cx="790" cy="725" r="10.5"/><circle cx="931" cy="680" r="10.5"/><circle cx="688" cy="879" r="10.5"/><circle cx="669" cy="864" r="10.5"/><circle cx="1399.2" cy="180.3" r="10.5"/><circle cx="1124" cy="526" r="10.5"/><circle cx="575.8" cy="976" r="10.5"/><circle cx="1365" cy="253" r="10.5"/><circle cx="1250" cy="412" r="10.5"/><circle cx="1308" cy="279" r="10.5"/><circle cx="677" cy="833" r="10.5"/><circle cx="1255" cy="311" r="10.5"/><circle cx="1320" cy="233" r="10.5"/><circle cx="1314" cy="250" r="10.5"/><circle cx="759" cy="766" r="10.5"/><circle cx="935" cy="555" r="10.5"/><circle cx="713" cy="793" r="10.5"/><circle cx="775" cy="727" r="10.5"/><circle cx="896" cy="587" r="10.5"/><circle cx="1015" cy="573" r="10.5"/><circle cx="929" cy="678" r="10.5"/><circle cx="1312" cy="224" r="10.5"/><circle cx="733" cy="831" r="10.5"/><circle cx="1285" cy="286" r="10.5"/><circle cx="758" cy="808" r="10.5"/><circle cx="1248" cy="401" r="10.5"/><circle cx="1231" cy="331" r="10.5"/><circle cx="1084" cy="519" r="10.5"/><circle cx="824" cy="729" r="10.5"/><circle cx="880" cy="673" r="10.5"/><circle cx="1153" cy="453" r="10.5"/><circle cx="995" cy="652" r="10.5"/><circle cx="1169.2" cy="501.2" r="10.5"/><circle cx="1175" cy="350" r="10.5"/><circle cx="1036" cy="584" r="10.5"/><circle cx="722" cy="794" r="10.5"/><circle cx="1359" cy="257" r="10.5"/><circle cx="875" cy="671" r="10.5"/><circle cx="808" cy="704" r="10.5"/><circle cx="1260" cy="253" r="10.5"/><circle cx="1396" cy="239" r="10.5"/><circle cx="1390.1" cy="284.8" r="10.5"/><circle cx="804" cy="724" r="10.5"/><circle cx="684" cy="858" r="10.5"/><circle cx="870" cy="658" r="10.5"/><circle cx="1142" cy="436" r="10.5"/><circle cx="1360" cy="237" r="10.5"/><circle cx="778" cy="776" r="10.5"/><circle cx="861" cy="707" r="10.5"/><circle cx="1302" cy="292" r="10.5"/><circle cx="996" cy="571" r="10.5"/><circle cx="946" cy="673" r="10.5"/><circle cx="770" cy="813" r="10.5"/><circle cx="1279" cy="363" r="10.5"/><circle cx="970" cy="515" r="10.5"/><circle cx="1033" cy="510" r="10.5"/><circle cx="777.7" cy="654.5" r="10.5"/><circle cx="662" cy="846" r="10.5"/><circle cx="947" cy="701" r="10.5"/><circle cx="1275" cy="269" r="10.5"/><circle cx="1066" cy="430" r="10.5"/><circle cx="931" cy="604" r="10.5"/><circle cx="721" cy="754" r="10.5"/><circle cx="730" cy="771" r="10.5"/><circle cx="776" cy="753" r="10.5"/><circle cx="1227" cy="359" r="10.5"/><circle cx="1209" cy="339" r="10.5"/><circle cx="1215" cy="461" r="10.5"/><circle cx="1111" cy="424" r="10.5"/><circle cx="1270" cy="370" r="10.5"/><circle cx="1053" cy="533" r="10.5"/><circle cx="1126" cy="393" r="10.5"/><circle cx="1411.3" cy="171.3" r="10.5"/><circle cx="787.7" cy="681" r="10.5"/><circle cx="850" cy="732" r="10.5"/><circle cx="656" cy="858" r="10.5"/><circle cx="1397" cy="261" r="10.5"/><circle cx="1320" cy="324" r="10.5"/><circle cx="702" cy="817" r="10.5"/><circle cx="1197" cy="369" r="10.5"/><circle cx="971" cy="579" r="10.5"/></g>
<g clip-path="url(#cl)">
<path class="dl" stroke="#314da0" stroke-dashoffset="0" d="M401.2 1079.3L1602.5 -43.7"/>
<path class="dl" stroke="#314da0" stroke-dashoffset="-3.8" d="M457.3 1133.5L1602.5 63.1"/>
<path class="dl" stroke="#357f3e" stroke-dashoffset="6.6" d="M401.2 1025.3L1602.5 -99.0"/>
<path class="dl" stroke="#357f3e" stroke-dashoffset="0" d="M513.4 1133.8L1602.5 117.5"/>
</g>
<rect class="ax" x="400.5" y="29.5" width="1181.0" height="1106.0"/>
<path class="tk" d="M457.3 1134.5v-16.5M401.5 1083.3h16.5M681.9 1134.5v-16.5M401.5 872.9h16.5M906.4 1134.5v-16.5M401.5 662.6h16.5M1131.0 1134.5v-16.5M401.5 452.2h16.5M1355.5 1134.5v-16.5M401.5 241.9h16.5"/>
<text x="378.0" y="1099.5" text-anchor="end">1400</text>
<text x="378.0" y="889.1" text-anchor="end">1420</text>
<text x="378.0" y="678.8" text-anchor="end">1440</text>
<text x="378.0" y="468.4" text-anchor="end">1460</text>
<text x="378.0" y="258.1" text-anchor="end">1480</text>
<text x="378.0" y="47.7" text-anchor="end">1500</text>
<text x="457.9" y="1195.8" text-anchor="middle">1400</text>
<text x="682.2" y="1195.8" text-anchor="middle">1420</text>
<text x="906.4" y="1195.8" text-anchor="middle">1440</text>
<text x="1130.6" y="1195.8" text-anchor="middle">1460</text>
<text x="1354.9" y="1195.8" text-anchor="middle">1480</text>
<text x="1579.1" y="1195.8" text-anchor="middle">1500</text>
<text x="813.8" y="1280.4">Actual value/<tspan class="c" dx="4">℃</tspan></text>
<text transform="translate(224.8,788.6) rotate(-90)">Predicted value/<tspan class="c" dx="4">℃</tspan></text>
<text x="418.5" y="88.8">(c)</text>
<circle cx="565.6" cy="77.8" r="11.3" fill="#aadcc5" stroke="#141414" stroke-width="2.8"/>
<text x="622.3" y="92.2">DLSTM</text>
</g>
<g transform="translate(1532.1,1315.0)">
<g class="p"><circle cx="1384" cy="243" r="10.5"/><circle cx="1059" cy="457" r="10.5"/><circle cx="1258" cy="356" r="10.5"/><circle cx="1158" cy="412" r="10.5"/><circle cx="1133" cy="496" r="10.5"/><circle cx="860" cy="721" r="10.5"/><circle cx="741.1" cy="860.2" r="10.5"/><circle cx="1380" cy="212.3" r="10.5"/><circle cx="695" cy="808" r="10.5"/><circle cx="1144.3" cy="366.5" r="10.5"/><circle cx="1298" cy="244" r="10.5"/><circle cx="1056" cy="475" r="10.5"/><circle cx="1080" cy="493" r="10.5"/><circle cx="1161" cy="505" r="10.5"/><circle cx="1102" cy="532" r="10.5"/><circle cx="1247" cy="376" r="10.5"/><circle cx="972" cy="566" r="10.5"/><circle cx="907" cy="660" r="10.5"/><circle cx="1036" cy="504" r="10.5"/><circle cx="1209" cy="383" r="10.5"/><circle cx="1114" cy="538" r="10.5"/><circle cx="828" cy="657" r="10.5"/><circle cx="979" cy="635" r="10.5"/><circle cx="945" cy="551" r="10.5"/><circle cx="1244" cy="350" r="10.5"/><circle cx="963" cy="617" r="10.5"/><circle cx="654" cy="852" r="10.5"/><circle cx="761" cy="799" r="10.5"/><circle cx="871" cy="665" r="10.5"/><circle cx="906" cy="578" r="10.5"/><circle cx="799" cy="742" r="10.5"/><circle cx="1370" cy="234" r="10.5"/><circle cx="1346.5" cy="314.1" r="10.5"/><circle cx="945" cy="557" r="10.5"/><circle cx="1116" cy="467" r="10.5"/><circle cx="1077" cy="517" r="10.5"/><circle cx="1121" cy="477" r="10.5"/><circle cx="1325" cy="325" r="10.5"/><circle cx="771" cy="730" r="10.5"/><circle cx="1003" cy="561" r="10.5"/><circle cx="997" cy="548" r="10.5"/><circle cx="1004" cy="635" r="10.5"/><circle cx="1164" cy="388" r="10.5"/><circle cx="1232" cy="422" r="10.5"/><circle cx="855" cy="694" r="10.5"/><circle cx="1262" cy="370" r="10.5"/><circle cx="1032" cy="601" r="10.5"/><circle cx="862" cy="733" r="10.5"/><circle cx="1053" cy="479" r="10.5"/><circle cx="1284" cy="279" r="10.5"/><circle cx="1251.9" cy="378.1" r="10.5"/><circle cx="1230" cy="401" r="10.5"/><circle cx="692" cy="812" r="10.5"/><circle cx="929" cy="668" r="10.5"/><circle cx="933" cy="650" r="10.5"/><circle cx="1132.7" cy="533.9" r="10.5"/><circle cx="1005" cy="568" r="10.5"/><circle cx="940" cy="608" r="10.5"/><circle cx="824" cy="775" r="10.5"/><circle cx="848" cy="764" r="10.5"/><circle cx="804" cy="705" r="10.5"/><circle cx="1142" cy="474" r="10.5"/><circle cx="1278" cy="339" r="10.5"/><circle cx="1385" cy="242" r="10.5"/><circle cx="947" cy="593" r="10.5"/><circle cx="917" cy="691" r="10.5"/><circle cx="1234" cy="342" r="10.5"/><circle cx="1104" cy="458" r="10.5"/><circle cx="871" cy="675" r="10.5"/><circle cx="642.2" cy="830.6" r="10.5"/><circle cx="826" cy="803" r="10.5"/><circle cx="912" cy="717" r="10.5"/><circle cx="1090" cy="547" r="10.5"/><circle cx="775" cy="798" r="10.5"/><circle cx="885" cy="689" r="10.5"/><circle cx="844" cy="712" r="10.5"/><circle cx="711" cy="823" r="10.5"/><circle cx="899" cy="708" r="10.5"/><circle cx="1216" cy="367" r="10.5"/><circle cx="890" cy="725" r="10.5"/><circle cx="1287" cy="350" r="10.5"/><circle cx="767" cy="810" r="10.5"/><circle cx="1261" cy="379" r="10.5"/><circle cx="908" cy="636" r="10.5"/><circle cx="776" cy="738" r="10.5"/><circle cx="1042" cy="617" r="10.5"/><circle cx="1254" cy="371" r="10.5"/><circle cx="731" cy="832" r="10.5"/><circle cx="739" cy="777" r="10.5"/><circle cx="1207" cy="408" r="10.5"/><circle cx="1442.5" cy="168.1" r="10.5"/><circle cx="974" cy="656" r="10.5"/><circle cx="1257" cy="372" r="10.5"/><circle cx="685" cy="880" r="10.5"/><circle cx="688" cy="820" r="10.5"/><circle cx="1315.4" cy="383.4" r="10.5"/><circle cx="935" cy="583" r="10.5"/><circle cx="946" cy="613" r="10.5"/><circle cx="934" cy="629" r="10.5"/><circle cx="1148" cy="400" r="10.5"/><circle cx="759" cy="806" r="10.5"/><circle cx="964" cy="537" r="10.5"/><circle cx="1204" cy="344" r="10.5"/><circle cx="1187" cy="479" r="10.5"/><circle cx="724" cy="800" r="10.5"/><circle cx="850" cy="657" r="10.5"/><circle cx="608.3" cy="777.9" r="10.5"/><circle cx="857" cy="661" r="10.5"/><circle cx="1103" cy="496" r="10.5"/><circle cx="1317" cy="332" r="10.5"/><circle cx="890" cy="704" r="10.5"/><circle cx="1107" cy="559" r="10.5"/><circle cx="1031.7" cy="622.4" r="10.5"/><circle cx="905" cy="645" r="10.5"/><circle cx="1112" cy="430" r="10.5"/><circle cx="836" cy="775" r="10.5"/><circle cx="661" cy="898" r="10.5"/><circle cx="1250" cy="349" r="10.5"/><circle cx="1243" cy="411" r="10.5"/><circle cx="1214" cy="410" r="10.5"/><circle cx="1303" cy="332" r="10.5"/><circle cx="891" cy="612" r="10.5"/><circle cx="1185" cy="437" r="10.5"/><circle cx="1098" cy="451" r="10.5"/><circle cx="1090" cy="493" r="10.5"/><circle cx="1068" cy="429" r="10.5"/><circle cx="1317" cy="235" r="10.5"/><circle cx="1378" cy="236" r="10.5"/><circle cx="794" cy="762" r="10.5"/><circle cx="1303" cy="239" r="10.5"/><circle cx="880" cy="669" r="10.5"/><circle cx="1076.7" cy="412.7" r="10.5"/><circle cx="1180" cy="482" r="10.5"/><circle cx="1218" cy="419" r="10.5"/><circle cx="1311" cy="258" r="10.5"/><circle cx="903" cy="575" r="10.5"/><circle cx="1023" cy="509" r="10.5"/><circle cx="991" cy="592" r="10.5"/><circle cx="917" cy="652" r="10.5"/><circle cx="702" cy="886" r="10.5"/><circle cx="1107.8" cy="592.9" r="10.5"/><circle cx="1224" cy="394" r="10.5"/><circle cx="1143" cy="379" r="10.5"/><circle cx="1311" cy="242" r="10.5"/><circle cx="684.2" cy="801.5" r="10.5"/><circle cx="743" cy="838" r="10.5"/><circle cx="1156" cy="496" r="10.5"/><circle cx="1051" cy="479" r="10.5"/><circle cx="1042" cy="559" r="10.5"/><circle cx="1017" cy="510" r="10.5"/><circle cx="1378.5" cy="232.7" r="10.5"/><circle cx="1035" cy="545" r="10.5"/><circle cx="718" cy="806" r="10.5"/><circle cx="1177" cy="366" r="10.5"/><circle cx="710" cy="871" r="10.5"/><circle cx="1158" cy="439" r="10.5"/><circle cx="910" cy="683" r="10.5"/><circle cx="884" cy="700" r="10.5"/><circle cx="1178" cy="434" r="10.5"/><circle cx="999" cy="560" r="10.5"/><circle cx="888.1" cy="463.3" r="10.5"/><circle cx="477.4" cy="1043.8" r="10.5"/><circle cx="1083" cy="459" r="10.5"/><circle cx="1166" cy="460" r="10.5"/><circle cx="1110" cy="467" r="10.5"/><circle cx="750" cy="847" r="10.5"/><circle cx="711.7" cy="877.4" r="10.5"/><circle cx="1198" cy="342" r="10.5"/><circle cx="1024" cy="525" r="10.5"/><circle cx="792" cy="742" r="10.5"/><circle cx="541.1" cy="935.6" r="10.5"/><circle cx="1003" cy="528" r="10.5"/><circle cx="1113" cy="542" r="10.5"/><circle cx="1258" cy="340" r="10.5"/><circle cx="862" cy="691" r="10.5"/><circle cx="1023" cy="549" r="10.5"/><circle cx="1078" cy="440" r="10.5"/><circle cx="944" cy="557" r="10.5"/><circle cx="719" cy="817" r="10.5"/><circle cx="1194" cy="371" r="10.5"/><circle cx="698" cy="837" r="10.5"/><circle cx="758" cy="804" r="10.5"/><circle cx="1157" cy="483" r="10.5"/><circle cx="1127" cy="410" r="10.5"/><circle cx="886" cy="627" r="10.5"/><circle cx="855" cy="673" r="10.5"/><circle cx="663" cy="868" r="10.5"/><circle cx="828" cy="781" r="10.5"/><circle cx="722.5" cy="754.5" r="10.5"/><circle cx="542.1" cy="951.7" r="10.5"/><circle cx="1064" cy="562" r="10.5"/><circle cx="635.8" cy="903.3" r="10.5"/><circle cx="1001" cy="543" r="10.5"/><circle cx="1164" cy="381" r="10.5"/><circle cx="1122" cy="545" r="10.5"/><circle cx="671" cy="868" r="10.5"/><circle cx="816" cy="767" r="10.5"/><circle cx="929" cy="651" r="10.5"/><circle cx="1119" cy="558" r="10.5"/><circle cx="1284" cy="290" r="10.5"/><circle cx="796" cy="724" r="10.5"/><circle cx="1210" cy="373" r="10.5"/><circle cx="982" cy="510" r="10.5"/><circle cx="937" cy="635" r="10.5"/><circle cx="829" cy="744" r="10.5"/><circle cx="905" cy="674" r="10.5"/><circle cx="1101" cy="465" r="10.5"/><circle cx="849" cy="659" r="10.5"/><circle cx="690" cy="869" r="10.5"/><circle cx="1016" cy="511" r="10.5"/><circle cx="943" cy="629" r="10.5"/><circle cx="1078" cy="566" r="10.5"/><circle cx="783" cy="757" r="10.5"/><circle cx="985.1" cy="687.7" r="10.5"/><circle cx="753" cy="727" r="10.5"/><circle cx="1414.9" cy="205" r="10.5"/><circle cx="703" cy="810" r="10.5"/><circle cx="1202" cy="416" r="10.5"/><circle cx="1212" cy="441" r="10.5"/><circle cx="896" cy="686" r="10.5"/><circle cx="1294" cy="275" r="10.5"/><circle cx="1142" cy="409" r="10.5"/><circle cx="1080" cy="506" r="10.5"/><circle cx="831" cy="680" r="10.5"/><circle cx="1182" cy="474" r="10.5"/><circle cx="718" cy="826" r="10.5"/><circle cx="1232" cy="321" r="10.5"/><circle cx="704" cy="781" r="10.5"/><circle cx="850" cy="644" r="10.5"/><circle cx="1308" cy="255" r="10.5"/><circle cx="1053" cy="514" r="10.5"/><circle cx="892" cy="684" r="10.5"/><circle cx="1046" cy="511" r="10.5"/><circle cx="964" cy="621" r="10.5"/><circle cx="739" cy="804" r="10.5"/><circle cx="1131" cy="523" r="10.5"/><circle cx="752" cy="762" r="10.5"/><circle cx="1217" cy="408" r="10.5"/><circle cx="707" cy="816" r="10.5"/><circle cx="693" cy="870" r="10.5"/><circle cx="1312" cy="302" r="10.5"/><circle cx="1188" cy="391" r="10.5"/><circle cx="1202" cy="448" r="10.5"/><circle cx="738" cy="742.1" r="10.5"/><circle cx="1194" cy="443" r="10.5"/><circle cx="889" cy="658" r="10.5"/><circle cx="947" cy="692" r="10.5"/><circle cx="606.7" cy="790.2" r="10.5"/><circle cx="974" cy="648" r="10.5"/><circle cx="1310" cy="287" r="10.5"/><circle cx="1006" cy="496" r="10.5"/><circle cx="819" cy="731" r="10.5"/><circle cx="661" cy="854" r="10.5"/><circle cx="1277" cy="361" r="10.5"/><circle cx="1060" cy="494" r="10.5"/><circle cx="820" cy="769" r="10.5"/><circle cx="804" cy="751" r="10.5"/><circle cx="1189" cy="372" r="10.5"/><circle cx="1034" cy="549" r="10.5"/><circle cx="669" cy="882" r="10.5"/><circle cx="972" cy="609" r="10.5"/><circle cx="1221" cy="354" r="10.5"/><circle cx="1198" cy="430" r="10.5"/><circle cx="884" cy="633" r="10.5"/><circle cx="1160" cy="487" r="10.5"/><circle cx="922" cy="608" r="10.5"/><circle cx="1147" cy="448" r="10.5"/><circle cx="1081" cy="535" r="10.5"/><circle cx="953" cy="628" r="10.5"/><circle cx="1123" cy="448" r="10.5"/><circle cx="755" cy="804" r="10.5"/><circle cx="733" cy="857" r="10.5"/><circle cx="976" cy="614" r="10.5"/><circle cx="1245" cy="310" r="10.5"/><circle cx="777" cy="770" r="10.5"/><circle cx="999" cy="539" r="10.5"/><circle cx="1239" cy="390" r="10.5"/><circle cx="1303" cy="314" r="10.5"/><circle cx="1115" cy="473" r="10.5"/><circle cx="1202" cy="350" r="10.5"/><circle cx="1279" cy="290" r="10.5"/><circle cx="1083" cy="510" r="10.5"/><circle cx="746" cy="842" r="10.5"/><circle cx="1030" cy="501" r="10.5"/><circle cx="1324.7" cy="317" r="10.5"/><circle cx="931" cy="556" r="10.5"/><circle cx="987" cy="612" r="10.5"/><circle cx="940" cy="559" r="10.5"/><circle cx="1319" cy="282" r="10.5"/><circle cx="830" cy="739" r="10.5"/><circle cx="561.5" cy="925.9" r="10.5"/><circle cx="1132.7" cy="645.8" r="10.5"/><circle cx="1012" cy="604" r="10.5"/><circle cx="674" cy="814" r="10.5"/><circle cx="1080" cy="558" r="10.5"/><circle cx="849" cy="747" r="10.5"/><circle cx="823" cy="694" r="10.5"/><circle cx="702" cy="779" r="10.5"/><circle cx="1131.1" cy="586.7" r="10.5"/><circle cx="781" cy="797" r="10.5"/><circle cx="1318" cy="269" r="10.5"/><circle cx="1206" cy="469" r="10.5"/><circle cx="1082" cy="437" r="10.5"/><circle cx="1032" cy="518" r="10.5"/><circle cx="1073" cy="529" r="10.5"/><circle cx="892" cy="709" r="10.5"/><circle cx="1044" cy="575" r="10.5"/><circle cx="1025" cy="620" r="10.5"/><circle cx="1180" cy="457" r="10.5"/><circle cx="1340" cy="257" r="10.5"/><circle cx="1018" cy="602" r="10.5"/><circle cx="1337" cy="301" r="10.5"/><circle cx="1428" cy="153.5" r="10.5"/><circle cx="1332" cy="235" r="10.5"/><circle cx="1101" cy="561" r="10.5"/><circle cx="1229" cy="381" r="10.5"/><circle cx="958" cy="577" r="10.5"/><circle cx="1295" cy="327" r="10.5"/><circle cx="1304" cy="281" r="10.5"/><circle cx="1016" cy="629" r="10.5"/><circle cx="1039" cy="459" r="10.5"/><circle cx="967" cy="603" r="10.5"/><circle cx="1197" cy="407" r="10.5"/><circle cx="1140" cy="474" r="10.5"/><circle cx="1075" cy="542" r="10.5"/><circle cx="1027" cy="494" r="10.5"/><circle cx="1050" cy="567" r="10.5"/><circle cx="757" cy="773" r="10.5"/><circle cx="667" cy="873" r="10.5"/><circle cx="651.9" cy="925.9" r="10.5"/><circle cx="1210" cy="398" r="10.5"/><circle cx="1185.5" cy="465.5" r="10.5"/><circle cx="991.2" cy="688.4" r="10.5"/><circle cx="1118" cy="536" r="10.5"/><circle cx="751" cy="809" r="10.5"/><circle cx="1122" cy="439" r="10.5"/><circle cx="1186" cy="366" r="10.5"/><circle cx="1196" cy="455" r="10.5"/><circle cx="958" cy="603" r="10.5"/><circle cx="951" cy="619" r="10.5"/><circle cx="888" cy="732" r="10.5"/><circle cx="1116" cy="400" r="10.5"/><circle cx="923" cy="637" r="10.5"/><circle cx="1151.3" cy="366.1" r="10.5"/><circle cx="1080" cy="573" r="10.5"/><circle cx="1122" cy="482" r="10.5"/><circle cx="981" cy="583" r="10.5"/><circle cx="1070" cy="459" r="10.5"/><circle cx="1329" cy="261" r="10.5"/><circle cx="792" cy="756" r="10.5"/><circle cx="1091" cy="501" r="10.5"/><circle cx="975" cy="599" r="10.5"/><circle cx="1335" cy="226" r="10.5"/><circle cx="1160" cy="455" r="10.5"/><circle cx="716.5" cy="859.6" r="10.5"/><circle cx="1273" cy="312" r="10.5"/><circle cx="994.4" cy="658.2" r="10.5"/><circle cx="929" cy="582" r="10.5"/><circle cx="1286" cy="347" r="10.5"/><circle cx="983" cy="496" r="10.5"/><circle cx="1309" cy="333" r="10.5"/><circle cx="1417.8" cy="225.4" r="10.5"/><circle cx="929" cy="695" r="10.5"/><circle cx="1128" cy="505" r="10.5"/><circle cx="1214.1" cy="325.8" r="10.5"/><circle cx="732" cy="855" r="10.5"/><circle cx="1211" cy="380" r="10.5"/><circle cx="838" cy="715" r="10.5"/><circle cx="590.5" cy="937.2" r="10.5"/><circle cx="1381" cy="255" r="10.5"/><circle cx="1202.5" cy="349" r="10.5"/><circle cx="1005" cy="608" r="10.5"/><circle cx="1269" cy="297" r="10.5"/><circle cx="1138" cy="496" r="10.5"/><circle cx="1221" cy="408" r="10.5"/><circle cx="772" cy="721" r="10.5"/><circle cx="906" cy="648" r="10.5"/><circle cx="1318" cy="233" r="10.5"/><circle cx="901" cy="718" r="10.5"/><circle cx="1406.1" cy="289.4" r="10.5"/><circle cx="1032" cy="594" r="10.5"/><circle cx="1271" cy="358" r="10.5"/><circle cx="1117" cy="490" r="10.5"/><circle cx="852" cy="673" r="10.5"/><circle cx="1009" cy="481" r="10.5"/><circle cx="1278" cy="348" r="10.5"/><circle cx="919" cy="668" r="10.5"/><circle cx="1319" cy="284" r="10.5"/><circle cx="1020" cy="519" r="10.5"/><circle cx="1227" cy="343" r="10.5"/><circle cx="1095" cy="411" r="10.5"/><circle cx="1063" cy="587" r="10.5"/><circle cx="1351" cy="286" r="10.5"/><circle cx="924" cy="664" r="10.5"/><circle cx="928" cy="616" r="10.5"/><circle cx="935" cy="617" r="10.5"/><circle cx="1223" cy="324" r="10.5"/><circle cx="897" cy="635" r="10.5"/><circle cx="1132" cy="417" r="10.5"/><circle cx="1187" cy="415" r="10.5"/><circle cx="1288" cy="345" r="10.5"/><circle cx="816" cy="758" r="10.5"/><circle cx="1274" cy="353" r="10.5"/><circle cx="1063" cy="465" r="10.5"/><circle cx="1018" cy="619" r="10.5"/><circle cx="1328" cy="312" r="10.5"/><circle cx="1189" cy="426" r="10.5"/><circle cx="890" cy="606" r="10.5"/><circle cx="845" cy="730" r="10.5"/><circle cx="1333" cy="277" r="10.5"/><circle cx="1401.8" cy="221" r="10.5"/><circle cx="1117" cy="406" r="10.5"/><circle cx="849" cy="677" r="10.5"/><circle cx="814" cy="725" r="10.5"/><circle cx="655.2" cy="866.1" r="10.5"/><circle cx="1041" cy="570" r="10.5"/><circle cx="881" cy="667" r="10.5"/><circle cx="753.7" cy="876.4" r="10.5"/><circle cx="1247" cy="398" r="10.5"/><circle cx="806" cy="724" r="10.5"/><circle cx="1017" cy="517" r="10.5"/><circle cx="1118.1" cy="407.2" r="10.5"/><circle cx="590.5" cy="963" r="10.5"/><circle cx="812" cy="770" r="10.5"/><circle cx="1095" cy="437" r="10.5"/><circle cx="880" cy="705" r="10.5"/><circle cx="774.7" cy="846.7" r="10.5"/><circle cx="746" cy="745" r="10.5"/><circle cx="912" cy="650" r="10.5"/><circle cx="975" cy="686.8" r="10.5"/><circle cx="925" cy="610" r="10.5"/><circle cx="1042" cy="531" r="10.5"/><circle cx="1232" cy="388" r="10.5"/><circle cx="938" cy="590" r="10.5"/><circle cx="998" cy="520" r="10.5"/><circle cx="840" cy="736" r="10.5"/><circle cx="1110" cy="529" r="10.5"/><circle cx="889" cy="635" r="10.5"/><circle cx="888" cy="740" r="10.5"/><circle cx="725" cy="773" r="10.5"/><circle cx="675.2" cy="609.2" r="10.5"/><circle cx="1108" cy="419" r="10.5"/><circle cx="560.5" cy="950.1" r="10.5"/><circle cx="1083.2" cy="420.3" r="10.5"/><circle cx="1106" cy="569" r="10.5"/><circle cx="1231.6" cy="436.3" r="10.5"/><circle cx="1215" cy="331" r="10.5"/><circle cx="904" cy="680" r="10.5"/><circle cx="1323" cy="252" r="10.5"/><circle cx="1302" cy="299" r="10.5"/><circle cx="889" cy="660" r="10.5"/><circle cx="896" cy="722" r="10.5"/><circle cx="1147" cy="489" r="10.5"/><circle cx="924" cy="597" r="10.5"/><circle cx="956" cy="641" r="10.5"/><circle cx="1010" cy="533" r="10.5"/><circle cx="968" cy="675" r="10.5"/><circle cx="1157" cy="423" r="10.5"/><circle cx="916" cy="644" r="10.5"/><circle cx="1065" cy="504" r="10.5"/><circle cx="1122" cy="453" r="10.5"/><circle cx="741" cy="751" r="10.5"/><circle cx="783" cy="800" r="10.5"/><circle cx="1057" cy="545" r="10.5"/><circle cx="975" cy="537" r="10.5"/><circle cx="837" cy="748" r="10.5"/><circle cx="1287" cy="345" r="10.5"/><circle cx="682" cy="880" r="10.5"/><circle cx="1118" cy="461" r="10.5"/><circle cx="780" cy="796" r="10.5"/><circle cx="1169" cy="397" r="10.5"/><circle cx="1142" cy="475" r="10.5"/><circle cx="1379" cy="234" r="10.5"/><circle cx="756" cy="853" r="10.5"/><circle cx="1177" cy="386" r="10.5"/><circle cx="963" cy="617" r="10.5"/><circle cx="798" cy="752" r="10.5"/><circle cx="984" cy="655" r="10.5"/><circle cx="754" cy="752" r="10.5"/><circle cx="890" cy="676" r="10.5"/><circle cx="751" cy="813" r="10.5"/><circle cx="696" cy="833" r="10.5"/><circle cx="963" cy="540" r="10.5"/><circle cx="914" cy="635" r="10.5"/><circle cx="764" cy="840" r="10.5"/><circle cx="704" cy="775" r="10.5"/><circle cx="1122" cy="523" r="10.5"/><circle cx="617" cy="872.6" r="10.5"/><circle cx="775" cy="738" r="10.5"/><circle cx="760" cy="816" r="10.5"/><circle cx="1259" cy="389" r="10.5"/><circle cx="841" cy="777" r="10.5"/><circle cx="826" cy="733" r="10.5"/><circle cx="1042" cy="473" r="10.5"/><circle cx="1465.8" cy="127.9" r="10.5"/><circle cx="1233" cy="391" r="10.5"/><circle cx="965" cy="561" r="10.5"/><circle cx="702" cy="810" r="10.5"/><circle cx="1291" cy="363" r="10.5"/><circle cx="1141" cy="428" r="10.5"/><circle cx="815" cy="744" r="10.5"/><circle cx="1064" cy="463" r="10.5"/><circle cx="943" cy="590" r="10.5"/><circle cx="677.8" cy="882.3" r="10.5"/><circle cx="1206" cy="409" r="10.5"/><circle cx="1047" cy="525" r="10.5"/><circle cx="1086" cy="485" r="10.5"/><circle cx="1151.3" cy="509" r="10.5"/><circle cx="1269" cy="304" r="10.5"/><circle cx="1260" cy="274" r="10.5"/><circle cx="884" cy="661" r="10.5"/><circle cx="1342" cy="302" r="10.5"/><circle cx="890.3" cy="582" r="10.5"/><circle cx="760" cy="765" r="10.5"/><circle cx="999" cy="611" r="10.5"/><circle cx="827" cy="729" r="10.5"/><circle cx="1203" cy="407" r="10.5"/><circle cx="764" cy="784" r="10.5"/><circle cx="1064" cy="476" r="10.5"/><circle cx="1109" cy="496" r="10.5"/><circle cx="852" cy="664" r="10.5"/><circle cx="1285" cy="299" r="10.5"/><circle cx="1291" cy="305" r="10.5"/><circle cx="1159" cy="425" r="10.5"/><circle cx="1370" cy="211" r="10.5"/><circle cx="1153" cy="382" r="10.5"/><circle cx="1151" cy="402" r="10.5"/><circle cx="1344" cy="255" r="10.5"/><circle cx="873" cy="746" r="10.5"/><circle cx="1075" cy="526" r="10.5"/><circle cx="1086" cy="457" r="10.5"/><circle cx="781" cy="743" r="10.5"/><circle cx="1260" cy="292" r="10.5"/><circle cx="1315" cy="268" r="10.5"/><circle cx="1055" cy="597" r="10.5"/><circle cx="923" cy="661" r="10.5"/><circle cx="701" cy="839" r="10.5"/><circle cx="1060" cy="498" r="10.5"/><circle cx="1256" cy="327" r="10.5"/><circle cx="923" cy="674" r="10.5"/><circle cx="1151" cy="491" r="10.5"/><circle cx="1071" cy="460" r="10.5"/><circle cx="806" cy="724" r="10.5"/><circle cx="1215" cy="451" r="10.5"/><circle cx="756" cy="811" r="10.5"/><circle cx="1050" cy="452" r="10.5"/><circle cx="1126.8" cy="391.2" r="10.5"/><circle cx="1339" cy="233" r="10.5"/><circle cx="895" cy="614" r="10.5"/><circle cx="1172" cy="443" r="10.5"/><circle cx="653" cy="850" r="10.5"/><circle cx="1010" cy="568" r="10.5"/><circle cx="913.6" cy="723.9" r="10.5"/><circle cx="1079" cy="487" r="10.5"/><circle cx="794" cy="758" r="10.5"/><circle cx="1194" cy="352" r="10.5"/><circle cx="975" cy="507" r="10.5"/><circle cx="1157" cy="440" r="10.5"/><circle cx="993" cy="503" r="10.5"/><circle cx="1396" cy="239.9" r="10.5"/><circle cx="1054" cy="566" r="10.5"/><circle cx="1175" cy="455" r="10.5"/><circle cx="819.9" cy="665.8" r="10.5"/><circle cx="1379.4" cy="290.3" r="10.5"/><circle cx="1057" cy="569" r="10.5"/><circle cx="839" cy="669" r="10.5"/><circle cx="1360" cy="233" r="10.5"/><circle cx="779" cy="754" r="10.5"/><circle cx="1248" cy="309" r="10.5"/><circle cx="1024" cy="579" r="10.5"/><circle cx="654.1" cy="798" r="10.5"/><circle cx="1222" cy="373" r="10.5"/><circle cx="677" cy="823" r="10.5"/><circle cx="1374" cy="258" r="10.5"/><circle cx="1208" cy="386" r="10.5"/><circle cx="698" cy="829" r="10.5"/><circle cx="1039" cy="500" r="10.5"/><circle cx="1164" cy="504" r="10.5"/><circle cx="1294" cy="314" r="10.5"/><circle cx="1178" cy="366" r="10.5"/><circle cx="1283" cy="358" r="10.5"/><circle cx="1081" cy="573" r="10.5"/><circle cx="888" cy="648" r="10.5"/><circle cx="862" cy="724" r="10.5"/><circle cx="1259" cy="304" r="10.5"/><circle cx="1299" cy="268" r="10.5"/><circle cx="716" cy="821" r="10.5"/><circle cx="1009" cy="572" r="10.5"/><circle cx="735" cy="784" r="10.5"/><circle cx="839" cy="777" r="10.5"/><circle cx="1170" cy="423" r="10.5"/><circle cx="1076" cy="547" r="10.5"/><circle cx="645" cy="857" r="10.5"/><circle cx="1063" cy="443" r="10.5"/><circle cx="965" cy="648" r="10.5"/><circle cx="1256" cy="381" r="10.5"/><circle cx="1236" cy="389" r="10.5"/><circle cx="820" cy="753" r="10.5"/><circle cx="1242" cy="420" r="10.5"/><circle cx="917" cy="623" r="10.5"/><circle cx="947" cy="671" r="10.5"/><circle cx="1000" cy="523" r="10.5"/><circle cx="803" cy="811" r="10.5"/><circle cx="863" cy="745" r="10.5"/><circle cx="1116" cy="519" r="10.5"/><circle cx="1061" cy="553" r="10.5"/><circle cx="1214" cy="423" r="10.5"/><circle cx="958" cy="558" r="10.5"/><circle cx="1190" cy="379" r="10.5"/><circle cx="1225.9" cy="493.5" r="10.5"/><circle cx="1009" cy="492" r="10.5"/><circle cx="1003" cy="593" r="10.5"/><circle cx="1061" cy="511" r="10.5"/><circle cx="1244.5" cy="425.1" r="10.5"/><circle cx="1315" cy="300" r="10.5"/><circle cx="804" cy="712" r="10.5"/><circle cx="1333" cy="269" r="10.5"/><circle cx="1109" cy="473" r="10.5"/><circle cx="1365" cy="247" r="10.5"/><circle cx="908.9" cy="589.8" r="10.5"/><circle cx="1113" cy="489" r="10.5"/><circle cx="795" cy="825" r="10.5"/><circle cx="755" cy="729" r="10.5"/><circle cx="848" cy="740" r="10.5"/><circle cx="772" cy="777" r="10.5"/><circle cx="850" cy="731" r="10.5"/><circle cx="730" cy="791" r="10.5"/><circle cx="1187.9" cy="352" r="10.5"/><circle cx="920" cy="596" r="10.5"/><circle cx="917" cy="666" r="10.5"/><circle cx="1242" cy="361" r="10.5"/><circle cx="1018" cy="608" r="10.5"/><circle cx="1038" cy="547" r="10.5"/><circle cx="1332" cy="275" r="10.5"/><circle cx="830" cy="728" r="10.5"/><circle cx="807" cy="737" r="10.5"/><circle cx="697.2" cy="791.8" r="10.5"/><circle cx="1175" cy="382" r="10.5"/><circle cx="1288" cy="340" r="10.5"/><circle cx="1305.8" cy="238.5" r="10.5"/><circle cx="946" cy="684" r="10.5"/><circle cx="1217" cy="376" r="10.5"/><circle cx="772.2" cy="735.9" r="10.5"/><circle cx="1143" cy="517" r="10.5"/><circle cx="834.5" cy="804.7" r="10.5"/><circle cx="1109" cy="465" r="10.5"/><circle cx="731" cy="846" r="10.5"/><circle cx="936" cy="555" r="10.5"/><circle cx="1249" cy="312" r="10.5"/><circle cx="731" cy="799" r="10.5"/><circle cx="855" cy="759" r="10.5"/><circle cx="928" cy="662" r="10.5"/><circle cx="882" cy="602" r="10.5"/><circle cx="1147" cy="498" r="10.5"/><circle cx="1000" cy="566" r="10.5"/><circle cx="1180" cy="480" r="10.5"/><circle cx="700" cy="880" r="10.5"/><circle cx="1042" cy="504" r="10.5"/><circle cx="1004" cy="559" r="10.5"/><circle cx="1314.5" cy="253" r="10.5"/><circle cx="732" cy="842" r="10.5"/><circle cx="1044" cy="494" r="10.5"/><circle cx="1120" cy="484" r="10.5"/><circle cx="868" cy="722" r="10.5"/><circle cx="1105" cy="472" r="10.5"/><circle cx="797.3" cy="791.8" r="10.5"/><circle cx="1277" cy="388" r="10.5"/><circle cx="724" cy="804" r="10.5"/><circle cx="899" cy="714" r="10.5"/><circle cx="1061" cy="461" r="10.5"/><circle cx="1284" cy="320" r="10.5"/><circle cx="1240" cy="347" r="10.5"/><circle cx="1055" cy="491" r="10.5"/><circle cx="930" cy="637" r="10.5"/><circle cx="819" cy="771" r="10.5"/><circle cx="926" cy="665" r="10.5"/><circle cx="1092" cy="413" r="10.5"/><circle cx="1137" cy="431" r="10.5"/><circle cx="1094" cy="557" r="10.5"/><circle cx="972" cy="531" r="10.5"/><circle cx="834" cy="721" r="10.5"/><circle cx="955" cy="639" r="10.5"/><circle cx="1287" cy="283" r="10.5"/><circle cx="1326" cy="283" r="10.5"/><circle cx="984" cy="596" r="10.5"/><circle cx="825" cy="780" r="10.5"/><circle cx="1221" cy="430" r="10.5"/><circle cx="1238" cy="328" r="10.5"/><circle cx="1134" cy="447" r="10.5"/><circle cx="1000" cy="614" r="10.5"/><circle cx="1294" cy="335" r="10.5"/><circle cx="1290" cy="314" r="10.5"/><circle cx="981" cy="614" r="10.5"/><circle cx="772" cy="777" r="10.5"/><circle cx="701" cy="845" r="10.5"/><circle cx="1306" cy="344" r="10.5"/><circle cx="1331" cy="267" r="10.5"/><circle cx="1114" cy="552" r="10.5"/><circle cx="1022" cy="548" r="10.5"/><circle cx="1289" cy="305" r="10.5"/><circle cx="1070" cy="584" r="10.5"/><circle cx="968" cy="664.4" r="10.5"/><circle cx="1340" cy="226" r="10.5"/><circle cx="1090" cy="525" r="10.5"/><circle cx="771" cy="751" r="10.5"/><circle cx="1197" cy="383" r="10.5"/><circle cx="829" cy="668" r="10.5"/><circle cx="700" cy="866" r="10.5"/><circle cx="1280" cy="265" r="10.5"/><circle cx="941" cy="590" r="10.5"/><circle cx="939" cy="624" r="10.5"/><circle cx="1162" cy="437" r="10.5"/><circle cx="898" cy="635" r="10.5"/><circle cx="1230" cy="390" r="10.5"/><circle cx="732" cy="798" r="10.5"/><circle cx="1288" cy="289" r="10.5"/><circle cx="689.1" cy="735.9" r="10.5"/><circle cx="1098" cy="533" r="10.5"/><circle cx="864" cy="655" r="10.5"/><circle cx="1235" cy="408" r="10.5"/><circle cx="1260" cy="313" r="10.5"/><circle cx="717" cy="806" r="10.5"/><circle cx="988" cy="503" r="10.5"/><circle cx="1258" cy="319" r="10.5"/><circle cx="1156" cy="489" r="10.5"/><circle cx="1246" cy="405" r="10.5"/><circle cx="835" cy="775" r="10.5"/><circle cx="985" cy="620" r="10.5"/><circle cx="1030" cy="611" r="10.5"/><circle cx="873" cy="732" r="10.5"/><circle cx="1085" cy="539" r="10.5"/><circle cx="1156" cy="419" r="10.5"/><circle cx="880" cy="728" r="10.5"/><circle cx="873" cy="725" r="10.5"/><circle cx="930" cy="608" r="10.5"/><circle cx="648" cy="870" r="10.5"/><circle cx="1144" cy="521" r="10.5"/><circle cx="954" cy="527.7" r="10.5"/><circle cx="698" cy="817" r="10.5"/><circle cx="754" cy="790" r="10.5"/><circle cx="817" cy="734" r="10.5"/><circle cx="994" cy="582" r="10.5"/><circle cx="843" cy="738" r="10.5"/><circle cx="803" cy="720" r="10.5"/><circle cx="987" cy="512" r="10.5"/><circle cx="1395" cy="240" r="10.5"/><circle cx="788" cy="810" r="10.5"/><circle cx="753" cy="829" r="10.5"/><circle cx="819.9" cy="795" r="10.5"/><circle cx="897" cy="697" r="10.5"/><circle cx="1024" cy="524" r="10.5"/><circle cx="789" cy="778" r="10.5"/><circle cx="1384" cy="238" r="10.5"/><circle cx="1152" cy="520" r="10.5"/><circle cx="1158" cy="373" r="10.5"/><circle cx="780" cy="735" r="10.5"/><circle cx="818" cy="710" r="10.5"/><circle cx="1266" cy="360" r="10.5"/><circle cx="959" cy="631" r="10.5"/><circle cx="763" cy="808" r="10.5"/><circle cx="580.8" cy="971.1" r="10.5"/><circle cx="1227" cy="376" r="10.5"/><circle cx="1187" cy="450" r="10.5"/><circle cx="1363" cy="275" r="10.5"/><circle cx="1267" cy="309" r="10.5"/><circle cx="1206" cy="434" r="10.5"/><circle cx="914" cy="610" r="10.5"/><circle cx="1057" cy="498" r="10.5"/><circle cx="1163" cy="390" r="10.5"/><circle cx="993" cy="601" r="10.5"/><circle cx="730" cy="795" r="10.5"/><circle cx="1086" cy="551" r="10.5"/><circle cx="663" cy="878" r="10.5"/><circle cx="1128" cy="412" r="10.5"/><circle cx="924.5" cy="552.5" r="10.5"/><circle cx="671" cy="868" r="10.5"/><circle cx="1240" cy="384" r="10.5"/><circle cx="1125" cy="452" r="10.5"/><circle cx="773" cy="822" r="10.5"/><circle cx="1067" cy="572" r="10.5"/><circle cx="700" cy="875" r="10.5"/><circle cx="1026" cy="528" r="10.5"/><circle cx="664" cy="833" r="10.5"/><circle cx="773" cy="721" r="10.5"/><circle cx="763" cy="727" r="10.5"/><circle cx="676" cy="857" r="10.5"/><circle cx="1076" cy="552" r="10.5"/><circle cx="728" cy="757" r="10.5"/><circle cx="958" cy="527" r="10.5"/><circle cx="1166" cy="415" r="10.5"/><circle cx="806" cy="688" r="10.5"/><circle cx="904" cy="646" r="10.5"/><circle cx="931" cy="581" r="10.5"/><circle cx="1141" cy="498" r="10.5"/><circle cx="801" cy="704" r="10.5"/><circle cx="1362" cy="228" r="10.5"/><circle cx="973" cy="628" r="10.5"/><circle cx="869" cy="722" r="10.5"/><circle cx="1256" cy="324" r="10.5"/><circle cx="855.5" cy="612.5" r="10.5"/><circle cx="967" cy="570" r="10.5"/><circle cx="1083" cy="473" r="10.5"/><circle cx="927" cy="421.1" r="10.5"/><circle cx="527.5" cy="953.3" r="10.5"/><circle cx="985" cy="601" r="10.5"/><circle cx="1308" cy="310" r="10.5"/><circle cx="854" cy="728" r="10.5"/><circle cx="684" cy="862" r="10.5"/><circle cx="1061" cy="535" r="10.5"/><circle cx="858" cy="689" r="10.5"/><circle cx="1403.2" cy="276.3" r="10.5"/><circle cx="1192" cy="348" r="10.5"/><circle cx="633" cy="864" r="10.5"/><circle cx="1270" cy="372" r="10.5"/><circle cx="1319" cy="311" r="10.5"/><circle cx="1112" cy="547" r="10.5"/><circle cx="848" cy="777" r="10.5"/><circle cx="902" cy="630" r="10.5"/><circle cx="1286" cy="263" r="10.5"/><circle cx="1108" cy="526" r="10.5"/><circle cx="747" cy="788" r="10.5"/><circle cx="812" cy="798" r="10.5"/><circle cx="993" cy="605" r="10.5"/><circle cx="999" cy="528" r="10.5"/><circle cx="1204" cy="403" r="10.5"/><circle cx="1045" cy="700.1" r="10.5"/><circle cx="1266" cy="373" r="10.5"/><circle cx="737.5" cy="595.3" r="10.5"/><circle cx="788" cy="823" r="10.5"/><circle cx="928" cy="638" r="10.5"/><circle cx="1320" cy="243" r="10.5"/><circle cx="1109" cy="476" r="10.5"/><circle cx="901" cy="630" r="10.5"/><circle cx="840" cy="679" r="10.5"/><circle cx="921" cy="604" r="10.5"/><circle cx="690.7" cy="859.6" r="10.5"/><circle cx="1068" cy="585" r="10.5"/><circle cx="1076" cy="438" r="10.5"/><circle cx="912" cy="626" r="10.5"/><circle cx="1013" cy="626" r="10.5"/><circle cx="810" cy="778" r="10.5"/><circle cx="907" cy="604" r="10.5"/><circle cx="848" cy="674" r="10.5"/><circle cx="1017" cy="624" r="10.5"/><circle cx="654" cy="885" r="10.5"/><circle cx="1012" cy="572" r="10.5"/><circle cx="1130" cy="525" r="10.5"/><circle cx="836" cy="715" r="10.5"/><circle cx="1251" cy="307" r="10.5"/><circle cx="689" cy="782" r="10.5"/><circle cx="1227" cy="372" r="10.5"/><circle cx="1159" cy="438" r="10.5"/><circle cx="1386" cy="266" r="10.5"/><circle cx="1064" cy="487" r="10.5"/><circle cx="978" cy="574" r="10.5"/><circle cx="1025" cy="491" r="10.5"/><circle cx="1088" cy="551" r="10.5"/><circle cx="1146" cy="464" r="10.5"/><circle cx="1115" cy="423" r="10.5"/><circle cx="665" cy="821" r="10.5"/><circle cx="1272" cy="333" r="10.5"/><circle cx="1320" cy="273" r="10.5"/><circle cx="689" cy="804" r="10.5"/><circle cx="773" cy="830" r="10.5"/><circle cx="1163" cy="505" r="10.5"/><circle cx="867" cy="741" r="10.5"/><circle cx="836" cy="792" r="10.5"/><circle cx="800" cy="784" r="10.5"/><circle cx="1149" cy="390" r="10.5"/><circle cx="1148.6" cy="370.9" r="10.5"/><circle cx="1345" cy="203.6" r="10.5"/><circle cx="900" cy="618" r="10.5"/><circle cx="923" cy="660" r="10.5"/><circle cx="1298" cy="346" r="10.5"/><circle cx="1171" cy="385" r="10.5"/><circle cx="764" cy="805" r="10.5"/><circle cx="946" cy="673" r="10.5"/><circle cx="952" cy="615" r="10.5"/><circle cx="880" cy="716" r="10.5"/><circle cx="900" cy="685" r="10.5"/><circle cx="984" cy="560" r="10.5"/><circle cx="680" cy="824" r="10.5"/><circle cx="1074" cy="451" r="10.5"/><circle cx="1095.4" cy="401.8" r="10.5"/><circle cx="1316" cy="262" r="10.5"/><circle cx="979" cy="608" r="10.5"/><circle cx="1076" cy="423" r="10.5"/><circle cx="805" cy="756" r="10.5"/><circle cx="1355" cy="288" r="10.5"/><circle cx="625.1" cy="783.7" r="10.5"/><circle cx="926" cy="696" r="10.5"/><circle cx="1009" cy="571" r="10.5"/><circle cx="832" cy="722" r="10.5"/><circle cx="1142" cy="561.8" r="10.5"/><circle cx="1258" cy="401" r="10.5"/><circle cx="1197" cy="365" r="10.5"/><circle cx="1140" cy="451" r="10.5"/><circle cx="1030" cy="490" r="10.5"/><circle cx="913" cy="627" r="10.5"/><circle cx="1287" cy="320" r="10.5"/><circle cx="994" cy="557" r="10.5"/><circle cx="908" cy="646" r="10.5"/><circle cx="1042" cy="608" r="10.5"/><circle cx="957" cy="656" r="10.5"/><circle cx="1319" cy="322" r="10.5"/><circle cx="1298" cy="252" r="10.5"/><circle cx="865" cy="690" r="10.5"/><circle cx="979" cy="645" r="10.5"/><circle cx="1327" cy="247" r="10.5"/><circle cx="1023" cy="520" r="10.5"/><circle cx="886" cy="657" r="10.5"/><circle cx="1308" cy="245" r="10.5"/><circle cx="676" cy="882" r="10.5"/><circle cx="746" cy="845" r="10.5"/><circle cx="885" cy="638" r="10.5"/><circle cx="990" cy="577" r="10.5"/><circle cx="1317" cy="236" r="10.5"/><circle cx="1391.6" cy="229.8" r="10.5"/><circle cx="1217" cy="412" r="10.5"/><circle cx="1072" cy="504" r="10.5"/><circle cx="1356.7" cy="205" r="10.5"/><circle cx="1078" cy="562" r="10.5"/><circle cx="994" cy="515" r="10.5"/><circle cx="726" cy="810" r="10.5"/><circle cx="1056" cy="546" r="10.5"/><circle cx="777.9" cy="714.2" r="10.5"/><circle cx="1275.2" cy="347.6" r="10.5"/><circle cx="1194" cy="464" r="10.5"/><circle cx="1087.6" cy="387.8" r="10.5"/><circle cx="1056" cy="450" r="10.5"/><circle cx="1006" cy="636" r="10.5"/><circle cx="1084" cy="437" r="10.5"/><circle cx="1185" cy="441" r="10.5"/><circle cx="966" cy="655" r="10.5"/><circle cx="1226" cy="422" r="10.5"/><circle cx="857" cy="666" r="10.5"/><circle cx="722" cy="804" r="10.5"/><circle cx="1068" cy="509" r="10.5"/><circle cx="1073" cy="420" r="10.5"/><circle cx="1199" cy="412" r="10.5"/><circle cx="1227" cy="387" r="10.5"/><circle cx="758" cy="740" r="10.5"/><circle cx="1116" cy="469" r="10.5"/><circle cx="836" cy="721" r="10.5"/><circle cx="1121" cy="476" r="10.5"/><circle cx="880" cy="751" r="10.5"/><circle cx="1330" cy="332" r="10.5"/><circle cx="1270" cy="357" r="10.5"/><circle cx="1246" cy="305" r="10.5"/><circle cx="1226" cy="436" r="10.5"/><circle cx="937" cy="610" r="10.5"/><circle cx="1090" cy="425" r="10.5"/><circle cx="1083" cy="454" r="10.5"/><circle cx="1170" cy="428" r="10.5"/><circle cx="1253" cy="343" r="10.5"/><circle cx="795" cy="755" r="10.5"/><circle cx="1225" cy="349" r="10.5"/><circle cx="1115" cy="502" r="10.5"/><circle cx="933" cy="637" r="10.5"/><circle cx="969" cy="575" r="10.5"/><circle cx="973" cy="631" r="10.5"/><circle cx="1188" cy="443" r="10.5"/><circle cx="752" cy="834" r="10.5"/><circle cx="1254" cy="383" r="10.5"/><circle cx="883" cy="608" r="10.5"/><circle cx="729.5" cy="820.9" r="10.5"/><circle cx="1344" cy="284" r="10.5"/><circle cx="1100" cy="484" r="10.5"/><circle cx="1243" cy="301" r="10.5"/><circle cx="964" cy="521" r="10.5"/><circle cx="1042" cy="461" r="10.5"/><circle cx="1108" cy="443" r="10.5"/><circle cx="1023" cy="505" r="10.5"/><circle cx="1140" cy="428" r="10.5"/><circle cx="824" cy="688" r="10.5"/><circle cx="1042" cy="525" r="10.5"/><circle cx="1216" cy="573.3" r="10.5"/><circle cx="1253" cy="307" r="10.5"/><circle cx="1054" cy="455" r="10.5"/><circle cx="1249" cy="336" r="10.5"/><circle cx="668.1" cy="843.5" r="10.5"/><circle cx="982" cy="599" r="10.5"/><circle cx="813" cy="765" r="10.5"/><circle cx="1158" cy="485" r="10.5"/><circle cx="1078" cy="590" r="10.5"/><circle cx="1153" cy="525" r="10.5"/><circle cx="681" cy="794" r="10.5"/><circle cx="1045" cy="573" r="10.5"/><circle cx="1241" cy="369" r="10.5"/><circle cx="1179" cy="425" r="10.5"/><circle cx="1062" cy="496" r="10.5"/><circle cx="1126" cy="433" r="10.5"/><circle cx="1336" cy="274" r="10.5"/><circle cx="727" cy="773" r="10.5"/><circle cx="1144" cy="513" r="10.5"/><circle cx="862" cy="707" r="10.5"/><circle cx="1193" cy="412" r="10.5"/><circle cx="710" cy="827" r="10.5"/><circle cx="1225" cy="328" r="10.5"/><circle cx="1141" cy="491" r="10.5"/><circle cx="1218" cy="389" r="10.5"/><circle cx="1068" cy="451" r="10.5"/><circle cx="1205" cy="361" r="10.5"/><circle cx="1248" cy="305" r="10.5"/><circle cx="1282" cy="371" r="10.5"/><circle cx="1355" cy="264" r="10.5"/><circle cx="1109" cy="471" r="10.5"/><circle cx="872" cy="661" r="10.5"/><circle cx="782" cy="780" r="10.5"/><circle cx="661" cy="835" r="10.5"/><circle cx="1204" cy="418" r="10.5"/><circle cx="1051.9" cy="599.1" r="10.5"/><circle cx="1370" cy="259" r="10.5"/><circle cx="1313" cy="324" r="10.5"/><circle cx="820" cy="737" r="10.5"/><circle cx="1282" cy="268" r="10.5"/><circle cx="1478.9" cy="125" r="10.5"/><circle cx="865" cy="709" r="10.5"/><circle cx="1283.9" cy="331.6" r="10.5"/><circle cx="829" cy="699" r="10.5"/><circle cx="1346" cy="257" r="10.5"/><circle cx="804" cy="773" r="10.5"/><circle cx="1352" cy="259" r="10.5"/><circle cx="642.2" cy="874.2" r="10.5"/><circle cx="1309" cy="313" r="10.5"/><circle cx="903" cy="642" r="10.5"/><circle cx="1094" cy="500" r="10.5"/><circle cx="727" cy="856" r="10.5"/><circle cx="1235" cy="378" r="10.5"/><circle cx="1238" cy="327" r="10.5"/><circle cx="1075" cy="456" r="10.5"/><circle cx="1190" cy="436" r="10.5"/><circle cx="1225" cy="332" r="10.5"/><circle cx="1030" cy="576" r="10.5"/><circle cx="1136" cy="541" r="10.5"/><circle cx="611.5" cy="963" r="10.5"/><circle cx="1289" cy="337" r="10.5"/><circle cx="769" cy="789" r="10.5"/><circle cx="1231" cy="377" r="10.5"/><circle cx="1227" cy="403" r="10.5"/><circle cx="1101" cy="529" r="10.5"/><circle cx="847.4" cy="628.6" r="10.5"/><circle cx="917" cy="650" r="10.5"/><circle cx="712" cy="778" r="10.5"/><circle cx="1314.5" cy="229.8" r="10.5"/><circle cx="1028" cy="498" r="10.5"/><circle cx="1048" cy="455" r="10.5"/><circle cx="998" cy="559" r="10.5"/><circle cx="872" cy="644" r="10.5"/><circle cx="954" cy="560" r="10.5"/><circle cx="1260" cy="294" r="10.5"/><circle cx="1241" cy="381" r="10.5"/><circle cx="953" cy="632" r="10.5"/><circle cx="1051" cy="472" r="10.5"/><circle cx="881" cy="721" r="10.5"/><circle cx="1145" cy="443" r="10.5"/><circle cx="988" cy="523" r="10.5"/><circle cx="1144" cy="499" r="10.5"/><circle cx="926.6" cy="719.1" r="10.5"/><circle cx="1236" cy="369" r="10.5"/><circle cx="1297" cy="317" r="10.5"/><circle cx="1324" cy="339" r="10.5"/><circle cx="973" cy="610" r="10.5"/><circle cx="1058" cy="571" r="10.5"/><circle cx="797" cy="722" r="10.5"/><circle cx="1229" cy="418" r="10.5"/><circle cx="1236" cy="390" r="10.5"/><circle cx="869" cy="670" r="10.5"/><circle cx="1000" cy="566" r="10.5"/><circle cx="883" cy="639" r="10.5"/><circle cx="1152" cy="436" r="10.5"/><circle cx="868.4" cy="604.4" r="10.5"/><circle cx="1304.3" cy="305.4" r="10.5"/><circle cx="1162" cy="413" r="10.5"/><circle cx="1094" cy="476" r="10.5"/><circle cx="1261" cy="288" r="10.5"/><circle cx="467.1" cy="1032.5" r="10.5"/><circle cx="901" cy="577" r="10.5"/><circle cx="1267" cy="304" r="10.5"/><circle cx="937" cy="675" r="10.5"/><circle cx="840" cy="734" r="10.5"/><circle cx="1285" cy="357" r="10.5"/><circle cx="868" cy="619" r="10.5"/><circle cx="846" cy="694" r="10.5"/><circle cx="949" cy="683" r="10.5"/><circle cx="718" cy="781" r="10.5"/><circle cx="1464.3" cy="141" r="10.5"/><circle cx="992.8" cy="509" r="10.5"/><circle cx="1033" cy="556" r="10.5"/><circle cx="780" cy="837" r="10.5"/><circle cx="919" cy="640" r="10.5"/><circle cx="674.5" cy="770.8" r="10.5"/><circle cx="651" cy="864" r="10.5"/><circle cx="1079" cy="439" r="10.5"/><circle cx="1146" cy="420" r="10.5"/><circle cx="1101" cy="510" r="10.5"/><circle cx="1017" cy="540" r="10.5"/><circle cx="689" cy="789" r="10.5"/><circle cx="966" cy="586" r="10.5"/><circle cx="680" cy="806" r="10.5"/><circle cx="1342" cy="228" r="10.5"/><circle cx="1077" cy="441" r="10.5"/><circle cx="1365" cy="273" r="10.5"/><circle cx="874" cy="630" r="10.5"/><circle cx="859.2" cy="608.5" r="10.5"/><circle cx="1101" cy="439" r="10.5"/><circle cx="1323" cy="319" r="10.5"/><circle cx="1094" cy="487" r="10.5"/><circle cx="1085" cy="539" r="10.5"/><circle cx="1017.7" cy="499.7" r="10.5"/><circle cx="1030" cy="590" r="10.5"/><circle cx="1441.1" cy="174.5" r="10.5"/><circle cx="847" cy="736" r="10.5"/><circle cx="767" cy="832" r="10.5"/><circle cx="848" cy="693" r="10.5"/><circle cx="1047" cy="605" r="10.5"/><circle cx="929" cy="578" r="10.5"/><circle cx="713" cy="774" r="10.5"/><circle cx="1253.9" cy="409.6" r="10.5"/><circle cx="1355" cy="256" r="10.5"/><circle cx="1185" cy="421" r="10.5"/><circle cx="1260.7" cy="302.5" r="10.5"/><circle cx="1271" cy="263" r="10.5"/><circle cx="717" cy="781" r="10.5"/><circle cx="1126.5" cy="660.7" r="10.5"/><circle cx="859" cy="741" r="10.5"/><circle cx="780" cy="807" r="10.5"/><circle cx="1180" cy="433" r="10.5"/><circle cx="1147" cy="472" r="10.5"/><circle cx="930" cy="613" r="10.5"/><circle cx="884" cy="645" r="10.5"/><circle cx="1211" cy="380" r="10.5"/><circle cx="1356.7" cy="270.5" r="10.5"/><circle cx="980" cy="661" r="10.5"/><circle cx="820" cy="741" r="10.5"/><circle cx="1057" cy="504" r="10.5"/><circle cx="851" cy="647" r="10.5"/><circle cx="946.2" cy="686.1" r="10.5"/><circle cx="955" cy="651" r="10.5"/><circle cx="1024" cy="551" r="10.5"/><circle cx="762" cy="750" r="10.5"/><circle cx="857" cy="697" r="10.5"/><circle cx="1284" cy="343" r="10.5"/><circle cx="878.5" cy="373.2" r="10.5"/><circle cx="904" cy="609" r="10.5"/><circle cx="959" cy="547" r="10.5"/><circle cx="991" cy="570" r="10.5"/><circle cx="988" cy="557" r="10.5"/><circle cx="1158" cy="393" r="10.5"/><circle cx="691" cy="820" r="10.5"/><circle cx="1169" cy="444" r="10.5"/><circle cx="788" cy="786" r="10.5"/><circle cx="1241" cy="316" r="10.5"/><circle cx="1054" cy="495" r="10.5"/><circle cx="996" cy="559" r="10.5"/><circle cx="1090" cy="534" r="10.5"/><circle cx="1056" cy="586" r="10.5"/><circle cx="1240.3" cy="293.8" r="10.5"/><circle cx="778" cy="767" r="10.5"/><circle cx="816" cy="680" r="10.5"/><circle cx="794" cy="817" r="10.5"/><circle cx="721" cy="852" r="10.5"/><circle cx="850" cy="656" r="10.5"/><circle cx="1238" cy="330" r="10.5"/><circle cx="846" cy="709" r="10.5"/><circle cx="1109" cy="468" r="10.5"/><circle cx="1065" cy="478" r="10.5"/><circle cx="1049" cy="530" r="10.5"/><circle cx="1282" cy="287" r="10.5"/><circle cx="1137" cy="395" r="10.5"/><circle cx="966" cy="610" r="10.5"/><circle cx="940" cy="607" r="10.5"/><circle cx="1462.9" cy="164.3" r="10.5"/><circle cx="1293" cy="272" r="10.5"/><circle cx="879" cy="660" r="10.5"/><circle cx="1239" cy="321" r="10.5"/><circle cx="915" cy="646" r="10.5"/><circle cx="1008" cy="542" r="10.5"/><circle cx="775" cy="785" r="10.5"/><circle cx="918" cy="641" r="10.5"/><circle cx="772" cy="746" r="10.5"/><circle cx="911" cy="693" r="10.5"/><circle cx="887" cy="724" r="10.5"/><circle cx="1251" cy="302" r="10.5"/><circle cx="745" cy="835" r="10.5"/><circle cx="1113" cy="502" r="10.5"/><circle cx="1172" cy="435" r="10.5"/><circle cx="1040" cy="548" r="10.5"/><circle cx="1132.7" cy="387.8" r="10.5"/><circle cx="992" cy="593" r="10.5"/><circle cx="1038" cy="505" r="10.5"/><circle cx="1021" cy="531" r="10.5"/><circle cx="971" cy="589" r="10.5"/><circle cx="1073" cy="502" r="10.5"/><circle cx="760" cy="842" r="10.5"/><circle cx="1304" cy="280" r="10.5"/><circle cx="1138" cy="519" r="10.5"/><circle cx="1069" cy="466" r="10.5"/><circle cx="899" cy="699" r="10.5"/><circle cx="1126" cy="482" r="10.5"/><circle cx="1028" cy="615" r="10.5"/><circle cx="1234" cy="407" r="10.5"/><circle cx="736" cy="810" r="10.5"/><circle cx="1146" cy="499" r="10.5"/><circle cx="885" cy="602" r="10.5"/><circle cx="1134" cy="468" r="10.5"/><circle cx="864" cy="736" r="10.5"/><circle cx="945" cy="631" r="10.5"/><circle cx="752" cy="759" r="10.5"/><circle cx="635" cy="864" r="10.5"/><circle cx="1151" cy="470" r="10.5"/><circle cx="1294" cy="301" r="10.5"/><circle cx="767" cy="805" r="10.5"/><circle cx="1024" cy="620" r="10.5"/><circle cx="745" cy="800" r="10.5"/><circle cx="731" cy="801" r="10.5"/><circle cx="884.1" cy="739" r="10.5"/><circle cx="1101" cy="507" r="10.5"/><circle cx="695" cy="800" r="10.5"/><circle cx="963" cy="665" r="10.5"/><circle cx="1231.6" cy="330.1" r="10.5"/><circle cx="1297" cy="338" r="10.5"/><circle cx="795" cy="760" r="10.5"/><circle cx="963" cy="525" r="10.5"/><circle cx="843" cy="738" r="10.5"/><circle cx="1285" cy="276" r="10.5"/><circle cx="1097" cy="549" r="10.5"/><circle cx="1131" cy="463" r="10.5"/><circle cx="619" cy="965.6" r="10.5"/><circle cx="1014" cy="551" r="10.5"/><circle cx="912" cy="612" r="10.5"/><circle cx="674" cy="812" r="10.5"/><circle cx="1051" cy="460" r="10.5"/><circle cx="1145" cy="428" r="10.5"/><circle cx="684" cy="856" r="10.5"/><circle cx="1132" cy="417" r="10.5"/><circle cx="1146" cy="395" r="10.5"/><circle cx="1026" cy="555" r="10.5"/><circle cx="1065" cy="474" r="10.5"/><circle cx="1083" cy="561" r="10.5"/><circle cx="1001" cy="628" r="10.5"/><circle cx="668" cy="837" r="10.5"/><circle cx="701" cy="871" r="10.5"/><circle cx="836" cy="751" r="10.5"/><circle cx="783.7" cy="540.7" r="10.5"/><circle cx="1217" cy="401" r="10.5"/><circle cx="1076" cy="444" r="10.5"/><circle cx="1186" cy="453" r="10.5"/><circle cx="972" cy="599" r="10.5"/><circle cx="1425" cy="210.8" r="10.5"/><circle cx="682" cy="804" r="10.5"/><circle cx="1177" cy="412" r="10.5"/><circle cx="683" cy="850" r="10.5"/><circle cx="1267" cy="377" r="10.5"/><circle cx="1112" cy="424" r="10.5"/><circle cx="1020.8" cy="633.3" r="10.5"/><circle cx="850" cy="756" r="10.5"/><circle cx="878" cy="707" r="10.5"/><circle cx="831" cy="709" r="10.5"/><circle cx="1300" cy="284" r="10.5"/><circle cx="799" cy="760" r="10.5"/><circle cx="969" cy="524" r="10.5"/><circle cx="988" cy="573" r="10.5"/><circle cx="1256" cy="353" r="10.5"/><circle cx="1049" cy="508" r="10.5"/><circle cx="1167" cy="402" r="10.5"/><circle cx="1099" cy="559" r="10.5"/><circle cx="1073" cy="510" r="10.5"/><circle cx="844" cy="661" r="10.5"/><circle cx="666" cy="851" r="10.5"/><circle cx="1191" cy="469" r="10.5"/><circle cx="1045" cy="595" r="10.5"/><circle cx="730" cy="824" r="10.5"/><circle cx="705" cy="873" r="10.5"/><circle cx="902" cy="712" r="10.5"/><circle cx="1222" cy="364" r="10.5"/><circle cx="1316" cy="241" r="10.5"/><circle cx="1052" cy="557" r="10.5"/><circle cx="1211" cy="347" r="10.5"/><circle cx="1073.6" cy="583.6" r="10.5"/><circle cx="890" cy="670" r="10.5"/><circle cx="1206" cy="362" r="10.5"/><circle cx="877" cy="650" r="10.5"/><circle cx="781.2" cy="837" r="10.5"/><circle cx="702" cy="830" r="10.5"/><circle cx="738" cy="863" r="10.5"/><circle cx="838" cy="661" r="10.5"/><circle cx="733" cy="792" r="10.5"/><circle cx="1283" cy="354" r="10.5"/><circle cx="859" cy="741" r="10.5"/><circle cx="1030" cy="536" r="10.5"/><circle cx="745" cy="824" r="10.5"/><circle cx="747" cy="789" r="10.5"/><circle cx="749" cy="793" r="10.5"/><circle cx="1100" cy="405" r="10.5"/><circle cx="999" cy="543" r="10.5"/><circle cx="1239" cy="351" r="10.5"/><circle cx="1028" cy="547" r="10.5"/><circle cx="948" cy="685" r="10.5"/><circle cx="1186" cy="478" r="10.5"/><circle cx="1188.6" cy="509" r="10.5"/><circle cx="1171" cy="403" r="10.5"/><circle cx="972" cy="640" r="10.5"/><circle cx="1083" cy="439" r="10.5"/><circle cx="924" cy="648" r="10.5"/><circle cx="1053" cy="491" r="10.5"/><circle cx="822" cy="786" r="10.5"/><circle cx="1270" cy="361" r="10.5"/><circle cx="780" cy="809" r="10.5"/><circle cx="1105" cy="532" r="10.5"/><circle cx="864" cy="731" r="10.5"/><circle cx="787.7" cy="714.1" r="10.5"/><circle cx="944" cy="591" r="10.5"/><circle cx="875" cy="615" r="10.5"/><circle cx="859" cy="692" r="10.5"/><circle cx="1219" cy="347" r="10.5"/><circle cx="942" cy="628" r="10.5"/><circle cx="786" cy="808" r="10.5"/><circle cx="1162" cy="493" r="10.5"/><circle cx="1346" cy="253" r="10.5"/><circle cx="1124" cy="410" r="10.5"/><circle cx="823" cy="681" r="10.5"/><circle cx="1044" cy="550" r="10.5"/><circle cx="1111" cy="450" r="10.5"/><circle cx="1110" cy="444" r="10.5"/><circle cx="1165" cy="496" r="10.5"/><circle cx="792" cy="772" r="10.5"/><circle cx="1186.5" cy="488.7" r="10.5"/><circle cx="759" cy="841" r="10.5"/><circle cx="683" cy="879" r="10.5"/><circle cx="1025" cy="559" r="10.5"/><circle cx="1025" cy="495" r="10.5"/><circle cx="792" cy="801" r="10.5"/><circle cx="1347" cy="263" r="10.5"/><circle cx="901" cy="638" r="10.5"/><circle cx="1045" cy="423.6" r="10.5"/><circle cx="1211" cy="379" r="10.5"/><circle cx="1100" cy="576" r="10.5"/><circle cx="1080" cy="483" r="10.5"/><circle cx="754" cy="849" r="10.5"/><circle cx="815.7" cy="807.3" r="10.5"/><circle cx="1000" cy="597" r="10.5"/><circle cx="831" cy="653" r="10.5"/><circle cx="980" cy="584" r="10.5"/><circle cx="1350" cy="242" r="10.5"/><circle cx="1357" cy="270" r="10.5"/><circle cx="1091" cy="459" r="10.5"/><circle cx="832" cy="775" r="10.5"/><circle cx="853" cy="709" r="10.5"/><circle cx="950" cy="549" r="10.5"/><circle cx="1088" cy="457" r="10.5"/><circle cx="1216.6" cy="467.1" r="10.5"/><circle cx="1285" cy="330" r="10.5"/><circle cx="1191" cy="460" r="10.5"/><circle cx="808" cy="706" r="10.5"/><circle cx="854" cy="715" r="10.5"/><circle cx="655.2" cy="880.6" r="10.5"/><circle cx="1124" cy="525" r="10.5"/><circle cx="695" cy="831" r="10.5"/><circle cx="1011" cy="572" r="10.5"/><circle cx="976" cy="543" r="10.5"/><circle cx="1114" cy="426" r="10.5"/><circle cx="1200" cy="395" r="10.5"/><circle cx="1443.4" cy="141" r="10.5"/><circle cx="1525.4" cy="124.4" r="10.5"/><circle cx="1000.9" cy="723.9" r="10.5"/><circle cx="1357" cy="241" r="10.5"/><circle cx="982" cy="504.4" r="10.5"/><circle cx="721" cy="778" r="10.5"/><circle cx="743" cy="752" r="10.5"/><circle cx="832" cy="743" r="10.5"/><circle cx="1076" cy="451" r="10.5"/><circle cx="946" cy="651" r="10.5"/><circle cx="947" cy="580" r="10.5"/><circle cx="1356" cy="256" r="10.5"/><circle cx="942" cy="573" r="10.5"/><circle cx="701" cy="818" r="10.5"/><circle cx="1002.2" cy="633.3" r="10.5"/><circle cx="1061" cy="556" r="10.5"/><circle cx="1059" cy="540" r="10.5"/><circle cx="712" cy="877" r="10.5"/><circle cx="1221" cy="336" r="10.5"/><circle cx="906" cy="597" r="10.5"/><circle cx="1365.4" cy="258.9" r="10.5"/><circle cx="826" cy="646" r="10.5"/><circle cx="1302" cy="297" r="10.5"/><circle cx="719" cy="779" r="10.5"/><circle cx="1184" cy="473" r="10.5"/><circle cx="1277" cy="329" r="10.5"/><circle cx="769" cy="784" r="10.5"/><circle cx="1404.7" cy="251.6" r="10.5"/><circle cx="1300" cy="301" r="10.5"/><circle cx="1167" cy="378" r="10.5"/><circle cx="1025" cy="614" r="10.5"/><circle cx="941" cy="610" r="10.5"/><circle cx="888" cy="691" r="10.5"/><circle cx="925" cy="593" r="10.5"/><circle cx="1210" cy="337" r="10.5"/><circle cx="1086" cy="443" r="10.5"/><circle cx="882" cy="633" r="10.5"/><circle cx="940" cy="649" r="10.5"/><circle cx="1236" cy="343" r="10.5"/><circle cx="888" cy="721" r="10.5"/><circle cx="831.2" cy="791.8" r="10.5"/><circle cx="759" cy="846" r="10.5"/><circle cx="1333" cy="299" r="10.5"/><circle cx="1199" cy="445" r="10.5"/><circle cx="787" cy="740" r="10.5"/><circle cx="694" cy="855" r="10.5"/><circle cx="1306" cy="237" r="10.5"/><circle cx="1120" cy="548" r="10.5"/><circle cx="1082" cy="589" r="10.5"/><circle cx="1250" cy="364" r="10.5"/><circle cx="1229" cy="369" r="10.5"/><circle cx="1258" cy="372" r="10.5"/><circle cx="935" cy="699" r="10.5"/><circle cx="1344" cy="256" r="10.5"/><circle cx="560.5" cy="1000.2" r="10.5"/><circle cx="947" cy="545" r="10.5"/><circle cx="665" cy="811" r="10.5"/><circle cx="904" cy="701" r="10.5"/><circle cx="576" cy="987.3" r="10.5"/><circle cx="1140" cy="420" r="10.5"/><circle cx="1271" cy="282" r="10.5"/><circle cx="721" cy="800" r="10.5"/><circle cx="921" cy="693" r="10.5"/><circle cx="885" cy="633" r="10.5"/><circle cx="755.3" cy="725.5" r="10.5"/><circle cx="1557.4" cy="54.6" r="10.5"/><circle cx="839" cy="696" r="10.5"/><circle cx="1107" cy="507" r="10.5"/><circle cx="936" cy="625" r="10.5"/><circle cx="1284" cy="308" r="10.5"/><circle cx="1073" cy="550" r="10.5"/><circle cx="1084" cy="411" r="10.5"/><circle cx="952" cy="569" r="10.5"/><circle cx="973" cy="627" r="10.5"/><circle cx="1134" cy="503" r="10.5"/><circle cx="1002" cy="553" r="10.5"/><circle cx="923" cy="711" r="10.5"/><circle cx="1188" cy="345" r="10.5"/><circle cx="1371" cy="232" r="10.5"/><circle cx="1212" cy="364" r="10.5"/><circle cx="648" cy="841" r="10.5"/><circle cx="1347" cy="239" r="10.5"/><circle cx="580.8" cy="959.8" r="10.5"/><circle cx="1161" cy="512" r="10.5"/><circle cx="784" cy="750" r="10.5"/><circle cx="702" cy="812" r="10.5"/><circle cx="1235" cy="405" r="10.5"/><circle cx="1184" cy="423" r="10.5"/><circle cx="790" cy="808" r="10.5"/><circle cx="966" cy="647" r="10.5"/><circle cx="1030" cy="469" r="10.5"/><circle cx="1078" cy="560" r="10.5"/><circle cx="1063" cy="525" r="10.5"/><circle cx="1234" cy="366" r="10.5"/><circle cx="629.3" cy="908.1" r="10.5"/><circle cx="1164" cy="487" r="10.5"/><circle cx="922" cy="587" r="10.5"/><circle cx="963" cy="638" r="10.5"/><circle cx="1098" cy="443" r="10.5"/><circle cx="1283" cy="356" r="10.5"/><circle cx="1135" cy="439" r="10.5"/><circle cx="1204.1" cy="464" r="10.5"/><circle cx="932" cy="630" r="10.5"/><circle cx="1072" cy="505" r="10.5"/><circle cx="946" cy="535" r="10.5"/><circle cx="703.8" cy="760.7" r="10.5"/><circle cx="763" cy="797" r="10.5"/><circle cx="1017" cy="513" r="10.5"/><circle cx="1104" cy="536" r="10.5"/><circle cx="1229" cy="429" r="10.5"/><circle cx="1034" cy="610" r="10.5"/><circle cx="1385" cy="236" r="10.5"/><circle cx="705.2" cy="754.6" r="10.5"/><circle cx="945" cy="650" r="10.5"/><circle cx="955" cy="574" r="10.5"/><circle cx="839" cy="797" r="10.5"/><circle cx="1043" cy="598" r="10.5"/><circle cx="1101" cy="412" r="10.5"/><circle cx="801" cy="705" r="10.5"/></g>
<g clip-path="url(#cl)"><path class="dl" stroke="#111111" stroke-dashoffset="0" d="M401.2 1132.5L1602.5 9.6"/></g>
<g class="p"><circle cx="613.1" cy="937.2" r="10.5"/><circle cx="651" cy="871" r="10.5"/><circle cx="1269" cy="277" r="10.5"/><circle cx="1147" cy="470" r="10.5"/><circle cx="827" cy="730" r="10.5"/><circle cx="1313" cy="240" r="10.5"/><circle cx="1208" cy="393" r="10.5"/><circle cx="1167" cy="461" r="10.5"/><circle cx="1308" cy="307" r="10.5"/><circle cx="634.1" cy="809.6" r="10.5"/><circle cx="1004" cy="521" r="10.5"/><circle cx="1116" cy="507" r="10.5"/><circle cx="958" cy="648" r="10.5"/><circle cx="1154" cy="476" r="10.5"/><circle cx="1251" cy="396" r="10.5"/><circle cx="776" cy="746" r="10.5"/><circle cx="1193" cy="441" r="10.5"/><circle cx="921.4" cy="561.8" r="10.5"/><circle cx="1007" cy="522" r="10.5"/><circle cx="1233" cy="410" r="10.5"/><circle cx="888" cy="657" r="10.5"/><circle cx="796" cy="704" r="10.5"/><circle cx="1356" cy="296" r="10.5"/><circle cx="796" cy="723" r="10.5"/><circle cx="850" cy="729" r="10.5"/><circle cx="658" cy="878" r="10.5"/><circle cx="850" cy="658" r="10.5"/><circle cx="992" cy="628" r="10.5"/><circle cx="846" cy="761" r="10.5"/><circle cx="1091" cy="488" r="10.5"/><circle cx="828" cy="758" r="10.5"/><circle cx="837" cy="757" r="10.5"/><circle cx="1319" cy="268" r="10.5"/><circle cx="1066" cy="465" r="10.5"/><circle cx="653" cy="864" r="10.5"/><circle cx="962" cy="614" r="10.5"/><circle cx="810" cy="715" r="10.5"/><circle cx="1231" cy="351" r="10.5"/><circle cx="493.6" cy="1028.3" r="10.5"/><circle cx="1063" cy="544" r="10.5"/><circle cx="1212" cy="318" r="10.5"/><circle cx="937" cy="620" r="10.5"/><circle cx="1049" cy="618" r="10.5"/><circle cx="1097" cy="529" r="10.5"/><circle cx="999" cy="551" r="10.5"/><circle cx="1190" cy="370" r="10.5"/><circle cx="735" cy="861" r="10.5"/><circle cx="1071" cy="557" r="10.5"/><circle cx="1090" cy="454" r="10.5"/><circle cx="845" cy="725" r="10.5"/><circle cx="1104" cy="473" r="10.5"/><circle cx="822" cy="762" r="10.5"/><circle cx="1174" cy="454" r="10.5"/><circle cx="1134" cy="481" r="10.5"/><circle cx="860" cy="631" r="10.5"/><circle cx="1130" cy="480" r="10.5"/><circle cx="884" cy="718" r="10.5"/><circle cx="810" cy="759" r="10.5"/><circle cx="798" cy="817" r="10.5"/><circle cx="1229" cy="347" r="10.5"/><circle cx="1204" cy="423" r="10.5"/><circle cx="1287" cy="253" r="10.5"/><circle cx="781" cy="780" r="10.5"/><circle cx="1149" cy="379" r="10.5"/><circle cx="768.2" cy="817.6" r="10.5"/><circle cx="1305" cy="272" r="10.5"/><circle cx="1187" cy="432" r="10.5"/><circle cx="756" cy="803" r="10.5"/><circle cx="1300" cy="313" r="10.5"/><circle cx="711" cy="822" r="10.5"/><circle cx="1210" cy="427" r="10.5"/><circle cx="1344" cy="249" r="10.5"/><circle cx="996" cy="528" r="10.5"/><circle cx="1193" cy="427" r="10.5"/><circle cx="1104" cy="559" r="10.5"/><circle cx="937" cy="667" r="10.5"/><circle cx="872.3" cy="854.1" r="10.5"/><circle cx="1176.2" cy="490.4" r="10.5"/><circle cx="944" cy="618" r="10.5"/><circle cx="984" cy="522" r="10.5"/><circle cx="816.7" cy="649.6" r="10.5"/><circle cx="726" cy="764" r="10.5"/><circle cx="1224" cy="369" r="10.5"/><circle cx="817" cy="803" r="10.5"/><circle cx="1259" cy="315" r="10.5"/><circle cx="946" cy="676" r="10.5"/><circle cx="908.9" cy="729.7" r="10.5"/><circle cx="873" cy="705" r="10.5"/><circle cx="1011" cy="509" r="10.5"/><circle cx="818" cy="754" r="10.5"/><circle cx="870" cy="626" r="10.5"/><circle cx="1058" cy="545" r="10.5"/><circle cx="1183" cy="364" r="10.5"/><circle cx="1131" cy="467" r="10.5"/><circle cx="725" cy="838" r="10.5"/><circle cx="703" cy="822" r="10.5"/><circle cx="862" cy="737" r="10.5"/><circle cx="1200" cy="454" r="10.5"/><circle cx="1058" cy="582" r="10.5"/><circle cx="1195" cy="471" r="10.5"/><circle cx="1092" cy="519" r="10.5"/><circle cx="1285" cy="292" r="10.5"/><circle cx="899" cy="715" r="10.5"/><circle cx="989" cy="548" r="10.5"/><circle cx="1026" cy="597" r="10.5"/><circle cx="1284" cy="285" r="10.5"/><circle cx="1338" cy="249" r="10.5"/><circle cx="696" cy="855" r="10.5"/><circle cx="989" cy="530" r="10.5"/><circle cx="1226.6" cy="285" r="10.5"/><circle cx="987" cy="642" r="10.5"/><circle cx="1113" cy="510" r="10.5"/><circle cx="759" cy="810" r="10.5"/><circle cx="887" cy="723" r="10.5"/><circle cx="800" cy="786" r="10.5"/><circle cx="1135" cy="425" r="10.5"/><circle cx="799" cy="760" r="10.5"/><circle cx="892" cy="605" r="10.5"/><circle cx="1008" cy="587" r="10.5"/><circle cx="1008" cy="498" r="10.5"/><circle cx="1236" cy="401" r="10.5"/><circle cx="819" cy="696" r="10.5"/><circle cx="1281" cy="273.4" r="10.5"/><circle cx="714" cy="864" r="10.5"/><circle cx="703" cy="882" r="10.5"/><circle cx="1289" cy="269" r="10.5"/><circle cx="880" cy="641" r="10.5"/><circle cx="1108" cy="422" r="10.5"/><circle cx="899" cy="694" r="10.5"/><circle cx="857.1" cy="807.9" r="10.5"/><circle cx="999" cy="608" r="10.5"/><circle cx="1299" cy="274" r="10.5"/><circle cx="885" cy="717" r="10.5"/><circle cx="1100" cy="550" r="10.5"/><circle cx="1104" cy="486" r="10.5"/><circle cx="1200" cy="415" r="10.5"/><circle cx="1011" cy="580" r="10.5"/><circle cx="753" cy="763" r="10.5"/><circle cx="1247" cy="430" r="10.5"/><circle cx="1116" cy="522" r="10.5"/><circle cx="1252" cy="363" r="10.5"/><circle cx="1356" cy="235" r="10.5"/><circle cx="644" cy="833" r="10.5"/><circle cx="1140" cy="452" r="10.5"/><circle cx="1208" cy="362" r="10.5"/><circle cx="1309" cy="276" r="10.5"/><circle cx="799" cy="753" r="10.5"/><circle cx="1282" cy="317" r="10.5"/><circle cx="678" cy="814" r="10.5"/><circle cx="764" cy="798" r="10.5"/><circle cx="1339" cy="301" r="10.5"/><circle cx="1012" cy="541" r="10.5"/><circle cx="853" cy="756" r="10.5"/><circle cx="1142" cy="493" r="10.5"/><circle cx="1280" cy="282" r="10.5"/><circle cx="1150" cy="469" r="10.5"/><circle cx="968" cy="524.6" r="10.5"/><circle cx="1150" cy="437" r="10.5"/><circle cx="684" cy="831" r="10.5"/><circle cx="1130" cy="509" r="10.5"/><circle cx="1104" cy="492" r="10.5"/><circle cx="1101" cy="467" r="10.5"/><circle cx="1325" cy="245" r="10.5"/><circle cx="1136" cy="484" r="10.5"/><circle cx="1152" cy="476" r="10.5"/><circle cx="727" cy="799" r="10.5"/><circle cx="793" cy="792" r="10.5"/><circle cx="1141" cy="443" r="10.5"/><circle cx="1175" cy="444" r="10.5"/><circle cx="1360" cy="256" r="10.5"/><circle cx="935" cy="595" r="10.5"/><circle cx="1064" cy="501" r="10.5"/><circle cx="751" cy="841" r="10.5"/><circle cx="835.3" cy="579.9" r="10.5"/><circle cx="921" cy="638" r="10.5"/><circle cx="1266" cy="380" r="10.5"/><circle cx="1365" cy="266" r="10.5"/><circle cx="846.8" cy="791.8" r="10.5"/><circle cx="965" cy="639" r="10.5"/><circle cx="1175" cy="381" r="10.5"/><circle cx="863.6" cy="778.9" r="10.5"/><circle cx="1218" cy="315" r="10.5"/><circle cx="1040" cy="577" r="10.5"/><circle cx="1313" cy="306" r="10.5"/><circle cx="972" cy="648" r="10.5"/><circle cx="845" cy="764" r="10.5"/><circle cx="1166" cy="370" r="10.5"/><circle cx="1153" cy="386" r="10.5"/><circle cx="687.5" cy="710.4" r="10.5"/><circle cx="1138" cy="458" r="10.5"/><circle cx="931" cy="615" r="10.5"/><circle cx="885" cy="680" r="10.5"/><circle cx="1102" cy="539" r="10.5"/><circle cx="1134" cy="490" r="10.5"/><circle cx="1247" cy="380" r="10.5"/><circle cx="919" cy="642" r="10.5"/><circle cx="849" cy="653" r="10.5"/><circle cx="750.4" cy="847.7" r="10.5"/><circle cx="1016" cy="561" r="10.5"/><circle cx="1093" cy="467" r="10.5"/><circle cx="1118" cy="520" r="10.5"/><circle cx="1272.3" cy="386.9" r="10.5"/><circle cx="911" cy="695" r="10.5"/><circle cx="767" cy="786" r="10.5"/><circle cx="1121" cy="451" r="10.5"/><circle cx="911" cy="633" r="10.5"/><circle cx="772" cy="744" r="10.5"/><circle cx="1013" cy="546" r="10.5"/><circle cx="822" cy="780" r="10.5"/><circle cx="1253" cy="317" r="10.5"/><circle cx="852" cy="695" r="10.5"/><circle cx="735" cy="774" r="10.5"/><circle cx="734" cy="838" r="10.5"/><circle cx="1089.2" cy="605.4" r="10.5"/><circle cx="905" cy="700" r="10.5"/><circle cx="1008" cy="620" r="10.5"/><circle cx="1388" cy="249" r="10.5"/><circle cx="1066" cy="476" r="10.5"/><circle cx="1248" cy="318" r="10.5"/><circle cx="695" cy="882" r="10.5"/><circle cx="1302" cy="323" r="10.5"/><circle cx="880" cy="696" r="10.5"/><circle cx="1366" cy="261" r="10.5"/><circle cx="1231" cy="374" r="10.5"/><circle cx="1113" cy="519" r="10.5"/><circle cx="737" cy="785" r="10.5"/><circle cx="975" cy="600" r="10.5"/><circle cx="1182" cy="398" r="10.5"/><circle cx="898" cy="594" r="10.5"/><circle cx="996" cy="565" r="10.5"/><circle cx="970" cy="535" r="10.5"/><circle cx="873" cy="727" r="10.5"/><circle cx="1111" cy="509" r="10.5"/><circle cx="833" cy="751" r="10.5"/><circle cx="1000" cy="622" r="10.5"/><circle cx="888" cy="635" r="10.5"/><circle cx="790" cy="800" r="10.5"/><circle cx="934" cy="666" r="10.5"/><circle cx="739" cy="810" r="10.5"/><circle cx="1232" cy="307" r="10.5"/><circle cx="675" cy="814" r="10.5"/><circle cx="991" cy="566" r="10.5"/><circle cx="1351" cy="277" r="10.5"/><circle cx="951" cy="589" r="10.5"/><circle cx="823" cy="773" r="10.5"/><circle cx="1328" cy="291" r="10.5"/><circle cx="1137" cy="450" r="10.5"/><circle cx="895" cy="612" r="10.5"/><circle cx="1119" cy="431" r="10.5"/><circle cx="1094" cy="580" r="10.5"/><circle cx="1260" cy="329" r="10.5"/><circle cx="1066" cy="455" r="10.5"/><circle cx="1160" cy="414" r="10.5"/><circle cx="1301.4" cy="270.5" r="10.5"/><circle cx="556.6" cy="980.8" r="10.5"/><circle cx="943" cy="563" r="10.5"/><circle cx="703" cy="851" r="10.5"/><circle cx="892" cy="698" r="10.5"/><circle cx="1285" cy="340" r="10.5"/><circle cx="1067" cy="442" r="10.5"/><circle cx="616.4" cy="922.6" r="10.5"/><circle cx="1051" cy="592" r="10.5"/><circle cx="1223" cy="416" r="10.5"/><circle cx="1205" cy="435" r="10.5"/><circle cx="737" cy="816" r="10.5"/><circle cx="1113" cy="449" r="10.5"/><circle cx="1107" cy="557" r="10.5"/><circle cx="809" cy="722" r="10.5"/><circle cx="1299" cy="332" r="10.5"/><circle cx="826" cy="791" r="10.5"/><circle cx="711" cy="778" r="10.5"/><circle cx="829" cy="712" r="10.5"/><circle cx="708" cy="794" r="10.5"/><circle cx="717" cy="854" r="10.5"/><circle cx="813" cy="686" r="10.5"/><circle cx="795.7" cy="673.9" r="10.5"/><circle cx="1252" cy="343" r="10.5"/><circle cx="768" cy="791" r="10.5"/><circle cx="1157" cy="393" r="10.5"/><circle cx="922" cy="587" r="10.5"/><circle cx="1030" cy="518" r="10.5"/><circle cx="1145" cy="521" r="10.5"/><circle cx="1198" cy="331" r="10.5"/><circle cx="1280" cy="310" r="10.5"/><circle cx="1095.4" cy="574.3" r="10.5"/><circle cx="1030.1" cy="471.7" r="10.5"/><circle cx="1107" cy="508" r="10.5"/><circle cx="1183" cy="442" r="10.5"/><circle cx="784" cy="723" r="10.5"/><circle cx="905" cy="591" r="10.5"/><circle cx="730" cy="848" r="10.5"/><circle cx="998" cy="646" r="10.5"/><circle cx="803" cy="771" r="10.5"/><circle cx="691" cy="874" r="10.5"/><circle cx="1027" cy="568" r="10.5"/><circle cx="1108" cy="432" r="10.5"/><circle cx="694" cy="863" r="10.5"/><circle cx="1289" cy="321" r="10.5"/><circle cx="1164.6" cy="363.6" r="10.5"/><circle cx="1180" cy="380" r="10.5"/><circle cx="830" cy="755" r="10.5"/><circle cx="1006" cy="566" r="10.5"/><circle cx="1165" cy="472" r="10.5"/><circle cx="708" cy="866" r="10.5"/><circle cx="989" cy="566" r="10.5"/><circle cx="1026" cy="519" r="10.5"/><circle cx="1147" cy="392" r="10.5"/><circle cx="950" cy="568" r="10.5"/><circle cx="1020.8" cy="617.8" r="10.5"/><circle cx="888" cy="739" r="10.5"/><circle cx="868" cy="734" r="10.5"/><circle cx="1351" cy="259" r="10.5"/><circle cx="810" cy="693" r="10.5"/><circle cx="853" cy="685" r="10.5"/><circle cx="1058" cy="542" r="10.5"/><circle cx="748.2" cy="682.6" r="10.5"/><circle cx="1012" cy="582" r="10.5"/><circle cx="866" cy="665" r="10.5"/><circle cx="1024" cy="624" r="10.5"/><circle cx="1126" cy="457" r="10.5"/><circle cx="685.8" cy="890.3" r="10.5"/><circle cx="836" cy="746" r="10.5"/><circle cx="1043.2" cy="659.1" r="10.5"/><circle cx="1149" cy="497" r="10.5"/><circle cx="1221" cy="342" r="10.5"/><circle cx="714" cy="786" r="10.5"/><circle cx="965" cy="643" r="10.5"/><circle cx="699" cy="855" r="10.5"/><circle cx="1231" cy="412" r="10.5"/><circle cx="1235" cy="361" r="10.5"/><circle cx="602.8" cy="977.6" r="10.5"/><circle cx="681" cy="782" r="10.5"/><circle cx="777" cy="745" r="10.5"/><circle cx="1114" cy="554" r="10.5"/><circle cx="959" cy="648" r="10.5"/><circle cx="896" cy="596" r="10.5"/><circle cx="1048.8" cy="459.3" r="10.5"/><circle cx="660" cy="799.9" r="10.5"/><circle cx="1311.6" cy="334.5" r="10.5"/><circle cx="1151" cy="453" r="10.5"/><circle cx="751" cy="815" r="10.5"/><circle cx="1138" cy="437" r="10.5"/><circle cx="1010" cy="525" r="10.5"/><circle cx="1366.9" cy="213.8" r="10.5"/><circle cx="863" cy="696" r="10.5"/><circle cx="948" cy="624" r="10.5"/><circle cx="1212" cy="356" r="10.5"/><circle cx="1351" cy="282" r="10.5"/><circle cx="805" cy="761" r="10.5"/><circle cx="1050" cy="577" r="10.5"/><circle cx="1273" cy="359" r="10.5"/><circle cx="1267" cy="339" r="10.5"/><circle cx="744" cy="772" r="10.5"/><circle cx="750" cy="789" r="10.5"/><circle cx="1115" cy="460" r="10.5"/><circle cx="484.6" cy="1035.7" r="10.5"/><circle cx="1183" cy="378" r="10.5"/><circle cx="1241" cy="320" r="10.5"/><circle cx="1364" cy="263" r="10.5"/><circle cx="1198" cy="393" r="10.5"/><circle cx="1032" cy="540" r="10.5"/><circle cx="813" cy="747" r="10.5"/><circle cx="1346" cy="232" r="10.5"/><circle cx="745" cy="847" r="10.5"/><circle cx="1312" cy="280" r="10.5"/><circle cx="751" cy="839" r="10.5"/><circle cx="1319" cy="264" r="10.5"/><circle cx="789" cy="710" r="10.5"/><circle cx="1042" cy="551" r="10.5"/><circle cx="1282.5" cy="255.9" r="10.5"/><circle cx="1296" cy="315" r="10.5"/><circle cx="940" cy="557" r="10.5"/><circle cx="1173" cy="399" r="10.5"/><circle cx="852" cy="666" r="10.5"/><circle cx="1378" cy="251" r="10.5"/><circle cx="1185" cy="412" r="10.5"/><circle cx="792" cy="695" r="10.5"/><circle cx="1338" cy="294" r="10.5"/><circle cx="1094" cy="415" r="10.5"/><circle cx="833" cy="764" r="10.5"/><circle cx="1346.5" cy="363.6" r="10.5"/><circle cx="1178" cy="454" r="10.5"/><circle cx="890" cy="696" r="10.5"/><circle cx="836" cy="733" r="10.5"/><circle cx="1347" cy="308" r="10.5"/><circle cx="723" cy="764.3" r="10.5"/><circle cx="973" cy="609" r="10.5"/><circle cx="1176" cy="429" r="10.5"/><circle cx="1084" cy="450" r="10.5"/><circle cx="1210" cy="388" r="10.5"/><circle cx="1029" cy="602" r="10.5"/><circle cx="1185" cy="462" r="10.5"/><circle cx="1048" cy="484" r="10.5"/><circle cx="1016" cy="569" r="10.5"/><circle cx="1355" cy="212" r="10.5"/><circle cx="882" cy="657" r="10.5"/><circle cx="924" cy="678" r="10.5"/><circle cx="997" cy="530" r="10.5"/><circle cx="1140" cy="469" r="10.5"/><circle cx="786" cy="753" r="10.5"/><circle cx="690" cy="790" r="10.5"/><circle cx="1222.8" cy="440.7" r="10.5"/><circle cx="963" cy="523" r="10.5"/><circle cx="913" cy="675" r="10.5"/><circle cx="1130" cy="427" r="10.5"/><circle cx="731" cy="785" r="10.5"/><circle cx="1086" cy="539" r="10.5"/><circle cx="1072" cy="598" r="10.5"/><circle cx="1122" cy="550" r="10.5"/><circle cx="742.4" cy="853.2" r="10.5"/><circle cx="1083" cy="611.6" r="10.5"/><circle cx="993" cy="588" r="10.5"/><circle cx="1309" cy="331" r="10.5"/><circle cx="1055" cy="562" r="10.5"/><circle cx="1333" cy="251" r="10.5"/><circle cx="786" cy="717" r="10.5"/><circle cx="937" cy="686" r="10.5"/><circle cx="1109" cy="421" r="10.5"/><circle cx="1243" cy="339" r="10.5"/></g>
<g clip-path="url(#cl)">
<path class="dl" stroke="#314da0" stroke-dashoffset="0" d="M401.2 1079.3L1602.5 -43.7"/>
<path class="dl" stroke="#314da0" stroke-dashoffset="-3.8" d="M457.3 1133.5L1602.5 63.1"/>
<path class="dl" stroke="#357f3e" stroke-dashoffset="6.6" d="M401.2 1025.3L1602.5 -99.0"/>
<path class="dl" stroke="#357f3e" stroke-dashoffset="0" d="M513.4 1133.8L1602.5 117.5"/>
</g>
<path d="M402 1130.6H607M1133 1130.6H1205M1477 1130.6H1568" stroke="#cfcfcf" stroke-width="1" fill="none"/>
<rect class="ax" x="400.5" y="29.5" width="1181.0" height="1106.0"/>
<path class="tk" d="M457.3 1134.5v-16.5M401.5 1083.3h16.5M681.9 1134.5v-16.5M401.5 872.9h16.5M906.4 1134.5v-16.5M401.5 662.6h16.5M1131.0 1134.5v-16.5M401.5 452.2h16.5M1355.5 1134.5v-16.5M401.5 241.9h16.5"/>
<text x="381.0" y="1099.5" text-anchor="end">1400</text>
<text x="381.0" y="889.1" text-anchor="end">1420</text>
<text x="381.0" y="678.8" text-anchor="end">1440</text>
<text x="381.0" y="468.4" text-anchor="end">1460</text>
<text x="381.0" y="258.1" text-anchor="end">1480</text>
<text x="381.0" y="47.7" text-anchor="end">1500</text>
<text x="460.8" y="1195.8" text-anchor="middle">1400</text>
<text x="685.1" y="1195.8" text-anchor="middle">1420</text>
<text x="909.3" y="1195.8" text-anchor="middle">1440</text>
<text x="1133.5" y="1195.8" text-anchor="middle">1460</text>
<text x="1357.8" y="1195.8" text-anchor="middle">1480</text>
<text x="1582.0" y="1195.8" text-anchor="middle">1500</text>
<text x="813.8" y="1280.4">Actual value/<tspan class="c" dx="4">℃</tspan></text>
<text transform="translate(224.8,788.6) rotate(-90)">Predicted value/<tspan class="c" dx="4">℃</tspan></text>
<text x="421.0" y="88.8">(d)</text>
<circle cx="552.5" cy="77.8" r="11.3" fill="#aadcc5" stroke="#141414" stroke-width="2.8"/>
<text x="590.6" y="92.2">Attention-LSTM</text>
</g>
</svg></body></html>
